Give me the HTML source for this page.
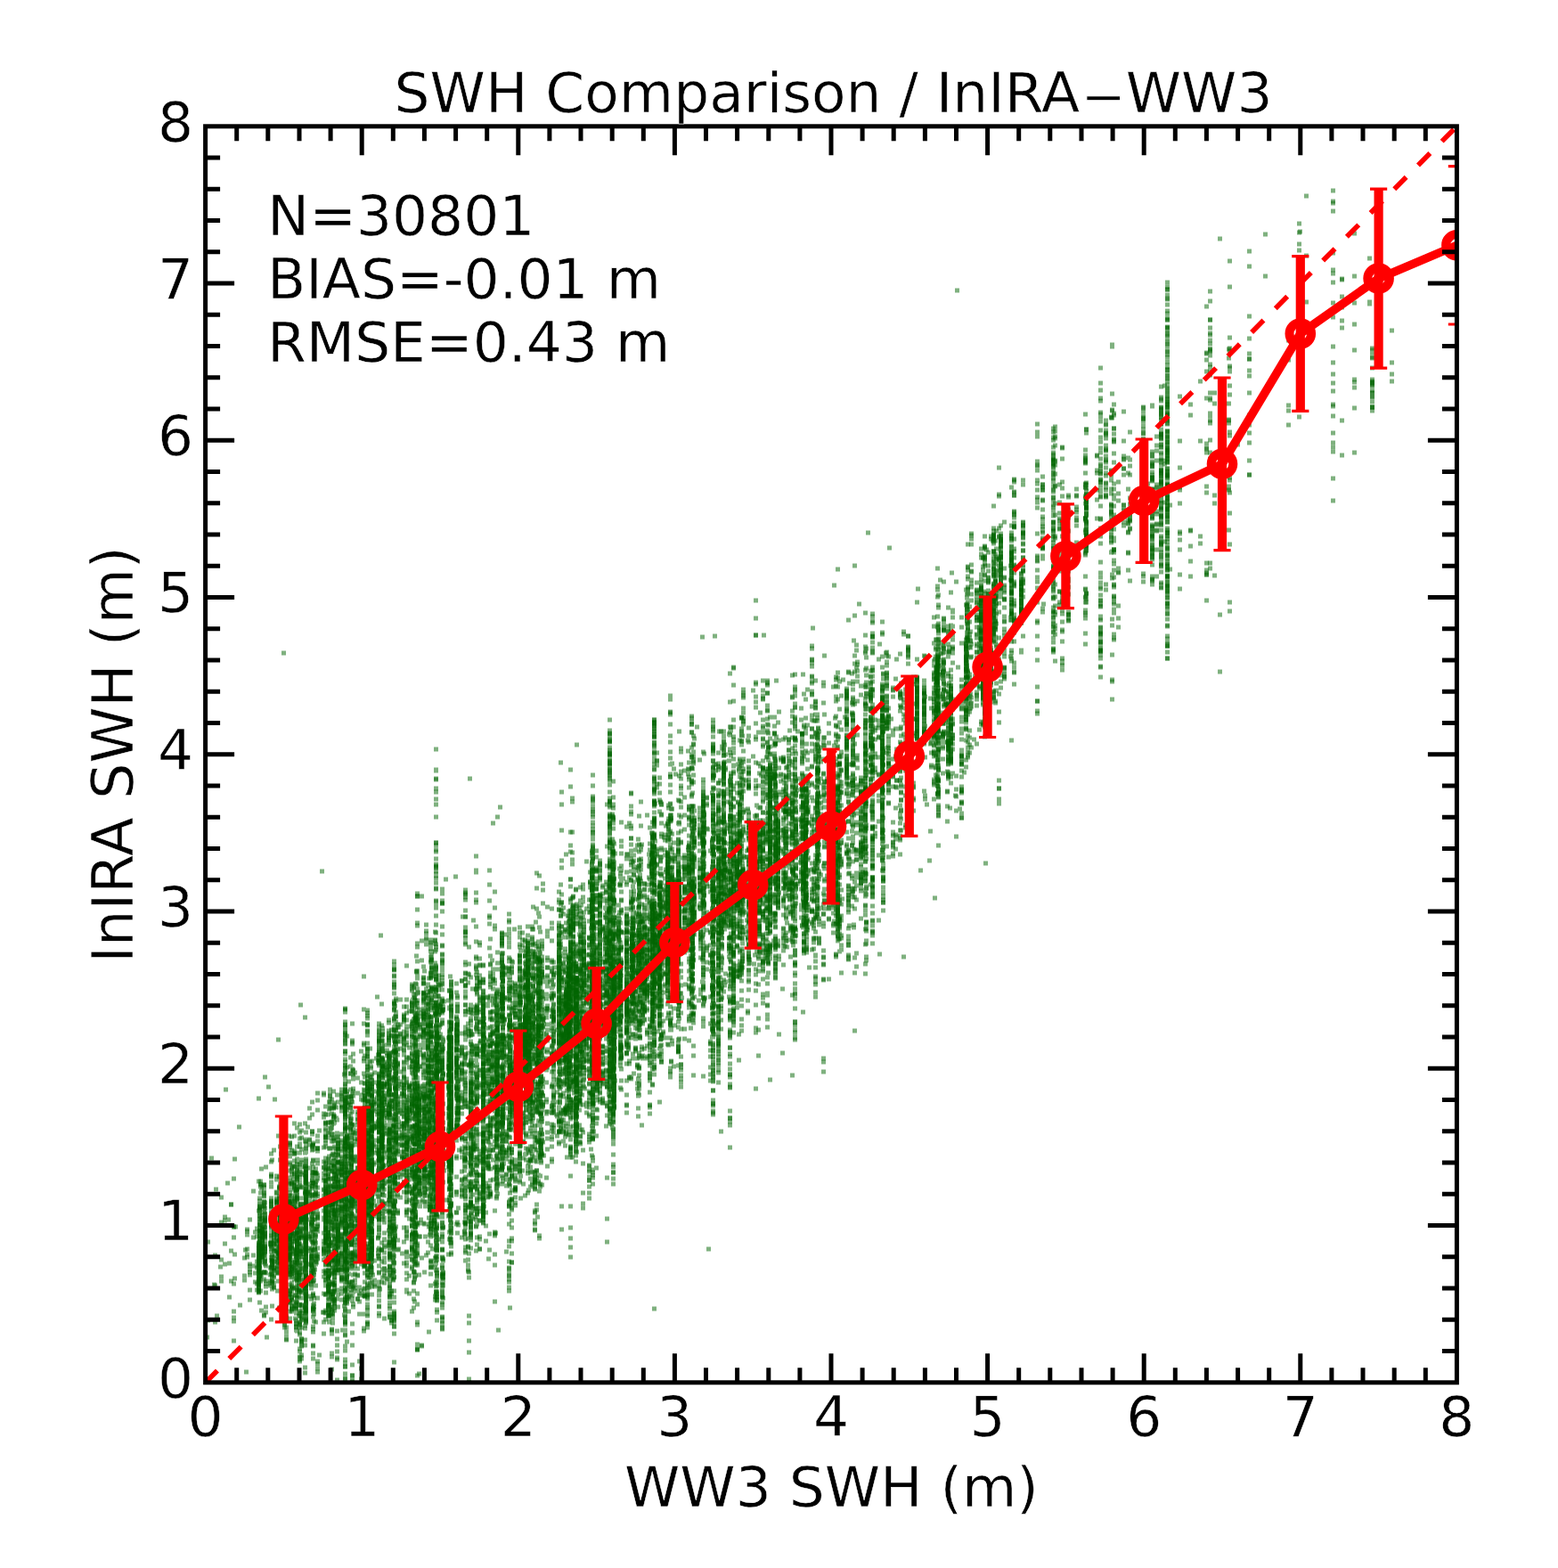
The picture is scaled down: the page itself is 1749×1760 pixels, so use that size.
<!DOCTYPE html><html><head><meta charset="utf-8"><title>SWH Comparison</title><style>html,body{margin:0;padding:0;background:#fff;overflow:hidden}svg{display:block}</style></head><body><svg xmlns="http://www.w3.org/2000/svg" width="1749" height="1760" viewBox="0 0 1749 1760"><defs><clipPath id="ax"><rect x="230.6" y="141.8" width="1404.8" height="1410"/></clipPath></defs><rect width="100%" height="100%" fill="#fff"/><g><g clip-path="url(#ax)"><g stroke="#006400" stroke-width="5" stroke-opacity="0.5" fill="none"><path d="M245 1422h5m5 -4h5m-5 38h5m0 -133h5m-5 54h5m-5 106h5m10 -101h5m-2 -13h5m-5 52h5m3 2h5m-5 18h5m-3 -208h5m-5 168h5m-5 6h5m-5 3h5m-5 12h5m-5 3h5m-5 2h5m-5 3h5m-5 3h5m-5 1h5m-5 5h5m-5 3h5m-5 6h5m-5 1h5m-4 -95h5m-5 1h5m-5 26h5m-5 9h5m-5 1h5m-5 15h5m-5 2h5m-5 7h5m-4 -2h5m-4 -12h5m-5 30h5m-4 -48h5m-5 1h5m-5 11h5m-5 1h5m-5 1h5m-5 8h5m-5 4h5m-3 -55h5m-5 0h5m-4 16h5m-5 17h5m-5 18h5m-5 14h5m1 4h5m-5 20h5m-4 -94h5m-5 13h5m-5 8h5m-5 1h5m-5 5h5m-5 20h5m-5 3h5m-5 6h5m-5 6h5m-5 16h5m-5 0h5m-4 -25h5m-5 41h5m-3 -66h5m-5 9h5m-5 6h5m-5 34h5m-5 1h5m-5 13h5m-4 -206h5m-3 111h5m-5 5h5m-5 12h5m-3 37h5m-5 5h5m-5 10h5m-4 -53h5m-5 14h5m-4 -16h5m-5 7h5m-5 8h5m-5 4h5m-5 5h5m-5 1h5m-5 8h5m-5 17h5m-5 2h5m-5 5h5m-1 -48h5m-5 11h5m-4 -69h5m-5 5h5m-5 2h5m-5 12h5m-5 5h5m-5 2h5m-5 2h5m-5 4h5m-5 8h5m-5 5h5m-5 2h5m-5 3h5m-5 4h5m-5 5h5m-5 2h5m-5 5h5m-5 2h5m-5 3h5m-5 5h5m-5 2h5m-5 16h5m-5 2h5m-5 1h5m-5 3h5m-5 4h5m-5 6h5m-5 2h5m-4 -43h5m-4 -32h5m-5 35h5m-5 3h5m-5 4h5m-5 4h5m-5 33h5m-5 2h5m-5 37h5m-5 4h5m-5 13h5m-2 -134h5m-5 8h5m-5 9h5m-5 22h5m-5 2h5m-5 17h5m-5 5h5m-5 51h5m-4 -177h5m-5 37h5m-5 38h5m-5 6h5m-5 4h5m-5 0h5m-5 2h5m-5 1h5m-5 2h5m-5 9h5m-5 17h5m-5 4h5m-5 47h5m-5 7h5m-3 -87h5m-5 12h5m-5 5h5m-5 5h5m-5 23h5m-5 1h5m-5 3h5m-5 35h5m-5 8h5m-5 3h5m-5 2h5m-3 -40h5m-4 -168h5m-5 34h5m-5 0h5m-5 8h5m-5 7h5m-5 114h5m-4 -22h5m-4 -63h5m-5 96h5m-5 51h5m-5 7h5m-4 -183h5m-5 27h5m-5 2h5m-5 1h5m-5 5h5m-5 1h5m-5 1h5m-5 14h5m-5 2h5m-5 8h5m-5 21h5m-5 8h5m-5 5h5m-5 23h5m-5 22h5m-5 44h5m-3 -105h5m-5 17h5m-5 30h5m-5 13h5m-4 -118h5m-5 1h5m-5 99h5m-5 86h5m-4 -165h5m-5 1h5m-5 4h5m-5 12h5m-5 36h5m-5 2h5m-4 -18h5m-5 62h5m-5 30h5m-5 25h5m-1 -212h5m-5 58h5m-5 4h5m-5 1h5m-5 9h5m-5 8h5m-5 21h5m-5 20h5m-5 0h5m-5 34h5m-5 55h5m-4 -212h5m-5 1h5m-5 8h5m-5 14h5m-5 4h5m-5 6h5m-5 2h5m-5 1h5m-5 10h5m-5 6h5m-5 1h5m-5 30h5m-5 3h5m-5 14h5m-5 4h5m-5 4h5m-5 5h5m-5 2h5m-5 15h5m-5 14h5m-5 1h5m-5 4h5m-5 11h5m-5 6h5m-5 4h5m-5 3h5m-5 4h5m-5 3h5m-5 2h5m-5 5h5m-3 -121h5m-3 -114h5m-3 132h5m-5 50h5m-5 8h5m-5 4h5m-5 20h5m-4 -152h5m-5 36h5m-5 68h5m-4 -125h5m-5 17h5m-5 26h5m-5 26h5m-5 9h5m-5 156h5m-4 -91h5m-5 9h5m-4 -121h5m-5 13h5m-4 51h5m-5 29h5m-5 75h5m-3 -209h5m-5 14h5m-5 13h5m-5 41h5m-5 23h5m-5 42h5m-5 120h5m1 -55h5m-4 -244h5m-5 96h5m-5 17h5m-5 42h5m-5 100h5m-3 -242h5m-5 9h5m-5 79h5m-5 11h5m-5 0h5m-5 1h5m-5 2h5m-5 6h5m-5 6h5m-5 3h5m-5 7h5m-5 2h5m-5 22h5m-5 4h5m-5 0h5m-5 12h5m-5 31h5m-2 -105h5m-5 11h5m-5 6h5m-5 12h5m-5 25h5m-5 9h5m-5 20h5m-5 11h5m-5 18h5m-5 8h5m-5 13h5m-5 5h5m-5 7h5m-4 -232h5m-5 53h5m-5 5h5m-5 0h5m-5 2h5m-5 7h5m-5 60h5m-5 40h5m-5 29h5m-5 17h5m-4 -198h5m-5 29h5m-5 55h5m-5 55h5m-5 13h5m-4 46h5m-4 -224h5m-5 39h5m-5 66h5m-5 26h5m-5 7h5m-5 7h5m-5 51h5m-5 89h5m-4 -216h5m-5 52h5m-5 84h5m-4 -214h5m-5 81h5m-5 34h5m-5 19h5m-4 -72h5m-5 35h5m-5 0h5m-5 10h5m-5 10h5m-5 17h5m-5 29h5m-5 38h5m-5 18h5m-5 3h5m-5 11h5m-4 -107h5m-4 -108h5m-5 82h5m-5 22h5m-5 63h5m-5 10h5m-4 6h5m-4 -139h5m-5 2h5m-5 8h5m-5 8h5m-5 0h5m-5 7h5m-5 12h5m-5 8h5m-5 2h5m-5 5h5m-5 1h5m-5 15h5m-5 20h5m-5 4h5m-5 10h5m-5 3h5m-5 0h5m-5 2h5m-5 0h5m-5 5h5m-5 14h5m-5 5h5m-1 -145h5m-5 31h5m-5 5h5m-5 2h5m-5 26h5m-5 3h5m-5 8h5m-5 10h5m-5 3h5m-5 2h5m-5 5h5m-5 17h5m-5 6h5m-5 16h5m-5 13h5m-5 16h5m-2 -230h5m-5 97h5m-4 -123h5m-5 36h5m-5 12h5m-5 15h5m-5 4h5m-5 7h5m-5 24h5m-5 21h5m-5 1h5m-5 1h5m-5 55h5m-5 3h5m-5 2h5m-5 3h5m-5 6h5m-5 9h5m-5 25h5m-5 31h5m-5 13h5m-5 2h5m-5 8h5m-5 26h5m-5 50h5m-5 18h5m-4 -213h5m-5 7h5m-5 19h5m-5 40h5m-5 25h5m-4 -267h5m-5 65h5m-5 38h5m-5 0h5m-5 50h5m-5 13h5m-5 0h5m-5 25h5m-5 8h5m-5 42h5m-5 1h5m-5 12h5m-5 15h5m-5 1h5m-4 -144h5m-5 34h5m-5 69h5m-5 66h5m-4 -173h5m-5 43h5m-5 5h5m-5 31h5m-5 43h5m-3 -210h5m-5 34h5m-5 27h5m-5 8h5m-5 29h5m-5 8h5m-5 65h5m-5 29h5m-4 -134h5m-5 30h5m-5 0h5m-5 15h5m-5 14h5m-5 40h5m-5 20h5m-5 29h5m-5 40h5m-4 -279h5m-5 28h5m-5 37h5m-5 49h5m-5 51h5m-5 9h5m-5 48h5m-5 60h5m-5 97h5m-4 -329h5m-5 224h5m-5 4h5m-5 17h5m-3 -152h5m-5 12h5m-5 13h5m-5 2h5m-5 35h5m-5 20h5m-5 12h5m-5 21h5m-2 -179h5m-5 60h5m-5 113h5m-3 -138h5m-5 48h5m-5 4h5m-5 0h5m-5 21h5m-5 1h5m-5 13h5m-3 -158h5m-5 85h5m-5 30h5m-5 119h5m-3 -104h5m-5 10h5m-5 1h5m-5 0h5m-5 11h5m-5 3h5m-5 1h5m-4 -86h5m-4 -61h5m-5 6h5m-5 4h5m-5 7h5m-5 38h5m-5 9h5m-5 6h5m-5 41h5m-5 37h5m-5 7h5m-5 29h5m-2 -268h5m-5 11h5m-5 27h5m-5 8h5m-5 8h5m-5 30h5m-5 29h5m-5 46h5m-5 8h5m-5 0h5m-5 7h5m-5 8h5m-5 10h5m-5 2h5m-5 4h5m-5 105h5m-5 10h5m-5 31h5m-4 -258h5m-5 18h5m-5 8h5m-5 17h5m-5 10h5m-5 10h5m-5 4h5m-5 2h5m-5 28h5m-5 3h5m-5 13h5m-5 9h5m-5 8h5m-5 33h5m-4 -147h5m-5 158h5m-4 -171h5m-5 167h5m-5 2h5m-5 23h5m-4 -145h5m-5 7h5m-5 7h5m-5 21h5m-5 0h5m-5 8h5m-5 14h5m-5 12h5m-5 10h5m-5 15h5m-5 9h5m-5 11h5m-5 18h5m-5 15h5m-4 -211h5m-5 1h5m-5 4h5m-5 24h5m-5 12h5m-5 5h5m-5 7h5m-5 2h5m-5 8h5m-5 4h5m-5 4h5m-5 10h5m-5 9h5m-5 2h5m-5 0h5m-5 1h5m-5 8h5m-5 5h5m-5 3h5m-5 3h5m-5 6h5m-5 4h5m-5 2h5m-5 0h5m-5 24h5m-5 6h5m-5 2h5m-5 18h5m-5 13h5m-5 5h5m-5 4h5m-5 20h5m-5 11h5m-5 5h5m-5 9h5m-3 -173h5m-4 -76h5m-5 158h5m-2 -111h5m-4 -61h5m-5 29h5m-5 76h5m-5 41h5m-5 7h5m-4 -185h5m-5 25h5m-5 13h5m-5 10h5m-5 9h5m-5 14h5m-5 28h5m-5 4h5m-5 4h5m-5 32h5m-5 7h5m-5 18h5m-5 27h5m-5 14h5m-5 12h5m-5 26h5m-5 12h5m-3 -363h5m-4 101h5m-5 12h5m-5 24h5m-5 16h5m-5 46h5m-5 3h5m-5 4h5m-5 1h5m-5 4h5m-5 2h5m-5 0h5m-5 6h5m-5 9h5m-5 6h5m-5 1h5m-5 15h5m-5 28h5m-5 4h5m-4 -153h5m-5 1h5m-5 19h5m-5 11h5m-5 23h5m-5 41h5m-5 50h5m-5 2h5m-5 5h5m-5 22h5m-5 16h5m-4 -60h5m-4 20h5m-5 151h5m-2 -279h5m-5 3h5m-5 2h5m-5 11h5m-5 3h5m-5 34h5m-5 181h5m-3 -238h5m-5 7h5m-5 14h5m-5 29h5m-5 4h5m-5 66h5m-5 43h5m-5 21h5m-4 -186h5m-5 63h5m-5 9h5m-5 5h5m-5 1h5m-5 10h5m-5 8h5m-5 26h5m-5 2h5m-5 18h5m-5 7h5m-5 4h5m-5 24h5m-5 3h5m-5 23h5m-5 10h5m-5 21h5m-5 5h5m-5 4h5m-5 8h5m-5 10h5m-5 19h5m-3 -313h5m-5 67h5m-5 13h5m-5 141h5m-5 52h5m-3 -172h5m-5 25h5m-5 15h5m-5 25h5m-5 66h5m-5 1h5m-5 20h5m-4 -326h5m-5 13h5m-5 25h5m-5 31h5m-5 1h5m-5 4h5m-5 99h5m-5 34h5m-5 58h5m-5 19h5m-5 3h5m-5 2h5m-5 17h5m-5 23h5m-5 56h5m-5 4h5m-4 -299h5m-5 13h5m-5 14h5m-5 3h5m-5 13h5m-5 13h5m-5 66h5m-5 5h5m-5 43h5m-5 38h5m-4 -266h5m-5 43h5m-5 5h5m-5 13h5m-5 8h5m-5 13h5m-5 8h5m-5 2h5m-5 16h5m-5 18h5m-5 32h5m-5 4h5m-3 -114h5m-5 15h5m-5 49h5m-5 6h5m-5 9h5m-5 44h5m-5 14h5m-5 37h5m-5 19h5m-2 -201h5m-5 16h5m-5 70h5m-5 97h5m-3 -117h5m-5 23h5m-5 25h5m-5 23h5m-3 -80h5m-5 33h5m-5 2h5m-5 17h5m-5 0h5m-2 -133h5m-5 78h5m-5 16h5m-5 13h5m-5 14h5m-5 32h5m-5 59h5m-4 -79h5m-5 10h5m-5 50h5m-3 -45h5m-5 52h5m-2 -232h5m-5 30h5m-5 26h5m-5 55h5m-5 23h5m-5 8h5m-5 20h5m-5 30h5m-5 16h5m-5 48h5m-5 53h5m-5 8h5m-4 -273h5m-5 42h5m-5 7h5m-5 67h5m-5 17h5m-5 38h5m-5 25h5m-4 -132h5m-5 214h5m-5 31h5m-5 10h5m-4 -331h5m-5 50h5m-5 0h5m-5 3h5m-5 42h5m-5 47h5m-5 5h5m-5 7h5m-5 11h5m-5 12h5m-5 7h5m-5 10h5m-5 4h5m-5 7h5m-5 15h5m-5 40h5m-5 39h5m-4 -306h5m-5 12h5m-5 3h5m-5 3h5m-5 11h5m-5 9h5m-5 14h5m-5 1h5m-5 41h5m-5 2h5m-5 78h5m-5 25h5m-5 3h5m-5 14h5m-5 8h5m-5 30h5m-4 -311h5m-5 64h5m-5 7h5m-5 51h5m-5 14h5m-5 60h5m-4 -248h5m-5 18h5m-5 20h5m-5 67h5m-5 84h5m-5 33h5m-5 20h5m-5 8h5m-5 27h5m-5 41h5m-5 0h5m-5 34h5m-5 23h5m-3 -160h5m-5 2h5m-5 11h5m-5 6h5m-5 4h5m-5 1h5m-5 1h5m-5 3h5m-5 26h5m-5 23h5m-5 1h5m-5 11h5m-5 6h5m-5 6h5m-4 -200h5m-5 16h5m-5 117h5m-5 4h5m-5 31h5m-5 49h5m-1 -250h5m-5 11h5m-5 26h5m-5 2h5m-5 67h5m-5 17h5m-5 63h5m-5 35h5m-5 5h5m-4 -98h5m-5 13h5m-5 6h5m-5 16h5m-5 7h5m-5 34h5m-5 8h5m-5 4h5m-5 5h5m-5 7h5m-3 -294h5m-5 22h5m-5 96h5m-3 -17h5m-5 0h5m-5 5h5m-5 5h5m-5 3h5m-5 4h5m-5 3h5m-5 1h5m-5 16h5m-5 42h5m-5 31h5m-5 68h5m-4 -190h5m-5 14h5m-5 90h5m-4 -17h5m-5 10h5m-5 41h5m-5 1h5m-5 6h5m-5 3h5m-5 15h5m-5 52h5m-5 9h5m-4 -291h5m-5 5h5m-5 9h5m-5 4h5m-5 19h5m-5 31h5m-5 1h5m-5 41h5m-5 28h5m-5 77h5m-5 26h5m-5 21h5m-5 33h5m-5 18h5m-5 3h5m-5 11h5m-5 1h5m-4 -302h5m-5 34h5m-5 40h5m-5 2h5m-5 10h5m-5 7h5m-5 4h5m-5 29h5m-5 23h5m-5 3h5m-5 36h5m-5 148h5m-4 -210h5m-5 134h5m-5 56h5m-4 -213h5m-4 16h5m-5 19h5m-5 54h5m-5 7h5m-5 23h5m-5 10h5m-5 4h5m-5 13h5m-4 -244h5m-5 28h5m-5 61h5m-5 53h5m-5 56h5m-5 17h5m-5 39h5m-4 -381h5m-5 8h5m-5 19h5m-5 75h5m-5 45h5m-5 27h5m-5 39h5m-5 14h5m-5 4h5m-5 14h5m-5 12h5m-5 15h5m-5 6h5m-5 27h5m-5 15h5m-5 25h5m-5 4h5m-5 16h5m-5 14h5m-5 42h5m-4 -251h5m-5 11h5m-5 18h5m-5 9h5m-5 30h5m-5 3h5m-5 24h5m-5 29h5m-5 16h5m-5 31h5m-5 3h5m-5 16h5m-5 1h5m-5 49h5m-5 4h5m-5 21h5m-5 30h5m-5 5h5m-5 22h5m-4 -338h5m-5 11h5m-5 2h5m-5 54h5m-5 68h5m-5 10h5m-5 9h5m-5 1h5m-5 27h5m-5 8h5m-5 15h5m-5 24h5m-4 -242h5m-5 60h5m-5 60h5m-4 39h5m-5 41h5m-4 -124h5m-5 15h5m-5 143h5m-3 -328h5m-5 2h5m-5 91h5m-5 20h5m-5 6h5m-5 51h5m-5 17h5m-5 1h5m-5 30h5m-5 17h5m-5 5h5m-5 5h5m-5 5h5m-5 3h5m-5 29h5m-5 1h5m-5 6h5m-5 103h5m-5 8h5m-5 1h5m-5 1h5m-5 19h5m-5 24h5m-5 29h5m-4 -355h5m-5 159h5m-5 144h5m-5 9h5m-5 1h5m1 -236h5m-5 8h5m-5 3h5m-5 84h5m-4 -190h5m-5 54h5m-5 1h5m-5 11h5m-5 5h5m-5 3h5m-5 11h5m-5 4h5m-5 4h5m-5 0h5m-5 15h5m-5 3h5m-5 15h5m-5 1h5m-5 1h5m-5 16h5m-5 26h5m-5 14h5m-5 6h5m-5 6h5m-5 4h5m-5 1h5m-5 20h5m-5 31h5m-5 27h5m-4 -295h5m-5 60h5m-5 23h5m-5 15h5m-5 73h5m-5 35h5m-5 22h5m-5 30h5m-5 9h5m-4 -236h5m-5 7h5m-5 14h5m-5 7h5m-5 17h5m-5 3h5m-5 21h5m-5 3h5m-5 7h5m-5 3h5m-5 19h5m-5 8h5m-5 5h5m-5 5h5m-5 5h5m-5 8h5m-5 4h5m-5 20h5m-5 10h5m-5 29h5m-5 13h5m-5 16h5m-5 2h5m-5 53h5m1 -262h5m-5 12h5m-5 4h5m-5 28h5m-5 7h5m-5 24h5m-5 30h5m-5 16h5m-4 -147h5m-5 13h5m-5 4h5m-5 10h5m-5 3h5m-5 4h5m-5 4h5m-5 66h5m-5 27h5m-4 -64h5m-5 16h5m-5 19h5m-5 12h5m-5 124h5m-1 -161h5m-5 98h5m-5 38h5m-5 1h5m-5 4h5m-2 -67h5m-5 54h5m-5 10h5m-5 49h5m-5 4h5m-4 -382h5m-5 6h5m-5 96h5m-5 109h5m-5 127h5m-5 17h5m-5 6h5m-5 8h5m-2 -240h5m-5 156h5m-5 138h5m-4 -270h5m-5 114h5m-5 4h5m-5 277h5m-3 -401h5m-5 11h5m-5 53h5m-5 10h5m-5 10h5m-5 0h5m-5 2h5m-5 8h5m-5 1h5m-5 5h5m-5 5h5m-5 15h5m-5 37h5m-5 2h5m-5 19h5m-5 17h5m-5 5h5m-5 3h5m-4 -174h5m-5 40h5m-5 1h5m-5 24h5m-5 49h5m-4 -70h5m-5 29h5m-5 17h5m-5 1h5m-5 43h5m-4 -58h5m-5 28h5m-5 5h5m-3 -39h5m-5 49h5m-5 33h5m-4 -258h5m-5 69h5m-5 34h5m-5 139h5m-5 88h5m-4 -306h5m-5 42h5m-5 0h5m-5 14h5m-5 29h5m-5 35h5m-5 17h5m-5 26h5m-5 75h5m-5 3h5m-5 17h5m-5 7h5m-2 -305h5m-5 25h5m-5 43h5m-5 18h5m-5 72h5m-5 42h5m-5 40h5m-5 2h5m-5 88h5m-5 14h5m-4 -234h5m-5 53h5m-2 -101h5m-5 13h5m-5 4h5m-5 7h5m-5 2h5m-5 20h5m-5 1h5m-5 7h5m-5 0h5m-5 10h5m-5 6h5m-5 4h5m-5 6h5m-5 2h5m-5 2h5m-5 1h5m-5 6h5m-5 1h5m-5 15h5m-5 8h5m-5 6h5m-5 31h5m-5 1h5m-5 1h5m-5 2h5m-5 2h5m-5 3h5m-5 3h5m-5 22h5m-5 6h5m-5 19h5m-5 4h5m-5 1h5m-5 6h5m-5 5h5m-5 6h5m-5 7h5m-5 5h5m-4 -201h5m-5 14h5m-5 37h5m-5 0h5m-5 133h5m-1 -228h5m-5 65h5m-5 16h5m-5 63h5m-5 0h5m-5 13h5m-5 21h5m-4 -109h5m-5 93h5m-5 16h5m-4 -261h5m-4 36h5m-5 23h5m-5 69h5m-5 9h5m-5 87h5m-5 51h5m-5 29h5m-5 2h5m-3 -157h5m-5 24h5m-5 8h5m-5 8h5m-4 -128h5m-5 0h5m-5 162h5m-3 -241h5m-5 243h5m-5 49h5m-3 -166h5m-5 12h5m-5 26h5m-5 2h5m-5 53h5m-5 21h5m-5 46h5m-5 4h5m-5 0h5m-5 13h5m-5 0h5m-5 1h5m-4 -242h5m-5 73h5m-5 0h5m-5 3h5m-5 5h5m-5 0h5m-5 2h5m-5 8h5m-5 12h5m-5 3h5m-5 22h5m-5 3h5m-5 2h5m-5 4h5m-5 12h5m-5 12h5m-5 4h5m-5 2h5m-5 2h5m-5 3h5m-5 2h5m-5 14h5m-5 33h5m-5 22h5m-5 3h5m0 -274h5m-5 27h5m-5 0h5m-5 5h5m-5 10h5m-5 0h5m-5 18h5m-5 4h5m-5 1h5m-5 5h5m-5 6h5m-5 12h5m-5 90h5m-5 28h5m-5 22h5m-5 9h5m-5 6h5m-5 12h5m-4 -219h5m-5 1h5m-5 1h5m-5 10h5m-5 0h5m-5 14h5m-5 5h5m-5 12h5m-5 33h5m-5 32h5m-5 9h5m-5 0h5m-5 22h5m-5 17h5m-5 6h5m-5 6h5m-5 30h5m-4 -89h5m-4 -104h5m-3 81h5m-5 116h5m-5 114h5m-4 -131h5m-3 -239h5m-5 40h5m-5 144h5m-4 -55h5m-5 15h5m-5 20h5m-5 19h5m-5 20h5m-5 13h5m-5 217h5m-4 -303h5m-5 50h5m-4 -78h5m-5 64h5m-5 10h5m-5 1h5m-5 12h5m-5 14h5m-5 56h5m-5 11h5m-5 5h5m-5 9h5m-5 3h5m-5 85h5m-1 -301h5m-5 11h5m-5 4h5m-5 2h5m-5 64h5m-5 75h5m-5 73h5m-5 9h5m0 -297h5m-5 97h5m-5 12h5m-5 8h5m-5 12h5m-5 30h5m-5 29h5m-5 14h5m-5 32h5m-5 14h5m-5 21h5m-4 -191h5m-5 11h5m-5 31h5m-5 19h5m-5 4h5m-5 6h5m-5 27h5m-5 63h5m-5 34h5m-3 -211h5m-4 52h5m-5 50h5m-5 44h5m-5 6h5m-5 21h5m-5 18h5m-3 -227h5m-5 18h5m-5 42h5m-5 6h5m-5 1h5m-5 3h5m-5 4h5m-5 7h5m-5 4h5m-5 4h5m-5 1h5m-5 3h5m-5 4h5m-5 2h5m-5 2h5m-5 10h5m-5 4h5m-5 7h5m-5 3h5m-5 98h5m-4 -228h5m-5 22h5m-5 15h5m-5 36h5m-5 16h5m-5 5h5m-5 4h5m-5 4h5m-5 17h5m-5 48h5m-5 25h5m-5 35h5m-3 -255h5m-5 25h5m-5 23h5m-5 1h5m-5 14h5m-5 4h5m-5 11h5m-5 4h5m-5 13h5m-5 1h5m-5 154h5m-5 49h5m-4 -245h5m-5 0h5m-5 56h5m-5 15h5m-5 7h5m-5 6h5m-5 6h5m-5 4h5m-5 0h5m-5 1h5m-5 36h5m-5 0h5m-5 1h5m-4 -91h5m-5 5h5m-5 105h5m-4 -109h5m-5 40h5m-5 27h5m-5 34h5m-5 13h5m-3 -210h5m-5 58h5m-5 58h5m-5 18h5m-5 31h5m-5 93h5m-4 -238h5m-5 47h5m-5 30h5m-5 21h5m-5 11h5m-5 41h5m-5 28h5m-5 12h5m-4 -163h5m-5 28h5m-4 -41h5m-5 3h5m-5 2h5m-5 123h5m-5 62h5m-5 64h5m-5 7h5m-5 24h5m-5 1h5m-5 21h5m-3 -384h5m-5 23h5m-5 42h5m-5 82h5m-5 80h5m-5 67h5m-5 13h5m-5 48h5m-4 -135h5m-5 8h5m-5 1h5m-5 9h5m-5 12h5m-4 -168h5m-5 18h5m-5 1h5m-5 0h5m-5 9h5m-5 8h5m-5 35h5m-5 5h5m-5 0h5m-5 1h5m-5 2h5m-5 2h5m-5 5h5m-5 1h5m-5 1h5m-5 4h5m-5 13h5m-5 7h5m-5 7h5m-5 25h5m-5 8h5m-5 27h5m-5 68h5m-4 -184h5m-4 -62h5m-5 23h5m-5 17h5m-5 71h5m-5 45h5m-5 15h5m-5 37h5m-5 1h5m-5 9h5m-4 -130h5m-5 2h5m-5 2h5m-5 42h5m-5 54h5m-5 12h5m-5 3h5m-4 -218h5m-5 9h5m-5 19h5m-5 0h5m-5 4h5m-5 54h5m-5 108h5m-5 38h5m-5 33h5m-4 -331h5m-5 212h5m-5 19h5m-1 -95h5m-5 2h5m-4 -119h5m-5 79h5m-5 71h5m-5 80h5m-5 13h5m0 -219h5m-5 58h5m-5 76h5m-5 8h5m-5 78h5m-3 -144h5m-5 18h5m-5 6h5m-5 19h5m-5 27h5m-5 6h5m-5 2h5m-5 36h5m-5 11h5m-5 2h5m-1 -28h5m-3 -176h5m-5 1h5m-5 7h5m-5 11h5m-5 9h5m-5 17h5m-5 15h5m-5 8h5m-5 0h5m-5 1h5m-5 22h5m-5 2h5m-5 15h5m-5 1h5m-5 3h5m-5 7h5m-5 5h5m-5 5h5m-5 1h5m-5 89h5m-5 3h5m-5 19h5m-4 -225h5m-5 125h5m-5 20h5m-5 11h5m-5 9h5m-5 7h5m-5 8h5m-5 33h5m-4 -211h5m-5 1h5m-5 10h5m-5 3h5m-5 47h5m-5 6h5m-5 80h5m-5 54h5m-5 1h5m-5 0h5m-4 -221h5m-5 6h5m-5 90h5m-5 3h5m-5 7h5m-5 3h5m-5 15h5m-5 3h5m-5 9h5m-3 -157h5m-5 27h5m-5 36h5m-5 18h5m-5 30h5m-5 6h5m-5 24h5m-5 4h5m-5 5h5m-5 5h5m-5 9h5m-5 74h5m-3 -165h5m-5 46h5m-5 107h5m-4 -209h5m-5 79h5m-5 2h5m-5 3h5m-5 4h5m-5 4h5m-5 1h5m-5 9h5m-5 12h5m-5 1h5m-5 7h5m-5 1h5m-5 7h5m-5 22h5m-5 55h5m-5 30h5m-4 -162h5m-5 38h5m-5 4h5m-5 12h5m-5 17h5m-5 9h5m-5 5h5m-5 8h5m-5 9h5m-5 3h5m-5 31h5m-4 -152h5m-5 21h5m-5 20h5m-5 27h5m-5 0h5m-5 16h5m-5 82h5m-4 -173h5m-5 2h5m-5 3h5m-5 2h5m-5 11h5m-5 2h5m-5 5h5m-5 1h5m-5 6h5m-5 2h5m-5 4h5m-5 0h5m-5 7h5m-5 1h5m-5 1h5m-5 15h5m-5 3h5m-5 8h5m-5 7h5m-5 2h5m-5 2h5m-5 19h5m-5 0h5m-5 6h5m-5 8h5m-5 15h5m-4 -115h5m-5 46h5m-4 -156h5m-5 16h5m-5 2h5m-5 9h5m-5 18h5m-5 3h5m-5 24h5m-5 6h5m-5 6h5m-5 15h5m-5 4h5m-5 5h5m-5 3h5m-5 7h5m-5 11h5m-5 21h5m-5 14h5m-5 24h5m-5 66h5m-5 25h5m-5 15h5m-3 -332h5m-5 64h5m-5 94h5m-5 40h5m-5 9h5m-5 110h5m-4 -252h5m-5 6h5m-5 5h5m-5 11h5m-5 1h5m-5 37h5m-5 3h5m-5 16h5m-5 8h5m-5 21h5m-5 3h5m-5 52h5m-5 79h5m-4 -184h5m-5 30h5m-5 3h5m-5 42h5m-5 30h5m-5 56h5m-5 3h5m-3 -159h5m-5 1h5m-5 3h5m-5 9h5m-5 6h5m-5 7h5m-5 9h5m-5 3h5m-5 2h5m-5 4h5m-5 5h5m-5 24h5m-5 11h5m-5 6h5m-5 11h5m-5 12h5m-5 5h5m-5 6h5m-5 5h5m-5 19h5m-5 17h5m-5 2h5m-5 18h5m-5 4h5m-5 4h5m-5 3h5m-5 0h5m-4 -176h5m-5 9h5m-5 10h5m-5 18h5m-5 11h5m-5 1h5m-5 8h5m-5 10h5m-5 1h5m-5 15h5m-5 8h5m-5 7h5m-5 14h5m-5 8h5m-4 -56h5m-3 -102h5m-5 33h5m-5 3h5m-5 44h5m-5 43h5m-5 9h5m-5 33h5m-4 -197h5m-5 18h5m-5 4h5m-5 0h5m-5 36h5m-5 13h5m-5 10h5m-5 44h5m-5 4h5m-5 14h5m-5 1h5m-5 22h5m-5 21h5m-5 5h5m-5 13h5m-5 28h5m-3 -176h5m-5 10h5m-5 33h5m-5 13h5m-5 21h5m-5 11h5m-5 5h5m-4 -132h5m-5 303h5m-4 -319h5m-5 3h5m-5 37h5m-5 6h5m-5 10h5m-5 5h5m-5 15h5m-5 53h5m-5 26h5m-5 13h5m-5 7h5m-4 10h5m-3 -150h5m-5 93h5m-5 84h5m-2 -185h5m-5 17h5m-5 10h5m-5 4h5m-5 38h5m-5 12h5m-5 20h5m-5 27h5m-5 11h5m-5 24h5m-4 -237h5m-5 156h5m-3 -175h5m-5 15h5m-5 7h5m-5 20h5m-5 53h5m-5 29h5m-5 13h5m-5 1h5m-5 12h5m-5 2h5m-5 3h5m-5 3h5m-5 16h5m-5 6h5m-5 18h5m-5 5h5m-5 2h5m-5 9h5m-5 11h5m-4 -300h5m-5 9h5m-5 43h5m-5 16h5m-5 3h5m-5 8h5m-5 17h5m-5 38h5m-5 20h5m-5 34h5m-5 2h5m-5 3h5m-5 16h5m-5 4h5m-5 11h5m-5 7h5m-5 3h5m-5 28h5m-5 11h5m-5 2h5m-5 1h5m-5 1h5m-5 53h5m-5 2h5m-5 24h5m-5 3h5m-5 20h5m-5 2h5m-5 1h5m-4 -238h5m-5 39h5m-5 1h5m-5 4h5m-5 16h5m-5 6h5m-5 18h5m-5 98h5m-2 -214h5m-5 28h5m-5 42h5m-5 6h5m-5 53h5m-5 138h5m-4 -183h5m-5 7h5m-5 7h5m-5 9h5m-5 13h5m-5 14h5m-5 3h5m-5 1h5m-5 3h5m-5 3h5m-5 13h5m-5 11h5m-5 2h5m-5 2h5m-5 20h5m-5 2h5m-5 5h5m-5 7h5m-5 2h5m-5 30h5m-2 -269h5m-5 11h5m-5 35h5m-5 21h5m-5 5h5m-5 4h5m-5 2h5m-5 5h5m-5 19h5m-5 1h5m-5 8h5m-5 20h5m-5 0h5m-5 2h5m-5 1h5m-5 9h5m-5 6h5m-5 7h5m-4 -5h5m-5 9h5m-5 6h5m-3 -100h5m-5 45h5m-5 28h5m-5 58h5m-5 11h5m-5 9h5m-5 22h5m-5 17h5m-2 -168h5m-5 0h5m-4 30h5m-4 -86h5m-5 62h5m-5 8h5m-5 26h5m-5 8h5m-5 4h5m-5 9h5m-5 7h5m-5 81h5m-5 154h5m-3 -373h5m-5 59h5m-5 79h5m-5 69h5m-4 -353h5m-5 4h5m-5 63h5m-5 71h5m-5 17h5m-5 5h5m-5 13h5m-5 24h5m-5 1h5m-5 3h5m-5 9h5m-5 17h5m-5 23h5m-5 22h5m-5 4h5m-5 0h5m-5 67h5m-5 2h5m-5 14h5m-4 -212h5m-5 24h5m-5 47h5m-5 15h5m-5 42h5m-5 14h5m-5 10h5m-5 6h5m-5 2h5m-5 16h5m-5 24h5m-5 30h5m-5 11h5m-4 -254h5m-5 113h5m-5 23h5m-5 12h5m-5 14h5m-5 105h5m-4 -336h5m-5 2h5m-5 73h5m-5 18h5m-5 59h5m-5 69h5m-5 61h5m-5 70h5m-4 -371h5m-5 50h5m-5 12h5m-5 1h5m-5 20h5m-5 2h5m-5 15h5m-5 4h5m-5 31h5m-5 9h5m-5 73h5m-5 20h5m-5 4h5m-5 21h5m-5 9h5m-5 34h5m-5 3h5m-5 3h5m-5 30h5m-5 11h5m-5 6h5m-5 14h5m-5 29h5m-4 -285h5m-5 19h5m-5 19h5m-5 20h5m-5 10h5m-5 1h5m-5 15h5m-5 13h5m-5 4h5m-5 7h5m-5 14h5m-5 1h5m-5 9h5m-5 7h5m-5 6h5m-5 12h5m-5 16h5m-5 3h5m-5 0h5m-5 22h5m-5 26h5m-5 8h5m0 -202h5m-5 23h5m-5 34h5m-5 4h5m-5 3h5m-5 4h5m-5 18h5m-4 -83h5m-4 -8h5m-5 64h5m-5 1h5m-5 5h5m-5 0h5m-5 1h5m-5 27h5m-5 28h5m-5 8h5m-5 26h5m-4 -252h5m-5 119h5m-5 32h5m-5 80h5m-5 11h5m1 -150h5m-5 10h5m-5 10h5m-5 10h5m-5 2h5m-5 6h5m-5 8h5m-5 2h5m-5 27h5m-5 2h5m-5 3h5m-5 1h5m-5 2h5m-5 0h5m-5 1h5m-5 13h5m-5 4h5m-5 16h5m-5 5h5m-4 -81h5m-5 48h5m-5 12h5m-5 4h5m-3 69h5m-3 -246h5m-5 48h5m-5 83h5m-5 31h5m-5 9h5m-5 74h5m-4 -153h5m-5 2h5m-5 7h5m-5 1h5m-5 1h5m-5 1h5m-5 4h5m-5 1h5m-5 16h5m-4 -80h5m-5 27h5m-5 14h5m-5 9h5m-5 7h5m-5 4h5m-5 0h5m-5 1h5m-5 3h5m-5 24h5m-5 1h5m-5 37h5m-5 10h5m-4 -43h5m-5 102h5m-3 -92h5m-5 14h5m-5 17h5m-3 -135h5m-5 25h5m-5 108h5m-4 -109h5m-5 39h5m-5 5h5m-5 8h5m-5 6h5m-4 -101h5m-5 1h5m-5 7h5m-5 1h5m-5 7h5m-5 28h5m-5 16h5m-5 2h5m-5 19h5m-5 7h5m-5 8h5m-5 9h5m-5 40h5m-5 7h5m-5 11h5m-5 29h5m-4 -135h5m-5 71h5m-5 27h5m-4 -156h5m-5 45h5m-5 114h5m-4 -52h5m-4 -34h5m-5 4h5m-5 2h5m-5 11h5m-5 16h5m-5 34h5m-5 1h5m-5 9h5m-3 -104h5m-5 5h5m-5 4h5m-5 32h5m-5 18h5m-5 5h5m-5 35h5m-4 -43h5m-5 21h5m-3 -46h5m-5 7h5m-5 41h5m-5 46h5m-5 1h5m-5 13h5m-3 -144h5m-5 45h5m-5 30h5m-4 -176h5m-5 35h5m-5 23h5m-5 24h5m-5 20h5m-5 18h5m-5 8h5m-5 34h5m-5 21h5m-5 84h5m-5 14h5m-5 31h5m-3 -281h5m-5 7h5m-5 3h5m-5 68h5m-5 1h5m-5 109h5m-4 -213h5m-5 0h5m-5 1h5m-5 22h5m-5 2h5m-5 1h5m-5 1h5m-5 1h5m-5 18h5m-5 11h5m-5 23h5m-5 6h5m-5 3h5m-5 8h5m-5 2h5m-5 9h5m-5 15h5m-5 8h5m-5 6h5m-5 20h5m-5 3h5m-5 9h5m-5 32h5m-5 8h5m-5 8h5m-5 24h5m-3 -342h5m-5 10h5m-5 30h5m-5 15h5m-5 11h5m-5 24h5m-5 1h5m-5 2h5m-5 36h5m-5 5h5m-5 3h5m-5 3h5m-5 44h5m-5 3h5m-5 2h5m-5 27h5m-5 24h5m-5 9h5m-5 5h5m-5 21h5m-5 13h5m-5 16h5m-5 23h5m-5 12h5m-5 33h5m-4 -304h5m-5 149h5m-5 4h5m-5 2h5m-5 7h5m-5 19h5m-5 10h5m-5 6h5m-5 17h5m-5 1h5m-3 -156h5m-5 19h5m-5 146h5m-2 -132h5m-5 18h5m-5 2h5m-5 18h5m-5 2h5m-5 13h5m-5 19h5m-5 6h5m-5 1h5m-5 2h5m-5 8h5m-5 11h5m-5 1h5m-5 1h5m-5 3h5m-5 3h5m-5 6h5m-5 1h5m-5 0h5m-5 7h5m-5 4h5m-5 2h5m-5 14h5m-5 4h5m-5 9h5m-4 -135h5m-4 -111h5m-5 115h5m-5 11h5m-5 13h5m-5 14h5m-5 71h5m-5 39h5m-5 26h5m-2 -152h5m-5 6h5m-4 -28h5m-4 9h5m-5 4h5m-5 11h5m-3 -117h5m-5 32h5m-5 7h5m-5 6h5m-5 3h5m-5 11h5m-5 11h5m-5 16h5m-5 1h5m-5 0h5m-5 9h5m-5 21h5m-5 13h5m-5 1h5m-5 1h5m-5 0h5m-5 10h5m-5 13h5m-5 3h5m-5 44h5m-4 -220h5m-5 24h5m-5 4h5m-5 5h5m-5 51h5m-5 129h5m-3 -321h5m-5 27h5m-5 63h5m-5 27h5m-5 19h5m-5 19h5m-5 50h5m-5 15h5m-5 17h5m-5 30h5m-5 9h5m-5 14h5m-5 41h5m-5 69h5m-4 -281h5m-5 67h5m-5 11h5m-5 10h5m-5 2h5m-5 6h5m-5 15h5m-5 28h5m-5 9h5m-5 2h5m-5 5h5m-4 -165h5m-5 49h5m-5 8h5m-5 19h5m-5 9h5m-5 50h5m-5 12h5m-3 -30h5m-5 38h5m-5 7h5m-5 5h5m-5 0h5m-3 -206h5m-2 29h5m-5 58h5m-5 56h5m-5 42h5m-5 22h5m-5 6h5m-5 28h5m-5 9h5m-5 14h5m-5 7h5m-5 40h5m-4 -202h5m-5 25h5m-5 2h5m-5 3h5m-5 11h5m-5 3h5m-5 0h5m-5 1h5m-5 1h5m-5 2h5m-5 5h5m-5 2h5m-5 4h5m-5 2h5m-5 0h5m-5 2h5m-5 0h5m-5 0h5m-5 1h5m-5 1h5m-5 0h5m-5 19h5m-5 1h5m-5 1h5m-5 1h5m-5 1h5m-5 59h5m-3 -281h5m-5 199h5m-5 20h5m-5 148h5m-3 -248h5m-5 103h5m-3 -201h5m-5 30h5m-5 68h5m-5 5h5m-5 4h5m-5 4h5m-5 6h5m-5 1h5m-5 15h5m-5 5h5m-5 19h5m-5 11h5m-5 10h5m-5 3h5m-5 2h5m-5 13h5m-5 4h5m-5 2h5m-5 2h5m-4 -16h5m-2 -102h5m-5 88h5m-4 -183h5m-5 93h5m-5 0h5m-5 15h5m-5 9h5m-5 1h5m-5 3h5m-5 3h5m-5 26h5m-5 2h5m-5 9h5m-5 2h5m-5 6h5m-5 1h5m-5 1h5m-5 1h5m-5 20h5m-5 58h5m-3 -60h5m-4 -236h5m-5 82h5m-5 22h5m-5 9h5m-5 3h5m-5 21h5m-5 11h5m-5 78h5m-5 55h5m-5 36h5m-4 -264h5m-5 42h5m-5 10h5m-5 18h5m-5 35h5m-5 5h5m-5 4h5m-5 1h5m-5 28h5m-5 15h5m-5 13h5m-5 6h5m-5 12h5m-5 1h5m-5 6h5m-5 13h5m-5 21h5m-5 6h5m-5 40h5m-4 -290h5m-5 8h5m-5 21h5m-5 49h5m-5 72h5m-5 26h5m-5 23h5m-5 23h5m-5 72h5m-4 -203h5m-5 5h5m-5 18h5m-5 32h5m-5 34h5m-5 102h5m1 -191h5m-5 25h5m-4 84h5m-5 12h5m-5 55h5m-3 -149h5m-5 22h5m-5 1h5m-5 59h5m-5 2h5m-4 -146h5m-5 6h5m-5 3h5m-5 16h5m-5 4h5m-5 8h5m-5 2h5m-5 1h5m-5 0h5m-5 3h5m-5 11h5m-5 23h5m-5 3h5m-5 13h5m-5 5h5m-5 7h5m-5 36h5m-5 29h5m-5 133h5m-4 -293h5m-5 84h5m2 2h5m-5 46h5m-5 14h5m-5 11h5m-5 97h5m-3 -219h5m-5 30h5m-5 11h5m-5 59h5m-5 2h5m-5 18h5m-5 2h5m-5 37h5m-5 23h5m-5 6h5m-4 -238h5m-5 3h5m-5 31h5m-5 7h5m-5 26h5m-5 7h5m-5 15h5m-5 17h5m-5 13h5m-5 1h5m-5 2h5m-5 3h5m-5 27h5m-5 11h5m-5 0h5m-5 8h5m-5 9h5m-5 15h5m-5 5h5m-5 15h5m-5 11h5m-5 28h5m-5 19h5m-5 3h5m-5 7h5m-5 12h5m-5 44h5m-5 8h5m-4 -247h5m-5 12h5m-5 20h5m-5 129h5m-3 -236h5m-2 -64h5m-5 18h5m-5 31h5m-5 22h5m-5 6h5m-5 14h5m-5 20h5m-5 11h5m-5 2h5m-5 2h5m-5 6h5m-5 2h5m-5 8h5m-5 2h5m-5 5h5m-5 2h5m-5 46h5m-5 3h5m-5 2h5m-5 7h5m-5 43h5m-5 2h5m-5 8h5m-5 0h5m-5 6h5m-5 27h5m-5 15h5m-5 7h5m-5 8h5m-5 2h5m-5 16h5m-4 -227h5m-5 26h5m-3 -41h5m-5 21h5m-5 52h5m-5 10h5m-5 33h5m-4 -130h5m-5 99h5m-5 0h5m-5 0h5m-5 14h5m-5 16h5m-5 4h5m-3 -240h5m-5 4h5m-5 16h5m-5 7h5m-5 4h5m-5 17h5m-5 3h5m-5 13h5m-5 5h5m-5 2h5m-5 11h5m-5 1h5m-5 31h5m-5 6h5m-5 7h5m-5 2h5m-5 19h5m-5 43h5m-5 3h5m-4 -102h5m-5 13h5m-5 28h5m-5 30h5m-5 12h5m-4 -152h5m-5 159h5m-5 6h5m-5 7h5m-3 -110h5m-3 102h5m-5 34h5m-5 12h5m-4 -154h5m-5 13h5m-5 20h5m-5 14h5m-5 155h5m-5 37h5m-5 24h5m-5 11h5m-5 65h5m-4 -379h5m-5 1h5m-5 1h5m-5 0h5m-5 7h5m-5 8h5m-5 23h5m-5 20h5m-5 5h5m-5 30h5m-5 96h5m-5 3h5m-5 19h5m-2 -277h5m-5 18h5m-5 103h5m-5 18h5m-5 17h5m-5 4h5m-5 1h5m-5 4h5m-5 4h5m-5 0h5m-5 10h5m-5 3h5m-5 0h5m-5 3h5m-5 30h5m-5 6h5m-5 4h5m-5 3h5m-5 3h5m-5 8h5m-5 1h5m-5 13h5m-5 38h5m-5 18h5m-5 15h5m-4 -117h5m-2 -133h5m-5 54h5m-5 6h5m-5 19h5m-5 1h5m-5 6h5m-5 0h5m-5 3h5m-5 4h5m-5 33h5m-5 21h5m-5 24h5m-5 35h5m-4 -126h5m-5 44h5m-5 2h5m-4 -32h5m-4 -153h5m-5 21h5m-5 30h5m-5 23h5m-5 49h5m-5 25h5m-5 3h5m-5 5h5m-5 17h5m-5 18h5m-3 -130h5m-5 46h5m-5 60h5m-5 17h5m-5 38h5m-5 33h5m-5 0h5m-5 2h5m-4 -78h5m-5 17h5m-5 52h5m-4 -270h5m-5 43h5m-5 36h5m-5 24h5m-1 82h5m-4 -86h5m-4 -47h5m-5 6h5m-5 17h5m-5 48h5m-5 9h5m-5 13h5m-5 14h5m-5 2h5m-5 42h5m-5 2h5m-5 5h5m-5 7h5m-5 51h5m-5 12h5m-5 0h5m2 -106h5m-4 -309h5m-5 120h5m-5 62h5m-5 140h5m-4 -53h5m-5 26h5m-5 1h5m-3 173h5m-5 13h5m-4 -220h5m-5 8h5m-5 45h5m-5 5h5m-5 8h5m-5 9h5m-5 11h5m-5 3h5m-5 8h5m-5 15h5m-4 -248h5m-5 133h5m-5 10h5m-5 7h5m-5 12h5m-5 26h5m-5 9h5m-5 3h5m-5 10h5m-4 -140h5m-4 97h5m-4 -152h5m-5 7h5m-5 42h5m-5 4h5m-5 3h5m-5 19h5m-5 22h5m-5 17h5m-5 5h5m-5 12h5m-5 5h5m-5 1h5m-5 1h5m-5 1h5m-5 15h5m-5 10h5m-5 4h5m-5 20h5m-5 1h5m-5 21h5m-5 2h5m-5 54h5m-2 -139h5m-4 -11h5m-4 -165h5m-5 31h5m-5 16h5m-5 9h5m-5 45h5m-5 7h5m-5 33h5m-5 82h5m-5 18h5m-5 68h5m-5 53h5m-4 -259h5m-5 179h5m-3 -201h5m-5 19h5m-5 2h5m-5 1h5m-5 7h5m-5 1h5m-5 1h5m-5 3h5m-5 3h5m-5 5h5m-5 1h5m-5 4h5m-5 0h5m-5 10h5m-5 11h5m-5 3h5m-5 1h5m-5 14h5m-5 21h5m-5 2h5m-5 0h5m-5 1h5m-5 1h5m-5 8h5m-5 4h5m-5 16h5m-5 5h5m-5 13h5m-5 16h5m-5 5h5m-5 1h5m-5 37h5m-5 5h5m0 -245h5m-5 26h5m-5 14h5m-5 6h5m-5 5h5m-5 49h5m-5 3h5m-5 7h5m-5 7h5m-4 -105h5m-5 64h5m-5 25h5m-5 6h5m-5 29h5m-5 55h5m-5 13h5m-5 46h5m-4 -246h5m-5 68h5m-5 15h5m-5 8h5m-5 36h5m-5 19h5m-5 4h5m-3 -62h5m-5 10h5m-5 9h5m-5 13h5m-5 4h5m-5 15h5m-5 2h5m-5 2h5m-5 3h5m-5 7h5m-5 3h5m-5 14h5m-5 4h5m-5 3h5m-5 3h5m-5 4h5m-5 8h5m-2 -127h5m-2 -6h5m-5 32h5m-5 14h5m-5 1h5m-5 54h5m-5 3h5m-5 27h5m-3 -114h5m-5 11h5m-5 66h5m-5 7h5m-5 19h5m-5 44h5m-4 -178h5m-5 31h5m-5 0h5m-5 8h5m-5 41h5m-5 16h5m-5 63h5m-2 -201h5m-5 22h5m-5 20h5m-5 59h5m-5 68h5m-3 -30h5m-5 105h5m-3 -215h5m-5 10h5m-5 22h5m-5 2h5m-5 1h5m-5 1h5m-5 0h5m-5 10h5m-5 5h5m-5 8h5m-5 1h5m-5 17h5m-5 25h5m-5 1h5m-5 5h5m-5 9h5m-5 16h5m-5 8h5m-5 9h5m-5 0h5m-4 -117h5m-3 -116h5m-5 42h5m-5 11h5m-5 14h5m-5 31h5m-5 24h5m-5 43h5m-5 21h5m-5 81h5m-5 29h5m-5 11h5m-5 21h5m-4 -222h5m-5 9h5m-5 2h5m-5 38h5m-5 26h5m-5 4h5m-5 9h5m-5 4h5m-5 70h5m-3 -52h5m-2 -43h5m-4 -70h5m-5 30h5m-5 26h5m-5 95h5m-4 -175h5m-5 13h5m-5 171h5m-4 -164h5m-5 4h5m-5 8h5m-5 34h5m-5 29h5m-5 31h5m-5 12h5m-5 10h5m-5 31h5m-4 -48h5m-5 32h5m-5 1h5m-5 12h5m-3 -143h5m-5 18h5m-5 14h5m-5 17h5m-5 4h5m-5 17h5m-5 5h5m-5 4h5m-5 14h5m-5 2h5m-5 25h5m-5 5h5m-4 -122h5m-5 18h5m-5 5h5m-5 6h5m-5 43h5m-5 13h5m-5 84h5m-4 -286h5m-5 40h5m-5 95h5m-5 34h5m-5 34h5m-4 -14h5m-5 18h5m-1 -253h5m-5 48h5m-5 51h5m-5 54h5m-5 44h5m-5 13h5m-5 85h5m-5 12h5m-3 -115h5m-5 4h5m-5 62h5m-5 12h5m-5 41h5m-3 -275h5m-5 31h5m-5 27h5m-5 2h5m-5 136h5m-5 27h5m-5 59h5m-5 52h5m-5 4h5m-3 -274h5m-5 36h5m-5 6h5m-5 6h5m-5 6h5m-5 13h5m-5 6h5m-5 6h5m-5 5h5m-5 48h5m-5 4h5m-5 0h5m-5 8h5m-5 2h5m-5 23h5m-5 23h5m-4 -169h5m-5 14h5m-5 46h5m-5 45h5m-4 -77h5m-5 46h5m-5 23h5m-5 35h5m-3 -1h5m-2 -216h5m-5 67h5m-5 234h5m-5 8h5m-5 117h5m-4 -315h5m-5 54h5m-5 74h5m-5 6h5m-5 9h5m-2 -90h5m-5 12h5m-3 -2h5m-5 71h5m-5 8h5m1 -168h5m-5 112h5m-5 45h5m-3 -245h5m-5 7h5m-5 56h5m-5 7h5m-5 19h5m-5 37h5m-5 16h5m-5 35h5m-5 1h5m-5 4h5m-5 13h5m-5 6h5m-5 15h5m-5 95h5m-3 -190h5m-5 1h5m-5 1h5m-5 25h5m-5 7h5m-5 4h5m-5 9h5m-5 32h5m-5 42h5m-5 10h5m-5 2h5m-5 18h5m-4 -208h5m-4 -31h5m-5 62h5m-5 37h5m-5 27h5m-5 27h5m-5 2h5m-5 8h5m-5 55h5m-5 40h5m-3 -189h5m-5 55h5m-5 1h5m-5 49h5m-5 80h5m-5 11h5m1 -285h5m-5 8h5m-5 14h5m-5 10h5m-5 3h5m-5 18h5m-5 7h5m-5 26h5m-5 18h5m-5 11h5m-3 22h5m-5 57h5m-5 24h5m-5 7h5m-5 56h5m-4 -290h5m-2 156h5m-5 2h5m-4 -160h5m-5 18h5m-5 5h5m-5 15h5m-5 16h5m-5 60h5m-5 3h5m-5 7h5m-5 57h5m-5 51h5m-5 3h5m-3 -309h5m-5 316h5m-3 -156h5m-5 56h5m-5 6h5m-5 172h5m-4 -332h5m-3 -75h5m-3 195h5m-5 7h5m-5 16h5m-5 2h5m-5 2h5m-5 53h5m-5 3h5m0 -187h5m-5 56h5m-5 2h5m-5 4h5m-5 4h5m-5 1h5m-5 4h5m-5 1h5m-5 3h5m-5 11h5m-5 2h5m-5 24h5m-5 4h5m-5 9h5m-5 22h5m-5 14h5m-5 14h5m-5 8h5m-5 15h5m-5 60h5m-4 -248h5m-5 91h5m-5 32h5m-5 154h5m-5 3h5m-5 19h5m0 -318h5m-5 6h5m-5 16h5m-5 4h5m-5 96h5m-5 2h5m-3 -170h5m-5 77h5m-5 31h5m-5 36h5m-5 7h5m-5 9h5m-5 31h5m-5 7h5m-5 4h5m-5 4h5m-5 8h5m-5 61h5m-2 -143h5m-5 16h5m-5 2h5m-1 -50h5m-1 -38h5m-5 9h5m-5 9h5m-5 9h5m-5 4h5m-5 2h5m-5 7h5m-5 6h5m-5 15h5m-5 2h5m-5 1h5m-5 6h5m-5 7h5m-5 2h5m-5 1h5m-5 7h5m-5 5h5m-5 2h5m-5 5h5m-5 3h5m-5 3h5m-5 22h5m-5 4h5m-5 15h5m-5 3h5m-5 3h5m-5 1h5m-5 25h5m-5 12h5m-4 -115h5m-5 171h5m-1 -253h5m-5 22h5m-5 2h5m-5 5h5m-3 5h5m-5 37h5m-5 41h5m-5 6h5m-2 -80h5m-3 -33h5m-5 87h5m-5 90h5m-2 -102h5m-5 0h5m-5 34h5m-4 -143h5m-1 38h5m-5 74h5m-5 13h5m-5 11h5m-4 22h5m-5 11h5m-5 1h5m0 -45h5m-5 64h5m-2 -215h5m-5 16h5m-5 108h5m-5 12h5m-5 11h5m-5 61h5m1 -162h5m-5 30h5m-5 33h5m-5 73h5m-1 -133h5m-5 6h5m-5 1h5m-5 7h5m-5 13h5m-5 1h5m-5 17h5m-5 6h5m-5 7h5m-5 0h5m-5 8h5m-5 7h5m3 -56h5m-5 4h5m-5 3h5m-5 26h5m-5 3h5m-5 6h5m-5 1h5m-5 2h5m-5 5h5m-5 5h5m-4 -98h5m0 229h5m0 -273h5m-5 79h5m-5 26h5m-5 4h5m-5 1h5m-5 0h5m-5 12h5m-5 13h5m-5 21h5m-5 32h5m-3 -132h5m-5 3h5m-5 29h5m-5 20h5m-5 3h5m-4 -20h5m-5 9h5m-4 -135h5m-5 0h5m-5 71h5m-5 2h5m-5 5h5m-5 3h5m-5 5h5m-5 3h5m-5 18h5m-5 4h5m-5 7h5m-5 7h5m-5 13h5m-5 53h5m-5 4h5m-5 23h5m-5 6h5m-5 9h5m-4 -184h5m-5 23h5m-5 5h5m-5 13h5m-5 42h5m-5 1h5m-5 3h5m-5 9h5m-5 11h5m-5 7h5m-5 23h5m-5 20h5m-5 10h5m-5 2h5m-5 11h5m-5 4h5m0 -158h5m-5 22h5m-5 57h5m-5 12h5m-4 -126h5m-5 1h5m-5 2h5m-5 27h5m-5 12h5m-5 13h5m-5 21h5m-5 19h5m-4 0h5m-4 -3h5m-3 16h5m-5 27h5m-4 -120h5m-5 120h5m-5 6h5m-5 2h5m-5 9h5m-5 8h5m-5 9h5m-4 -97h5m-5 9h5m-5 58h5m-3 -74h5m-5 14h5m-5 3h5m-5 12h5m-5 10h5m-5 4h5m-5 8h5m-5 6h5m-5 3h5m-5 21h5m-5 13h5m-3 -131h5m1 23h5m-1 14h5m-5 22h5m-5 1h5m-5 19h5m-5 25h5m0 -108h5m-5 3h5m-5 16h5m-5 5h5m-5 23h5m-5 5h5m-5 3h5m-5 8h5m-5 3h5m-5 3h5m-5 17h5m-5 9h5m-4 -132h5m-5 12h5m-5 19h5m-5 16h5m-5 3h5m-5 19h5m-5 26h5m-4 -96h5m-5 11h5m-5 3h5m-5 9h5m-5 4h5m-5 45h5m-5 3h5m-5 15h5m-5 70h5m-3 -87h5m-5 42h5m-3 -140h5m1 6h5m-5 5h5m-5 6h5m-5 56h5m-5 32h5m-5 13h5m-5 0h5m-5 15h5m-2 -19h5m-3 -119h5m-5 4h5m-5 11h5m-5 1h5m-5 3h5m-5 1h5m-5 6h5m-5 10h5m-5 5h5m-5 0h5m-5 1h5m-5 14h5m-5 1h5m-5 14h5m-5 8h5m-5 2h5m-3 -5h5m-5 3h5m-5 4h5m-5 1h5m-5 9h5m-5 7h5m-5 4h5m-5 4h5m-5 5h5m-5 0h5m-5 7h5m-5 1h5m-5 2h5m-5 6h5m-3 -159h5m-5 4h5m-5 24h5m-5 37h5m-5 3h5m-5 11h5m-5 29h5m-5 7h5m-5 6h5m-5 19h5m-5 6h5m-5 31h5m-5 15h5m-1 -175h5m-5 44h5m-2 0h5m-5 3h5m-5 28h5m-5 11h5m-5 3h5m-5 26h5m-2 -150h5m-5 1h5m-5 30h5m-5 10h5m-5 15h5m-5 0h5m-5 11h5m-5 6h5m-5 4h5m-5 56h5m-5 40h5m-3 -146h5m-5 32h5m-5 5h5m-5 10h5m-5 17h5m-5 78h5m-4 -148h5m-5 37h5m-5 4h5m-5 3h5m-5 104h5m-2 -218h5m-5 36h5m-5 68h5m-5 224h5m-3 -276h5m-5 12h5m-5 16h5m-5 26h5m-5 5h5m-5 2h5m-1 -7h5m-5 61h5m3 -123h5m-5 6h5m-5 15h5m-5 5h5m-5 33h5m-5 5h5m-5 25h5m-5 2h5m-2 -154h5m-5 14h5m-5 105h5m-5 43h5m-5 10h5m3 -48h5m-5 5h5m-5 7h5m-5 3h5m-5 15h5m-3 -105h5m-5 0h5m-5 3h5m-5 43h5m-5 1h5m-5 7h5m-5 13h5m11 -104h5m-5 20h5m-5 56h5m-5 4h5m-5 99h5m1 -167h5m-5 18h5m-5 11h5m-5 13h5m-5 11h5m-5 68h5m7 -173h5m-5 5h5m-5 18h5m-5 6h5m-5 2h5m-5 37h5m-5 1h5m-5 7h5m-5 49h5m-5 97h5m-3 -248h5m-5 38h5m-5 23h5m-5 135h5m-5 7h5m-5 55h5m0 -178h5m-5 20h5m-5 35h5m-2 -117h5m-5 164h5m-5 19h5m-5 24h5m-5 11h5m2 -162h5m-5 38h5m4 24h5m-5 4h5m5 -93h5m-5 88h5m-5 28h5m-5 43h5m-4 -204h5m-5 62h5m-5 22h5m-5 7h5m-5 14h5m-5 10h5m-5 13h5m7 -83h5m-1 19h5m-5 2h5m-5 41h5m-5 66h5m-5 45h5m-5 11h5m1 -209h5m1 25h5m-5 8h5m-5 36h5m-2 -111h5m-5 17h5m-5 136h5m-5 42h5m-5 11h5m-5 6h5m6 -150h5m0 72h5m-5 23h5m-3 -28h5m10 -61h5m-5 5h5m-5 8h5m-5 99h5m5 -189h5m-5 1h5m-5 62h5m-5 5h5m-5 33h5m-5 0h5m-5 5h5m-5 32h5m-5 9h5m-5 3h5m0 -42h5m0 -106h5m-5 6h5m-5 5h5m-5 20h5m-5 11h5m-5 3h5m-5 0h5m-5 29h5m-5 11h5m-5 10h5m-5 4h5m-5 15h5m-5 8h5m-5 1h5m-5 31h5m-1 -90h5m-2 -186h5m-5 14h5m-5 10h5m-5 19h5m-5 2h5m-5 35h5m-5 7h5m-5 24h5m-5 2h5m-5 4h5m-5 2h5m-5 3h5m-5 10h5m-5 3h5m-5 36h5m-5 9h5m-5 14h5m-5 7h5m-5 0h5m-5 9h5m-5 5h5m-5 15h5m-5 10h5m-5 20h5m-5 10h5m-5 35h5m-5 8h5m-5 10h5m-5 5h5m-5 15h5m-5 17h5m-5 28h5m-5 2h5m9 -128h5m-5 20h5m-5 44h5m7 -195h5m-5 164h5m6 -202h5m2 212h5m-1 -302h5m-5 71h5m17 127h5m4 -37h5m8 -144h5m-5 131h5m-5 11h5m39 -36h5m7 -171h5m-5 48h5m-5 95h5m-4 -173h5m32 -32h5m-5 202h5m5 -70h5m-5 151h5m26 -204h5m-5 32h5m-5 2h5m-2 50h5m-5 35h5"/><path d="M230 1501h5m-4 -107h5m-5 88h5m5 -5h5m0 -133h5m-5 28h5m-5 61h5m-1 -37h5m2 42h5m12 102h5m3 -203h5m1 22h5m-5 42h5m-5 7h5m-5 1h5m-5 4h5m-5 11h5m-5 0h5m-5 1h5m-5 8h5m-5 0h5m-5 3h5m-5 9h5m-4 -86h5m-5 61h5m-5 1h5m-4 -92h5m-5 51h5m-5 0h5m-5 14h5m-5 2h5m-5 33h5m-5 20h5m-3 -71h5m-5 5h5m-5 3h5m-5 5h5m-5 8h5m-5 1h5m-3 -70h5m-5 44h5m-5 7h5m-4 -10h5m-5 13h5m-5 4h5m-5 9h5m-5 4h5m-4 43h5m-5 29h5m0 -35h5m-4 -106h5m-5 55h5m-5 28h5m-5 7h5m-5 8h5m-4 -10h5m-5 1h5m-3 2h5m-5 1h5m-5 21h5m-2 -96h5m-5 25h5m-3 -207h5m-5 108h5m-5 132h5m-5 6h5m-5 4h5m-4 -96h5m-5 71h5m-5 8h5m-4 -37h5m-5 7h5m-5 4h5m-5 4h5m-5 6h5m-5 5h5m-5 9h5m-4 -103h5m-2 75h5m-5 94h5m-4 -144h5m-5 14h5m-5 10h5m-5 29h5m-5 5h5m-5 7h5m-5 2h5m-5 2h5m-5 5h5m-5 14h5m-5 4h5m-5 2h5m-5 8h5m-5 6h5m-5 62h5m-4 -47h5m-4 -74h5m-5 12h5m-5 18h5m-5 24h5m-5 39h5m-5 42h5m-2 -176h5m-5 45h5m-5 41h5m-5 11h5m-5 29h5m-4 -160h5m-5 61h5m-5 3h5m-5 33h5m-5 21h5m-5 15h5m-5 45h5m-3 -161h5m-5 44h5m-5 46h5m-5 7h5m-5 6h5m-5 5h5m-5 50h5m-3 -139h5m-5 55h5m-5 9h5m-4 -61h5m-5 12h5m-5 9h5m-5 21h5m-5 28h5m-4 17h5m-5 60h5m-4 -144h5m-5 22h5m-5 26h5m-5 61h5m-5 17h5m-5 4h5m-4 -145h5m-5 0h5m-5 38h5m-5 40h5m-5 18h5m-5 11h5m-5 1h5m-5 4h5m-5 5h5m-3 -49h5m-5 61h5m-5 27h5m-4 -73h5m-5 46h5m-5 36h5m-5 38h5m-5 2h5m-4 -150h5m-5 1h5m-5 21h5m-4 -88h5m-5 53h5m-5 3h5m-5 13h5m-5 49h5m-5 9h5m-5 28h5m-5 40h5m-5 6h5m-5 10h5m-1 -379h5m-5 185h5m-5 10h5m-5 1h5m-5 30h5m-5 22h5m-5 10h5m-5 45h5m-5 23h5m-5 23h5m-4 -220h5m-5 41h5m-5 8h5m-5 3h5m-5 2h5m-5 24h5m-5 2h5m-5 1h5m-5 1h5m-5 5h5m-5 1h5m-5 6h5m-5 0h5m-5 2h5m-5 22h5m-5 4h5m-5 10h5m-5 6h5m-5 5h5m-5 1h5m-5 18h5m-5 33h5m-5 2h5m-5 4h5m-5 7h5m-5 1h5m-5 5h5m-5 0h5m-3 -125h5m-3 -105h5m-5 78h5m-5 24h5m-3 3h5m-5 14h5m-5 11h5m-5 3h5m-5 19h5m-5 10h5m-5 16h5m-4 -196h5m-5 36h5m-5 93h5m-5 5h5m-5 16h5m-5 28h5m-4 -130h5m-5 5h5m-5 30h5m-5 132h5m-5 37h5m-5 21h5m-4 -47h5m-4 -122h5m-5 9h5m-5 29h5m-5 17h5m-4 -79h5m-4 42h5m-5 51h5m-4 -183h5m-5 65h5m-5 14h5m-5 27h5m-5 29h5m-5 5h5m-5 10h5m-5 159h5m2 -226h5m-5 7h5m-5 18h5m-5 62h5m-5 3h5m-5 3h5m-5 0h5m-5 24h5m-3 -166h5m-5 1h5m-5 7h5m-5 7h5m-5 37h5m-5 13h5m-5 8h5m-5 4h5m-5 11h5m-5 6h5m-5 2h5m-5 2h5m-5 2h5m-5 12h5m-5 7h5m-5 0h5m-5 8h5m-5 2h5m-5 12h5m-5 28h5m-2 -179h5m-5 50h5m-5 9h5m-5 8h5m-5 15h5m-5 17h5m-5 12h5m-5 21h5m-5 21h5m-5 29h5m-5 15h5m-5 12h5m-5 14h5m-4 -185h5m-5 16h5m-5 33h5m-5 8h5m-5 13h5m-5 8h5m-5 23h5m-5 21h5m-5 53h5m-4 -127h5m-4 120h5m-4 -213h5m-5 223h5m-4 -125h5m-5 10h5m-5 35h5m-5 54h5m-5 8h5m-5 5h5m-5 2h5m-4 -200h5m-5 47h5m-5 34h5m-5 0h5m-4 -84h5m-5 24h5m-5 50h5m-5 32h5m-5 56h5m-5 56h5m-3 -111h5m-5 4h5m-5 61h5m-4 -149h5m-5 120h5m-4 -159h5m-5 45h5m-5 8h5m-5 14h5m-5 45h5m-5 2h5m-5 8h5m-5 2h5m-5 21h5m-5 5h5m-5 13h5m-5 9h5m-5 0h5m-5 6h5m-5 5h5m-5 3h5m-1 -196h5m-5 9h5m-5 50h5m-5 12h5m-5 11h5m-5 6h5m-5 5h5m-5 6h5m-5 12h5m-5 16h5m-5 33h5m-5 5h5m-5 3h5m-5 15h5m-5 13h5m-5 11h5m-5 16h5m-5 2h5m-2 -57h5m-4 -263h5m-5 21h5m-5 51h5m-5 3h5m-5 25h5m-5 1h5m-5 6h5m-5 4h5m-5 1h5m-5 2h5m-5 16h5m-5 4h5m-5 4h5m-5 13h5m-5 10h5m-5 9h5m-5 14h5m-5 6h5m-5 48h5m-5 15h5m-5 13h5m-5 2h5m-5 5h5m-5 8h5m-5 4h5m-5 2h5m-5 8h5m-5 21h5m-5 8h5m-5 13h5m-5 14h5m-5 15h5m-5 32h5m-4 -175h5m-5 0h5m-5 24h5m-5 38h5m-4 -152h5m-5 10h5m-5 5h5m-5 23h5m-5 14h5m-5 2h5m-5 1h5m-5 27h5m-5 9h5m-5 1h5m-5 69h5m-5 0h5m-5 0h5m-5 6h5m-5 4h5m-4 -142h5m-5 7h5m-4 19h5m-5 28h5m-5 36h5m-3 -95h5m-5 10h5m-5 24h5m-5 33h5m-5 83h5m-4 -136h5m-5 0h5m-5 16h5m-5 65h5m-4 -216h5m-5 94h5m-4 9h5m-5 69h5m-5 46h5m-5 20h5m-5 12h5m-5 6h5m-3 -125h5m-5 102h5m-5 5h5m-5 10h5m-5 5h5m-5 16h5m-2 -113h5m-5 35h5m-5 52h5m-5 3h5m-5 44h5m-3 -151h5m-5 5h5m-5 5h5m-5 2h5m-5 47h5m-3 -132h5m-5 147h5m-3 -52h5m-5 2h5m-5 7h5m-5 6h5m-5 12h5m-5 2h5m-5 10h5m-4 107h5m-4 -245h5m-5 1h5m-5 86h5m-5 86h5m-5 17h5m-2 -249h5m-5 14h5m-5 22h5m-5 7h5m-5 4h5m-5 3h5m-5 7h5m-5 18h5m-5 5h5m-5 56h5m-5 17h5m-5 0h5m-5 19h5m-5 2h5m-5 19h5m-5 0h5m-5 39h5m-5 9h5m-5 3h5m-5 11h5m-5 8h5m-5 36h5m-5 1h5m-5 4h5m-5 11h5m-4 -240h5m-5 4h5m-5 4h5m-5 0h5m-5 5h5m-5 3h5m-5 3h5m-5 18h5m-5 2h5m-5 0h5m-5 2h5m-5 7h5m-5 0h5m-5 18h5m-5 17h5m-5 7h5m-5 4h5m-5 2h5m-5 10h5m-5 1h5m-5 3h5m-4 -66h5m-5 6h5m-4 -99h5m-5 85h5m-5 32h5m-5 62h5m-5 20h5m-4 -199h5m-5 11h5m-5 1h5m-5 58h5m-5 5h5m-5 3h5m-5 4h5m-5 9h5m-5 15h5m-5 15h5m-5 7h5m-5 12h5m-5 0h5m-5 4h5m-5 23h5m-5 1h5m-5 15h5m-5 38h5m-5 4h5m-5 6h5m-4 -198h5m-5 0h5m-5 4h5m-5 14h5m-5 7h5m-5 11h5m-5 4h5m-5 9h5m-5 3h5m-5 3h5m-5 22h5m-5 2h5m-5 8h5m-5 3h5m-5 3h5m-5 11h5m-5 9h5m-5 8h5m-5 7h5m-5 3h5m-5 20h5m-5 1h5m-5 15h5m-5 2h5m-4 32h5m-4 -184h5m-5 101h5m-4 -82h5m-5 149h5m-4 -151h5m-2 -80h5m-5 96h5m-5 45h5m-5 78h5m-4 -230h5m-5 17h5m-5 24h5m-5 4h5m-5 1h5m-5 4h5m-5 4h5m-5 9h5m-5 6h5m-5 3h5m-5 5h5m-5 6h5m-5 3h5m-5 12h5m-5 10h5m-5 0h5m-5 12h5m-5 0h5m-5 6h5m-5 1h5m-5 9h5m-5 0h5m-5 3h5m-5 1h5m-5 4h5m-5 13h5m-5 33h5m-5 5h5m-5 19h5m-5 42h5m-5 38h5m-2 -298h5m-5 25h5m-5 30h5m-5 16h5m-5 26h5m-5 8h5m-5 6h5m-5 2h5m-5 2h5m-5 9h5m-5 1h5m-5 2h5m-5 2h5m-5 14h5m-5 6h5m-5 6h5m-5 7h5m-5 17h5m-5 47h5m-4 -234h5m-5 29h5m-5 2h5m-5 11h5m-5 13h5m-5 28h5m-5 4h5m-5 42h5m-5 27h5m-5 16h5m-5 5h5m-3 -72h5m-5 85h5m-5 78h5m-2 -247h5m-5 58h5m-5 6h5m-3 -98h5m-5 23h5m-5 19h5m-5 35h5m-5 17h5m-5 21h5m-5 10h5m-5 8h5m-5 21h5m-5 11h5m-5 13h5m-5 24h5m-5 2h5m-5 7h5m-4 -146h5m-5 3h5m-5 11h5m-5 2h5m-5 17h5m-5 2h5m-5 0h5m-5 6h5m-5 10h5m-5 2h5m-5 45h5m-5 7h5m-5 4h5m-5 12h5m-5 0h5m-5 5h5m-5 3h5m-5 8h5m-5 2h5m-5 7h5m-5 8h5m-5 3h5m-5 7h5m-5 3h5m-5 2h5m-5 32h5m-5 35h5m-5 29h5m-3 -266h5m-5 60h5m-5 34h5m-5 35h5m-5 91h5m-3 -168h5m-5 36h5m-5 15h5m-5 15h5m-5 14h5m-5 10h5m-5 21h5m-5 10h5m-5 7h5m-5 17h5m-5 2h5m-5 5h5m-5 5h5m-5 1h5m-4 -295h5m-5 4h5m-5 15h5m-5 22h5m-5 7h5m-5 1h5m-5 1h5m-5 33h5m-5 1h5m-5 0h5m-5 18h5m-5 70h5m-5 29h5m-5 51h5m-5 14h5m-5 4h5m-5 13h5m-5 24h5m-5 38h5m-5 4h5m-5 7h5m-4 -314h5m-5 30h5m-5 112h5m-5 2h5m-5 69h5m-5 1h5m-5 5h5m-4 -241h5m-5 10h5m-5 24h5m-5 17h5m-5 0h5m-5 23h5m-5 4h5m-5 5h5m-3 -67h5m-5 32h5m-5 81h5m-5 8h5m-5 38h5m0 -94h5m-5 22h5m-5 11h5m-3 -116h5m-5 22h5m-5 5h5m-5 7h5m-5 13h5m-5 23h5m-5 7h5m-5 55h5m-5 25h5m-5 36h5m-2 -168h5m-5 51h5m-5 26h5m-5 5h5m-5 3h5m-5 2h5m-5 6h5m-5 22h5m-5 1h5m-5 10h5m-5 23h5m-5 6h5m-5 36h5m-5 22h5m-5 2h5m-5 2h5m-5 42h5m-4 -177h5m-5 70h5m-3 -134h5m-5 36h5m-5 31h5m-5 34h5m-5 1h5m-5 2h5m-5 13h5m-5 10h5m-5 1h5m-5 42h5m-2 -246h5m-5 16h5m-5 1h5m-5 23h5m-5 30h5m-5 12h5m-5 52h5m-5 10h5m-5 35h5m-5 6h5m-5 1h5m-5 4h5m-5 84h5m-5 5h5m-5 10h5m-5 4h5m-5 2h5m-5 17h5m-4 -247h5m-5 88h5m-5 10h5m-5 21h5m-5 6h5m-5 33h5m-5 24h5m-5 10h5m-4 -140h5m-5 106h5m-5 18h5m-5 61h5m-5 2h5m-5 33h5m-4 -228h5m-5 20h5m-5 115h5m-5 75h5m-4 -308h5m-5 19h5m-5 23h5m-5 0h5m-5 6h5m-5 9h5m-5 39h5m-5 1h5m-5 30h5m-5 40h5m-5 28h5m-5 23h5m-5 20h5m-5 6h5m-5 10h5m-5 6h5m-5 49h5m-4 -342h5m-5 95h5m-5 118h5m-5 83h5m-4 -255h5m-5 15h5m-5 21h5m-5 14h5m-5 6h5m-5 29h5m-5 3h5m-5 12h5m-5 2h5m-5 11h5m-5 6h5m-5 2h5m-5 10h5m-5 9h5m-5 40h5m-5 176h5m-5 28h5m-3 -282h5m-5 34h5m-5 5h5m-5 10h5m-5 18h5m-5 0h5m-5 6h5m-5 22h5m-5 45h5m-4 -212h5m-5 36h5m-5 138h5m-5 14h5m-3 -69h5m-5 231h5m-3 -387h5m-5 10h5m-5 10h5m-5 6h5m-5 8h5m-5 5h5m-5 1h5m-5 0h5m-5 21h5m-5 34h5m-5 11h5m-5 37h5m-5 21h5m-5 34h5m-5 18h5m-4 -104h5m-5 9h5m-5 1h5m-5 9h5m-5 19h5m-5 3h5m-5 4h5m-5 2h5m-5 14h5m-5 9h5m-5 7h5m-5 10h5m-5 15h5m-5 4h5m-4 -52h5m-5 98h5m-4 -340h5m-5 135h5m-5 100h5m-3 -150h5m-5 35h5m-5 3h5m-5 0h5m-5 27h5m-5 4h5m-5 9h5m-5 27h5m-5 3h5m-5 6h5m-5 14h5m-5 30h5m-5 2h5m-4 -83h5m-5 27h5m-5 1h5m-5 31h5m-5 14h5m-5 38h5m-5 56h5m-4 -131h5m-5 16h5m-5 67h5m-5 26h5m-4 -287h5m-5 84h5m-5 9h5m-5 40h5m-5 16h5m-5 44h5m-5 22h5m-5 24h5m-5 110h5m-4 -349h5m-5 15h5m-5 2h5m-5 62h5m-5 12h5m-5 4h5m-5 17h5m-5 7h5m-5 43h5m-5 78h5m-5 14h5m-5 7h5m-5 17h5m-5 13h5m-5 17h5m-5 0h5m-4 -125h5m-5 7h5m-5 7h5m-5 1h5m-3 -153h5m-5 133h5m-5 44h5m-5 33h5m-5 2h5m-5 12h5m-5 14h5m-5 6h5m-5 0h5m-5 13h5m-5 17h5m-4 -332h5m-5 26h5m-5 79h5m-5 55h5m-5 8h5m-5 45h5m-5 19h5m-5 136h5m-5 18h5m-4 -455h5m-5 12h5m-5 13h5m-5 52h5m-5 25h5m-5 8h5m-5 4h5m-5 12h5m-5 20h5m-5 5h5m-5 20h5m-5 5h5m-5 0h5m-5 10h5m-5 18h5m-5 54h5m-5 25h5m-5 2h5m-5 15h5m-5 6h5m-5 14h5m-5 27h5m-5 13h5m-5 17h5m-5 34h5m-5 29h5m-4 -280h5m-5 1h5m-5 34h5m-5 3h5m-5 6h5m-5 0h5m-5 17h5m-5 73h5m-5 14h5m-5 35h5m-5 25h5m-5 35h5m-5 25h5m-5 41h5m-5 5h5m-4 -281h5m-5 23h5m-5 11h5m-5 14h5m-5 8h5m-5 29h5m-5 13h5m-5 7h5m-5 19h5m-5 15h5m-5 9h5m-5 2h5m-5 6h5m-4 -163h5m-5 3h5m-5 51h5m-5 165h5m-4 -130h5m-4 -111h5m-5 50h5m-5 48h5m-3 -234h5m-5 26h5m-5 57h5m-5 38h5m-5 42h5m-5 13h5m-5 5h5m-5 13h5m-5 5h5m-5 11h5m-5 2h5m-5 18h5m-5 11h5m-5 3h5m-5 10h5m-5 1h5m-5 2h5m-5 39h5m-5 2h5m-5 33h5m-5 16h5m-5 18h5m-5 0h5m-5 53h5m-5 1h5m-5 17h5m-5 4h5m-4 -321h5m-5 74h5m-5 78h5m-5 21h5m-5 4h5m1 -128h5m-4 -24h5m-5 6h5m-5 16h5m-5 3h5m-5 7h5m-5 8h5m-5 1h5m-5 14h5m-5 7h5m-5 0h5m-5 6h5m-5 10h5m-5 0h5m-5 3h5m-5 7h5m-5 8h5m-5 19h5m-5 6h5m-5 4h5m-5 23h5m-4 -137h5m-5 19h5m-5 51h5m-5 23h5m-5 48h5m-5 38h5m-5 10h5m-5 7h5m-5 16h5m-4 -263h5m-5 12h5m-5 11h5m-5 7h5m-5 7h5m-5 9h5m-5 5h5m-5 30h5m-5 9h5m-5 37h5m-5 36h5m-5 2h5m-5 1h5m-5 0h5m-5 2h5m-5 5h5m-5 3h5m-5 1h5m-5 4h5m-5 8h5m-5 1h5m-5 6h5m-5 2h5m-5 24h5m-5 2h5m-5 32h5m-5 1h5m-5 33h5m-3 -140h5m-1 -164h5m-5 47h5m-5 27h5m-5 50h5m-5 29h5m-5 43h5m-4 -173h5m-5 8h5m-5 29h5m-5 3h5m-5 31h5m-5 37h5m-4 -29h5m-5 8h5m-5 17h5m-5 13h5m-5 13h5m-3 -45h5m-3 -37h5m-5 30h5m-5 120h5m-5 64h5m-2 -195h5m-5 23h5m-5 20h5m-5 77h5m-4 -273h5m-5 9h5m-5 42h5m-5 14h5m-5 33h5m-5 14h5m-5 5h5m-5 18h5m-5 10h5m-5 24h5m-5 6h5m-5 4h5m-5 8h5m-5 44h5m-5 22h5m-5 16h5m-5 46h5m-5 19h5m-5 3h5m-5 26h5m-5 11h5m-2 -173h5m-5 158h5m-5 14h5m-5 11h5m-4 -94h5m-5 1h5m-5 153h5m-3 -352h5m-5 60h5m-5 35h5m-5 2h5m-5 6h5m-5 22h5m-5 5h5m-5 2h5m-5 9h5m-5 5h5m-5 13h5m-5 8h5m-5 18h5m-5 32h5m-5 6h5m-5 15h5m-5 7h5m-4 -198h5m-5 21h5m-5 55h5m-4 -146h5m-5 101h5m-5 143h5m-5 14h5m-2 -82h5m-5 45h5m-4 -274h5m-5 37h5m-5 89h5m-5 22h5m-5 4h5m-5 13h5m-5 86h5m-5 7h5m-5 10h5m-4 -197h5m-5 7h5m-5 2h5m-5 12h5m-5 96h5m-5 26h5m-5 46h5m-5 28h5m-2 -238h5m-5 48h5m-5 205h5m-1 -261h5m-5 18h5m-5 4h5m-5 1h5m-5 1h5m-5 24h5m-5 7h5m-5 2h5m-5 6h5m-5 2h5m-5 11h5m-5 19h5m-5 6h5m-5 3h5m-5 6h5m-5 29h5m-5 14h5m-5 4h5m-5 16h5m-5 10h5m-5 2h5m-5 3h5m-5 5h5m-5 10h5m-5 19h5m-5 2h5m-5 1h5m-5 33h5m-5 4h5m-5 3h5m-5 1h5m-4 -206h5m-5 6h5m-5 37h5m-5 23h5m-5 11h5m-3 -21h5m-5 84h5m-3 -107h5m-5 2h5m-5 17h5m-5 70h5m-4 -88h5m-5 24h5m-5 73h5m-4 113h5m-4 -229h5m-5 37h5m-5 13h5m-5 49h5m-5 12h5m-3 -207h5m-5 80h5m-5 33h5m-5 6h5m-5 8h5m-5 10h5m-4 -122h5m-5 66h5m-5 1h5m-5 11h5m-5 21h5m-5 41h5m-5 31h5m-5 60h5m-3 -224h5m-5 102h5m-5 218h5m-5 41h5m-3 -345h5m-5 1h5m-5 1h5m-5 3h5m-5 1h5m-5 28h5m-5 48h5m-5 16h5m-5 11h5m-5 53h5m-5 40h5m-5 25h5m-4 -232h5m-5 12h5m-5 20h5m-5 1h5m-5 1h5m-5 3h5m-5 2h5m-5 1h5m-5 0h5m-5 4h5m-5 1h5m-5 18h5m-5 12h5m-5 1h5m-5 2h5m-5 2h5m-5 5h5m-5 18h5m-5 7h5m-5 5h5m-5 1h5m-5 6h5m-5 5h5m-5 1h5m-5 4h5m-5 1h5m-5 6h5m-5 1h5m-5 59h5m-2 -128h5m-5 43h5m-5 49h5m-3 -221h5m-5 17h5m-5 55h5m-5 5h5m-5 8h5m-5 11h5m-5 14h5m-5 9h5m-5 11h5m-5 4h5m-5 12h5m-5 16h5m-5 8h5m-5 9h5m-5 10h5m-5 30h5m-5 12h5m-5 1h5m-5 21h5m-5 3h5m-5 4h5m-4 -219h5m-5 24h5m-5 14h5m-5 7h5m-5 6h5m-5 2h5m-5 3h5m-5 12h5m-5 24h5m-5 25h5m-5 30h5m-5 13h5m-5 9h5m-5 63h5m-4 -182h5m-5 41h5m-5 39h5m-2 52h5m-5 5h5m-2 -248h5m-5 54h5m-5 25h5m-5 9h5m-5 29h5m-5 88h5m-5 91h5m-5 94h5m-4 -277h5m-5 0h5m-5 7h5m-5 3h5m-5 12h5m-5 27h5m-5 1h5m-5 12h5m-5 5h5m-5 16h5m-5 25h5m-5 23h5m-5 27h5m-3 -196h5m-5 91h5m-5 19h5m-5 2h5m-5 3h5m-5 7h5m-5 2h5m-5 1h5m-5 28h5m-5 87h5m-4 -117h5m-4 -20h5m-3 -107h5m-5 8h5m-5 26h5m-5 1h5m-5 17h5m-5 6h5m-5 76h5m-5 6h5m-5 18h5m-5 40h5m-5 5h5m-5 26h5m0 -281h5m-5 26h5m-5 4h5m-5 1h5m-5 24h5m-5 25h5m-5 8h5m-5 1h5m-5 3h5m-5 2h5m-5 5h5m-5 2h5m-5 1h5m-5 12h5m-5 25h5m-5 2h5m-5 21h5m-5 23h5m-5 8h5m-5 1h5m-5 5h5m-5 14h5m-5 2h5m-5 6h5m-5 22h5m-5 11h5m-5 19h5m-4 -163h5m-5 12h5m-3 -74h5m-5 157h5m-4 -116h5m-5 26h5m-5 28h5m-5 6h5m-5 9h5m-5 40h5m-3 -157h5m-5 15h5m-5 23h5m-5 15h5m-5 4h5m-5 2h5m-5 3h5m-5 1h5m-5 4h5m-5 0h5m-5 0h5m-5 3h5m-5 1h5m-5 5h5m-5 4h5m-5 1h5m-5 5h5m-5 6h5m-5 3h5m-5 8h5m-5 4h5m-5 0h5m-4 -62h5m-5 31h5m-5 14h5m-5 12h5m-5 16h5m-5 4h5m-5 2h5m-5 18h5m-5 8h5m-5 3h5m-5 8h5m-5 22h5m-3 -204h5m-5 7h5m-5 1h5m-5 7h5m-5 14h5m-5 2h5m-5 4h5m-5 1h5m-4 -13h5m-5 43h5m-5 6h5m-5 4h5m-5 35h5m-5 3h5m-5 7h5m-5 7h5m-5 4h5m-5 3h5m-5 8h5m-5 4h5m-4 -76h5m-5 0h5m-5 54h5m-5 44h5m-4 -124h5m-5 45h5m-5 7h5m-5 90h5m-5 11h5m-3 -216h5m-5 68h5m-5 12h5m-5 29h5m-5 4h5m-5 22h5m-5 17h5m-5 81h5m-4 -157h5m-5 11h5m-5 13h5m-5 76h5m-5 6h5m-3 -47h5m-5 28h5m-5 0h5m-5 4h5m-5 48h5m-5 47h5m-5 5h5m-5 6h5m-3 -175h5m-5 25h5m-5 15h5m-5 28h5m-5 102h5m-4 -167h5m-5 65h5m-5 43h5m-4 -188h5m-5 28h5m-5 12h5m-5 13h5m-5 4h5m-5 24h5m-5 15h5m-5 5h5m-5 12h5m-5 9h5m-4 -214h5m-5 404h5m-4 -308h5m-5 11h5m-5 9h5m-5 27h5m-5 62h5m-5 33h5m-5 39h5m-5 3h5m-5 19h5m-5 47h5m-4 -146h5m-5 4h5m-5 64h5m-5 8h5m-5 27h5m-5 5h5m-5 4h5m-5 10h5m-5 0h5m-4 -172h5m-5 7h5m-5 30h5m-5 46h5m-5 39h5m-5 26h5m-4 -179h5m-5 43h5m-5 8h5m-5 37h5m-4 -47h5m-1 -57h5m-5 46h5m-5 46h5m-5 1h5m0 -38h5m-5 13h5m-5 20h5m-5 45h5m-5 26h5m-5 4h5m-5 55h5m-4 -168h5m-4 -42h5m-5 50h5m-5 24h5m-5 15h5m-5 6h5m-5 3h5m-5 0h5m-5 6h5m-5 2h5m-5 26h5m-5 3h5m-2 22h5m-4 -159h5m-3 -79h5m-5 69h5m-5 2h5m-5 17h5m-5 5h5m-5 5h5m-5 16h5m-5 1h5m-5 3h5m-5 10h5m-5 21h5m-5 1h5m-5 15h5m-5 65h5m-5 2h5m-5 14h5m-4 -177h5m-5 108h5m-4 -168h5m-4 -9h5m-5 74h5m-5 22h5m-5 14h5m-5 13h5m-5 13h5m-5 13h5m-5 2h5m-5 6h5m-5 210h5m-3 -219h5m-5 3h5m-5 5h5m-5 1h5m-5 8h5m-5 12h5m-5 10h5m-5 66h5m-3 -201h5m-5 21h5m-5 39h5m-5 20h5m-5 42h5m-5 17h5m-5 72h5m-4 -160h5m-5 3h5m-5 2h5m-5 1h5m-5 9h5m-5 15h5m-5 10h5m-5 12h5m-5 9h5m-5 2h5m-5 1h5m-5 2h5m-5 63h5m-5 23h5m-4 -163h5m-5 22h5m-5 19h5m-5 1h5m-5 21h5m-5 9h5m-5 32h5m-4 -116h5m-5 1h5m-5 10h5m-5 0h5m-5 30h5m-5 1h5m-5 3h5m-4 -110h5m-5 53h5m-5 3h5m-5 12h5m-5 18h5m-5 4h5m-5 23h5m-5 4h5m-5 5h5m-5 10h5m-5 13h5m-5 28h5m-5 22h5m-5 8h5m-4 -197h5m-5 49h5m-5 38h5m-5 24h5m-5 3h5m-5 10h5m-5 8h5m-5 25h5m-5 13h5m-5 9h5m-5 31h5m-4 -210h5m-5 4h5m-5 9h5m-5 1h5m-5 15h5m-5 1h5m-5 3h5m-5 9h5m-5 54h5m-5 25h5m-5 11h5m-5 7h5m-5 23h5m-5 158h5m-3 -113h5m-4 -204h5m-5 0h5m-5 5h5m-5 9h5m-5 17h5m-5 16h5m-5 3h5m-5 7h5m-5 4h5m-5 14h5m-5 27h5m-5 39h5m-5 17h5m-5 8h5m-5 11h5m-4 -123h5m-5 8h5m-5 35h5m-5 52h5m-5 52h5m-3 -240h5m-5 87h5m-5 6h5m-5 21h5m-5 13h5m-5 0h5m-5 6h5m-5 5h5m-5 13h5m-5 1h5m-5 4h5m-5 4h5m-5 15h5m-5 60h5m-5 21h5m-5 0h5m-5 24h5m-4 -180h5m-5 19h5m-5 3h5m-5 3h5m-5 0h5m-5 13h5m-5 1h5m-5 9h5m-5 5h5m-5 9h5m-5 1h5m-5 6h5m-5 5h5m-5 13h5m-5 5h5m-5 9h5m-5 15h5m-5 2h5m-5 3h5m-5 2h5m-5 18h5m-5 2h5m-5 24h5m-5 2h5m-5 6h5m-5 2h5m-5 18h5m-4 -191h5m-3 45h5m-5 5h5m-5 83h5m-4 -170h5m-5 6h5m-5 19h5m-5 25h5m-5 22h5m-5 11h5m-5 14h5m-5 13h5m-5 5h5m-4 -123h5m-4 86h5m-5 24h5m-4 -160h5m-5 191h5m-5 73h5m-4 -225h5m-5 31h5m-5 4h5m-5 6h5m-5 4h5m-5 6h5m-5 5h5m-5 27h5m-5 2h5m-5 3h5m-5 16h5m-5 14h5m-4 -31h5m-3 -47h5m-5 20h5m-5 19h5m-5 19h5m-5 26h5m-5 3h5m-5 18h5m-5 10h5m-5 37h5m-5 4h5m-2 -189h5m-5 18h5m-5 47h5m-5 24h5m-5 3h5m-5 17h5m-5 29h5m-5 8h5m-5 9h5m-5 8h5m-5 9h5m-5 57h5m-5 57h5m-4 -360h5m-5 75h5m-4 -44h5m-5 11h5m-5 269h5m-4 -305h5m-5 11h5m-5 2h5m-5 18h5m-5 9h5m-5 2h5m-5 6h5m-5 15h5m-5 6h5m-5 6h5m-5 18h5m-5 10h5m-5 1h5m-5 2h5m-5 3h5m-5 1h5m-5 4h5m-5 10h5m-5 2h5m-5 6h5m-5 0h5m-5 6h5m-5 23h5m-5 7h5m-5 0h5m-5 2h5m-5 2h5m-5 5h5m-5 16h5m-5 14h5m-5 1h5m-5 2h5m-5 6h5m-5 69h5m-4 -356h5m-5 43h5m-5 21h5m-5 28h5m-5 10h5m-5 16h5m-5 6h5m-5 25h5m-5 42h5m-5 5h5m-5 5h5m-5 22h5m-5 23h5m-5 15h5m-5 12h5m-5 3h5m-5 0h5m-5 22h5m-5 2h5m-5 2h5m-5 4h5m-5 9h5m-5 3h5m-5 2h5m-5 2h5m-5 2h5m-5 1h5m-5 77h5m-5 6h5m-5 7h5m-4 -320h5m-5 45h5m-5 11h5m-5 16h5m-5 4h5m-5 3h5m-5 0h5m-5 3h5m-5 8h5m-5 14h5m-2 -151h5m-5 66h5m-5 26h5m-5 9h5m-5 7h5m-5 29h5m-5 17h5m-5 8h5m-4 -119h5m-5 74h5m-5 1h5m-5 19h5m-5 9h5m-5 1h5m-5 2h5m-5 20h5m-5 2h5m-5 12h5m-5 12h5m-5 4h5m-5 10h5m-5 0h5m-5 12h5m-5 1h5m-5 1h5m-5 4h5m-5 26h5m-5 2h5m-5 6h5m-2 -257h5m-5 47h5m-5 20h5m-5 0h5m-5 21h5m-5 58h5m-5 10h5m-5 0h5m-5 2h5m-5 9h5m-5 80h5m-2 -219h5m-5 187h5m-5 24h5m-5 1h5m-5 3h5m-2 -190h5m-5 8h5m-5 0h5m-5 32h5m-5 15h5m-4 -54h5m-5 95h5m-5 18h5m-4 -183h5m-5 22h5m-5 39h5m-5 11h5m-5 5h5m-5 5h5m-5 20h5m-5 17h5m-5 26h5m-5 22h5m-5 44h5m-5 32h5m-5 13h5m-3 -118h5m-5 141h5m-4 -383h5m-5 0h5m-5 11h5m-5 8h5m-5 35h5m-5 16h5m-5 12h5m-5 18h5m-5 26h5m-5 18h5m-5 2h5m-5 17h5m-5 21h5m-5 67h5m-5 34h5m-5 12h5m-5 10h5m-5 52h5m-5 36h5m-5 20h5m-4 -276h5m-5 48h5m-5 27h5m-5 10h5m-5 4h5m-5 30h5m-5 15h5m-5 71h5m-5 14h5m-4 -85h5m-5 7h5m-5 14h5m-5 9h5m-5 42h5m-5 7h5m-4 -242h5m-5 121h5m-5 0h5m-5 3h5m-4 -173h5m-5 75h5m-5 5h5m-5 17h5m-5 28h5m-5 22h5m-5 30h5m-5 18h5m-5 1h5m-5 38h5m-5 56h5m-5 16h5m-5 9h5m-5 12h5m-5 2h5m-5 5h5m-5 18h5m-5 57h5m-4 -330h5m-5 24h5m-5 5h5m-5 15h5m-5 7h5m-5 1h5m-5 26h5m-5 16h5m-5 10h5m-5 5h5m-5 1h5m-5 0h5m-5 5h5m-5 9h5m-5 7h5m-5 6h5m-5 6h5m-5 3h5m-5 4h5m-5 0h5m-5 1h5m-5 4h5m-5 4h5m-5 4h5m-5 0h5m-5 7h5m-5 2h5m-5 4h5m-5 20h5m-5 3h5m-5 4h5m-5 1h5m-5 18h5m-5 5h5m-5 3h5m-5 13h5m-5 13h5m-4 -284h5m-5 193h5m-5 13h5m-1 -113h5m-5 26h5m-5 4h5m-5 25h5m-5 1h5m-5 4h5m-5 5h5m-5 10h5m-5 0h5m-5 17h5m-5 7h5m-4 -126h5m-4 43h5m-5 9h5m-5 6h5m-5 14h5m-5 4h5m-5 0h5m-5 7h5m-5 6h5m-5 13h5m-5 21h5m-5 32h5m-5 8h5m-5 1h5m-4 -230h5m-5 53h5m-5 35h5m-5 17h5m-5 15h5m-5 9h5m-5 52h5m-5 24h5m-5 10h5m-5 40h5m1 -249h5m-5 26h5m-5 53h5m-5 3h5m-5 9h5m-5 17h5m-5 49h5m-5 3h5m-5 5h5m-5 27h5m-5 17h5m-5 67h5m-4 -158h5m-5 33h5m-4 20h5m-5 43h5m-4 16h5m-3 -264h5m-5 38h5m-5 20h5m-5 18h5m-5 3h5m-5 4h5m-5 6h5m-5 43h5m-5 23h5m-5 15h5m-5 39h5m-5 4h5m-4 -176h5m-5 43h5m-5 47h5m-5 7h5m-5 6h5m-5 3h5m-5 3h5m-5 20h5m-5 6h5m-5 2h5m-5 0h5m-5 4h5m-5 2h5m-5 6h5m-5 1h5m-5 18h5m-5 10h5m-4 -150h5m-5 47h5m-5 18h5m-5 0h5m-5 0h5m-5 2h5m-5 43h5m-5 10h5m-5 68h5m-4 -201h5m-5 18h5m-5 33h5m-5 17h5m-5 28h5m-5 33h5m-5 10h5m-5 17h5m-3 -66h5m-5 23h5m-5 2h5m-5 1h5m-5 34h5m-5 31h5m-4 -138h5m-4 163h5m-4 -159h5m-5 19h5m-5 42h5m-4 -174h5m-5 62h5m-5 15h5m-5 25h5m-5 29h5m-5 34h5m-5 11h5m-5 7h5m-5 9h5m-5 40h5m-5 59h5m-4 -225h5m-5 3h5m-5 135h5m-5 4h5m-4 -170h5m-5 101h5m-4 16h5m-5 19h5m-4 -55h5m-5 37h5m-5 5h5m-5 7h5m-5 13h5m-5 6h5m-5 26h5m-5 2h5m-5 54h5m-3 -193h5m-5 29h5m-5 20h5m-5 8h5m-5 53h5m-5 10h5m-5 0h5m-5 19h5m-5 1h5m-4 -17h5m-3 -49h5m-5 5h5m-5 11h5m-5 30h5m-5 9h5m-5 2h5m-5 11h5m-5 22h5m-3 -197h5m-5 132h5m-5 17h5m-4 -109h5m-5 46h5m-5 20h5m-5 89h5m-5 5h5m-5 12h5m-5 14h5m-5 58h5m-3 -286h5m-5 1h5m-5 2h5m-5 12h5m-5 3h5m-5 5h5m-5 11h5m-5 73h5m-5 16h5m-4 -132h5m-5 2h5m-5 13h5m-5 6h5m-5 8h5m-5 41h5m-5 2h5m-5 12h5m-5 0h5m-5 7h5m-5 5h5m-5 0h5m-5 9h5m-5 7h5m-5 2h5m-5 30h5m-5 1h5m-5 3h5m-5 24h5m-5 3h5m-5 0h5m-5 3h5m-5 13h5m-5 4h5m-5 75h5m-3 -407h5m-5 1h5m-5 15h5m-5 6h5m-5 2h5m-5 16h5m-5 3h5m-5 20h5m-5 25h5m-5 37h5m-5 14h5m-5 22h5m-5 13h5m-5 33h5m-5 64h5m-5 0h5m-5 37h5m-5 42h5m-5 3h5m-5 4h5m-5 4h5m-5 2h5m-4 -174h5m-5 15h5m-5 1h5m-5 9h5m-5 4h5m-5 12h5m-5 12h5m-5 7h5m-5 5h5m-5 22h5m-5 15h5m-3 -222h5m-5 90h5m-5 116h5m-5 29h5m-2 -242h5m-5 131h5m-5 12h5m-5 11h5m-5 14h5m-5 0h5m-5 8h5m-5 8h5m-5 4h5m-5 9h5m-5 3h5m-5 3h5m-5 11h5m-5 3h5m-5 16h5m-5 3h5m-5 4h5m-5 7h5m-5 12h5m-5 7h5m-5 4h5m-5 11h5m-5 29h5m-4 -188h5m-5 16h5m-5 26h5m-5 1h5m-5 24h5m-5 24h5m-5 80h5m-5 8h5m-4 -167h5m-5 3h5m-5 9h5m-5 57h5m-5 8h5m-5 3h5m-5 7h5m-5 5h5m-5 24h5m-5 7h5m-5 19h5m-5 2h5m-5 0h5m-5 11h5m-3 -69h5m-3 -9h5m-4 -90h5m-5 19h5m-5 9h5m-5 49h5m-3 -112h5m-5 8h5m-5 7h5m-5 1h5m-5 15h5m-5 3h5m-5 5h5m-5 1h5m-5 13h5m-5 6h5m-5 15h5m-5 6h5m-5 1h5m-5 12h5m-5 0h5m-5 6h5m-5 10h5m-5 2h5m-5 6h5m-5 3h5m-5 3h5m-5 17h5m-5 4h5m-5 9h5m-5 31h5m-4 -239h5m-5 76h5m-5 14h5m-5 11h5m-5 72h5m-5 46h5m-4 -72h5m-4 -207h5m-5 25h5m-5 33h5m-5 61h5m-5 11h5m-5 28h5m-5 14h5m-5 33h5m-5 42h5m-5 57h5m-4 -233h5m-5 4h5m-5 88h5m-5 4h5m-5 11h5m-5 7h5m-5 15h5m-5 8h5m-5 3h5m-5 7h5m-5 1h5m-5 2h5m-5 4h5m-5 6h5m-5 3h5m-5 17h5m-5 48h5m-4 -207h5m-5 38h5m-5 5h5m-5 10h5m-5 21h5m-5 2h5m-5 11h5m-5 34h5m-5 3h5m-5 0h5m-3 -67h5m-5 15h5m-5 21h5m-5 8h5m-5 8h5m-5 42h5m-5 16h5m-5 94h5m-4 -234h5m-5 4h5m-5 55h5m-5 31h5m-1 -111h5m-5 5h5m-5 22h5m-5 2h5m-5 0h5m-5 22h5m-5 2h5m-5 16h5m-5 23h5m-5 38h5m-5 18h5m-5 25h5m-5 60h5m-5 1h5m-5 4h5m-4 -191h5m-5 5h5m-5 1h5m-5 7h5m-5 0h5m-5 2h5m-5 3h5m-5 1h5m-5 3h5m-5 1h5m-5 0h5m-5 0h5m-5 2h5m-5 2h5m-5 0h5m-5 7h5m-5 0h5m-5 5h5m-5 1h5m-5 2h5m-5 2h5m-5 1h5m-5 1h5m-5 1h5m-5 1h5m-5 0h5m-5 0h5m-5 2h5m-5 2h5m-5 4h5m-5 4h5m-5 2h5m-5 1h5m-5 4h5m-5 1h5m-5 7h5m-5 61h5m-3 -251h5m-5 232h5m-5 89h5m-5 3h5m-1 -238h5m-5 35h5m-5 6h5m-5 24h5m-5 6h5m-5 2h5m-5 2h5m-5 16h5m-4 -31h5m-1 -136h5m-5 21h5m-5 3h5m-5 38h5m-5 3h5m-5 8h5m-5 1h5m-5 9h5m-5 2h5m-5 5h5m-5 4h5m-5 1h5m-5 0h5m-5 2h5m-5 21h5m-5 2h5m-5 1h5m-5 28h5m-5 3h5m-5 31h5m-5 79h5m-3 -6h5m-4 -336h5m-5 18h5m-5 84h5m-5 48h5m-5 9h5m-5 113h5m-5 6h5m-5 3h5m-5 22h5m-5 9h5m-4 -164h5m-5 23h5m-5 14h5m-5 7h5m-5 3h5m-5 19h5m-5 1h5m-5 4h5m-5 2h5m-5 0h5m-5 7h5m-5 13h5m-5 1h5m-5 2h5m-5 3h5m-5 8h5m-5 41h5m-5 20h5m-4 -267h5m-5 17h5m-5 131h5m-5 147h5m-4 -227h5m-5 1h5m-5 44h5m-5 27h5m-5 2h5m-5 30h5m1 -90h5m-5 12h5m-5 38h5m-5 17h5m-5 14h5m-4 -2h5m-3 -75h5m-5 24h5m-4 -64h5m-5 4h5m-5 26h5m-5 22h5m-5 7h5m-5 7h5m-5 0h5m-5 18h5m-5 54h5m-5 110h5m-4 -235h5m-5 23h5m-5 9h5m-5 14h5m-5 15h5m-5 21h5m-2 -92h5m-5 80h5m-5 10h5m-5 75h5m-1 -40h5m-5 171h5m-5 8h5m-3 -248h5m-5 23h5m-5 3h5m-5 15h5m-5 68h5m-4 -206h5m-5 12h5m-5 11h5m-5 9h5m-5 8h5m-5 1h5m-5 16h5m-5 36h5m-5 13h5m-5 13h5m-5 1h5m-5 5h5m-5 1h5m-5 11h5m-5 37h5m-5 15h5m-5 1h5m-5 30h5m-5 24h5m-5 11h5m-5 42h5m-5 21h5m-5 7h5m-5 7h5m-5 5h5m-5 10h5m-5 1h5m-4 -338h5m-5 65h5m-5 50h5m-5 11h5m-5 6h5m-5 18h5m-5 5h5m-3 76h5m-2 -257h5m-5 15h5m-5 34h5m-5 0h5m-5 16h5m-5 6h5m-5 27h5m-5 6h5m-5 26h5m-5 10h5m-5 22h5m-5 3h5m-5 19h5m-5 21h5m-5 3h5m-5 13h5m-5 10h5m-5 11h5m-5 4h5m-5 13h5m-5 2h5m-5 9h5m-5 15h5m-5 1h5m-5 37h5m-5 22h5m-5 25h5m-4 -248h5m-5 27h5m-5 11h5m-5 25h5m-5 9h5m-3 -218h5m-5 157h5m-5 11h5m-5 1h5m-5 6h5m-5 1h5m-5 7h5m-5 0h5m-5 5h5m-5 5h5m-5 6h5m-5 3h5m-5 10h5m-5 16h5m-5 40h5m-5 14h5m-5 7h5m-5 8h5m-4 -209h5m-5 13h5m-5 20h5m-5 10h5m-5 78h5m-5 23h5m-3 -220h5m-5 24h5m-5 9h5m-5 1h5m-5 35h5m-5 11h5m-5 2h5m-5 4h5m-5 3h5m-5 11h5m-5 14h5m-5 63h5m-5 12h5m-4 -88h5m-5 25h5m-5 2h5m-5 21h5m-5 23h5m-5 29h5m-5 9h5m-4 -58h5m-5 10h5m-5 25h5m-3 -90h5m-5 37h5m-3 -143h5m-5 182h5m-5 12h5m-5 41h5m-4 -234h5m-5 20h5m-5 56h5m-5 18h5m-5 59h5m-5 129h5m-5 51h5m-5 5h5m-5 13h5m-5 71h5m-5 8h5m-4 -362h5m-5 10h5m-5 24h5m-5 27h5m-5 16h5m-5 16h5m-5 4h5m-5 9h5m-5 0h5m-5 3h5m-5 50h5m-2 -106h5m-5 7h5m-5 14h5m-5 26h5m-5 1h5m-5 18h5m-5 57h5m-5 2h5m-5 20h5m-5 2h5m-5 13h5m-5 14h5m-5 15h5m-1 -208h5m-5 23h5m-5 17h5m-5 9h5m-5 3h5m-5 2h5m-5 21h5m-5 3h5m-5 0h5m-5 7h5m-5 31h5m-5 41h5m-5 6h5m-4 -232h5m-5 81h5m-5 63h5m-3 -130h5m-5 7h5m-5 33h5m-5 24h5m-5 1h5m-5 5h5m-5 9h5m-5 7h5m-5 4h5m-5 1h5m-5 77h5m-5 13h5m-5 36h5m-5 4h5m-5 4h5m-3 -292h5m-5 21h5m-5 43h5m-5 25h5m-5 2h5m-5 5h5m-5 51h5m-5 0h5m-5 31h5m-5 57h5m-5 25h5m-4 -239h5m-5 163h5m-5 18h5m-5 52h5m-5 14h5m-5 13h5m-4 -308h5m-5 183h5m-5 16h5m-5 3h5m-5 43h5m-5 26h5m-1 -45h5m-5 20h5m-5 9h5m-4 -46h5m-4 -112h5m-5 6h5m-5 4h5m-5 80h5m-5 17h5m-5 19h5m-5 59h5m-3 -106h5m-2 -179h5m-4 209h5m-5 98h5m-4 -153h5m-5 1h5m-5 5h5m-5 41h5m-5 30h5m-5 42h5m-4 -335h5m-5 55h5m-5 123h5m-5 74h5m-5 139h5m-5 24h5m-4 -195h5m-5 20h5m-3 64h5m-5 59h5m-5 14h5m-4 -153h5m-5 7h5m-5 3h5m-5 92h5m-5 2h5m-5 18h5m-5 10h5m-5 1h5m-4 -106h5m-5 33h5m-5 70h5m-2 -238h5m-5 9h5m-5 40h5m-5 22h5m-5 46h5m-5 6h5m-5 15h5m-5 9h5m-5 11h5m-5 2h5m-5 8h5m-5 7h5m-5 19h5m-5 26h5m-5 19h5m-5 2h5m-5 9h5m-5 11h5m-2 -154h5m-5 93h5m-4 -133h5m-5 123h5m-5 11h5m-5 32h5m-4 -270h5m-5 94h5m-5 104h5m-5 24h5m-5 52h5m-5 31h5m-5 7h5m-5 25h5m-5 10h5m-4 -286h5m-5 49h5m-5 63h5m-5 46h5m-3 -173h5m-5 35h5m-5 7h5m-5 9h5m-5 7h5m-5 1h5m-5 1h5m-5 5h5m-5 1h5m-5 3h5m-5 9h5m-5 2h5m-5 5h5m-5 1h5m-5 1h5m-5 2h5m-5 6h5m-5 0h5m-5 0h5m-5 12h5m-5 6h5m-5 5h5m-5 13h5m-5 1h5m-5 1h5m-5 0h5m-5 6h5m-5 5h5m-5 10h5m-5 7h5m-5 5h5m-5 15h5m-5 2h5m-5 2h5m-5 22h5m-1 -32h5m-4 -181h5m-5 1h5m-5 35h5m-5 6h5m-5 13h5m-5 6h5m-5 14h5m-5 79h5m-5 1h5m-5 21h5m-5 53h5m-4 -198h5m-5 87h5m-5 90h5m-5 47h5m-5 10h5m-4 -204h5m-5 35h5m-5 24h5m-5 26h5m-5 8h5m-5 12h5m-3 -76h5m-5 2h5m-5 12h5m-5 25h5m-5 2h5m-5 51h5m-4 -215h5m-3 78h5m-2 -47h5m-5 40h5m-5 29h5m-5 57h5m-5 0h5m-5 10h5m-5 6h5m-5 39h5m-4 -132h5m-4 55h5m-5 7h5m-5 11h5m-5 15h5m-5 15h5m-5 10h5m-5 6h5m-5 5h5m-4 -92h5m-5 52h5m-5 36h5m-5 48h5m-2 -217h5m-5 27h5m-5 10h5m-5 8h5m-4 113h5m-4 -2h5m-5 3h5m-5 52h5m-3 -259h5m-5 22h5m-5 97h5m-5 11h5m-5 22h5m-5 4h5m-5 28h5m-5 22h5m-5 0h5m-5 3h5m-5 9h5m-5 5h5m-5 45h5m-4 -159h5m-5 95h5m-5 31h5m-5 10h5m-3 -233h5m-5 15h5m-5 28h5m-5 15h5m-5 25h5m-5 56h5m-5 69h5m-5 21h5m-5 3h5m-5 41h5m-5 5h5m-5 38h5m-5 11h5m-5 11h5m-5 24h5m-4 -310h5m-5 81h5m-5 5h5m-5 11h5m-5 42h5m-5 65h5m-4 -163h5m-3 -13h5m-2 49h5m-5 2h5m-5 16h5m-5 24h5m-5 33h5m-4 -143h5m-5 2h5m-5 13h5m-5 58h5m-4 -50h5m-5 23h5m-5 6h5m-5 32h5m-5 27h5m-5 1h5m-5 13h5m-5 9h5m-5 6h5m-5 2h5m-5 14h5m-4 -19h5m-5 14h5m-5 19h5m-5 2h5m-5 11h5m-3 -132h5m-5 6h5m-5 8h5m-5 15h5m-5 9h5m-5 7h5m-5 2h5m-5 10h5m-5 1h5m-5 4h5m-5 5h5m-5 15h5m-5 18h5m-5 5h5m-5 25h5m-4 -201h5m-5 44h5m-5 19h5m-5 2h5m-5 3h5m-5 4h5m-5 6h5m-5 102h5m-5 13h5m-5 15h5m-5 26h5m-4 -216h5m-5 24h5m-5 16h5m-5 139h5m-4 -108h5m-1 -199h5m-5 54h5m-5 24h5m-5 15h5m-5 43h5m-5 144h5m-3 -72h5m-5 11h5m-5 114h5m-3 -267h5m-5 0h5m-5 55h5m-5 7h5m-5 54h5m-5 124h5m-3 -196h5m-5 9h5m-5 20h5m-5 37h5m-5 8h5m-5 19h5m-5 13h5m-5 3h5m-5 5h5m-5 8h5m-5 0h5m-5 3h5m-5 3h5m-5 26h5m-5 0h5m-5 13h5m-4 -184h5m-5 22h5m-5 50h5m-5 3h5m-5 39h5m-5 4h5m-5 12h5m-5 4h5m-5 15h5m-4 71h5m-3 -164h5m-2 -22h5m-5 29h5m-5 4h5m-5 2h5m-5 7h5m-5 78h5m-5 111h5m-5 105h5m-4 -289h5m0 -31h5m-5 79h5m-5 84h5m0 -57h5m-5 32h5m-5 8h5m-5 5h5m-5 18h5m-5 10h5m-4 -192h5m-5 0h5m-5 78h5m-5 31h5m-3 -150h5m-5 106h5m-5 18h5m-5 2h5m-5 24h5m-5 8h5m-5 11h5m-5 9h5m-5 29h5m-4 0h5m-4 -382h5m-5 146h5m-5 99h5m-5 17h5m-5 31h5m-5 0h5m-5 25h5m-5 2h5m-5 1h5m-5 2h5m-5 13h5m-5 2h5m-5 8h5m-5 21h5m-5 19h5m-4 29h5m-4 -243h5m-5 60h5m-5 22h5m-5 18h5m-5 0h5m-5 3h5m-5 0h5m-5 7h5m-5 2h5m-5 9h5m-5 22h5m-5 28h5m-5 50h5m-5 5h5m-5 5h5m-3 -223h5m1 -17h5m-5 29h5m-5 8h5m-5 16h5m-5 1h5m-5 5h5m-3 -165h5m-5 58h5m-5 119h5m-5 7h5m-5 3h5m-5 58h5m-5 13h5m-5 8h5m-5 50h5m-5 4h5m-5 44h5m-5 1h5m-5 11h5m-1 -158h5m-4 -105h5m-5 20h5m-5 4h5m-5 9h5m-5 16h5m-5 68h5m-4 -101h5m-4 -190h5m-3 345h5m-5 5h5m-5 85h5m0 -191h5m-5 3h5m-5 8h5m-5 8h5m-5 14h5m-5 2h5m-5 5h5m-5 11h5m-5 32h5m-5 29h5m-5 40h5m-3 -154h5m-5 29h5m-5 45h5m-2 -149h5m-5 10h5m-5 25h5m-5 11h5m-5 38h5m-5 15h5m-5 27h5m-5 1h5m-5 1h5m-5 2h5m-5 27h5m-5 1h5m-5 21h5m-4 -126h5m-5 71h5m-5 69h5m-5 2h5m-5 38h5m-5 39h5m0 -307h5m-5 28h5m-5 3h5m-5 7h5m-5 1h5m-5 2h5m-5 10h5m-5 7h5m-5 5h5m-5 1h5m-5 6h5m-5 14h5m-5 2h5m-5 13h5m-4 -69h5m-5 15h5m-4 -115h5m-5 18h5m-5 81h5m-5 8h5m-5 26h5m-5 11h5m-5 23h5m-5 36h5m-5 18h5m-5 20h5m-5 4h5m-5 13h5m-5 30h5m-5 62h5m-5 12h5m2 -319h5m-5 88h5m-5 132h5m-1 -186h5m-5 7h5m-5 6h5m-5 4h5m-5 5h5m-5 1h5m-5 7h5m-5 1h5m-5 0h5m-5 4h5m-5 9h5m-5 7h5m-5 11h5m-5 1h5m-5 7h5m-5 3h5m-5 6h5m-5 2h5m-5 3h5m-5 21h5m-5 2h5m-5 9h5m-5 11h5m-5 32h5m-5 0h5m-5 5h5m-5 2h5m-5 25h5m-4 -194h5m-5 69h5m-5 138h5m-5 6h5m-5 3h5m-1 -229h5m-5 12h5m-5 16h5m-5 26h5m-5 33h5m-3 5h5m-5 19h5m-5 7h5m-5 14h5m0 -118h5m-5 3h5m-5 159h5m-5 2h5m-2 6h5m-4 -3h5m-1 -147h5m-5 26h5m-5 15h5m-5 13h5m-4 -79h5m-5 152h5m-2 -210h5m-3 70h5m-2 17h5m-5 1h5m-5 10h5m-5 107h5m-5 18h5m1 -164h5m-5 39h5m-1 -31h5m-5 2h5m-5 1h5m-5 1h5m-5 1h5m-5 5h5m-5 5h5m-5 15h5m-5 3h5m-5 4h5m-5 11h5m-5 3h5m-5 2h5m-1 148h5m-1 -208h5m-5 10h5m-5 8h5m-5 1h5m-5 21h5m-5 1h5m3 35h5m-2 -123h5m-5 37h5m-5 29h5m-4 -48h5m-4 16h5m-5 16h5m-5 25h5m-4 -47h5m-5 2h5m-5 3h5m-5 2h5m-5 10h5m-5 9h5m-5 13h5m-5 8h5m-5 11h5m-5 3h5m-5 8h5m-4 -82h5m-5 2h5m-5 1h5m-5 8h5m-5 5h5m-5 13h5m-5 0h5m-5 12h5m-5 17h5m-5 3h5m-5 26h5m-4 -67h5m-5 4h5m-5 30h5m-5 19h5m-5 2h5m-5 16h5m-5 0h5m-5 21h5m-5 4h5m-5 37h5m-5 14h5m-2 -170h5m-3 28h5m-4 -68h5m-5 13h5m-5 114h5m-1 2h5m-5 10h5m-4 -101h5m-5 59h5m-5 1h5m-5 26h5m-5 3h5m-5 11h5m-5 0h5m-5 5h5m-5 3h5m-5 13h5m-5 4h5m-5 13h5m-5 4h5m-2 -172h5m-5 4h5m-5 64h5m-5 29h5m-5 1h5m-5 9h5m-5 12h5m-5 0h5m-5 10h5m-5 2h5m-5 13h5m-5 9h5m-5 0h5m-3 -170h5m-5 2h5m-5 16h5m5 67h5m-5 6h5m-5 47h5m-5 26h5m-5 9h5m-5 0h5m-5 42h5m0 -171h5m-5 3h5m-5 1h5m-5 7h5m-5 2h5m-5 1h5m-5 17h5m-5 0h5m-5 0h5m-5 17h5m-5 7h5m-5 3h5m-5 0h5m-5 10h5m-5 4h5m-5 3h5m-5 7h5m-4 -133h5m-5 85h5m-5 16h5m-4 -139h5m-5 10h5m-5 50h5m-5 18h5m-5 62h5m-5 10h5m-5 36h5m-5 13h5m-5 11h5m-3 -65h5m-4 -6h5m-4 -174h5m-5 46h5m-5 16h5m1 -1h5m-5 30h5m-5 29h5m-2 -3h5m-3 -46h5m-5 1h5m-5 6h5m-5 3h5m-5 3h5m-5 2h5m-5 2h5m-5 2h5m-5 1h5m-5 13h5m-5 1h5m-5 1h5m-5 2h5m-5 4h5m-5 20h5m-3 -8h5m-5 5h5m-5 0h5m-5 9h5m-5 2h5m-5 2h5m-5 1h5m-5 2h5m-5 4h5m-5 1h5m-5 6h5m-5 0h5m-5 1h5m-5 4h5m-5 2h5m-5 2h5m-5 2h5m-5 0h5m-5 4h5m-5 1h5m-5 34h5m-3 -166h5m-5 27h5m-5 14h5m-5 43h5m-5 3h5m-5 23h5m-5 5h5m-5 45h5m-5 1h5m-3 -189h5m-3 32h5m-5 23h5m-5 5h5m-5 18h5m-5 1h5m-2 -94h5m-5 100h5m-5 8h5m-5 40h5m-5 15h5m-2 -164h5m-5 31h5m-5 7h5m-5 4h5m-5 1h5m-5 2h5m-5 17h5m-5 4h5m-5 2h5m-5 3h5m-5 3h5m-5 11h5m-5 14h5m-5 4h5m-5 8h5m-5 7h5m-5 14h5m-5 21h5m-5 23h5m-3 -124h5m-5 15h5m-5 36h5m-5 36h5m-4 -115h5m-2 -22h5m-5 32h5m-5 81h5m-5 169h5m-3 -295h5m-5 9h5m-5 8h5m-5 7h5m-5 6h5m-5 2h5m-5 2h5m-5 0h5m-5 3h5m-5 8h5m-5 25h5m-1 13h5m-5 33h5m-5 43h5m2 -114h5m-5 76h5m-4 -90h5m-5 7h5m-5 1h5m-5 6h5m-5 2h5m-5 15h5m-5 2h5m-5 3h5m-5 32h5m-2 -112h5m-5 49h5m-5 17h5m-5 12h5m-5 41h5m-5 10h5m-5 38h5m-5 10h5m3 -110h5m-5 2h5m-5 13h5m-5 3h5m-5 5h5m-5 4h5m-5 6h5m-5 3h5m-5 9h5m-3 -78h5m11 -93h5m-5 25h5m-5 15h5m-5 41h5m-5 77h5m1 -129h5m-5 25h5m-5 36h5m-5 7h5m7 -124h5m-5 25h5m-5 4h5m-5 49h5m-5 17h5m-5 10h5m-5 33h5m-5 18h5m-5 25h5m-5 14h5m-5 7h5m-5 23h5m-3 -216h5m-5 18h5m-5 47h5m-5 13h5m-5 26h5m-5 66h5m0 -126h5m-5 44h5m-2 -40h5m-5 123h5m-5 36h5m-5 32h5m2 -158h5m-5 106h5m4 -130h5m-5 52h5m5 -27h5m-5 28h5m-5 3h5m-5 8h5m-5 49h5m-5 15h5m-4 -130h5m-5 5h5m-5 7h5m-5 3h5m7 -42h5m-5 33h5m-1 -96h5m-5 3h5m-5 28h5m-5 12h5m-5 60h5m-5 31h5m-5 3h5m-5 29h5m-5 90h5m-5 9h5m-5 5h5m1 -252h5m-5 17h5m-5 12h5m1 56h5m-5 22h5m-5 11h5m-5 1h5m-5 7h5m-5 11h5m-4 -159h5m-5 158h5m-3 -138h5m-5 13h5m-5 1h5m-5 134h5m-5 11h5m-5 76h5m0 -175h5m-5 102h5m1 -57h5m0 -55h5m-5 53h5m-5 4h5m12 -101h5m-5 21h5m-5 36h5m5 -14h5m-5 6h5m-5 15h5m-5 3h5m-5 1h5m-5 9h5m-5 27h5m-5 11h5m-5 21h5m-5 24h5m-5 5h5m0 -35h5m-5 30h5m0 -178h5m-5 18h5m-5 0h5m-5 1h5m-5 20h5m-5 24h5m-5 5h5m-5 6h5m-5 9h5m-5 10h5m-5 8h5m-5 9h5m-5 16h5m-5 18h5m-5 4h5m-5 6h5m-5 5h5m-5 6h5m-5 2h5m-1 -85h5m-2 -229h5m-5 73h5m-5 24h5m-5 26h5m-5 12h5m-5 27h5m-5 1h5m-5 5h5m-5 4h5m-5 5h5m-5 1h5m-5 4h5m-5 7h5m-5 8h5m-5 12h5m-5 2h5m-5 11h5m-5 5h5m-5 0h5m-5 8h5m-5 2h5m-5 1h5m-5 0h5m-5 26h5m-5 12h5m-5 3h5m-5 34h5m-5 5h5m-5 13h5m-5 5h5m-5 9h5m-5 47h5m-5 25h5m-2 -192h5m6 -22h5m25 -108h5m-1 -41h5m0 65h5m11 -39h5m-5 51h5m-5 93h5m-5 2h5m-4 -157h5m-5 148h5m-5 147h5m17 -153h5m51 -282h5m-5 10h5m-5 13h5m-5 41h5m-3 122h5m-5 13h5m1 -111h5m25 -125h5m-5 126h5m-5 167h5m19 -49h5m15 -57h5m-5 0h5m-5 27h5m-5 5h5m-5 8h5m-5 5h5m-5 11h5m17 -86h5m-5 57h5"/><path d="M235 1300h5m-2 142h5m14 -90h5m-1 -51h5m0 -36h5m1 167h5m11 -24h5m-5 1h5m-5 1h5m-5 5h5m-5 8h5m-5 1h5m-5 1h5m-5 12h5m-5 4h5m-5 9h5m-4 -105h5m-5 9h5m-5 1h5m-5 21h5m-5 6h5m-5 5h5m-5 11h5m-5 14h5m-5 6h5m-5 14h5m-4 -102h5m-4 39h5m-4 -15h5m-5 10h5m-5 20h5m-5 1h5m-5 14h5m-5 1h5m-5 2h5m-5 0h5m-5 0h5m-5 1h5m-5 4h5m-3 -58h5m-5 23h5m-5 5h5m-5 59h5m-5 40h5m-4 -113h5m-5 4h5m-5 7h5m-5 1h5m-5 2h5m-5 8h5m-5 8h5m-5 10h5m-5 0h5m-5 13h5m-5 12h5m1 -33h5m-5 2h5m-4 -70h5m-5 54h5m-5 3h5m-4 37h5m-5 4h5m-5 9h5m-5 1h5m-5 3h5m-3 -64h5m-5 42h5m-5 18h5m-2 -110h5m-5 23h5m-5 58h5m-3 -12h5m-5 36h5m-4 -70h5m-5 14h5m-4 -9h5m-5 21h5m-5 5h5m-5 19h5m-1 -41h5m-5 6h5m-5 1h5m-5 92h5m-4 -140h5m-5 5h5m-5 1h5m-5 19h5m-5 18h5m-5 15h5m-5 1h5m-5 1h5m-5 12h5m-5 7h5m-5 5h5m-5 1h5m-5 1h5m-5 6h5m-5 8h5m-5 23h5m-5 19h5m-5 16h5m-4 -160h5m-5 146h5m-4 -46h5m-5 35h5m-5 19h5m-5 16h5m-2 -145h5m-5 2h5m-5 43h5m-5 10h5m-5 1h5m-5 6h5m-5 2h5m-5 5h5m-5 0h5m-4 -84h5m-5 8h5m-5 8h5m-5 8h5m-5 5h5m-5 11h5m-5 0h5m-5 2h5m-5 9h5m-5 1h5m-5 15h5m-5 29h5m-3 -103h5m-5 7h5m-5 20h5m-5 41h5m-5 26h5m-5 6h5m-5 31h5m-5 11h5m-3 -40h5m-5 16h5m-4 -77h5m-5 67h5m-4 -10h5m-5 5h5m-5 23h5m-5 14h5m-4 -94h5m-5 2h5m-5 31h5m-5 26h5m-5 3h5m-5 28h5m-4 -198h5m-5 48h5m-5 2h5m-5 29h5m-5 14h5m-5 1h5m-5 6h5m-5 5h5m-5 2h5m-5 20h5m-5 19h5m-5 19h5m-3 1h5m-5 16h5m-4 -154h5m-5 24h5m-5 78h5m-5 24h5m-5 57h5m-5 21h5m-4 -143h5m-5 10h5m-5 6h5m-5 8h5m-5 3h5m-5 1h5m-4 -67h5m-5 72h5m-5 16h5m-5 20h5m-5 50h5m-5 16h5m-1 -168h5m-5 0h5m-5 18h5m-5 24h5m-5 9h5m-5 17h5m-5 36h5m-5 20h5m-5 42h5m-4 -167h5m-5 22h5m-5 9h5m-5 0h5m-5 4h5m-5 4h5m-5 6h5m-5 1h5m-5 9h5m-5 4h5m-5 2h5m-5 2h5m-5 10h5m-5 2h5m-5 5h5m-5 4h5m-5 2h5m-5 13h5m-5 9h5m-5 4h5m-5 6h5m-5 10h5m-5 1h5m-5 0h5m-5 7h5m-5 7h5m-5 3h5m-5 1h5m-5 3h5m-5 0h5m-5 12h5m-3 -129h5m-5 31h5m-5 34h5m-5 22h5m-3 -161h5m-5 68h5m-3 32h5m-5 31h5m-5 4h5m-5 17h5m-5 14h5m-4 -118h5m-5 13h5m-5 1h5m-5 52h5m-5 28h5m-4 -119h5m-5 12h5m-5 28h5m-5 6h5m-5 20h5m-5 28h5m-5 98h5m-4 -77h5m-5 49h5m-5 16h5m-4 -167h5m-5 84h5m-4 -88h5m-5 74h5m-5 25h5m-5 4h5m-5 4h5m-4 -39h5m-4 -91h5m-5 30h5m-5 21h5m-5 12h5m-5 2h5m-5 28h5m-5 149h5m-3 -10h5m0 -294h5m-5 27h5m-5 34h5m-5 34h5m-5 37h5m-5 55h5m-3 -154h5m-5 14h5m-5 6h5m-5 31h5m-5 9h5m-5 25h5m-5 6h5m-5 2h5m-5 10h5m-5 3h5m-5 1h5m-5 4h5m-5 1h5m-5 6h5m-5 6h5m-5 8h5m-5 1h5m-5 0h5m-5 22h5m-5 13h5m-2 -117h5m-5 1h5m-5 11h5m-5 22h5m-5 36h5m-5 37h5m-5 31h5m-4 -111h5m-5 3h5m-5 5h5m-5 45h5m-5 3h5m-5 11h5m-5 13h5m-5 8h5m-5 4h5m-4 -202h5m-5 95h5m-5 30h5m-3 -103h5m-5 9h5m-5 102h5m-4 -66h5m-5 37h5m-5 26h5m-5 2h5m-5 99h5m-5 18h5m-5 3h5m-4 -169h5m-5 37h5m-5 102h5m-4 -208h5m-5 67h5m-5 9h5m-5 2h5m-5 10h5m-5 15h5m-5 28h5m-5 18h5m-5 0h5m-5 35h5m-5 17h5m-3 -188h5m-5 68h5m-5 9h5m-5 15h5m-5 18h5m-5 3h5m-5 1h5m-4 -140h5m-5 28h5m-5 47h5m-5 58h5m-5 132h5m-4 -214h5m-5 67h5m-5 8h5m-5 4h5m-5 1h5m-5 4h5m-5 16h5m-5 2h5m-5 7h5m-5 4h5m-5 21h5m-5 15h5m-1 -147h5m-5 18h5m-5 15h5m-5 3h5m-5 14h5m-5 2h5m-5 4h5m-5 19h5m-5 8h5m-5 5h5m-5 1h5m-5 3h5m-5 33h5m-5 18h5m-4 68h5m-3 -184h5m-4 -176h5m-5 28h5m-5 19h5m-5 12h5m-5 44h5m-5 6h5m-5 7h5m-5 1h5m-5 33h5m-5 6h5m-5 14h5m-5 9h5m-5 2h5m-5 20h5m-5 7h5m-5 11h5m-5 25h5m-5 1h5m-5 6h5m-5 0h5m-5 16h5m-5 3h5m-5 6h5m-5 1h5m-5 3h5m-5 0h5m-5 2h5m-5 78h5m-5 33h5m-5 8h5m-4 -195h5m-5 35h5m-5 8h5m-5 18h5m-4 -175h5m-5 51h5m-5 89h5m-5 12h5m-5 9h5m-5 43h5m-5 0h5m-5 10h5m-5 20h5m-5 2h5m-4 -183h5m-5 115h5m-4 -155h5m-5 84h5m-5 18h5m-5 1h5m-5 89h5m-3 -243h5m-5 68h5m-5 6h5m-5 7h5m-5 49h5m-5 2h5m-5 29h5m-4 -115h5m-5 50h5m-5 16h5m-5 9h5m-5 12h5m-5 11h5m-5 9h5m-5 4h5m-5 4h5m-5 2h5m-5 3h5m-5 21h5m-5 2h5m-5 8h5m-5 8h5m-5 14h5m-5 38h5m-4 -95h5m-5 14h5m-5 23h5m-5 4h5m-5 30h5m-5 19h5m-5 105h5m-4 -353h5m-5 34h5m-5 126h5m-5 32h5m-5 28h5m-3 -133h5m-5 48h5m-5 10h5m-5 18h5m-5 29h5m0 -81h5m-5 30h5m-5 4h5m-5 28h5m-5 10h5m-5 5h5m-5 17h5m-5 79h5m-3 -295h5m-5 138h5m-3 21h5m-5 12h5m-5 10h5m-5 17h5m-5 6h5m-4 -211h5m-5 18h5m-5 14h5m-5 40h5m-5 146h5m-5 100h5m-4 -256h5m-5 27h5m-5 14h5m-5 55h5m-5 4h5m-5 9h5m-5 24h5m-5 1h5m-5 14h5m-5 13h5m-5 17h5m-5 4h5m-5 38h5m-2 -297h5m-5 49h5m-5 7h5m-5 6h5m-5 2h5m-5 9h5m-5 0h5m-5 3h5m-5 48h5m-5 1h5m-5 6h5m-5 15h5m-5 10h5m-5 0h5m-5 18h5m-5 14h5m-5 7h5m-5 9h5m-5 20h5m-5 4h5m-5 38h5m-4 -196h5m-5 8h5m-5 8h5m-5 3h5m-5 15h5m-5 9h5m-5 1h5m-5 7h5m-5 4h5m-5 8h5m-5 12h5m-5 4h5m-5 19h5m-5 6h5m-5 6h5m-5 4h5m-5 8h5m-5 2h5m-5 6h5m-5 21h5m-5 38h5m-4 17h5m-4 -242h5m-5 248h5m-4 -175h5m-5 1h5m-5 10h5m-5 11h5m-5 0h5m-5 23h5m-5 1h5m-5 2h5m-5 34h5m-5 24h5m-5 19h5m-5 5h5m-5 18h5m-5 9h5m-5 0h5m-4 -199h5m-5 17h5m-5 1h5m-5 7h5m-5 2h5m-5 2h5m-5 2h5m-5 4h5m-5 2h5m-5 1h5m-5 6h5m-5 18h5m-5 1h5m-5 4h5m-5 14h5m-5 4h5m-5 10h5m-5 1h5m-5 9h5m-5 3h5m-5 8h5m-5 13h5m-5 4h5m-5 3h5m-5 23h5m-5 7h5m-5 12h5m-3 -167h5m-5 2h5m-5 1h5m-5 70h5m-5 53h5m-4 -38h5m-5 18h5m-4 -46h5m-2 24h5m-5 48h5m-5 41h5m-4 -222h5m-5 23h5m-5 7h5m-5 7h5m-5 3h5m-5 1h5m-5 2h5m-5 10h5m-5 2h5m-5 1h5m-5 6h5m-5 0h5m-5 9h5m-5 3h5m-5 11h5m-5 11h5m-5 0h5m-5 0h5m-5 10h5m-5 10h5m-5 1h5m-5 7h5m-5 2h5m-5 4h5m-5 1h5m-5 4h5m-5 5h5m-5 10h5m-5 25h5m-5 10h5m-5 35h5m-5 23h5m-5 11h5m-5 4h5m-5 23h5m-4 -149h5m-3 -118h5m-5 3h5m-5 14h5m-5 12h5m-5 5h5m-5 7h5m-5 0h5m-5 14h5m-5 10h5m-5 0h5m-5 2h5m-5 9h5m-5 6h5m-5 8h5m-5 10h5m-5 14h5m-4 -155h5m-5 38h5m-5 26h5m-5 1h5m-5 10h5m-5 8h5m-5 24h5m-5 12h5m-5 3h5m-5 20h5m-5 49h5m-3 -151h5m-5 5h5m-5 15h5m-5 16h5m-5 38h5m-5 15h5m-5 21h5m-5 16h5m-2 -130h5m-5 61h5m-3 -110h5m-5 43h5m-5 9h5m-5 10h5m-5 34h5m-5 5h5m-5 4h5m-5 5h5m-5 33h5m-5 3h5m-5 8h5m-5 28h5m-5 72h5m-4 -179h5m-5 2h5m-5 17h5m-5 4h5m-5 2h5m-5 23h5m-5 19h5m-5 8h5m-5 24h5m-5 1h5m-5 12h5m-5 12h5m-5 21h5m-5 30h5m-5 2h5m-5 0h5m-5 3h5m-5 25h5m-5 27h5m-3 30h5m-3 -205h5m-5 19h5m-5 18h5m-5 38h5m-5 1h5m-5 9h5m-5 30h5m-5 0h5m-5 36h5m-4 -345h5m-5 5h5m-5 18h5m-5 3h5m-5 17h5m-5 37h5m-5 48h5m-5 41h5m-5 5h5m-5 13h5m-5 7h5m-5 25h5m-5 9h5m-5 6h5m-5 7h5m-5 44h5m-5 30h5m-5 4h5m-5 95h5m-4 -305h5m-5 30h5m-5 73h5m-5 33h5m-5 5h5m-5 25h5m-4 -182h5m-5 4h5m-5 71h5m-5 14h5m-5 6h5m-5 9h5m-3 -127h5m-5 69h5m-5 16h5m-5 5h5m-5 72h5m-5 46h5m-4 -83h5m-3 -156h5m-3 120h5m-5 38h5m-5 36h5m-5 2h5m-3 -160h5m-5 12h5m-5 30h5m-5 29h5m-5 17h5m-5 15h5m-5 2h5m-5 3h5m-5 50h5m-5 11h5m-5 2h5m-2 -207h5m-5 8h5m-5 34h5m-5 9h5m-5 16h5m-5 22h5m-5 41h5m-5 9h5m-5 21h5m-5 26h5m-5 14h5m-5 2h5m-5 1h5m-5 3h5m-5 30h5m-5 48h5m-5 5h5m-4 -164h5m-5 50h5m-5 8h5m-3 -170h5m-5 52h5m-5 11h5m-5 45h5m-5 4h5m-5 2h5m-5 1h5m-5 29h5m-5 53h5m-5 78h5m-5 22h5m-2 -308h5m-5 49h5m-5 12h5m-5 19h5m-5 26h5m-5 50h5m-5 18h5m-5 40h5m-5 1h5m-5 9h5m-5 23h5m-5 5h5m-5 10h5m-5 17h5m-5 69h5m-4 -350h5m-5 229h5m-5 10h5m-5 13h5m-4 -267h5m-5 1h5m-5 8h5m-5 5h5m-5 4h5m-5 29h5m-5 10h5m-5 27h5m-5 48h5m-5 36h5m-5 33h5m-5 7h5m-5 6h5m-5 51h5m-5 33h5m-5 34h5m-4 -296h5m-5 48h5m-5 31h5m-5 62h5m-5 0h5m-5 68h5m-5 32h5m-5 35h5m-4 -278h5m-5 1h5m-5 13h5m-5 12h5m-5 6h5m-5 2h5m-5 10h5m-5 14h5m-5 38h5m-5 14h5m-5 13h5m-5 30h5m-5 5h5m-5 7h5m-5 1h5m-5 27h5m-5 30h5m-5 13h5m-5 11h5m-5 5h5m-5 1h5m-4 -303h5m-5 14h5m-5 35h5m-5 8h5m-5 119h5m-5 17h5m-5 41h5m-5 4h5m-4 -323h5m-5 183h5m-5 3h5m-5 1h5m-5 8h5m-5 14h5m-5 4h5m-5 13h5m-5 9h5m-5 3h5m-5 19h5m-5 20h5m-5 37h5m-5 89h5m-5 11h5m-5 95h5m-5 29h5m-4 -267h5m-5 16h5m-4 -60h5m-5 3h5m-5 3h5m-5 1h5m-5 6h5m-5 13h5m-5 22h5m-5 12h5m-5 2h5m-5 6h5m-5 24h5m-5 12h5m-5 94h5m-4 -253h5m-5 49h5m-5 83h5m-5 30h5m-4 -56h5m-2 -187h5m-5 41h5m-5 49h5m-5 17h5m-5 43h5m-5 17h5m-5 3h5m-5 20h5m-5 24h5m-5 62h5m-4 -148h5m-5 8h5m-5 16h5m-5 20h5m-5 2h5m-5 14h5m-5 8h5m-5 2h5m-5 3h5m-5 2h5m-5 9h5m-5 12h5m-5 13h5m-3 -279h5m-3 65h5m-5 6h5m-5 6h5m-5 10h5m-5 10h5m-5 13h5m-5 1h5m-5 4h5m-5 4h5m-5 4h5m-5 12h5m-5 15h5m-5 43h5m-5 11h5m-5 16h5m-5 14h5m-5 20h5m-5 11h5m-4 -198h5m-5 111h5m-5 12h5m-4 -132h5m-5 175h5m-5 16h5m-5 12h5m-5 9h5m-5 19h5m-5 2h5m-5 12h5m-4 -278h5m-5 13h5m-5 58h5m-5 19h5m-5 24h5m-5 36h5m-5 44h5m-5 45h5m-5 111h5m-4 -334h5m-5 13h5m-5 33h5m-5 22h5m-5 12h5m-5 17h5m-5 1h5m-5 19h5m-5 11h5m-5 15h5m-5 54h5m-5 4h5m-5 15h5m-5 14h5m-5 1h5m-5 6h5m-5 19h5m-5 8h5m-5 10h5m-5 46h5m-4 -125h5m-5 10h5m-5 7h5m-5 33h5m-5 14h5m-3 -224h5m-5 79h5m-5 22h5m-5 25h5m-5 44h5m-5 3h5m-5 21h5m-5 52h5m-4 -318h5m-5 79h5m-5 42h5m-5 4h5m-5 47h5m-5 22h5m-5 0h5m-5 62h5m-5 44h5m-5 60h5m-4 -381h5m-5 9h5m-5 37h5m-5 42h5m-5 5h5m-5 45h5m-5 24h5m-5 6h5m-5 32h5m-5 6h5m-5 6h5m-5 11h5m-5 11h5m-5 1h5m-5 1h5m-5 11h5m-5 45h5m-5 0h5m-5 9h5m-5 6h5m-5 48h5m-5 10h5m-5 7h5m-5 8h5m-5 32h5m-4 -323h5m-5 21h5m-5 17h5m-5 6h5m-5 15h5m-5 22h5m-5 64h5m-5 28h5m-5 35h5m-5 10h5m-5 18h5m-5 28h5m-5 7h5m-5 5h5m-5 29h5m-5 11h5m-5 27h5m-4 -304h5m-5 5h5m-5 2h5m-5 30h5m-5 8h5m-5 28h5m-5 27h5m-5 2h5m-5 13h5m-5 14h5m-5 39h5m-5 0h5m-5 17h5m-4 -245h5m-5 20h5m-5 10h5m-5 15h5m-4 -29h5m-5 8h5m-5 83h5m-5 69h5m-4 -147h5m-5 53h5m-5 59h5m-5 46h5m-5 14h5m-5 1h5m-5 8h5m-5 26h5m-4 -207h5m-4 -24h5m-5 12h5m-5 25h5m-5 30h5m-5 1h5m-5 8h5m-5 14h5m-5 12h5m-5 2h5m-5 5h5m-5 21h5m-5 1h5m-5 12h5m-5 2h5m-5 1h5m-5 7h5m-5 15h5m-5 2h5m-5 27h5m-5 0h5m-5 46h5m-5 40h5m-5 62h5m-5 8h5m-5 14h5m-5 12h5m-5 2h5m-4 -63h5m-4 -115h5m0 -94h5m-5 30h5m-5 26h5m-4 -128h5m-5 3h5m-5 22h5m-5 8h5m-5 15h5m-5 3h5m-5 1h5m-5 3h5m-5 4h5m-5 18h5m-5 9h5m-5 10h5m-5 17h5m-5 11h5m-5 2h5m-5 2h5m-5 0h5m-5 10h5m-5 4h5m-5 2h5m-5 3h5m-5 0h5m-5 6h5m-5 23h5m-5 1h5m-5 22h5m-5 36h5m-4 -224h5m-5 3h5m-5 80h5m-5 3h5m-5 34h5m-5 90h5m-4 -267h5m-5 12h5m-5 3h5m-5 0h5m-5 22h5m-5 13h5m-5 13h5m-5 4h5m-5 8h5m-5 5h5m-5 5h5m-5 23h5m-5 0h5m-5 4h5m-5 6h5m-5 6h5m-5 2h5m-5 3h5m-5 6h5m-5 6h5m-5 5h5m-5 7h5m-5 0h5m-5 6h5m-5 4h5m-5 10h5m-5 0h5m-5 8h5m-5 9h5m-5 13h5m-5 2h5m-5 7h5m-5 17h5m-5 1h5m-5 19h5m-5 0h5m0 -367h5m-4 172h5m-5 12h5m-5 14h5m-5 11h5m-5 12h5m-5 5h5m-5 9h5m-5 1h5m-5 1h5m-5 23h5m-5 26h5m-5 10h5m-5 58h5m-5 3h5m-4 -191h5m-5 29h5m-5 35h5m-5 11h5m-5 23h5m-5 5h5m-5 3h5m-5 8h5m-5 1h5m-5 6h5m-5 113h5m-4 -173h5m-5 2h5m-5 17h5m-5 18h5m-5 7h5m-5 120h5m-1 -199h5m-5 24h5m-5 4h5m-5 32h5m-5 7h5m-5 36h5m-5 57h5m-2 -146h5m-5 22h5m-5 30h5m-5 57h5m-5 2h5m-5 8h5m-4 -307h5m-5 44h5m-5 72h5m-5 49h5m-5 17h5m-5 41h5m-5 39h5m-5 25h5m-5 32h5m-5 25h5m-5 12h5m-5 16h5m-2 -219h5m-5 198h5m-4 -115h5m-5 169h5m-3 -216h5m-5 3h5m-5 26h5m-5 1h5m-5 5h5m-5 7h5m-5 22h5m-5 6h5m-5 12h5m-5 4h5m-5 19h5m-5 1h5m-5 9h5m-5 21h5m-5 8h5m-5 8h5m-5 7h5m-5 25h5m-5 1h5m-5 25h5m-4 -211h5m-5 59h5m-5 15h5m-5 14h5m-4 -140h5m-5 164h5m-4 -269h5m-5 208h5m-5 9h5m-5 38h5m-3 2h5m-5 67h5m-4 -355h5m-5 151h5m-5 50h5m-5 12h5m-5 154h5m-4 -266h5m-5 7h5m-5 64h5m-5 9h5m-5 21h5m-5 5h5m-5 14h5m-5 10h5m-5 3h5m-5 1h5m-5 23h5m-5 59h5m-5 13h5m-5 2h5m-5 16h5m-5 7h5m-5 32h5m-2 -328h5m-5 62h5m-5 24h5m-5 24h5m-5 102h5m-5 59h5m-5 14h5m-5 10h5m-1 -273h5m-5 20h5m-5 10h5m-5 7h5m-5 9h5m-5 3h5m-5 5h5m-5 11h5m-5 13h5m-5 13h5m-5 5h5m-5 3h5m-5 5h5m-5 6h5m-5 8h5m-5 7h5m-5 2h5m-5 3h5m-5 8h5m-5 9h5m-5 2h5m-5 3h5m-5 2h5m-5 8h5m-5 8h5m-5 15h5m-5 5h5m-5 1h5m-5 4h5m-5 12h5m-5 5h5m-5 2h5m-5 2h5m-5 14h5m-5 0h5m-5 6h5m-5 2h5m-5 6h5m-5 2h5m-5 7h5m-5 19h5m-5 2h5m-5 5h5m-5 1h5m-5 3h5m-5 6h5m-4 -125h5m-1 -120h5m-5 2h5m-5 56h5m-5 3h5m-5 6h5m-5 22h5m-5 6h5m-5 83h5m-5 6h5m-5 23h5m-5 2h5m-4 -167h5m-5 15h5m-5 16h5m-5 47h5m-5 16h5m-5 35h5m-5 115h5m-4 -402h5m-5 19h5m-5 93h5m-5 262h5m-4 -303h5m-5 26h5m-5 29h5m-5 1h5m-5 4h5m-5 11h5m-5 31h5m-5 33h5m-5 22h5m-5 1h5m-5 29h5m-4 -100h5m-4 27h5m-5 22h5m-4 -117h5m-5 59h5m-5 51h5m-5 91h5m-3 -15h5m-5 121h5m-3 -292h5m-5 0h5m-5 57h5m-5 17h5m-5 0h5m-5 11h5m-5 23h5m-5 7h5m-5 44h5m-5 13h5m-5 10h5m-5 18h5m-5 4h5m-5 3h5m-5 3h5m-5 0h5m-5 3h5m-4 -412h5m-5 196h5m-5 6h5m-5 12h5m-5 4h5m-5 2h5m-5 17h5m-5 1h5m-5 25h5m-5 0h5m-5 10h5m-5 3h5m-5 7h5m-5 0h5m-5 9h5m-5 4h5m-5 5h5m-5 3h5m-5 8h5m-5 5h5m-5 2h5m-5 4h5m-5 3h5m-5 3h5m-5 4h5m-5 7h5m-5 28h5m-5 29h5m-5 4h5m-5 22h5m-2 -47h5m-3 -235h5m-5 47h5m-5 16h5m-5 5h5m-5 6h5m-5 9h5m-5 28h5m-5 28h5m-5 10h5m-5 0h5m-5 14h5m-5 4h5m-5 9h5m-5 26h5m-5 15h5m-5 2h5m-5 10h5m-5 24h5m-4 -218h5m-5 63h5m-5 26h5m-5 19h5m-5 6h5m-5 39h5m-5 5h5m-5 1h5m-5 7h5m-5 35h5m-5 6h5m-4 -119h5m-5 9h5m-5 4h5m-5 56h5m-5 44h5m-2 -245h5m-5 135h5m-5 6h5m-5 6h5m-5 17h5m-5 41h5m-5 1h5m-2 -229h5m-5 22h5m-5 10h5m-5 93h5m-5 11h5m-5 55h5m-5 20h5m-5 26h5m-5 3h5m-5 25h5m-5 63h5m-5 39h5m-4 -273h5m-5 25h5m-5 29h5m-5 1h5m-5 0h5m-5 16h5m-5 2h5m-5 1h5m-5 6h5m-5 48h5m-5 76h5m-4 -144h5m-4 -47h5m-5 2h5m-5 63h5m-5 1h5m-5 1h5m-5 4h5m-5 0h5m-5 5h5m-5 2h5m-5 1h5m-5 0h5m-5 1h5m-5 12h5m-5 2h5m-5 5h5m-5 34h5m-5 48h5m-5 22h5m-5 22h5m-5 59h5m-4 -291h5m-4 9h5m-5 16h5m-5 31h5m-3 -56h5m-5 2h5m-5 14h5m-5 12h5m-5 28h5m-5 9h5m-5 25h5m-5 5h5m-5 2h5m-5 19h5m-5 4h5m-5 18h5m-5 5h5m-5 50h5m-5 14h5m0 -270h5m-5 16h5m-5 9h5m-5 5h5m-5 3h5m-5 3h5m-5 17h5m-5 4h5m-5 4h5m-5 3h5m-5 8h5m-5 10h5m-5 18h5m-5 9h5m-5 6h5m-5 16h5m-5 38h5m-5 6h5m-5 12h5m-5 5h5m-5 5h5m-5 5h5m-5 0h5m-5 18h5m-5 10h5m-5 1h5m-5 12h5m-5 5h5m-4 -160h5m-5 69h5m-5 22h5m-3 -69h5m-4 -18h5m-5 8h5m-5 1h5m-5 32h5m-5 20h5m-5 37h5m-5 28h5m-5 1h5m-3 -218h5m-5 3h5m-5 76h5m-5 6h5m-5 4h5m-5 14h5m-5 2h5m-5 13h5m-5 17h5m-4 -114h5m-5 5h5m-5 16h5m-5 38h5m-5 8h5m-5 27h5m-5 6h5m-5 3h5m-5 4h5m-5 0h5m-5 5h5m-5 26h5m-5 13h5m-5 17h5m-5 3h5m-5 46h5m-3 -243h5m-5 8h5m-5 19h5m-5 1h5m-5 5h5m-5 9h5m-5 2h5m-5 1h5m-5 4h5m-5 6h5m-5 1h5m-5 21h5m-5 7h5m-5 22h5m-5 8h5m-5 141h5m-4 -210h5m-5 4h5m-5 14h5m-5 4h5m-5 5h5m-5 15h5m-5 2h5m-5 1h5m-5 7h5m-5 26h5m-5 6h5m-5 7h5m-5 7h5m-5 2h5m-4 -44h5m-5 18h5m-5 42h5m-5 10h5m-5 1h5m-4 -164h5m-5 54h5m-5 30h5m-5 29h5m-5 26h5m-5 8h5m-5 19h5m-5 1h5m-5 68h5m-5 0h5m-3 -245h5m-5 1h5m-5 92h5m-5 24h5m-5 18h5m-5 9h5m-5 3h5m-4 -134h5m-5 64h5m-5 34h5m-5 77h5m-3 -171h5m-5 25h5m-5 65h5m-5 30h5m-5 20h5m-5 62h5m-5 6h5m-5 5h5m-5 37h5m-5 46h5m-5 2h5m-5 8h5m-3 -292h5m-5 119h5m-5 36h5m-5 29h5m-5 42h5m-4 -132h5m-5 3h5m-5 11h5m-5 2h5m-5 168h5m-4 -291h5m-5 8h5m-5 3h5m-5 6h5m-5 4h5m-5 1h5m-5 1h5m-5 3h5m-5 5h5m-5 4h5m-5 1h5m-5 6h5m-5 3h5m-5 1h5m-5 3h5m-5 2h5m-5 2h5m-5 0h5m-5 10h5m-5 7h5m-5 8h5m-5 16h5m-5 0h5m-5 17h5m-5 1h5m-5 8h5m-5 33h5m-5 20h5m-5 51h5m-3 -219h5m-5 4h5m-5 15h5m-5 5h5m-5 5h5m-5 1h5m-5 22h5m-5 82h5m-5 17h5m-5 43h5m-5 2h5m-5 56h5m-4 -176h5m-5 53h5m-5 17h5m-5 11h5m-5 1h5m-4 -150h5m-5 6h5m-5 40h5m-5 21h5m-5 1h5m-5 20h5m-5 70h5m-5 33h5m-5 16h5m-4 -131h5m-5 118h5m-4 -122h5m-2 2h5m1 -106h5m-5 22h5m-5 42h5m-5 37h5m-5 7h5m-5 39h5m-4 14h5m-4 -120h5m-5 8h5m-5 12h5m-5 11h5m-5 10h5m-5 6h5m-5 14h5m-5 105h5m-5 8h5m-1 -59h5m-5 63h5m-3 -254h5m-5 54h5m-5 0h5m-5 12h5m-5 5h5m-5 2h5m-5 26h5m-5 3h5m-5 13h5m-5 3h5m-5 7h5m-5 2h5m-5 5h5m-5 0h5m-5 10h5m-5 2h5m-5 5h5m-5 13h5m-5 7h5m-5 2h5m-5 22h5m-5 56h5m-4 -223h5m-5 13h5m-5 4h5m-5 0h5m-5 12h5m-5 78h5m-5 11h5m-5 12h5m-4 -149h5m-5 192h5m-5 38h5m-4 -254h5m-5 98h5m-5 56h5m-5 9h5m-5 90h5m-5 97h5m-3 -202h5m-5 4h5m-5 5h5m-5 1h5m-5 9h5m-5 4h5m-5 9h5m-5 0h5m-5 30h5m-5 33h5m-5 4h5m-3 -182h5m-5 8h5m-5 50h5m-5 15h5m-5 48h5m-4 -91h5m-5 1h5m-5 14h5m-5 16h5m-5 4h5m-5 2h5m-5 2h5m-5 19h5m-5 0h5m-5 6h5m-5 3h5m-5 5h5m-5 2h5m-5 4h5m-5 15h5m-5 53h5m-4 -143h5m-5 15h5m-5 30h5m-5 6h5m-5 1h5m-5 8h5m-5 8h5m-5 3h5m-5 0h5m-5 27h5m-5 33h5m-5 5h5m-5 4h5m-4 -214h5m-5 114h5m-5 7h5m-5 22h5m-4 -99h5m-5 2h5m-5 1h5m-5 14h5m-5 4h5m-5 4h5m-5 10h5m-5 9h5m-5 9h5m-5 3h5m-5 13h5m-5 8h5m-5 3h5m-5 5h5m-5 1h5m-5 14h5m-5 5h5m-5 13h5m-5 12h5m-5 26h5m-5 46h5m-4 -182h5m-5 27h5m-5 1h5m-5 31h5m-5 7h5m-5 53h5m-5 7h5m-4 -284h5m-5 75h5m-5 29h5m-5 2h5m-5 17h5m-5 14h5m-5 1h5m-5 16h5m-5 12h5m-5 13h5m-5 17h5m-5 1h5m-5 17h5m-5 27h5m-5 10h5m-5 14h5m-5 6h5m-5 6h5m-5 12h5m-5 11h5m-5 9h5m-5 47h5m-5 4h5m-3 -82h5m-5 87h5m-4 -271h5m-5 3h5m-5 1h5m-5 3h5m-5 6h5m-5 33h5m-5 16h5m-5 0h5m-5 8h5m-5 4h5m-5 12h5m-5 5h5m-5 4h5m-5 8h5m-5 3h5m-5 0h5m-5 14h5m-5 72h5m-5 34h5m-4 -125h5m-5 75h5m-5 13h5m-5 10h5m-5 8h5m-3 -162h5m-5 9h5m-5 30h5m-5 14h5m-5 4h5m-5 1h5m-5 0h5m-5 0h5m-5 2h5m-5 10h5m-5 10h5m-5 10h5m-5 6h5m-5 19h5m-5 2h5m-5 3h5m-5 1h5m-5 17h5m-5 0h5m-5 4h5m-5 2h5m-5 19h5m-5 11h5m-5 1h5m-5 2h5m-5 9h5m-5 9h5m-5 24h5m-4 -277h5m-5 83h5m-5 13h5m-5 8h5m-5 16h5m-5 3h5m-5 11h5m-5 5h5m-5 6h5m-5 2h5m-5 1h5m-5 1h5m-5 12h5m-5 4h5m-5 4h5m-5 31h5m-5 12h5m-5 1h5m-5 1h5m-5 8h5m-5 3h5m-5 1h5m-5 5h5m-5 1h5m-5 14h5m-5 3h5m-5 2h5m-5 8h5m-4 -241h5m-5 113h5m-3 -25h5m-5 45h5m-5 23h5m-5 16h5m-5 41h5m-4 -215h5m-5 20h5m-5 36h5m-5 13h5m-5 40h5m-5 3h5m-5 8h5m-5 4h5m-5 4h5m-5 15h5m-5 41h5m-5 69h5m-3 -201h5m-5 26h5m-5 42h5m-5 22h5m-5 0h5m-5 8h5m-4 -123h5m-5 160h5m-4 -194h5m-5 25h5m-5 5h5m-5 5h5m-5 8h5m-5 8h5m-5 31h5m-5 0h5m-5 11h5m-5 20h5m-5 11h5m-5 2h5m-5 3h5m-5 12h5m-5 4h5m-5 2h5m-5 15h5m-5 12h5m-2 -15h5m-2 -149h5m-5 26h5m-5 35h5m-5 5h5m-5 1h5m-5 40h5m-5 0h5m-5 94h5m-5 2h5m-5 6h5m-5 65h5m-4 -316h5m-5 4h5m-5 231h5m-4 -120h5m-5 22h5m-4 -152h5m-5 15h5m-5 1h5m-5 6h5m-5 6h5m-5 12h5m-5 1h5m-5 19h5m-5 7h5m-5 31h5m-5 6h5m-5 8h5m-5 8h5m-5 7h5m-5 11h5m-5 10h5m-5 36h5m-5 13h5m-4 -240h5m-5 30h5m-5 28h5m-5 17h5m-5 1h5m-5 2h5m-5 6h5m-5 5h5m-5 3h5m-5 22h5m-5 34h5m-5 10h5m-5 16h5m-5 6h5m-5 18h5m-5 7h5m-5 10h5m-5 9h5m-5 10h5m-5 2h5m-5 26h5m-5 10h5m-5 8h5m-5 1h5m-5 21h5m-5 5h5m-5 16h5m-5 9h5m-5 47h5m-5 6h5m-4 -266h5m-5 8h5m-5 10h5m-5 4h5m-5 14h5m-5 30h5m-5 11h5m-5 12h5m-5 128h5m-2 -292h5m-5 19h5m-5 85h5m-5 10h5m-5 24h5m-5 43h5m-5 12h5m-5 6h5m-5 78h5m-5 56h5m-4 -306h5m-5 127h5m-5 14h5m-5 6h5m-5 2h5m-5 6h5m-5 8h5m-5 2h5m-5 7h5m-5 0h5m-5 7h5m-5 0h5m-5 3h5m-5 2h5m-5 22h5m-5 14h5m-2 -221h5m-5 1h5m-5 0h5m-5 20h5m-5 3h5m-5 6h5m-5 3h5m-5 13h5m-5 27h5m-5 14h5m-5 8h5m-5 2h5m-5 18h5m-5 36h5m-5 50h5m-5 29h5m-4 -158h5m-3 -31h5m-5 62h5m-5 42h5m-5 32h5m-5 23h5m-5 8h5m-5 26h5m-3 -128h5m-4 -30h5m-4 -35h5m-5 10h5m-5 81h5m-5 5h5m-5 97h5m-4 -213h5m-5 12h5m-5 16h5m-5 24h5m-5 3h5m-5 8h5m-5 24h5m-5 102h5m-5 6h5m-3 -154h5m-5 25h5m-5 5h5m-5 5h5m-5 69h5m-4 -347h5m-5 10h5m-5 34h5m-5 7h5m-5 44h5m-5 6h5m-5 2h5m-5 1h5m-5 3h5m-5 13h5m-5 3h5m-5 11h5m-5 14h5m-5 2h5m-5 12h5m-5 12h5m-5 7h5m-5 11h5m-5 3h5m-5 10h5m-5 17h5m-5 4h5m-5 7h5m-5 25h5m-5 27h5m-5 14h5m-5 34h5m-5 0h5m-5 7h5m-5 28h5m-5 2h5m-5 9h5m-5 9h5m-5 26h5m-5 8h5m-5 14h5m-4 -230h5m-5 33h5m-5 40h5m-5 53h5m-5 1h5m-5 23h5m-5 5h5m-4 -98h5m-5 9h5m-5 74h5m-4 -210h5m-5 2h5m-5 12h5m-5 86h5m-5 44h5m-4 -144h5m-5 11h5m-5 20h5m-5 19h5m-5 0h5m-5 2h5m-5 2h5m-5 1h5m-5 7h5m-5 4h5m-5 11h5m-5 17h5m-5 36h5m-5 9h5m-5 30h5m-5 5h5m-5 12h5m-5 13h5m-5 43h5m-5 1h5m-5 17h5m-5 19h5m-5 13h5m-5 9h5m-5 63h5m-4 -312h5m-5 19h5m-5 15h5m-5 32h5m-5 10h5m-5 9h5m-5 12h5m-5 2h5m-5 2h5m-5 5h5m-5 0h5m-5 4h5m-5 18h5m-5 6h5m-5 2h5m-5 8h5m-5 10h5m-5 1h5m-5 3h5m-5 2h5m-5 15h5m-5 1h5m-5 4h5m-5 2h5m-5 16h5m-5 7h5m-5 5h5m-4 -110h5m-1 -75h5m-5 7h5m-5 5h5m-5 4h5m-5 43h5m-5 2h5m-5 12h5m-5 9h5m-4 -35h5m-4 -89h5m-5 64h5m-5 6h5m-5 14h5m-5 4h5m-5 16h5m-5 6h5m-5 8h5m-5 11h5m-5 2h5m-5 51h5m-5 45h5m-4 -175h5m-5 35h5m-5 96h5m1 -249h5m-5 51h5m-5 41h5m-5 9h5m-5 5h5m-5 3h5m-5 30h5m-5 19h5m-5 11h5m-5 13h5m-5 4h5m-5 3h5m-5 16h5m-5 3h5m-5 18h5m-5 16h5m-5 79h5m-2 -264h5m-5 161h5m-3 -235h5m-5 110h5m-5 26h5m-5 39h5m-5 11h5m-5 47h5m-5 21h5m-4 -114h5m-5 6h5m-5 22h5m-5 29h5m-5 10h5m-5 6h5m-5 10h5m-4 -75h5m-5 27h5m-5 0h5m-5 34h5m-5 13h5m-4 -160h5m-5 17h5m-5 47h5m-5 4h5m-5 48h5m-5 49h5m-5 7h5m-3 -8h5m-5 2h5m-5 7h5m-5 20h5m-5 12h5m-3 -204h5m-5 87h5m-5 67h5m-5 68h5m-4 -144h5m-5 11h5m-5 18h5m-5 2h5m-5 10h5m-5 134h5m-4 -262h5m-5 53h5m-5 23h5m-5 38h5m-5 1h5m-5 45h5m-5 10h5m-5 52h5m-5 12h5m-4 -213h5m-5 52h5m-5 31h5m-5 30h5m-4 -35h5m-4 -35h5m-5 22h5m-5 36h5m-5 24h5m-4 -64h5m-5 2h5m-5 3h5m-5 15h5m-5 65h5m-5 8h5m-5 48h5m-3 -183h5m-5 14h5m-5 7h5m-5 24h5m-5 4h5m-5 4h5m-5 8h5m-5 26h5m-5 6h5m-5 4h5m-5 8h5m-5 2h5m-4 -71h5m-5 41h5m-5 17h5m-3 -184h5m-5 105h5m-5 24h5m-5 1h5m-5 33h5m-5 10h5m-5 29h5m-3 -102h5m-4 6h5m-5 5h5m-5 40h5m-5 87h5m-5 32h5m-5 8h5m-5 12h5m-3 -235h5m-5 23h5m-5 20h5m-5 0h5m-5 7h5m-5 13h5m-5 44h5m-4 -137h5m-5 9h5m-5 5h5m-5 0h5m-5 12h5m-5 3h5m-5 11h5m-5 13h5m-5 19h5m-5 8h5m-5 8h5m-5 8h5m-5 2h5m-5 1h5m-5 2h5m-5 6h5m-5 13h5m-5 2h5m-5 10h5m-5 6h5m-5 1h5m-5 2h5m-5 2h5m-5 5h5m-5 1h5m-5 27h5m-5 6h5m-5 1h5m-5 4h5m-5 6h5m-5 9h5m-5 4h5m-5 13h5m-3 -348h5m-5 2h5m-5 14h5m-5 50h5m-5 9h5m-5 19h5m-5 14h5m-5 1h5m-5 5h5m-5 13h5m-5 12h5m-5 4h5m-5 11h5m-5 11h5m-5 18h5m-5 20h5m-5 0h5m-5 84h5m-5 4h5m-5 6h5m-5 33h5m-5 17h5m-4 -136h5m-5 14h5m-5 13h5m-5 7h5m-5 4h5m-5 1h5m-5 9h5m-5 4h5m-5 7h5m-5 7h5m-5 5h5m-5 36h5m-3 -170h5m-5 74h5m-5 52h5m-4 100h5m-3 -195h5m-5 7h5m-5 10h5m-5 18h5m-5 14h5m-5 27h5m-5 2h5m-5 4h5m-5 2h5m-5 0h5m-5 1h5m-5 1h5m-5 2h5m-5 0h5m-5 7h5m-5 11h5m-5 1h5m-5 0h5m-5 5h5m-5 1h5m-5 3h5m-5 24h5m-5 2h5m-5 45h5m-4 -181h5m-5 3h5m-5 35h5m-5 17h5m-5 20h5m-4 -119h5m-5 31h5m-5 22h5m-5 157h5m-5 11h5m-5 6h5m-5 1h5m-5 9h5m-3 -29h5m-3 -217h5m-5 11h5m-5 52h5m-5 22h5m-5 77h5m-4 -94h5m-5 8h5m-5 72h5m-3 -120h5m-5 6h5m-5 3h5m-5 7h5m-5 1h5m-5 5h5m-5 1h5m-5 7h5m-5 2h5m-5 12h5m-5 1h5m-5 5h5m-5 10h5m-5 5h5m-5 11h5m-5 0h5m-5 4h5m-5 13h5m-5 1h5m-5 20h5m-5 1h5m-5 7h5m-5 6h5m-5 3h5m-5 7h5m-5 10h5m-4 -200h5m-5 12h5m-5 6h5m-5 25h5m-5 6h5m-5 108h5m-5 43h5m-5 20h5m-3 -258h5m-5 22h5m-5 39h5m-5 45h5m-5 9h5m-5 12h5m-5 31h5m-5 1h5m-5 26h5m-5 6h5m-5 3h5m-4 -154h5m-5 65h5m-5 9h5m-5 38h5m-5 2h5m-5 3h5m-5 1h5m-5 0h5m-5 6h5m-5 1h5m-5 6h5m-5 7h5m-5 1h5m-5 5h5m-5 17h5m-5 4h5m-5 106h5m-4 -176h5m-5 6h5m-5 11h5m-3 -28h5m-5 48h5m-5 18h5m-5 2h5m-5 9h5m-5 18h5m-4 -140h5m-5 28h5m-5 28h5m-5 32h5m-5 7h5m-5 24h5m-1 -131h5m-5 7h5m-5 2h5m-5 18h5m-5 2h5m-5 2h5m-5 3h5m-5 18h5m-5 22h5m-5 13h5m-5 6h5m-5 2h5m-5 9h5m-5 54h5m-5 3h5m-5 23h5m-5 39h5m-5 9h5m-4 -193h5m-5 3h5m-5 4h5m-5 0h5m-5 1h5m-5 4h5m-5 0h5m-5 3h5m-5 0h5m-5 1h5m-5 0h5m-5 3h5m-5 1h5m-5 1h5m-5 0h5m-5 2h5m-5 1h5m-5 0h5m-5 3h5m-5 4h5m-5 1h5m-5 0h5m-5 1h5m-5 1h5m-5 1h5m-5 3h5m-5 1h5m-5 0h5m-5 2h5m-5 0h5m-5 1h5m-5 2h5m-5 0h5m-5 1h5m-5 2h5m-5 3h5m-5 0h5m-5 5h5m-5 2h5m-5 0h5m-5 3h5m-5 4h5m-5 2h5m-5 3h5m-5 7h5m-5 7h5m-5 57h5m-5 3h5m-3 -245h5m-5 301h5m-1 -255h5m-5 42h5m-5 37h5m-5 4h5m-5 22h5m-5 9h5m-5 5h5m-5 13h5m-5 103h5m-1 -323h5m-4 66h5m-5 8h5m-5 34h5m-5 23h5m-5 3h5m-5 2h5m-5 0h5m-5 29h5m-5 0h5m-5 5h5m-5 63h5m-5 49h5m-5 16h5m-5 27h5m-3 -105h5m-5 47h5m-5 44h5m-4 -341h5m-5 37h5m-5 12h5m-5 15h5m-5 63h5m-5 1h5m-5 69h5m-5 3h5m-5 53h5m-5 49h5m-4 -194h5m-5 31h5m-5 15h5m-5 1h5m-5 26h5m-5 2h5m-5 1h5m-5 22h5m-5 2h5m-5 4h5m-5 1h5m-5 0h5m-5 13h5m-5 1h5m-5 16h5m-5 1h5m-5 1h5m-5 0h5m-5 6h5m-5 1h5m-5 12h5m-5 6h5m-5 2h5m-5 46h5m-4 -135h5m-5 141h5m-4 -216h5m-5 8h5m-5 17h5m-5 15h5m-5 44h5m-5 5h5m-5 14h5m-5 1h5m-5 11h5m-5 13h5m-5 70h5m0 4h5m-4 -270h5m-5 54h5m-5 10h5m-5 69h5m-5 13h5m-4 56h5m-5 20h5m-3 -129h5m-5 107h5m-4 -169h5m-5 4h5m-5 5h5m-5 7h5m-5 4h5m-5 3h5m-5 3h5m-5 17h5m-5 1h5m-5 7h5m-5 35h5m-5 5h5m-5 9h5m-5 2h5m-5 2h5m-5 32h5m-5 45h5m-5 2h5m-5 19h5m-5 25h5m-5 9h5m-5 32h5m-4 -235h5m-5 6h5m-5 11h5m-5 3h5m-5 68h5m-5 117h5m-2 -192h5m-5 94h5m-5 64h5m-1 -133h5m-5 91h5m-5 73h5m-5 67h5m-4 -96h5m-4 -117h5m-5 33h5m-5 4h5m-5 34h5m-5 9h5m-5 24h5m-5 18h5m-5 11h5m-5 58h5m-4 -345h5m-5 22h5m-5 21h5m-5 9h5m-5 22h5m-5 3h5m-5 2h5m-5 9h5m-5 13h5m-5 79h5m-5 6h5m-5 37h5m-5 7h5m-5 7h5m-5 41h5m-5 26h5m-5 16h5m-5 4h5m-5 14h5m-5 7h5m-5 37h5m-4 -242h5m-5 39h5m-5 11h5m-5 1h5m-5 24h5m-5 36h5m-5 59h5m-5 20h5m-3 -235h5m-5 130h5m-4 -20h5m-3 -83h5m-5 0h5m-5 13h5m-5 16h5m-5 8h5m-5 8h5m-5 11h5m-5 11h5m-5 6h5m-5 7h5m-5 13h5m-5 19h5m-5 1h5m-5 22h5m-5 44h5m-5 2h5m-5 14h5m-5 0h5m-5 30h5m-5 8h5m-5 22h5m-4 -206h5m-5 49h5m-3 -64h5m-5 7h5m-5 14h5m-5 8h5m-5 4h5m-5 19h5m-5 22h5m-5 31h5m-5 32h5m-5 158h5m-4 -246h5m-5 12h5m-5 3h5m-5 21h5m-5 60h5m-3 -294h5m-5 1h5m-5 21h5m-5 10h5m-5 16h5m-5 7h5m-5 13h5m-5 21h5m-5 0h5m-5 4h5m-5 0h5m-5 0h5m-5 4h5m-5 23h5m-5 8h5m-5 1h5m-5 1h5m-5 8h5m-5 1h5m-5 38h5m-4 -167h5m-5 87h5m-5 13h5m-5 19h5m-5 30h5m-5 28h5m-5 5h5m-4 -41h5m-5 23h5m-5 26h5m-5 6h5m-3 -141h5m-5 69h5m-5 43h5m-3 -16h5m-5 7h5m-5 1h5m-5 4h5m-5 22h5m-5 4h5m-5 28h5m-5 8h5m-5 7h5m-5 27h5m-4 -307h5m-5 53h5m-5 89h5m-5 4h5m-5 44h5m-5 38h5m-5 17h5m-5 30h5m-5 7h5m-5 130h5m-5 17h5m-5 38h5m-5 8h5m-4 -392h5m-5 10h5m-5 28h5m-5 8h5m-5 24h5m-5 10h5m-5 32h5m-5 4h5m-5 14h5m-5 6h5m-5 11h5m-5 4h5m-5 0h5m-5 5h5m-5 35h5m-5 6h5m-5 19h5m-5 7h5m-2 -254h5m-5 12h5m-5 45h5m-5 20h5m-5 29h5m-5 13h5m-5 4h5m-5 21h5m-5 17h5m-5 9h5m-5 3h5m-5 6h5m-5 15h5m-5 0h5m-5 3h5m-5 4h5m-5 4h5m-5 27h5m-5 0h5m-5 9h5m-5 8h5m-5 8h5m-5 28h5m-5 21h5m-5 5h5m-1 -207h5m-5 22h5m-5 7h5m-5 21h5m-5 15h5m-4 -95h5m-5 13h5m-5 18h5m-5 34h5m-5 39h5m-3 -115h5m-5 6h5m-5 11h5m-5 29h5m-5 5h5m-5 2h5m-5 2h5m-5 7h5m-5 14h5m-5 3h5m-5 6h5m-5 22h5m-5 15h5m-5 44h5m-5 18h5m-5 2h5m-3 -200h5m-5 26h5m-5 3h5m-5 32h5m-5 54h5m-5 9h5m-4 -50h5m-5 19h5m-5 13h5m-5 25h5m-5 3h5m-5 31h5m-5 18h5m-4 -266h5m-5 60h5m-5 45h5m-5 52h5m-5 44h5m-5 4h5m-5 10h5m-1 -59h5m-4 78h5m-5 13h5m-4 -227h5m-5 56h5m-5 44h5m-5 10h5m-5 1h5m-5 1h5m-5 32h5m-5 24h5m-5 21h5m-5 14h5m-5 5h5m-5 10h5m-5 45h5m-3 -108h5m-5 13h5m-5 38h5m-1 -13h5m-4 -53h5m-5 0h5m-5 41h5m-4 -195h5m-5 194h5m-5 2h5m-5 80h5m-4 -163h5m-3 49h5m-5 100h5m-5 31h5m-5 80h5m-4 -317h5m-5 60h5m-5 7h5m-5 4h5m-5 9h5m-5 19h5m-5 17h5m-5 0h5m-5 53h5m-5 5h5m-5 18h5m-5 1h5m-4 -126h5m-5 37h5m-5 18h5m-5 2h5m-2 -228h5m-5 20h5m-5 78h5m-5 81h5m-5 3h5m-5 17h5m-5 1h5m-5 12h5m-5 14h5m-5 18h5m-5 2h5m-5 23h5m-5 19h5m-4 -339h5m-1 94h5m-5 136h5m-5 41h5m-5 25h5m-5 64h5m-5 3h5m-5 0h5m-5 3h5m-5 74h5m-4 -241h5m-5 64h5m-5 93h5m-3 -210h5m-5 3h5m-5 11h5m-5 6h5m-5 0h5m-5 10h5m-5 0h5m-5 2h5m-5 10h5m-5 16h5m-5 9h5m-5 4h5m-5 0h5m-5 0h5m-5 9h5m-5 5h5m-5 2h5m-5 4h5m-5 2h5m-5 1h5m-5 4h5m-5 0h5m-5 6h5m-5 4h5m-5 3h5m-5 3h5m-5 4h5m-5 0h5m-5 1h5m-5 2h5m-5 0h5m-5 2h5m-5 9h5m-5 15h5m-5 2h5m-5 29h5m-5 29h5m0 -200h5m-5 7h5m-5 15h5m-5 5h5m-5 40h5m-5 37h5m-5 55h5m-5 10h5m-4 -175h5m-5 9h5m-5 12h5m-5 3h5m-5 11h5m-5 20h5m-5 10h5m-5 10h5m-5 18h5m-5 18h5m-5 88h5m-5 28h5m-5 2h5m-5 4h5m-5 5h5m-4 -206h5m-5 12h5m-5 40h5m-5 6h5m-5 4h5m-5 39h5m-5 4h5m-3 -67h5m-5 2h5m-5 10h5m-5 11h5m-5 20h5m-5 16h5m-5 2h5m-5 7h5m-5 13h5m-5 2h5m-5 6h5m-4 -157h5m-5 211h5m0 -219h5m-5 55h5m-5 22h5m-5 36h5m-5 45h5m-5 31h5m-5 10h5m-5 30h5m-3 -255h5m-5 83h5m-5 23h5m-5 4h5m-5 4h5m-5 50h5m-4 -119h5m-5 6h5m-5 15h5m-5 25h5m-5 15h5m-5 29h5m-5 21h5m-5 69h5m-4 -17h5m-5 27h5m-3 -229h5m-5 14h5m-5 108h5m-4 -102h5m-5 156h5m-4 -23h5m-5 6h5m-5 33h5m-3 -268h5m-5 126h5m-5 30h5m-5 19h5m-5 5h5m-5 26h5m-5 13h5m-5 1h5m-5 14h5m-5 2h5m-5 2h5m-5 8h5m-5 19h5m-5 19h5m-5 15h5m-5 60h5m-5 90h5m-4 -231h5m-5 5h5m-5 65h5m-3 -231h5m-5 14h5m-5 178h5m-5 35h5m-5 38h5m-5 67h5m-5 1h5m-4 -257h5m-5 1h5m-5 20h5m-5 80h5m-5 14h5m1 -198h5m-5 86h5m-5 82h5m-4 -152h5m-5 14h5m-5 12h5m-5 33h5m-5 4h5m-5 47h5m-4 -177h5m-5 147h5m-5 22h5m-5 1h5m-5 34h5m-5 14h5m-5 9h5m-5 16h5m-4 -27h5m-5 6h5m-5 34h5m-5 17h5m-5 2h5m-5 3h5m-5 16h5m-5 6h5m-3 -272h5m-5 100h5m-5 2h5m-5 37h5m-5 2h5m-5 6h5m-5 9h5m-5 6h5m-5 5h5m-5 12h5m-5 4h5m-5 2h5m-5 14h5m-5 18h5m-5 5h5m-5 4h5m-5 8h5m-4 -102h5m-5 30h5m-5 45h5m-5 16h5m-5 0h5m-5 28h5m-5 4h5m1 -292h5m-5 32h5m-5 47h5m-5 93h5m-5 26h5m-5 52h5m-5 25h5m-5 14h5m-3 -228h5m-5 130h5m-5 114h5m-3 -226h5m-5 9h5m-5 13h5m-5 34h5m-5 88h5m-5 125h5m-5 9h5m-5 14h5m-3 -313h5m-5 17h5m-5 39h5m-5 22h5m-5 15h5m-5 6h5m-5 37h5m-5 4h5m-5 18h5m-5 22h5m-5 28h5m-5 3h5m-5 1h5m-4 -188h5m-5 34h5m-4 -14h5m-5 44h5m-3 -39h5m-5 63h5m-2 118h5m-4 -109h5m-5 7h5m-5 35h5m-2 -91h5m-3 137h5m0 -41h5m-5 8h5m-5 17h5m-5 17h5m-4 -62h5m-3 -194h5m-5 99h5m-5 47h5m-5 1h5m-5 39h5m-5 19h5m-5 9h5m-5 15h5m-5 3h5m-5 13h5m-5 23h5m-5 9h5m-5 35h5m-3 -180h5m-5 9h5m-5 4h5m-5 1h5m-5 4h5m-5 0h5m-5 12h5m-5 9h5m-5 3h5m-5 18h5m-5 14h5m-5 14h5m-5 6h5m-5 23h5m-5 9h5m-5 5h5m-5 6h5m-5 7h5m-5 7h5m-3 -194h5m-5 39h5m-5 1h5m-5 1h5m-5 35h5m-5 85h5m-5 21h5m-3 -167h5m-5 19h5m-5 34h5m-5 16h5m-5 13h5m-5 69h5m-5 77h5m-3 -329h5m-1 16h5m-5 15h5m-5 2h5m-5 0h5m-5 18h5m-5 5h5m-5 7h5m-5 7h5m-5 19h5m-5 14h5m-5 3h5m-5 1h5m-5 3h5m-5 5h5m-5 56h5m-5 24h5m-3 -36h5m-5 42h5m-5 17h5m-5 61h5m-4 -78h5m-2 -175h5m-5 69h5m-5 34h5m-5 41h5m-5 53h5m-5 17h5m-4 -173h5m-5 13h5m-5 13h5m-5 20h5m-5 9h5m-4 22h5m-4 -72h5m-5 163h5m-5 22h5m-5 55h5m-3 -140h5m-5 19h5m-5 56h5m-4 -264h5m-1 148h5m-5 24h5m-5 1h5m-5 29h5m-5 25h5m-5 9h5m-5 4h5m-5 9h5m-5 2h5m-3 -43h5m-5 8h5m-5 20h5m-2 -251h5m-5 61h5m-5 4h5m-5 42h5m-5 28h5m-5 8h5m-5 11h5m-5 3h5m-5 11h5m-5 7h5m-5 9h5m-5 4h5m-5 2h5m-5 6h5m-5 1h5m-5 13h5m-5 10h5m-5 16h5m-5 13h5m-5 37h5m-5 65h5m-4 -332h5m-5 8h5m-5 13h5m-5 11h5m-5 84h5m-5 26h5m-5 13h5m-5 137h5m0 -263h5m-5 5h5m-5 0h5m-5 12h5m-5 13h5m-5 25h5m-5 2h5m-5 38h5m-5 10h5m-3 -185h5m-5 12h5m-5 41h5m-5 13h5m-5 9h5m-5 7h5m-5 56h5m-5 6h5m-5 7h5m-5 11h5m-5 4h5m-5 6h5m-5 15h5m-5 6h5m-5 38h5m-5 9h5m-5 3h5m-5 3h5m-5 21h5m-5 3h5m-5 17h5m-5 11h5m-5 37h5m2 -225h5m-5 18h5m-5 72h5m-1 -127h5m-5 11h5m-5 1h5m-5 2h5m-5 19h5m-5 1h5m-5 0h5m-5 0h5m-5 16h5m-5 10h5m-5 2h5m-5 6h5m-5 17h5m-5 1h5m-5 4h5m-5 5h5m-5 5h5m-5 6h5m-5 11h5m-5 3h5m-5 2h5m-5 20h5m-5 21h5m-4 -178h5m-5 55h5m-5 75h5m-5 8h5m-5 49h5m-5 69h5m-1 -277h5m-5 19h5m-5 7h5m-5 53h5m-3 -11h5m-5 7h5m-5 19h5m-5 2h5m-5 14h5m-5 11h5m-5 17h5m0 -92h5m-5 38h5m-5 5h5m-2 -63h5m-5 175h5m-4 -61h5m-1 -25h5m-5 53h5m-4 -88h5m-5 1h5m-5 19h5m-2 -51h5m-3 10h5m-5 38h5m-2 -119h5m-5 15h5m-5 41h5m-5 27h5m-3 -33h5m-1 119h5m-5 27h5m-1 -170h5m-5 22h5m-5 26h5m-5 8h5m-5 5h5m-5 7h5m-5 7h5m-5 2h5m-5 4h5m-5 6h5m-5 8h5m-5 1h5m-5 4h5m3 -62h5m-5 13h5m-5 5h5m-5 5h5m-5 2h5m-5 5h5m-5 1h5m-5 9h5m-5 5h5m-4 -41h5m-5 111h5m-3 10h5m0 -108h5m-5 35h5m-2 -127h5m-5 74h5m-5 0h5m-5 31h5m-5 15h5m-5 3h5m-5 11h5m-3 -100h5m-5 61h5m-5 72h5m-4 -121h5m-5 13h5m-5 42h5m-4 -166h5m-5 64h5m-5 35h5m-5 7h5m-5 15h5m-5 6h5m-5 16h5m-5 14h5m-4 -127h5m-5 43h5m-5 26h5m-5 20h5m-5 15h5m-5 29h5m-5 40h5m-5 65h5m-5 9h5m-5 1h5m0 -194h5m-5 5h5m-5 100h5m-4 -132h5m-5 10h5m-5 39h5m-5 68h5m-1 -17h5m-4 -72h5m-5 36h5m-5 17h5m-5 18h5m-5 2h5m-5 7h5m-5 10h5m-5 1h5m-5 14h5m-5 10h5m-5 2h5m-5 9h5m-5 22h5m-3 -24h5m-4 -65h5m-5 32h5m-5 4h5m-5 11h5m-5 23h5m-5 0h5m-4 -209h5m-4 50h5m-5 51h5m-5 91h5m0 -509h5m0 454h5m-5 15h5m-5 15h5m-5 73h5m-5 7h5m-5 12h5m-5 16h5m0 -189h5m-5 8h5m-5 0h5m-5 8h5m-5 22h5m-5 0h5m-5 2h5m-5 12h5m-5 2h5m-5 14h5m-5 8h5m-5 13h5m-5 35h5m-4 -173h5m-5 8h5m-5 31h5m-5 52h5m-5 6h5m-4 -141h5m-5 30h5m-5 21h5m-5 29h5m-5 1h5m-5 2h5m-5 59h5m-5 55h5m-3 -145h5m-5 28h5m-4 4h5m-5 7h5m-4 -116h5m-5 44h5m-5 113h5m-5 15h5m-2 47h5m-2 -156h5m-5 3h5m-5 7h5m-5 13h5m-5 41h5m-5 8h5m-5 22h5m-5 1h5m-2 -87h5m-5 13h5m-4 22h5m-4 -57h5m-5 0h5m-5 2h5m-5 12h5m-5 5h5m-5 4h5m-5 4h5m-5 3h5m-5 4h5m-5 3h5m-3 -61h5m-5 101h5m-5 3h5m-5 4h5m-5 2h5m-5 3h5m-5 1h5m-5 7h5m-5 2h5m-5 1h5m-5 16h5m-5 2h5m-3 -163h5m-5 10h5m-5 3h5m-5 51h5m-5 26h5m-5 13h5m-5 1h5m-5 58h5m-5 8h5m-5 12h5m-5 4h5m-5 10h5m-4 158h5m-2 -321h5m-5 5h5m-5 14h5m-5 6h5m-5 31h5m-5 11h5m-2 -110h5m-5 81h5m-5 3h5m-5 61h5m-5 0h5m-5 8h5m-2 -153h5m-5 14h5m-5 11h5m-5 15h5m-5 13h5m-5 8h5m-5 12h5m-5 27h5m-5 78h5m-3 -124h5m-5 3h5m-5 10h5m-5 5h5m-5 6h5m-5 11h5m-5 13h5m-4 -111h5m-2 -71h5m-5 77h5m-5 56h5m-5 141h5m-3 -194h5m-5 0h5m-5 0h5m-5 7h5m-5 13h5m-5 1h5m-5 7h5m-5 6h5m-5 9h5m-5 2h5m-5 0h5m-5 3h5m-1 -67h5m-5 87h5m-5 41h5m-5 36h5m-5 3h5m-5 6h5m3 -155h5m-5 0h5m-5 14h5m-5 8h5m-5 4h5m-5 5h5m-5 0h5m-5 6h5m-5 11h5m-5 0h5m-5 13h5m-5 8h5m-5 12h5m-5 3h5m-5 42h5m-5 12h5m-2 -150h5m-5 86h5m-5 77h5m-5 13h5m3 -110h5m-5 1h5m-5 3h5m-5 6h5m-5 17h5m-5 4h5m-5 0h5m-5 10h5m-3 -101h5m-5 5h5m-5 23h5m-5 11h5m-5 3h5m11 -112h5m-5 33h5m-5 3h5m-5 65h5m-5 68h5m-5 90h5m-5 14h5m1 -114h5m7 -193h5m-5 34h5m-5 9h5m-5 25h5m-5 40h5m-5 34h5m-5 4h5m-5 12h5m-5 35h5m-5 43h5m-3 -251h5m-5 227h5m0 -74h5m-2 -129h5m-5 90h5m2 97h5m4 -109h5m-5 3h5m5 -40h5m-5 38h5m-5 2h5m-5 30h5m-5 57h5m-4 -108h5m-5 7h5m-5 17h5m-5 4h5m-5 0h5m-5 21h5m-5 6h5m-5 58h5m11 -263h5m-5 113h5m-5 15h5m-5 155h5m-5 32h5m-5 21h5m1 -277h5m-5 4h5m-5 11h5m-5 38h5m-5 17h5m1 42h5m-5 13h5m-5 6h5m-4 -134h5m-5 226h5m-5 7h5m-3 -18h5m-5 4h5m-5 24h5m0 -18h5m1 -182h5m-5 61h5m-5 5h5m0 -64h5m-5 83h5m-3 -81h5m10 -49h5m-5 1h5m-5 10h5m-5 15h5m-5 15h5m-5 33h5m-5 37h5m5 -42h5m-5 2h5m-5 1h5m-5 28h5m-5 6h5m-5 36h5m-5 4h5m-5 5h5m-5 3h5m-5 7h5m-5 22h5m0 -150h5m-5 47h5m-5 27h5m-5 22h5m0 -162h5m-5 26h5m-5 5h5m-5 11h5m-5 15h5m-5 8h5m-5 16h5m-5 7h5m-5 0h5m-5 6h5m-5 13h5m-5 3h5m-5 8h5m-5 24h5m-5 9h5m-5 4h5m-5 44h5m-5 27h5m2 -335h5m-5 11h5m-5 23h5m-5 8h5m-5 9h5m-5 13h5m-5 17h5m-5 57h5m-5 12h5m-5 1h5m-5 8h5m-5 24h5m-5 22h5m-5 3h5m-5 14h5m-5 6h5m-5 3h5m-5 15h5m-5 1h5m-5 21h5m-5 5h5m-5 26h5m-5 9h5m-5 14h5m-5 16h5m-5 2h5m-5 12h5m-5 48h5m9 -178h5m7 48h5m13 -198h5m-5 106h5m-5 129h5m-5 13h5m-1 -277h5m-5 24h5m-5 5h5m-5 2h5m-5 95h5m-5 21h5m-5 1h5m0 49h5m11 -94h5m-5 124h5m-4 -201h5m-5 49h5m17 -144h5m-5 117h5m39 -34h5m-5 73h5m7 -24h5m-5 20h5m-4 -160h5m-5 61h5m-4 11h5m31 -126h5m-5 80h5m-5 90h5m-5 95h5m-5 60h5m5 -248h5m9 115h5m15 1h5m-5 31h5"/><path d="M250 1366h5m2 -14h5m-2 120h5m7 -60h5m-2 -32h5m-5 22h5m-2 57h5m0 -38h5m-2 27h5m-3 -44h5m-5 6h5m-5 5h5m-5 4h5m-5 9h5m-5 8h5m-5 6h5m-5 8h5m-5 1h5m-4 -86h5m-5 10h5m-5 7h5m-5 9h5m-5 4h5m-5 67h5m-4 -123h5m-4 132h5m-4 -91h5m-5 0h5m-5 2h5m-5 17h5m-5 2h5m-5 1h5m-5 9h5m-3 -69h5m-5 29h5m-5 38h5m-5 8h5m-4 -48h5m-5 30h5m-5 6h5m-4 36h5m0 -45h5m-4 -78h5m-5 34h5m-5 2h5m-5 21h5m-4 -73h5m-5 112h5m-5 18h5m-5 3h5m-3 -31h5m-5 22h5m-4 -16h5m-3 -72h5m-5 1h5m-5 10h5m-5 1h5m-5 5h5m-4 51h5m-4 -24h5m-5 4h5m-5 22h5m-5 20h5m-4 -44h5m-5 10h5m-5 18h5m-5 56h5m-4 -181h5m-5 47h5m-5 25h5m-5 28h5m-5 9h5m-5 4h5m-5 69h5m-1 -107h5m-5 33h5m-5 46h5m-5 17h5m-5 2h5m-5 5h5m-4 -147h5m-5 6h5m-5 6h5m-5 4h5m-5 13h5m-5 34h5m-5 5h5m-5 2h5m-5 12h5m-5 1h5m-5 4h5m-5 9h5m-5 1h5m-4 -90h5m-4 76h5m-2 -59h5m-5 7h5m-5 2h5m-5 8h5m-5 10h5m-5 16h5m-5 15h5m-4 -112h5m-5 17h5m-5 21h5m-5 22h5m-5 4h5m-5 5h5m-5 6h5m-5 14h5m-5 1h5m-5 2h5m-5 6h5m-5 2h5m-5 20h5m-5 4h5m-5 2h5m-5 9h5m-5 26h5m-5 7h5m-3 -143h5m-5 54h5m-5 10h5m-5 48h5m-5 21h5m-5 11h5m-3 -106h5m-5 18h5m-4 -60h5m-5 9h5m-5 13h5m-5 17h5m-5 1h5m-4 -55h5m-5 49h5m-5 47h5m-4 -33h5m-5 53h5m-5 80h5m-4 -123h5m-5 5h5m-5 11h5m-5 0h5m-5 4h5m-5 0h5m-5 6h5m-5 3h5m-5 0h5m-5 1h5m-5 4h5m-5 10h5m-5 4h5m-5 2h5m-5 1h5m-5 19h5m-5 19h5m-3 -76h5m-5 2h5m-5 14h5m-4 -89h5m-5 54h5m-5 11h5m-5 0h5m-5 142h5m-4 -109h5m-4 -128h5m-5 87h5m-5 3h5m-5 5h5m-5 8h5m-5 5h5m-5 2h5m-5 18h5m-5 12h5m-5 1h5m-5 24h5m-5 68h5m-1 -201h5m-5 53h5m-5 1h5m-5 57h5m-5 46h5m-4 -182h5m-5 0h5m-5 3h5m-5 16h5m-5 13h5m-5 1h5m-5 6h5m-5 4h5m-5 11h5m-5 1h5m-5 1h5m-5 7h5m-5 3h5m-5 0h5m-5 2h5m-5 3h5m-5 5h5m-5 0h5m-5 4h5m-5 0h5m-5 8h5m-5 11h5m-5 11h5m-5 8h5m-5 0h5m-5 19h5m-5 3h5m-5 0h5m-5 1h5m-5 7h5m-5 5h5m-5 1h5m-5 0h5m-5 0h5m-5 5h5m-5 3h5m-5 9h5m-5 7h5m-5 12h5m-5 0h5m-3 -209h5m-5 75h5m-5 21h5m-5 43h5m-5 51h5m-3 -65h5m-3 13h5m-5 12h5m-5 22h5m-5 5h5m-5 13h5m-5 0h5m-4 -135h5m-5 11h5m-5 37h5m-5 13h5m-5 32h5m-4 -37h5m-5 37h5m-5 1h5m-5 13h5m-5 3h5m-5 3h5m-5 21h5m-5 11h5m-5 5h5m-5 1h5m-4 4h5m-4 -127h5m-5 45h5m-4 -66h5m-3 -46h5m-5 70h5m-3 -82h5m0 67h5m-5 14h5m-5 147h5m-3 -197h5m-5 2h5m-5 23h5m-5 9h5m-5 8h5m-5 2h5m-5 18h5m-5 3h5m-5 13h5m-5 11h5m-5 1h5m-5 8h5m-5 20h5m-5 2h5m-5 6h5m-5 27h5m-5 21h5m-2 -202h5m-5 65h5m-5 5h5m-5 29h5m-5 41h5m-5 23h5m-5 32h5m-5 9h5m-5 1h5m-4 -153h5m-5 3h5m-5 9h5m-5 17h5m-5 56h5m-5 11h5m-5 7h5m-5 22h5m-5 16h5m-4 -225h5m-5 91h5m-5 40h5m-5 46h5m-4 -157h5m-5 7h5m-4 -5h5m-5 113h5m-5 20h5m-5 55h5m-5 20h5m-5 23h5m-4 -170h5m-5 94h5m-5 11h5m-5 25h5m-4 -213h5m-5 3h5m-5 35h5m-5 11h5m-5 86h5m-5 76h5m-4 -119h5m-5 22h5m-5 9h5m-5 35h5m-5 6h5m-5 11h5m-5 6h5m-5 7h5m-5 14h5m-5 24h5m-5 2h5m-3 -150h5m-5 33h5m-5 17h5m-5 38h5m-4 -92h5m-5 134h5m-4 -143h5m-5 8h5m-5 0h5m-5 4h5m-5 10h5m-5 2h5m-5 5h5m-5 9h5m-5 41h5m-5 9h5m-5 16h5m-5 16h5m-1 -196h5m-5 5h5m-5 9h5m-5 4h5m-5 43h5m-5 16h5m-5 7h5m-5 3h5m-5 9h5m-5 9h5m-5 3h5m-5 11h5m-5 7h5m-5 2h5m-5 0h5m-5 2h5m-5 9h5m-5 2h5m-5 25h5m-5 2h5m-5 17h5m-5 1h5m-5 31h5m-1 -299h5m-5 10h5m-5 8h5m-5 31h5m-5 15h5m-5 12h5m-5 1h5m-5 2h5m-5 13h5m-5 3h5m-5 5h5m-5 2h5m-5 19h5m-5 2h5m-5 10h5m-5 2h5m-5 4h5m-5 3h5m-5 2h5m-5 23h5m-5 2h5m-5 7h5m-5 4h5m-5 31h5m-5 8h5m-5 9h5m-5 16h5m-5 20h5m-5 3h5m-5 4h5m-5 3h5m-5 3h5m-5 87h5m-5 37h5m-4 -235h5m-5 58h5m-5 6h5m-5 5h5m-5 17h5m-5 11h5m-4 -132h5m-5 3h5m-5 6h5m-5 11h5m-5 66h5m-5 12h5m-5 3h5m-5 29h5m-5 26h5m-5 12h5m-5 0h5m-5 8h5m-5 52h5m-4 -172h5m-4 -28h5m-5 63h5m-5 55h5m-3 -219h5m-5 57h5m-5 10h5m-5 44h5m-5 139h5m-4 -224h5m-5 32h5m-5 24h5m-5 4h5m-5 3h5m-5 3h5m-5 2h5m-5 0h5m-5 31h5m-5 12h5m-5 6h5m-5 1h5m-5 5h5m-5 19h5m-5 2h5m-5 1h5m-5 4h5m-5 17h5m-5 51h5m-4 -109h5m-5 34h5m-5 85h5m-5 2h5m-5 72h5m-5 17h5m-4 -342h5m-5 4h5m-5 57h5m-5 34h5m-5 16h5m-5 13h5m-5 14h5m-5 62h5m-5 37h5m-3 -127h5m-5 13h5m-5 21h5m-5 0h5m-5 30h5m-5 10h5m-2 -143h5m-5 122h5m-3 -81h5m-5 22h5m-5 17h5m-5 11h5m-5 4h5m-5 45h5m-5 3h5m-5 63h5m-5 74h5m-3 -254h5m-5 139h5m-5 135h5m-3 -219h5m-5 9h5m-5 4h5m-5 17h5m-5 5h5m-3 -155h5m-5 24h5m-5 100h5m-5 39h5m-5 37h5m-5 3h5m-5 34h5m-2 -296h5m-5 33h5m-5 34h5m-5 5h5m-5 0h5m-5 33h5m-5 14h5m-5 7h5m-5 2h5m-5 9h5m-5 5h5m-5 19h5m-5 3h5m-5 12h5m-5 12h5m-5 23h5m-5 14h5m-5 11h5m-5 28h5m-5 18h5m-5 22h5m-5 4h5m-5 6h5m-4 -236h5m-5 30h5m-5 11h5m-5 5h5m-5 1h5m-5 6h5m-5 12h5m-5 3h5m-5 21h5m-5 23h5m-5 35h5m-5 13h5m-5 25h5m-3 -144h5m-5 119h5m-5 21h5m-4 -169h5m-5 0h5m-5 10h5m-5 19h5m-5 20h5m-5 6h5m-5 25h5m-5 33h5m-5 54h5m-4 -194h5m-5 17h5m-5 13h5m-5 3h5m-5 9h5m-5 29h5m-5 8h5m-5 2h5m-5 1h5m-5 14h5m-5 8h5m-5 20h5m-5 4h5m-5 27h5m-5 2h5m-5 13h5m-5 10h5m-5 3h5m-5 27h5m-2 -186h5m-5 8h5m-5 108h5m-5 91h5m-1 -130h5m-5 7h5m-4 -159h5m-5 9h5m-5 13h5m-5 8h5m-5 17h5m-5 10h5m-5 6h5m-5 1h5m-5 6h5m-5 2h5m-5 7h5m-5 24h5m-5 6h5m-5 12h5m-5 12h5m-5 7h5m-5 9h5m-5 28h5m-5 5h5m-5 15h5m-5 10h5m-5 105h5m-4 -133h5m-3 -164h5m-5 40h5m-5 1h5m-5 9h5m-5 4h5m-5 6h5m-5 5h5m-5 6h5m-5 27h5m-5 10h5m-5 1h5m-5 0h5m-5 1h5m-5 14h5m-5 3h5m-5 99h5m-5 13h5m-4 -236h5m-5 17h5m-5 33h5m-5 9h5m-5 6h5m-5 25h5m-5 18h5m-5 20h5m-5 5h5m-5 7h5m-3 -83h5m-5 3h5m-5 6h5m-5 6h5m-5 21h5m-5 21h5m-5 5h5m-5 57h5m-5 1h5m-5 43h5m-5 6h5m-5 26h5m-5 8h5m-2 -224h5m-5 220h5m-3 -276h5m-5 5h5m-5 21h5m-5 37h5m-5 5h5m-5 21h5m-5 40h5m-5 17h5m-5 3h5m-5 8h5m-4 -121h5m-5 4h5m-5 10h5m-5 14h5m-5 13h5m-5 13h5m-5 21h5m-5 8h5m-5 4h5m-5 25h5m-5 39h5m-5 2h5m-5 29h5m-5 6h5m-5 0h5m-5 1h5m-5 25h5m-5 12h5m-5 32h5m-5 15h5m-3 -287h5m-5 3h5m-5 84h5m-5 75h5m-5 27h5m-5 7h5m-3 -99h5m-5 0h5m-5 14h5m-5 0h5m-5 78h5m-5 5h5m-5 14h5m-5 21h5m-5 15h5m-4 -270h5m-5 81h5m-5 28h5m-5 116h5m-5 14h5m-5 54h5m-5 40h5m-4 -360h5m-5 42h5m-5 11h5m-5 21h5m-5 37h5m-5 5h5m-5 37h5m-5 6h5m-5 34h5m-5 5h5m-5 1h5m-5 51h5m-4 -256h5m-5 13h5m-5 27h5m-5 9h5m-5 14h5m-5 10h5m-5 7h5m-5 54h5m-5 15h5m-5 6h5m-5 0h5m-5 10h5m-5 3h5m-3 -97h5m-5 43h5m-5 0h5m-5 26h5m-5 2h5m-5 94h5m-4 -142h5m-3 14h5m-3 54h5m-3 -146h5m-5 79h5m-5 11h5m-5 1h5m-5 32h5m-5 31h5m-5 6h5m-5 10h5m-5 85h5m-2 -157h5m-5 4h5m-5 2h5m-5 47h5m-5 22h5m-5 0h5m-5 18h5m-5 8h5m-5 22h5m-5 88h5m-5 2h5m-4 -208h5m-5 16h5m-5 3h5m-5 5h5m-5 16h5m-5 29h5m-3 -91h5m-5 9h5m-5 17h5m-5 2h5m-5 18h5m-2 -159h5m-5 19h5m-5 4h5m-5 134h5m-5 14h5m-5 13h5m-5 5h5m-5 23h5m-5 49h5m-5 19h5m-5 12h5m-4 -165h5m-5 10h5m-5 138h5m-5 1h5m-4 -166h5m-5 18h5m-5 153h5m-5 1h5m-4 -269h5m-5 122h5m-5 2h5m-5 40h5m-5 96h5m-4 -264h5m-5 29h5m-5 20h5m-5 8h5m-5 23h5m-5 1h5m-5 6h5m-5 3h5m-5 36h5m-5 4h5m-5 71h5m-5 23h5m-5 5h5m-5 29h5m-5 39h5m-5 3h5m-5 2h5m-4 -292h5m-5 130h5m-5 93h5m-4 -211h5m-5 51h5m-5 6h5m-5 24h5m-5 8h5m-5 6h5m-5 3h5m-5 13h5m-5 7h5m-5 16h5m-5 0h5m-5 10h5m-5 28h5m-5 2h5m-5 172h5m-4 -370h5m-5 50h5m-4 57h5m-5 2h5m-5 20h5m-5 41h5m-5 2h5m-5 1h5m-5 9h5m-5 0h5m-5 11h5m-5 15h5m-5 4h5m-5 14h5m-5 0h5m-5 2h5m-4 -192h5m-5 14h5m-5 33h5m-5 61h5m-4 18h5m-4 -270h5m-5 406h5m-4 -65h5m-4 -233h5m-5 6h5m-5 4h5m-5 2h5m-5 23h5m-5 7h5m-5 39h5m-5 37h5m-5 26h5m-5 37h5m-5 7h5m-5 18h5m-4 -98h5m-5 34h5m-5 14h5m-5 2h5m-5 24h5m-5 1h5m-5 4h5m-5 10h5m-5 22h5m-4 -131h5m-5 95h5m-5 45h5m-5 7h5m-4 -212h5m-5 10h5m-5 63h5m-5 199h5m-3 -292h5m-5 34h5m-5 17h5m-5 20h5m-5 1h5m-5 8h5m-5 31h5m-5 30h5m-5 9h5m-5 11h5m-5 116h5m-4 -207h5m-5 17h5m-5 11h5m-5 25h5m-5 20h5m-5 7h5m-5 36h5m-4 -76h5m-5 6h5m-5 5h5m-5 9h5m-5 24h5m-4 -146h5m-5 0h5m-5 17h5m-5 21h5m-5 6h5m-5 48h5m-5 123h5m-5 14h5m-5 25h5m-5 44h5m-4 -328h5m-5 15h5m-5 72h5m-5 8h5m-5 18h5m-5 18h5m-5 1h5m-5 11h5m-5 5h5m-5 47h5m-5 24h5m-5 24h5m-5 35h5m-4 -120h5m-5 19h5m-5 39h5m-5 49h5m-3 -140h5m-5 46h5m-5 4h5m-5 45h5m-5 20h5m-5 35h5m-5 2h5m-4 -316h5m-5 61h5m-5 12h5m-5 56h5m-5 36h5m-5 22h5m-5 23h5m-5 56h5m-4 -437h5m-5 64h5m-5 7h5m-5 14h5m-5 116h5m-5 10h5m-5 22h5m-5 48h5m-5 2h5m-5 22h5m-5 29h5m-5 1h5m-5 19h5m-5 3h5m-5 1h5m-5 15h5m-5 8h5m-5 5h5m-5 1h5m-5 7h5m-5 28h5m-5 14h5m-5 3h5m-5 68h5m-5 58h5m-4 -315h5m-5 24h5m-5 7h5m-5 7h5m-5 15h5m-5 8h5m-5 13h5m-5 29h5m-5 57h5m-5 81h5m-5 28h5m-4 -302h5m-5 86h5m-5 2h5m-5 11h5m-5 1h5m-5 15h5m-5 5h5m-5 4h5m-5 55h5m-5 36h5m-4 -217h5m-5 11h5m-5 73h5m-5 4h5m-5 0h5m-5 6h5m-4 -30h5m-5 121h5m-4 -179h5m-5 96h5m-5 91h5m-3 -270h5m-5 39h5m-5 32h5m-5 27h5m-5 24h5m-5 20h5m-5 26h5m-5 14h5m-5 6h5m-5 16h5m-5 20h5m-5 5h5m-5 8h5m-5 8h5m-5 17h5m-5 23h5m-5 12h5m-5 3h5m-5 62h5m-5 17h5m-5 28h5m-5 5h5m-5 16h5m-5 30h5m-5 2h5m-4 -349h5m-5 35h5m-5 91h5m-5 47h5m-5 108h5m-1 -68h5m-3 -160h5m-5 3h5m-5 5h5m-5 0h5m-5 12h5m-5 4h5m-5 56h5m-5 9h5m-5 9h5m-5 123h5m-4 -252h5m-5 2h5m-5 4h5m-5 5h5m-5 6h5m-5 15h5m-5 14h5m-5 13h5m-5 8h5m-5 0h5m-5 2h5m-5 4h5m-5 6h5m-5 3h5m-5 4h5m-5 21h5m-5 0h5m-5 0h5m-5 4h5m-5 11h5m-5 11h5m-5 0h5m-5 5h5m-5 1h5m-5 8h5m-5 2h5m-5 4h5m-5 26h5m-4 -174h5m-5 102h5m-5 8h5m-5 16h5m-5 6h5m-5 33h5m-5 15h5m-5 13h5m-5 35h5m-5 6h5m-4 -293h5m-5 2h5m-5 12h5m-5 21h5m-5 28h5m-5 0h5m-5 8h5m-5 0h5m-5 1h5m-5 2h5m-5 1h5m-5 8h5m-5 13h5m-5 0h5m-5 6h5m-5 1h5m-5 2h5m-5 7h5m-5 6h5m-5 5h5m-5 9h5m-5 1h5m-5 5h5m-5 11h5m-5 9h5m-5 2h5m-5 4h5m-5 31h5m-5 8h5m-5 67h5m-5 7h5m-5 5h5m1 -241h5m-5 0h5m-5 17h5m-5 3h5m-5 16h5m-5 12h5m-5 1h5m-5 2h5m-5 2h5m-5 7h5m-5 20h5m-5 7h5m-5 33h5m-5 58h5m-5 17h5m-5 23h5m-4 -241h5m-5 27h5m-5 10h5m-5 22h5m-5 19h5m-5 30h5m-5 13h5m-5 31h5m-4 -53h5m-5 4h5m-5 10h5m-5 16h5m-1 -148h5m-5 79h5m-5 5h5m-5 8h5m-5 39h5m-5 45h5m-5 64h5m-2 -37h5m-4 -297h5m-5 51h5m-5 22h5m-5 40h5m-5 15h5m-5 24h5m-5 1h5m-5 121h5m-5 80h5m-5 8h5m-5 2h5m-5 29h5m-1 -337h5m-5 19h5m-5 161h5m-5 112h5m-3 -197h5m-5 29h5m-5 3h5m-5 8h5m-5 4h5m-5 8h5m-5 19h5m-5 18h5m-5 13h5m-5 41h5m-5 34h5m-5 1h5m-5 14h5m-5 2h5m-5 32h5m-4 -223h5m-5 12h5m-5 10h5m-5 10h5m-5 3h5m-5 20h5m-5 81h5m-4 -30h5m-5 52h5m-4 -185h5m-5 93h5m-5 11h5m-5 28h5m-5 10h5m-2 -165h5m-5 32h5m-5 130h5m-5 83h5m-4 -240h5m-5 62h5m-5 20h5m-5 22h5m-5 10h5m-5 6h5m-5 22h5m-5 41h5m-5 3h5m-5 45h5m-5 14h5m-2 -261h5m-5 33h5m-5 25h5m-5 161h5m-1 -216h5m-5 17h5m-5 9h5m-5 4h5m-5 4h5m-5 2h5m-5 1h5m-5 6h5m-5 15h5m-5 26h5m-5 8h5m-5 19h5m-5 3h5m-5 8h5m-5 4h5m-5 8h5m-5 44h5m-5 9h5m-5 2h5m-5 9h5m-5 2h5m-5 0h5m-5 21h5m-5 6h5m-5 2h5m-5 0h5m-5 12h5m-5 8h5m-5 2h5m-5 0h5m-5 5h5m-5 2h5m-4 -188h5m-5 56h5m-1 -43h5m-5 2h5m-5 57h5m-5 1h5m-5 22h5m-4 -49h5m-5 21h5m-5 69h5m-5 3h5m-4 -18h5m-4 -176h5m-5 18h5m-5 37h5m-5 55h5m-5 38h5m-5 10h5m-5 62h5m-5 3h5m-4 -143h5m-4 -53h5m-5 16h5m-5 10h5m-4 -14h5m-5 25h5m-5 4h5m-5 51h5m-5 38h5m-3 -274h5m-5 103h5m-5 22h5m-5 89h5m-5 6h5m-5 33h5m-5 27h5m-5 78h5m-5 26h5m-3 -270h5m-5 16h5m-5 3h5m-5 4h5m-5 55h5m-5 3h5m-5 10h5m-5 15h5m-5 1h5m-5 0h5m-5 19h5m-5 11h5m-5 11h5m-5 5h5m-5 19h5m-5 29h5m-4 -189h5m-5 6h5m-5 7h5m-5 8h5m-5 1h5m-5 1h5m-5 7h5m-5 6h5m-5 12h5m-5 0h5m-5 2h5m-5 3h5m-5 1h5m-5 15h5m-5 0h5m-5 11h5m-5 8h5m-5 13h5m-5 2h5m-5 14h5m-5 20h5m-5 12h5m-5 3h5m-5 8h5m-5 14h5m-2 -159h5m-5 152h5m-3 -246h5m-5 5h5m-5 6h5m-5 2h5m-5 13h5m-5 1h5m-5 1h5m-5 0h5m-5 11h5m-5 6h5m-5 23h5m-5 1h5m-5 7h5m-5 9h5m-5 13h5m-5 0h5m-5 16h5m-5 4h5m-5 4h5m-5 9h5m-5 5h5m-5 3h5m-5 41h5m-5 17h5m-5 8h5m-5 8h5m-5 46h5m-5 3h5m-5 4h5m-4 -230h5m-5 12h5m-5 5h5m-5 20h5m-5 1h5m-5 2h5m-5 7h5m-5 12h5m-5 1h5m-5 9h5m-5 54h5m-5 8h5m-5 2h5m-5 37h5m-5 7h5m-5 9h5m-4 -104h5m-5 57h5m-4 -49h5m-5 2h5m-5 33h5m-3 -4h5m-5 8h5m-5 84h5m-5 34h5m-2 -201h5m-5 9h5m-5 61h5m-5 68h5m-5 8h5m-5 35h5m-5 18h5m-5 34h5m-5 61h5m-5 12h5m-4 -336h5m-5 15h5m-5 16h5m-5 17h5m-5 3h5m-5 2h5m-5 55h5m-5 10h5m-5 0h5m-5 10h5m-5 14h5m-5 6h5m-4 12h5m-4 -151h5m-5 78h5m-5 4h5m-5 5h5m-5 8h5m-5 3h5m-5 12h5m-5 15h5m-5 12h5m-5 44h5m-5 14h5m-5 42h5m-5 10h5m-4 -276h5m-4 37h5m-4 -74h5m-4 64h5m-5 10h5m-5 45h5m-5 5h5m-5 36h5m-5 81h5m-5 69h5m-5 0h5m-1 -156h5m-4 -124h5m-5 14h5m-5 30h5m-5 11h5m-5 36h5m-5 7h5m-5 22h5m-5 15h5m-5 12h5m-5 2h5m-5 17h5m-5 4h5m-5 44h5m-5 14h5m-5 14h5m-4 -201h5m-5 37h5m-5 12h5m-5 41h5m-5 1h5m-5 9h5m-5 10h5m-5 43h5m-3 -212h5m-5 119h5m-4 -56h5m-5 32h5m-5 4h5m-5 21h5m-5 38h5m-5 116h5m-3 -248h5m-5 24h5m-5 7h5m-5 22h5m-5 8h5m-5 10h5m-5 4h5m-5 1h5m-5 0h5m-5 1h5m-5 8h5m-5 0h5m-5 1h5m-5 2h5m-5 2h5m-5 7h5m-5 13h5m-5 15h5m-5 4h5m-5 1h5m-4 -117h5m-5 34h5m-5 11h5m-5 1h5m-5 2h5m-5 11h5m-5 0h5m-5 3h5m-5 1h5m-5 24h5m-5 37h5m-3 -159h5m-5 4h5m-5 0h5m-5 16h5m-5 7h5m-5 14h5m-5 2h5m-5 2h5m-5 5h5m-5 9h5m-5 1h5m-4 -51h5m-5 6h5m-5 2h5m-5 36h5m-5 8h5m-5 3h5m-5 3h5m-5 5h5m-5 4h5m-5 8h5m-5 1h5m-5 1h5m-5 0h5m-5 2h5m-5 7h5m-5 12h5m-5 5h5m-5 2h5m-5 3h5m-5 5h5m-5 0h5m-5 9h5m-5 4h5m-5 111h5m-4 -200h5m-5 24h5m-5 6h5m-5 19h5m-5 44h5m-5 28h5m-5 2h5m-5 0h5m-5 12h5m-4 -97h5m-5 20h5m-5 3h5m-5 100h5m-5 10h5m-5 47h5m-3 -242h5m-5 45h5m-5 112h5m-5 57h5m-5 32h5m-4 -309h5m-5 25h5m-5 29h5m-5 24h5m-5 23h5m-5 27h5m-5 17h5m-5 66h5m-5 26h5m-4 44h5m-4 -169h5m-5 13h5m-5 9h5m-5 32h5m-5 3h5m-5 52h5m-5 4h5m-4 -208h5m-4 44h5m-5 73h5m-5 41h5m-5 87h5m-4 -149h5m-5 29h5m-5 24h5m-5 12h5m-4 -116h5m-5 3h5m-5 2h5m-5 19h5m-5 17h5m-5 9h5m-5 7h5m-5 14h5m-5 3h5m-5 3h5m-5 8h5m-5 3h5m-5 11h5m-5 12h5m-5 1h5m-5 4h5m-5 3h5m-5 18h5m-5 111h5m-4 -48h5m-5 110h5m-4 -289h5m-5 56h5m-5 20h5m-5 5h5m-5 10h5m-5 58h5m-5 34h5m-5 12h5m-4 -133h5m-5 8h5m-5 26h5m-5 11h5m-5 19h5m-5 67h5m-4 -232h5m-5 16h5m-5 13h5m-5 22h5m-5 17h5m-5 8h5m-5 10h5m-5 78h5m-5 14h5m-4 -248h5m-5 150h5m-5 1h5m-5 3h5m-5 95h5m-1 -120h5m-4 8h5m-5 21h5m-5 31h5m-5 17h5m-5 111h5m-1 -191h5m-4 -31h5m-5 4h5m-5 18h5m-5 192h5m-4 -194h5m-4 35h5m-5 5h5m-5 19h5m-5 23h5m-5 0h5m-5 3h5m-5 29h5m-5 28h5m-1 -23h5m-3 -225h5m-5 50h5m-5 5h5m-5 3h5m-5 0h5m-5 16h5m-5 4h5m-5 17h5m-5 4h5m-5 0h5m-5 11h5m-5 0h5m-5 2h5m-5 6h5m-5 0h5m-5 6h5m-5 13h5m-5 14h5m-5 1h5m-5 39h5m-5 18h5m-5 48h5m-5 1h5m-5 12h5m-4 -177h5m-5 1h5m-5 55h5m-5 6h5m-5 1h5m-5 3h5m-5 46h5m-5 0h5m-5 47h5m-4 -397h5m-5 197h5m-5 11h5m-5 52h5m-5 20h5m-5 2h5m-5 21h5m-5 23h5m-5 48h5m-5 20h5m-5 17h5m-4 -227h5m-5 57h5m-5 26h5m-5 11h5m-5 15h5m-5 2h5m-3 -7h5m-5 5h5m-5 12h5m-5 1h5m-5 2h5m-5 19h5m-5 22h5m-5 11h5m-5 65h5m-3 -238h5m-5 73h5m-5 14h5m-5 60h5m-5 11h5m-5 48h5m-4 -130h5m-5 6h5m-5 7h5m-5 0h5m-5 7h5m-5 18h5m-5 4h5m-5 1h5m-5 13h5m-5 12h5m-4 -36h5m-5 30h5m-5 7h5m-5 26h5m-4 -129h5m-5 30h5m-5 22h5m-4 -98h5m-5 5h5m-5 3h5m-5 35h5m-5 11h5m-5 6h5m-5 17h5m-5 12h5m-5 2h5m-5 12h5m-5 5h5m-5 5h5m-5 3h5m-5 8h5m-5 4h5m-5 2h5m-5 11h5m-5 6h5m-5 2h5m-5 7h5m-5 3h5m-5 7h5m-4 -129h5m-5 17h5m-5 6h5m-5 8h5m-5 4h5m-5 5h5m-5 14h5m-5 21h5m-5 9h5m-5 18h5m-5 15h5m-4 -329h5m-5 92h5m-5 102h5m-5 11h5m-5 19h5m-5 2h5m-5 1h5m-5 5h5m-5 22h5m-5 3h5m-5 13h5m-5 30h5m-5 2h5m-5 14h5m-5 8h5m-5 7h5m-5 3h5m-5 21h5m-5 25h5m-5 1h5m-5 10h5m-5 1h5m-5 9h5m-5 14h5m-5 9h5m-5 102h5m-3 -490h5m-5 108h5m-5 101h5m-4 -93h5m-5 9h5m-5 12h5m-5 56h5m-5 12h5m-5 2h5m-5 9h5m-5 17h5m-5 12h5m-5 3h5m-5 1h5m-5 71h5m-4 -141h5m-5 135h5m-5 9h5m-3 -135h5m-5 16h5m-5 14h5m-5 0h5m-5 20h5m-5 26h5m-5 22h5m-5 23h5m-5 3h5m-5 2h5m-5 5h5m-5 36h5m-5 8h5m-5 2h5m-5 3h5m-5 3h5m-5 16h5m-5 5h5m-4 -269h5m-5 77h5m-5 3h5m-5 2h5m-5 6h5m-5 2h5m-5 3h5m-5 12h5m-5 5h5m-5 7h5m-5 4h5m-5 1h5m-5 23h5m-5 15h5m-5 15h5m-5 26h5m-5 1h5m-5 7h5m-5 8h5m-5 1h5m-5 1h5m-5 1h5m-5 8h5m-5 11h5m-5 2h5m-2 -245h5m-5 186h5m-5 26h5m-5 0h5m-5 5h5m-4 -240h5m-5 15h5m-5 43h5m-5 16h5m-5 18h5m-5 19h5m-5 57h5m-5 10h5m-5 22h5m-5 12h5m-5 11h5m-3 -113h5m-5 41h5m-5 0h5m-5 49h5m-4 -184h5m-5 189h5m-5 12h5m-4 -152h5m-5 7h5m-5 5h5m-5 30h5m-5 17h5m-5 81h5m-5 6h5m-5 3h5m-2 -243h5m-5 115h5m-5 5h5m-5 8h5m-5 27h5m-5 4h5m-5 19h5m-5 6h5m-5 2h5m-5 16h5m-2 -116h5m-5 29h5m-5 26h5m-5 17h5m-5 14h5m-5 26h5m-5 35h5m-5 79h5m-5 30h5m-5 16h5m-4 -235h5m-4 -48h5m-5 122h5m-5 63h5m-4 -270h5m-5 0h5m-5 23h5m-5 30h5m-5 6h5m-5 7h5m-5 16h5m-5 6h5m-5 0h5m-5 11h5m-5 29h5m-5 0h5m-5 1h5m-5 2h5m-5 22h5m-5 27h5m-5 21h5m-5 3h5m-5 5h5m-5 98h5m-4 -366h5m-5 29h5m-5 23h5m-5 27h5m-5 2h5m-5 5h5m-5 1h5m-5 9h5m-5 11h5m-5 7h5m-5 17h5m-5 6h5m-5 28h5m-5 19h5m-5 1h5m-5 4h5m-5 17h5m-5 0h5m-5 1h5m-5 5h5m-5 34h5m-5 4h5m-5 3h5m-5 14h5m-5 9h5m-5 17h5m-5 4h5m-5 7h5m-5 18h5m-5 6h5m-5 4h5m-5 2h5m-5 6h5m-5 0h5m-5 11h5m-5 15h5m-5 6h5m-5 7h5m-4 -238h5m-5 10h5m-5 35h5m-5 9h5m-5 41h5m-5 7h5m-5 6h5m-2 -192h5m-5 31h5m-5 23h5m-5 3h5m-5 24h5m-5 28h5m-5 17h5m-5 9h5m-5 21h5m-5 3h5m-5 16h5m-5 2h5m-5 1h5m-5 18h5m-5 9h5m-5 31h5m-5 21h5m-4 -235h5m-5 137h5m-5 24h5m-5 6h5m-5 4h5m-5 26h5m-5 8h5m-5 10h5m-5 4h5m-5 5h5m-5 16h5m-5 5h5m-5 2h5m-5 31h5m-2 -281h5m-5 4h5m-5 8h5m-5 19h5m-5 9h5m-5 4h5m-5 22h5m-5 5h5m-5 1h5m-5 2h5m-5 1h5m-5 11h5m-5 5h5m-5 4h5m-5 1h5m-5 94h5m-5 48h5m-5 25h5m-4 -226h5m-5 178h5m-4 -42h5m-4 -138h5m-5 2h5m-5 80h5m-5 10h5m-5 8h5m-5 18h5m-5 48h5m-5 6h5m-5 11h5m-5 1h5m-5 17h5m-5 28h5m-3 -84h5m-4 -70h5m-5 21h5m-5 12h5m-4 -127h5m-5 98h5m-5 7h5m-5 2h5m-5 28h5m-5 41h5m-4 -88h5m-5 38h5m-5 16h5m-5 87h5m-5 33h5m-5 142h5m-3 -372h5m-5 35h5m-5 5h5m-5 3h5m-4 -245h5m-5 2h5m-5 2h5m-5 22h5m-5 9h5m-5 2h5m-5 13h5m-5 29h5m-5 0h5m-5 29h5m-5 4h5m-5 4h5m-5 10h5m-5 87h5m-5 15h5m-5 14h5m-5 10h5m-5 45h5m-5 8h5m-5 6h5m-5 5h5m-5 9h5m-5 13h5m-5 1h5m-5 7h5m-5 9h5m-5 6h5m-5 4h5m-5 12h5m-5 2h5m-5 0h5m-5 21h5m-5 16h5m-5 20h5m-4 -309h5m-5 43h5m-5 27h5m-5 81h5m-5 10h5m-5 2h5m-5 12h5m-5 64h5m-5 18h5m-5 5h5m-5 21h5m-4 -125h5m-5 16h5m-5 23h5m-5 24h5m-5 5h5m-5 12h5m-5 2h5m-5 75h5m-4 -309h5m-5 21h5m-5 13h5m-5 3h5m-5 18h5m-5 55h5m-5 11h5m-5 11h5m-5 86h5m-5 2h5m-5 2h5m-5 6h5m-4 -263h5m-5 50h5m-5 8h5m-5 10h5m-5 22h5m-5 58h5m-5 9h5m-5 9h5m-5 20h5m-5 1h5m-5 13h5m-5 2h5m-5 36h5m-5 4h5m-5 5h5m-5 31h5m-5 1h5m-5 11h5m-5 0h5m-5 24h5m-5 3h5m-5 11h5m-5 2h5m-5 59h5m-4 -339h5m-5 1h5m-5 5h5m-5 80h5m-5 19h5m-5 6h5m-5 0h5m-5 1h5m-5 10h5m-5 8h5m-5 2h5m-5 4h5m-5 7h5m-5 1h5m-5 9h5m-5 1h5m-5 4h5m-5 1h5m-5 0h5m-5 13h5m-5 2h5m-5 12h5m-5 3h5m-5 1h5m-5 3h5m-5 6h5m-5 2h5m-5 2h5m-5 9h5m-5 4h5m-5 0h5m-5 8h5m-5 9h5m-5 0h5m-5 7h5m-5 17h5m-5 16h5m-4 -193h5m-1 -10h5m-5 8h5m-5 25h5m-5 19h5m-5 3h5m-5 31h5m-5 9h5m-5 11h5m-5 14h5m-3 -178h5m-5 103h5m-5 18h5m-5 6h5m-5 2h5m-5 18h5m-5 1h5m-5 6h5m-5 6h5m-5 3h5m-5 15h5m-5 3h5m-5 17h5m-5 11h5m-5 3h5m-4 -191h5m-5 9h5m-5 56h5m-5 15h5m-5 53h5m-5 7h5m-5 41h5m1 -223h5m-5 1h5m-5 66h5m-5 7h5m-5 10h5m-5 0h5m-5 18h5m-5 2h5m-5 1h5m-5 4h5m-5 1h5m-5 7h5m-5 12h5m-5 2h5m-5 3h5m-5 12h5m-5 0h5m-5 14h5m-5 4h5m-5 9h5m-5 4h5m-5 3h5m-5 6h5m-5 37h5m-5 31h5m-5 16h5m-4 -196h5m-5 13h5m-5 19h5m-4 81h5m-4 -36h5m-3 -183h5m-5 28h5m-5 23h5m-5 23h5m-5 13h5m-5 17h5m-5 14h5m-5 26h5m-4 -32h5m-5 13h5m-5 9h5m-5 3h5m-5 2h5m-5 1h5m-5 1h5m-4 -59h5m-5 22h5m-5 5h5m-5 3h5m-5 6h5m-5 8h5m-5 17h5m-5 7h5m-5 8h5m-5 7h5m-5 5h5m-5 1h5m-5 0h5m-5 7h5m-5 83h5m-4 -222h5m-5 10h5m-5 96h5m-5 18h5m-5 36h5m-5 1h5m-3 -150h5m-5 127h5m-5 16h5m-5 23h5m-5 11h5m-5 23h5m-2 -190h5m-5 57h5m-5 28h5m-5 28h5m-5 2h5m-5 109h5m-4 -207h5m-5 0h5m-5 1h5m-5 2h5m-5 19h5m-5 23h5m-5 5h5m-5 5h5m-5 3h5m-5 15h5m-5 75h5m-5 47h5m-5 14h5m-4 -95h5m-5 5h5m-5 33h5m-5 9h5m-4 -238h5m-5 44h5m-5 35h5m-5 75h5m-5 27h5m-5 32h5m-4 -89h5m-5 1h5m-5 20h5m-5 1h5m-4 1h5m-5 7h5m-5 7h5m-5 15h5m-5 7h5m-5 16h5m-5 13h5m-5 7h5m-3 -148h5m-5 42h5m-5 33h5m-5 25h5m-5 3h5m-5 5h5m-5 4h5m-5 5h5m-5 29h5m-5 33h5m-4 -96h5m-3 -88h5m-5 17h5m-5 17h5m-5 63h5m-5 4h5m-5 2h5m-5 11h5m-3 -122h5m-5 8h5m-5 61h5m-5 13h5m-4 -120h5m-5 22h5m-5 44h5m-5 16h5m-5 6h5m-5 56h5m-5 88h5m-5 47h5m-3 -267h5m-5 19h5m-5 37h5m-5 4h5m-5 17h5m-4 -71h5m-5 13h5m-5 6h5m-5 24h5m-5 6h5m-5 3h5m-5 7h5m-5 10h5m-5 8h5m-5 13h5m-5 12h5m-5 3h5m-5 6h5m-5 4h5m-5 0h5m-5 19h5m-5 0h5m-5 1h5m-5 4h5m-5 5h5m-5 6h5m-5 1h5m-5 10h5m-5 91h5m-3 -405h5m-5 0h5m-5 1h5m-5 5h5m-5 5h5m-5 4h5m-5 74h5m-5 17h5m-5 5h5m-5 17h5m-5 11h5m-5 13h5m-5 3h5m-5 15h5m-5 6h5m-5 12h5m-5 4h5m-5 10h5m-5 21h5m-5 15h5m-5 19h5m-5 20h5m-5 58h5m-5 7h5m-5 32h5m-5 14h5m-5 269h5m-4 -441h5m-5 1h5m-5 11h5m-5 11h5m-5 10h5m-5 8h5m-5 4h5m-5 18h5m-5 0h5m-5 13h5m-5 16h5m-3 -124h5m-5 42h5m-5 23h5m-4 10h5m-5 20h5m-5 39h5m-3 -127h5m-5 0h5m-5 13h5m-5 10h5m-5 15h5m-5 6h5m-5 1h5m-5 3h5m-5 11h5m-5 0h5m-5 1h5m-5 10h5m-5 8h5m-5 5h5m-5 2h5m-5 20h5m-5 5h5m-5 1h5m-5 2h5m-5 0h5m-5 1h5m-5 9h5m-5 14h5m-4 -239h5m-5 65h5m-5 55h5m-4 -119h5m-5 1h5m-5 11h5m-5 22h5m-5 74h5m-5 63h5m-5 45h5m-5 4h5m-5 17h5m-3 7h5m-4 -129h5m-5 63h5m-4 -79h5m-5 73h5m-4 -57h5m-5 40h5m-5 3h5m-5 2h5m-5 10h5m-5 3h5m-5 32h5m-3 -163h5m-5 17h5m-5 6h5m-5 8h5m-5 10h5m-5 7h5m-5 6h5m-5 1h5m-5 0h5m-5 2h5m-5 3h5m-5 0h5m-5 8h5m-5 0h5m-5 0h5m-5 1h5m-5 5h5m-5 1h5m-5 3h5m-5 3h5m-5 6h5m-5 2h5m-5 21h5m-5 9h5m-5 0h5m-5 2h5m-5 23h5m-5 3h5m-5 4h5m-5 0h5m-5 4h5m-5 1h5m-5 6h5m-5 1h5m-4 -163h5m-5 61h5m-5 10h5m-5 53h5m-5 29h5m-3 -297h5m-5 51h5m-5 21h5m-5 48h5m-5 28h5m-5 26h5m-5 8h5m-5 16h5m-5 15h5m-5 3h5m-5 15h5m-5 44h5m-5 15h5m-5 30h5m-5 83h5m-4 -204h5m-5 3h5m-5 21h5m-5 1h5m-5 7h5m-5 5h5m-5 4h5m-5 9h5m-5 1h5m-5 1h5m-5 7h5m-5 3h5m-5 2h5m-5 1h5m-5 15h5m-5 10h5m-4 -107h5m-5 30h5m-5 51h5m-5 105h5m-3 -170h5m-5 88h5m-4 -96h5m-5 40h5m-1 -76h5m-5 5h5m-5 8h5m-5 12h5m-5 1h5m-5 2h5m-5 14h5m-5 11h5m-5 5h5m-5 0h5m-5 26h5m-5 31h5m-5 5h5m-5 5h5m-5 29h5m-5 45h5m-5 23h5m-4 -194h5m-5 7h5m-5 6h5m-5 2h5m-5 1h5m-5 4h5m-5 3h5m-5 5h5m-5 1h5m-5 0h5m-5 0h5m-5 1h5m-5 4h5m-5 4h5m-5 3h5m-5 2h5m-5 1h5m-5 6h5m-5 4h5m-5 4h5m-5 11h5m-5 2h5m-5 2h5m-5 1h5m-5 0h5m-5 9h5m-4 -58h5m-4 -116h5m-5 15h5m-5 40h5m-5 209h5m-5 60h5m-4 -157h5m-4 -71h5m-3 9h5m-5 13h5m-5 34h5m-5 8h5m-5 10h5m0 -189h5m-5 46h5m-5 8h5m-5 29h5m-5 10h5m-5 3h5m-5 3h5m-5 19h5m-5 3h5m-5 16h5m-5 13h5m-5 25h5m-5 7h5m-5 54h5m-5 23h5m-3 -144h5m-5 38h5m-5 53h5m-5 4h5m-5 44h5m-4 -304h5m-5 28h5m-5 30h5m-5 14h5m-5 208h5m-4 -172h5m-5 32h5m-5 15h5m-5 2h5m-5 3h5m-5 1h5m-5 11h5m-5 2h5m-5 13h5m-5 3h5m-5 8h5m-5 7h5m-5 8h5m-5 18h5m-5 6h5m-5 24h5m-5 2h5m-5 8h5m-5 18h5m-5 34h5m-4 -309h5m-5 94h5m-5 148h5m-4 -160h5m-5 27h5m-5 6h5m-5 40h5m-5 3h5m-5 5h5m-5 3h5m-5 13h5m-5 2h5m-5 4h5m1 -109h5m-5 26h5m-5 17h5m-5 14h5m-5 5h5m-5 1h5m-5 43h5m-4 -17h5m-5 19h5m-5 31h5m-5 2h5m-5 4h5m-3 -136h5m-4 -21h5m-5 18h5m-5 17h5m-5 8h5m-5 8h5m-5 5h5m-5 4h5m-5 14h5m-5 7h5m-5 5h5m-5 31h5m-5 72h5m-5 8h5m-5 11h5m-5 1h5m-5 11h5m-5 23h5m-4 -297h5m-5 75h5m-5 25h5m-5 67h5m-5 12h5m-2 39h5m-5 16h5m-3 322h5m-4 -365h5m-2 -94h5m-5 52h5m-5 28h5m-5 17h5m-5 47h5m-5 22h5m-5 22h5m-5 14h5m-5 10h5m-4 -328h5m-5 16h5m-5 25h5m-5 45h5m-5 8h5m-5 3h5m-5 0h5m-5 8h5m-5 20h5m-5 4h5m-5 0h5m-5 2h5m-5 12h5m-5 8h5m-5 21h5m-5 12h5m-5 38h5m-5 1h5m-5 21h5m-5 10h5m-5 9h5m-5 18h5m-5 6h5m-5 3h5m-5 85h5m-5 1h5m-5 6h5m-5 15h5m-5 15h5m-5 12h5m-4 -309h5m-5 9h5m-5 79h5m-5 13h5m-3 -104h5m-2 -75h5m-5 28h5m-5 31h5m-5 0h5m-5 22h5m-5 20h5m-5 16h5m-5 3h5m-5 22h5m-5 9h5m-5 3h5m-5 1h5m-5 8h5m-5 11h5m-5 2h5m-5 5h5m-5 19h5m-5 19h5m-5 14h5m-5 8h5m-5 42h5m-5 14h5m-4 -131h5m-5 13h5m-4 -167h5m-4 93h5m-5 41h5m-5 30h5m-5 92h5m-4 -214h5m-5 2h5m-5 36h5m-5 24h5m-5 73h5m-5 12h5m-5 43h5m-4 -140h5m-4 -147h5m-5 16h5m-5 11h5m-5 22h5m-5 4h5m-5 18h5m-5 25h5m-5 5h5m-5 20h5m-5 10h5m-5 1h5m-5 71h5m-4 -89h5m-5 1h5m-5 10h5m-5 31h5m-5 11h5m-4 -126h5m-5 134h5m-5 9h5m-3 -119h5m-3 100h5m-5 1h5m-5 53h5m-4 -224h5m-5 60h5m-5 40h5m-5 7h5m-5 38h5m-5 40h5m-5 3h5m-5 37h5m-5 12h5m-5 48h5m-5 9h5m-5 30h5m-5 66h5m-5 15h5m-4 -318h5m-5 18h5m-5 3h5m-5 2h5m-5 72h5m-5 16h5m-5 19h5m-5 5h5m-5 10h5m-5 0h5m-5 7h5m-5 10h5m-5 14h5m-5 16h5m-4 -54h5m-3 -272h5m-5 18h5m-5 72h5m-5 1h5m-5 8h5m-5 18h5m-5 72h5m-5 5h5m-5 2h5m-5 8h5m-5 20h5m-5 33h5m-5 2h5m-5 42h5m-5 1h5m-5 2h5m-5 15h5m-5 4h5m-5 7h5m-5 33h5m-5 27h5m-1 -280h5m-5 53h5m-5 14h5m-5 18h5m-5 29h5m-5 1h5m-5 0h5m-5 6h5m-5 2h5m-5 4h5m-5 56h5m-5 27h5m-4 -155h5m-5 16h5m-5 32h5m-5 3h5m-5 28h5m-5 2h5m-3 -125h5m-5 13h5m-5 14h5m-5 15h5m-5 4h5m-5 3h5m-5 2h5m-5 2h5m-5 0h5m-5 12h5m-5 12h5m-5 4h5m-5 24h5m-5 1h5m-5 18h5m-5 2h5m-5 24h5m-3 -234h5m-5 52h5m-5 1h5m-5 14h5m-5 62h5m-5 21h5m-5 27h5m-5 11h5m-5 24h5m-5 23h5m-5 40h5m-5 6h5m-4 -111h5m-5 9h5m-5 61h5m-4 -236h5m-5 45h5m-5 73h5m-5 7h5m-5 8h5m-5 47h5m-2 -114h5m-3 -45h5m-5 292h5m-5 14h5m-4 -283h5m-5 60h5m-5 0h5m-5 5h5m-5 33h5m-5 27h5m-5 36h5m-5 33h5m-5 0h5m-5 29h5m-5 17h5m-3 -171h5m-5 22h5m-5 74h5m0 -103h5m-5 109h5m-5 15h5m-4 -274h5m-5 110h5m-5 9h5m-5 209h5m-5 128h5m-4 -284h5m-5 14h5m-5 32h5m-5 15h5m-3 -177h5m-5 131h5m-4 -2h5m-5 16h5m-5 19h5m-5 17h5m-5 3h5m-5 7h5m-5 3h5m-5 29h5m-5 6h5m-4 -191h5m-5 64h5m-5 34h5m-5 9h5m-5 102h5m-2 -252h5m-5 47h5m-5 8h5m-5 11h5m-5 0h5m-5 14h5m-5 1h5m-5 34h5m-5 6h5m-5 46h5m-5 1h5m-5 8h5m-5 0h5m-5 8h5m-5 22h5m-5 27h5m-5 4h5m-5 26h5m-5 40h5m-2 -114h5m-5 50h5m-5 2h5m-4 -134h5m-5 124h5m-5 18h5m-4 -288h5m-5 20h5m-5 51h5m-5 116h5m-5 16h5m-5 77h5m-5 6h5m-4 -250h5m-5 25h5m-5 57h5m-5 22h5m-5 15h5m-5 97h5m-5 29h5m-5 4h5m-5 29h5m-3 -246h5m-5 16h5m-5 7h5m-5 1h5m-5 5h5m-5 2h5m-5 5h5m-5 1h5m-5 1h5m-5 4h5m-5 3h5m-5 3h5m-5 4h5m-5 4h5m-5 3h5m-5 0h5m-5 5h5m-5 4h5m-5 0h5m-5 9h5m-5 2h5m-5 3h5m-5 16h5m-5 24h5m-5 7h5m-5 0h5m-5 28h5m-5 4h5m-5 6h5m-5 2h5m-5 14h5m-5 6h5m-5 3h5m-5 22h5m-1 -56h5m-5 23h5m-4 -190h5m-5 32h5m-5 37h5m-5 61h5m-5 59h5m-4 -170h5m-5 3h5m-5 20h5m-5 4h5m-5 67h5m-5 5h5m-5 23h5m-5 10h5m-5 4h5m-5 49h5m-5 13h5m-5 28h5m-4 -180h5m-5 20h5m-5 15h5m-5 17h5m-5 9h5m-5 3h5m-5 19h5m-5 8h5m-3 -68h5m-5 4h5m-5 6h5m-5 6h5m-5 5h5m-5 1h5m-5 5h5m-5 4h5m-5 10h5m-5 1h5m-5 10h5m-5 17h5m-5 13h5m-5 0h5m-5 55h5m-4 -173h5m-5 15h5m-1 278h5m-4 -329h5m-5 49h5m-5 67h5m-3 -71h5m-5 2h5m-5 6h5m-5 5h5m-5 19h5m-5 17h5m-5 11h5m-5 2h5m-5 12h5m-5 14h5m-5 3h5m-5 7h5m-4 -134h5m-5 26h5m-5 74h5m-5 17h5m-5 12h5m-2 -121h5m-5 38h5m-5 5h5m-5 11h5m-5 17h5m-4 21h5m-5 30h5m-5 2h5m-5 1h5m-4 48h5m-5 0h5m-3 -232h5m-5 17h5m-5 48h5m-5 43h5m-5 1h5m-5 2h5m-5 38h5m-5 1h5m-5 16h5m-5 15h5m-5 52h5m-4 -25h5m-5 5h5m-5 5h5m-5 16h5m-3 -271h5m-5 31h5m-5 82h5m-5 6h5m-5 54h5m-5 24h5m-5 22h5m-5 25h5m-5 66h5m-5 32h5m-5 31h5m-5 12h5m-5 8h5m-4 -290h5m-5 7h5m-5 39h5m-5 4h5m-5 7h5m-5 29h5m-5 8h5m-5 4h5m-5 8h5m-5 31h5m-4 -69h5m0 -150h5m-5 110h5m-5 64h5m-4 -146h5m-5 21h5m-5 1h5m-5 40h5m-5 7h5m-5 26h5m-4 -17h5m-5 16h5m-5 16h5m-5 45h5m-5 17h5m-4 -179h5m-5 163h5m-5 5h5m-5 3h5m-5 2h5m-5 9h5m-5 19h5m-5 39h5m-5 4h5m-5 2h5m-3 -256h5m-5 66h5m-5 14h5m-5 21h5m-5 20h5m-5 12h5m-5 2h5m-5 1h5m-5 11h5m-5 3h5m-5 13h5m-5 10h5m-5 2h5m-5 15h5m-5 7h5m-5 7h5m-5 36h5m-4 -146h5m-5 8h5m-5 26h5m-5 19h5m-5 5h5m-5 24h5m-5 20h5m-5 6h5m-5 1h5m-5 13h5m-4 -151h5m-5 94h5m-5 76h5m-4 -159h5m-5 7h5m-5 88h5m-4 109h5m-2 -346h5m-5 27h5m-5 51h5m-5 17h5m-5 92h5m-3 50h5m-5 24h5m-5 31h5m-5 1h5m-5 2h5m-3 -247h5m-5 53h5m-5 125h5m-5 27h5m-5 79h5m-5 1h5m-3 -204h5m-5 23h5m-5 5h5m-5 3h5m-5 13h5m-5 18h5m-5 23h5m-5 57h5m-5 18h5m-4 -155h5m-5 15h5m-5 4h5m-5 30h5m-5 19h5m-5 9h5m-5 45h5m-4 -153h5m-5 6h5m-5 46h5m-5 7h5m-5 0h5m-5 85h5m-5 33h5m-3 -106h5m-5 105h5m-2 -127h5m-5 134h5m-5 74h5m-4 -194h5m-5 15h5m-5 4h5m-5 26h5m-5 24h5m0 -141h5m-5 10h5m-5 105h5m-5 70h5m-5 1h5m0 -48h5m-5 24h5m-4 -2h5m-5 40h5m-3 -65h5m-5 37h5m-5 65h5m-3 -241h5m-5 28h5m-5 24h5m-5 3h5m-5 36h5m-5 11h5m-5 2h5m-5 9h5m-5 2h5m-5 7h5m-5 30h5m-5 28h5m-5 9h5m-5 8h5m-5 4h5m-5 9h5m-5 5h5m-5 5h5m-3 -201h5m-5 8h5m-5 97h5m-5 7h5m-5 12h5m-5 33h5m-5 4h5m-5 23h5m-5 35h5m-3 -178h5m-5 176h5m-4 -57h5m0 -229h5m-5 3h5m-5 30h5m-5 27h5m-5 26h5m-5 0h5m-5 92h5m-3 -100h5m-5 150h5m-5 2h5m-1 -132h5m-5 71h5m-4 -148h5m-5 7h5m-5 19h5m-5 20h5m-5 10h5m-5 11h5m-5 10h5m-5 123h5m-5 6h5m-4 34h5m-4 -140h5m-3 -20h5m-5 19h5m-5 26h5m-5 33h5m-5 6h5m-4 -200h5m-5 0h5m-1 111h5m-5 13h5m-5 12h5m-5 16h5m-5 8h5m-5 1h5m-5 6h5m-5 14h5m-5 5h5m-5 27h5m-5 9h5m-5 4h5m0 -220h5m-5 18h5m-5 73h5m-5 9h5m-5 13h5m-5 4h5m-5 6h5m-5 20h5m-5 6h5m-5 13h5m-5 23h5m-5 30h5m-5 13h5m-5 94h5m-4 -251h5m-5 57h5m-5 59h5m-5 23h5m-5 16h5m-5 48h5m0 -258h5m-5 27h5m-5 23h5m-5 13h5m-5 8h5m-5 9h5m-5 11h5m-5 115h5m-4 -83h5m-4 -218h5m-5 82h5m-5 21h5m-5 14h5m-5 27h5m-5 13h5m-5 4h5m-5 88h5m-5 33h5m-5 14h5m-5 7h5m-5 7h5m-5 31h5m-5 12h5m-2 -215h5m-1 203h5m-1 -263h5m-5 2h5m-5 11h5m-5 21h5m-5 11h5m-5 2h5m-5 3h5m-5 4h5m-5 18h5m-5 0h5m-5 4h5m-5 2h5m-5 2h5m-5 2h5m-5 15h5m-5 11h5m-5 2h5m-5 1h5m-5 1h5m-5 5h5m-5 11h5m-5 0h5m-5 5h5m-5 3h5m-5 10h5m-5 9h5m-5 1h5m-5 3h5m-5 28h5m-4 -201h5m-5 65h5m-5 24h5m-5 124h5m-5 20h5m-1 -242h5m-5 35h5m-5 15h5m-5 8h5m-5 0h5m-5 5h5m-5 1h5m-5 7h5m-3 -3h5m-5 2h5m-5 20h5m-5 26h5m-5 15h5m-5 24h5m-4 -287h5m-1 237h5m-5 19h5m-5 67h5m-5 8h5m3 -166h5m-5 81h5m-4 -26h5m-5 11h5m-5 44h5m-5 8h5m-2 -109h5m-5 13h5m-5 6h5m-5 16h5m-3 -16h5m-5 85h5m-2 -166h5m-5 7h5m-5 49h5m-5 12h5m-5 17h5m1 14h5m-5 14h5m-5 15h5m-5 43h5m-1 -134h5m-5 13h5m-5 11h5m-5 3h5m-5 1h5m-5 3h5m-5 2h5m0 51h5m-2 -74h5m-5 3h5m-5 17h5m-5 8h5m-5 20h5m-4 75h5m2 -63h5m-2 -52h5m-5 2h5m-5 39h5m-5 2h5m-5 11h5m-5 39h5m-5 4h5m-3 -150h5m-5 53h5m-5 25h5m-5 55h5m-4 -144h5m-5 35h5m-5 7h5m-5 27h5m-5 26h5m-5 66h5m-4 -133h5m-5 8h5m-5 4h5m-5 1h5m-5 5h5m-5 2h5m-5 10h5m-5 5h5m-5 4h5m-5 12h5m-5 56h5m-5 6h5m-5 32h5m-4 -212h5m-5 42h5m-5 5h5m-5 54h5m-5 1h5m-5 3h5m-5 4h5m-5 8h5m-5 12h5m-5 3h5m-5 10h5m-5 0h5m-5 13h5m-5 52h5m-5 23h5m0 -168h5m-5 41h5m-5 30h5m-5 26h5m-5 30h5m-4 -161h5m-5 78h5m-5 24h5m-3 -33h5m-3 113h5m-4 -207h5m-5 26h5m-5 84h5m-5 4h5m-5 3h5m-5 2h5m-5 33h5m-5 3h5m-5 2h5m-5 15h5m-5 15h5m-4 -142h5m-5 5h5m-5 35h5m-5 41h5m-5 35h5m-4 64h5m-4 -148h5m-5 20h5m-5 12h5m-5 20h5m-5 5h5m-5 12h5m-5 7h5m-5 7h5m-5 3h5m-5 5h5m-5 2h5m-5 2h5m-3 -136h5m-5 94h5m-1 -159h5m1 69h5m-5 96h5m-5 30h5m0 -186h5m-5 61h5m-5 2h5m-5 28h5m-5 8h5m-4 -70h5m-5 19h5m-5 2h5m-5 3h5m-5 36h5m-4 -89h5m-5 43h5m-5 72h5m-5 0h5m-5 71h5m-3 -28h5m-4 -47h5m-5 17h5m-4 -149h5m-5 198h5m1 -146h5m-5 88h5m-2 -85h5m-5 42h5m-5 7h5m-5 26h5m-3 -121h5m-5 10h5m-5 0h5m-5 2h5m-5 6h5m-5 3h5m-5 2h5m-5 17h5m-5 3h5m-5 2h5m-5 0h5m-5 13h5m-5 10h5m-5 10h5m-3 -102h5m-5 109h5m-5 4h5m-5 9h5m-5 3h5m-5 1h5m-5 2h5m-5 0h5m-5 3h5m-5 4h5m-5 1h5m-5 4h5m-5 0h5m-5 5h5m-5 2h5m-5 7h5m-5 3h5m-5 0h5m-5 2h5m-3 -172h5m-5 33h5m-5 18h5m-5 33h5m-5 11h5m-5 20h5m-1 -108h5m-5 15h5m-5 17h5m-5 11h5m-2 18h5m-5 5h5m-5 49h5m-5 5h5m-5 6h5m-5 9h5m-5 11h5m-2 -198h5m-5 32h5m-5 28h5m-5 37h5m-5 6h5m-5 0h5m-5 14h5m-5 3h5m-5 2h5m-5 2h5m-5 62h5m-5 28h5m-5 0h5m-3 -130h5m-5 19h5m-5 1h5m-5 26h5m-5 22h5m-5 67h5m-4 -159h5m-5 13h5m-5 2h5m-5 3h5m-5 101h5m-2 -106h5m-5 36h5m-3 -68h5m-5 4h5m-5 12h5m-5 15h5m-5 16h5m-5 1h5m-5 3h5m-1 12h5m-5 0h5m-5 26h5m2 17h5m-4 -168h5m-5 55h5m-5 19h5m-5 8h5m-5 6h5m-5 11h5m-5 6h5m-5 14h5m-5 73h5m-2 -165h5m-5 4h5m-5 13h5m-5 46h5m-5 16h5m-5 21h5m-5 23h5m-5 23h5m3 -69h5m-5 3h5m-5 0h5m-5 2h5m-5 1h5m-5 4h5m-5 19h5m-5 5h5m-3 -95h5m-5 9h5m-5 53h5m-5 3h5m11 -15h5m-5 20h5m-5 54h5m1 -116h5m7 -96h5m-5 10h5m-5 3h5m-5 1h5m-5 34h5m-5 2h5m-5 7h5m-5 8h5m-5 29h5m-5 4h5m-5 9h5m-5 6h5m-5 0h5m-5 5h5m-5 1h5m-5 18h5m-5 19h5m-5 46h5m2 -111h5m-2 -52h5m-5 16h5m-5 118h5m2 -119h5m-5 53h5m-5 11h5m-5 8h5m-5 3h5m-5 10h5m4 -69h5m-5 44h5m5 -111h5m-5 15h5m-5 27h5m-5 176h5m-4 -179h5m-5 7h5m-5 2h5m-5 15h5m-5 29h5m-5 5h5m-5 2h5m-5 2h5m-5 4h5m-5 8h5m-5 0h5m11 -171h5m-5 74h5m-5 17h5m-5 140h5m-5 27h5m-5 6h5m-5 9h5m1 -228h5m-5 12h5m-5 15h5m-5 31h5m-5 6h5m1 -28h5m-5 38h5m-4 -106h5m-5 185h5m-3 -191h5m-5 12h5m-5 43h5m-5 108h5m-5 31h5m-5 21h5m-5 49h5m6 -256h5m-5 118h5m0 -31h5m-5 91h5m12 -167h5m-5 28h5m-5 29h5m-5 51h5m5 -45h5m-5 2h5m-5 13h5m-5 25h5m-5 15h5m-5 12h5m-5 0h5m-5 1h5m0 -87h5m0 -58h5m-5 28h5m-5 4h5m-5 1h5m-5 18h5m-5 19h5m-5 8h5m-5 4h5m-5 8h5m-5 40h5m-5 20h5m-5 2h5m-5 9h5m-1 -56h5m-2 -233h5m-5 43h5m-5 58h5m-5 1h5m-5 0h5m-5 4h5m-5 3h5m-5 56h5m-5 9h5m-5 10h5m-5 19h5m-5 8h5m-5 4h5m-5 12h5m-5 3h5m-5 11h5m-5 8h5m-5 22h5m-5 10h5m-5 15h5m-5 19h5m-5 17h5m9 -57h5m7 -152h5m6 148h5m2 -94h5m-1 -126h5m-5 35h5m-5 4h5m-5 43h5m-5 3h5m-5 7h5m-5 1h5m6 -207h5m5 282h5m-4 -257h5m-5 29h5m-5 167h5m-5 87h5m-5 35h5m74 -239h5m32 -69h5m19 7h5m-5 30h5m15 101h5m-5 2h5m-5 2h5m-5 6h5"/><path d="M246 1414h5m-1 5h5m5 86h5m2 -40h5m0 -28h5m-2 -29h5m-2 20h5m1 1h5m-1 -34h5m-5 4h5m-5 5h5m-5 15h5m-5 6h5m-5 3h5m-5 11h5m-5 3h5m-5 5h5m-4 -91h5m-5 9h5m-5 3h5m-5 13h5m-5 42h5m-5 3h5m-4 -94h5m-5 65h5m-5 4h5m-4 -67h5m-4 45h5m-5 2h5m-5 0h5m-5 5h5m-5 3h5m-5 4h5m-5 3h5m-5 2h5m-5 0h5m-5 1h5m-5 1h5m-5 1h5m-5 7h5m-5 3h5m-3 -68h5m-5 85h5m-4 -72h5m-5 6h5m-5 4h5m-5 3h5m-5 9h5m-5 3h5m-5 1h5m-5 6h5m2 -93h5m-5 94h5m-5 3h5m-5 31h5m-5 58h5m-4 -70h5m-5 1h5m-5 0h5m-5 1h5m-5 10h5m-5 24h5m-3 -51h5m-5 16h5m-5 5h5m-4 1h5m-3 -33h5m-5 5h5m-4 32h5m-4 -14h5m-4 -74h5m-5 11h5m-5 10h5m-5 50h5m-5 14h5m-4 -60h5m-5 9h5m-5 13h5m-5 18h5m-5 0h5m-5 7h5m-5 0h5m-5 4h5m-5 3h5m-1 -20h5m-5 0h5m-5 14h5m-5 61h5m-4 -148h5m-5 15h5m-5 12h5m-5 3h5m-5 1h5m-5 6h5m-5 11h5m-5 14h5m-5 0h5m-5 1h5m-3 -2h5m-5 16h5m-5 0h5m-5 57h5m-5 10h5m-2 -105h5m-5 6h5m-5 22h5m-5 10h5m-5 28h5m-5 0h5m-5 1h5m-5 27h5m-4 -104h5m-5 8h5m-5 6h5m-5 7h5m-5 3h5m-5 11h5m-5 1h5m-5 2h5m-5 3h5m-5 1h5m-5 7h5m-5 11h5m-5 2h5m-5 0h5m-5 11h5m-3 -64h5m-5 72h5m-5 14h5m-5 22h5m-3 -142h5m-4 -32h5m-5 35h5m-5 6h5m-4 4h5m-5 80h5m-4 -85h5m-5 25h5m-5 52h5m-5 1h5m-5 59h5m-5 5h5m-5 8h5m-5 7h5m-4 -154h5m-5 6h5m-5 39h5m-5 3h5m-5 20h5m-5 28h5m-5 17h5m-5 9h5m-3 -46h5m-5 2h5m-5 12h5m-5 10h5m-5 4h5m-5 0h5m-5 1h5m-5 25h5m-4 -187h5m-5 49h5m-5 35h5m-5 2h5m-5 7h5m-5 11h5m-5 0h5m-5 42h5m-5 40h5m-5 0h5m-5 21h5m-5 11h5m-5 27h5m-4 -395h5m-5 230h5m-5 11h5m-4 -100h5m-5 88h5m-5 12h5m-5 33h5m-5 2h5m-5 3h5m-5 29h5m-5 13h5m-5 8h5m-5 25h5m-1 -172h5m-5 56h5m-5 2h5m-5 46h5m-5 11h5m-5 27h5m-4 -171h5m-5 8h5m-5 19h5m-5 8h5m-5 8h5m-5 4h5m-5 1h5m-5 2h5m-5 17h5m-5 4h5m-5 6h5m-5 7h5m-5 1h5m-5 1h5m-5 3h5m-5 1h5m-5 5h5m-5 0h5m-5 4h5m-5 1h5m-5 5h5m-5 4h5m-5 3h5m-5 4h5m-5 1h5m-5 1h5m-5 5h5m-5 2h5m-5 4h5m-5 4h5m-5 2h5m-5 1h5m-5 9h5m-5 1h5m-5 1h5m-5 1h5m-5 6h5m-5 1h5m-5 0h5m-5 0h5m-5 14h5m-5 4h5m-5 5h5m-5 12h5m-3 -102h5m-1 -8h5m-5 5h5m-5 53h5m-5 3h5m-5 10h5m-4 -162h5m-5 55h5m-5 37h5m-4 -79h5m-5 33h5m-5 25h5m-5 53h5m-5 44h5m-5 32h5m-5 2h5m-5 53h5m-4 -102h5m-5 34h5m-5 13h5m-4 -84h5m-5 0h5m-5 5h5m-5 12h5m-4 -70h5m-5 9h5m-4 -25h5m-5 100h5m-4 -94h5m-5 53h5m2 26h5m-5 31h5m-3 -172h5m-5 16h5m-5 10h5m-5 51h5m-5 1h5m-5 15h5m-5 1h5m-5 1h5m-5 0h5m-5 6h5m-5 0h5m-5 8h5m-5 9h5m-5 8h5m-5 0h5m-5 2h5m-5 2h5m-5 4h5m-2 -48h5m-5 13h5m-5 4h5m-5 19h5m-5 3h5m-5 1h5m-5 1h5m-5 3h5m-5 6h5m-5 3h5m-5 3h5m-5 9h5m-5 14h5m-5 1h5m-5 8h5m-5 7h5m-5 23h5m-5 1h5m-4 -229h5m-5 153h5m-5 30h5m-4 -197h5m-5 108h5m-4 55h5m-5 67h5m-4 -55h5m-5 72h5m-4 -156h5m-5 38h5m-5 53h5m-5 4h5m-5 6h5m-5 46h5m-4 -92h5m-5 6h5m-4 -75h5m-5 10h5m-5 8h5m-5 47h5m-5 13h5m-5 7h5m-5 55h5m-5 26h5m-3 -174h5m-5 1h5m-5 27h5m-5 76h5m-5 7h5m-5 13h5m-4 -25h5m-5 112h5m-4 -176h5m-5 31h5m-5 22h5m-5 7h5m-1 -107h5m-5 12h5m-5 12h5m-5 40h5m-5 12h5m-5 17h5m-5 39h5m-5 14h5m-5 8h5m-2 -147h5m-4 -153h5m-5 2h5m-5 33h5m-5 3h5m-5 27h5m-5 25h5m-5 1h5m-5 10h5m-5 7h5m-5 7h5m-5 5h5m-5 9h5m-5 3h5m-5 12h5m-5 4h5m-5 3h5m-5 3h5m-5 27h5m-5 1h5m-5 9h5m-5 7h5m-5 22h5m-5 3h5m-5 22h5m-5 16h5m-5 7h5m-5 14h5m-5 10h5m-5 8h5m-5 1h5m-5 11h5m-5 13h5m-5 40h5m-5 43h5m-4 -309h5m-5 65h5m-5 42h5m-5 5h5m-5 36h5m-5 14h5m-5 5h5m-5 1h5m-5 37h5m-4 -193h5m-5 1h5m-5 40h5m-5 1h5m-5 53h5m-5 5h5m-5 2h5m-5 10h5m-5 19h5m-5 31h5m-5 2h5m-5 11h5m-5 4h5m-5 0h5m-5 26h5m-5 3h5m-4 -42h5m-4 -89h5m-5 72h5m-5 24h5m-3 -195h5m-5 14h5m-5 50h5m-4 -51h5m-5 41h5m-5 11h5m-5 6h5m-5 15h5m-5 31h5m-5 25h5m-5 21h5m-5 10h5m-5 13h5m-5 3h5m-5 2h5m-4 -244h5m-5 57h5m-5 21h5m-5 191h5m-5 47h5m-4 -101h5m-3 -112h5m-5 0h5m-5 31h5m-5 12h5m-5 4h5m-5 28h5m-5 17h5m-5 77h5m-2 -186h5m-5 13h5m-5 42h5m-3 -7h5m-5 29h5m-5 46h5m-1 -54h5m-5 5h5m-5 3h5m-5 6h5m-5 2h5m-5 10h5m-5 7h5m-5 20h5m-4 -190h5m-5 35h5m-5 3h5m-5 168h5m-5 26h5m-5 27h5m-4 -231h5m-5 27h5m-5 12h5m-5 1h5m-5 66h5m-5 11h5m-5 18h5m-5 19h5m-5 31h5m-5 18h5m-2 -282h5m-5 20h5m-5 54h5m-5 2h5m-5 23h5m-5 23h5m-5 22h5m-5 14h5m-5 10h5m-5 6h5m-5 37h5m-5 2h5m-5 5h5m-5 6h5m-5 38h5m-5 9h5m-5 48h5m-5 21h5m-4 -232h5m-5 6h5m-5 1h5m-5 6h5m-5 2h5m-5 15h5m-5 12h5m-5 11h5m-5 3h5m-5 3h5m-5 0h5m-5 6h5m-5 0h5m-5 3h5m-5 7h5m-5 6h5m-5 5h5m-5 21h5m-5 10h5m-5 19h5m-5 1h5m-5 4h5m-5 16h5m-4 43h5m-4 -222h5m-5 23h5m-5 179h5m-4 -187h5m-5 37h5m-5 4h5m-5 9h5m-5 3h5m-5 7h5m-5 18h5m-5 19h5m-5 19h5m-5 57h5m-5 15h5m-5 2h5m-4 -210h5m-5 1h5m-5 25h5m-5 15h5m-5 9h5m-5 8h5m-5 0h5m-5 4h5m-5 8h5m-5 2h5m-5 9h5m-5 8h5m-5 5h5m-5 6h5m-5 5h5m-5 2h5m-5 2h5m-5 2h5m-5 32h5m-5 32h5m-5 8h5m-5 4h5m-5 1h5m-5 0h5m-5 2h5m-3 -46h5m-2 -174h5m-4 -69h5m-5 113h5m-5 122h5m-4 -161h5m-5 66h5m-4 -90h5m-5 15h5m-5 5h5m-5 21h5m-5 4h5m-5 3h5m-5 0h5m-5 14h5m-5 2h5m-5 18h5m-5 6h5m-5 3h5m-5 17h5m-5 1h5m-5 2h5m-5 1h5m-5 7h5m-5 9h5m-5 22h5m-5 1h5m-5 11h5m-5 1h5m-5 2h5m-5 44h5m-5 5h5m-5 26h5m-5 3h5m-2 -285h5m-5 65h5m-5 28h5m-5 12h5m-5 4h5m-5 1h5m-5 4h5m-5 2h5m-5 3h5m-5 7h5m-5 2h5m-5 3h5m-5 2h5m-5 1h5m-5 3h5m-5 3h5m-5 1h5m-5 4h5m-5 5h5m-5 8h5m-5 3h5m-5 7h5m-5 2h5m-5 3h5m-5 18h5m-5 1h5m-4 -157h5m-5 6h5m-5 9h5m-5 3h5m-5 8h5m-5 18h5m-5 38h5m-5 9h5m-5 26h5m-5 5h5m-5 20h5m-5 3h5m-5 14h5m-5 7h5m-5 5h5m-5 20h5m-5 9h5m-5 63h5m-3 -252h5m-5 23h5m-5 34h5m-5 1h5m-5 3h5m-5 178h5m-5 12h5m-2 -239h5m-5 29h5m-5 3h5m-5 209h5m-3 -269h5m-5 8h5m-5 8h5m-5 29h5m-5 23h5m-5 4h5m-5 22h5m-5 29h5m-5 11h5m-5 3h5m-5 3h5m-5 101h5m-4 -197h5m-5 50h5m-5 29h5m-5 45h5m-5 15h5m-5 1h5m-5 1h5m-5 0h5m-5 12h5m-5 7h5m-5 14h5m-5 2h5m-5 31h5m-5 2h5m-5 32h5m-5 1h5m-3 -158h5m-5 5h5m-5 64h5m-5 72h5m-5 23h5m-3 -166h5m-5 11h5m-5 42h5m-5 55h5m-5 9h5m-5 9h5m-5 20h5m-5 8h5m-4 -349h5m-5 7h5m-5 38h5m-5 23h5m-5 9h5m-5 30h5m-5 33h5m-5 14h5m-5 35h5m-5 77h5m-5 4h5m-5 34h5m-5 64h5m-5 6h5m-5 20h5m-5 6h5m-5 1h5m-4 -320h5m-5 20h5m-5 9h5m-5 42h5m-5 87h5m-4 -170h5m-5 6h5m-5 5h5m-5 32h5m-5 8h5m-5 14h5m-5 6h5m-5 6h5m-5 25h5m-5 12h5m-5 11h5m-3 -104h5m-5 19h5m-5 4h5m-5 9h5m-5 9h5m-5 24h5m-5 49h5m-5 37h5m-5 74h5m-2 -243h5m-5 43h5m-3 14h5m-5 29h5m-5 18h5m-5 7h5m-5 27h5m-3 -90h5m-5 11h5m-5 3h5m-5 3h5m-5 5h5m-5 11h5m-5 2h5m-5 11h5m-5 13h5m-5 7h5m-5 38h5m-5 19h5m-5 87h5m-2 -273h5m-5 7h5m-5 10h5m-5 25h5m-5 62h5m-5 7h5m-5 27h5m-5 7h5m-5 12h5m-5 12h5m-5 6h5m-5 7h5m-5 12h5m-5 5h5m-5 34h5m-5 4h5m-5 54h5m-4 -161h5m-5 12h5m-5 19h5m-3 -154h5m-5 66h5m-5 27h5m-5 0h5m-5 1h5m-5 8h5m-5 11h5m-5 59h5m-2 -167h5m-5 12h5m-5 14h5m-5 17h5m-5 27h5m-5 3h5m-5 6h5m-5 3h5m-5 16h5m-5 18h5m-5 50h5m-5 16h5m-5 27h5m-5 0h5m-5 36h5m-4 -256h5m-5 46h5m-5 32h5m-5 25h5m-5 33h5m-4 -147h5m-5 9h5m-5 28h5m-5 100h5m-5 6h5m-5 1h5m-5 1h5m-5 77h5m-5 15h5m-4 -252h5m-5 103h5m-5 85h5m-5 13h5m-5 3h5m-5 34h5m-4 -254h5m-5 33h5m-5 6h5m-5 37h5m-5 16h5m-5 14h5m-5 29h5m-5 11h5m-5 7h5m-5 19h5m-5 6h5m-5 2h5m-5 14h5m-5 34h5m-5 28h5m-5 6h5m-5 26h5m-5 4h5m-5 9h5m-4 -225h5m-5 14h5m-5 39h5m-5 28h5m-4 -182h5m-5 11h5m-5 5h5m-5 3h5m-5 149h5m-5 3h5m-5 8h5m-5 5h5m-5 15h5m-5 123h5m-5 5h5m-5 46h5m-4 -158h5m-4 -69h5m-5 20h5m-5 16h5m-5 1h5m-5 3h5m-5 21h5m-5 12h5m-5 3h5m-5 0h5m-5 13h5m-5 74h5m-5 154h5m-4 -387h5m-5 68h5m-5 5h5m-5 40h5m-5 5h5m-5 55h5m-1 -243h5m-5 13h5m-5 6h5m-5 11h5m-5 23h5m-5 4h5m-5 16h5m-5 27h5m-5 118h5m-4 -61h5m-5 0h5m-5 7h5m-5 26h5m-5 2h5m-5 23h5m-5 12h5m-5 8h5m-5 108h5m-4 -186h5m-4 -197h5m-5 72h5m-5 11h5m-5 101h5m-5 19h5m-5 31h5m-3 -137h5m-5 11h5m-5 1h5m-5 6h5m-5 30h5m-5 0h5m-5 37h5m-5 5h5m-5 21h5m-5 15h5m-5 8h5m-5 37h5m-5 7h5m-5 14h5m-4 -236h5m-5 43h5m-5 23h5m-5 18h5m-5 23h5m-5 64h5m-5 98h5m-4 -122h5m-5 5h5m-5 38h5m-5 12h5m-5 52h5m-5 34h5m-4 -328h5m-5 55h5m-5 35h5m-5 1h5m-5 12h5m-5 24h5m-5 26h5m-5 42h5m-5 17h5m-5 10h5m-5 103h5m-5 39h5m-5 21h5m-4 -371h5m-5 3h5m-5 35h5m-5 24h5m-5 20h5m-5 3h5m-5 31h5m-5 9h5m-5 7h5m-5 14h5m-5 7h5m-5 35h5m-5 24h5m-5 33h5m-5 13h5m-4 -112h5m-5 32h5m-5 20h5m-5 6h5m-5 22h5m-5 35h5m-5 13h5m-4 -34h5m-4 -72h5m-5 38h5m-5 6h5m-5 17h5m-5 7h5m-5 12h5m-5 23h5m-5 30h5m-5 2h5m-4 -329h5m-5 64h5m-5 30h5m-5 130h5m-5 77h5m-4 -483h5m-5 1h5m-5 32h5m-5 6h5m-5 14h5m-5 29h5m-5 8h5m-5 19h5m-5 5h5m-5 82h5m-5 39h5m-5 26h5m-5 28h5m-5 2h5m-5 1h5m-5 49h5m-5 30h5m-5 25h5m-5 0h5m-5 5h5m-5 0h5m-5 14h5m-5 2h5m-5 0h5m-5 2h5m-5 30h5m-5 35h5m-5 7h5m-5 8h5m-5 15h5m-4 -233h5m-5 15h5m-5 12h5m-5 45h5m-5 12h5m-5 17h5m-5 16h5m-5 4h5m-5 1h5m-5 39h5m-5 7h5m-5 29h5m-5 8h5m-5 36h5m-5 53h5m-5 13h5m-4 -260h5m-5 31h5m-5 22h5m-5 17h5m-5 1h5m-5 44h5m-5 2h5m-5 12h5m-5 25h5m-4 -251h5m-5 23h5m-5 12h5m-4 125h5m-4 -126h5m-5 32h5m-5 153h5m-4 -61h5m-4 -192h5m-5 19h5m-5 5h5m-5 4h5m-5 44h5m-5 40h5m-5 8h5m-5 4h5m-5 1h5m-5 0h5m-5 4h5m-5 9h5m-5 3h5m-5 7h5m-5 8h5m-5 10h5m-5 2h5m-5 5h5m-5 31h5m-5 16h5m-5 5h5m-5 34h5m-5 3h5m-5 5h5m-5 44h5m-5 16h5m-5 42h5m-5 32h5m-4 -256h5m-5 44h5m-5 17h5m-5 111h5m-5 50h5m-4 -304h5m-3 -137h5m-4 295h5m-3 -82h5m-5 22h5m-5 22h5m-5 31h5m-4 -111h5m-5 14h5m-5 5h5m-5 4h5m-5 3h5m-5 7h5m-5 8h5m-5 4h5m-5 3h5m-5 3h5m-5 3h5m-5 15h5m-5 11h5m-5 8h5m-5 22h5m-5 8h5m-5 4h5m-5 2h5m-5 1h5m-5 31h5m-5 7h5m-5 17h5m-4 -158h5m-5 11h5m-5 2h5m-5 0h5m-5 58h5m-5 72h5m-5 41h5m-4 -262h5m-5 11h5m-5 15h5m-5 1h5m-5 16h5m-5 1h5m-5 13h5m-5 12h5m-5 6h5m-5 8h5m-5 1h5m-5 3h5m-5 5h5m-5 6h5m-5 2h5m-5 2h5m-5 3h5m-5 4h5m-5 9h5m-5 4h5m-5 3h5m-5 9h5m-5 5h5m-5 18h5m-5 1h5m-5 16h5m-5 7h5m-5 4h5m-5 5h5m-5 10h5m-5 6h5m-5 38h5m-5 1h5m-5 13h5m-5 18h5m-5 11h5m1 -240h5m-5 13h5m-5 3h5m-5 16h5m-5 16h5m-5 1h5m-5 0h5m-5 157h5m-4 -231h5m-5 33h5m-5 6h5m-5 2h5m-5 43h5m-5 9h5m-5 10h5m-5 17h5m-4 -9h5m-5 30h5m-5 2h5m-1 -94h5m-5 3h5m-5 20h5m-5 41h5m-5 34h5m-5 66h5m-4 -314h5m-2 0h5m-5 17h5m-5 53h5m-5 123h5m-5 11h5m-5 9h5m-5 36h5m-5 22h5m-5 24h5m-5 61h5m-5 6h5m-2 -288h5m-5 46h5m-5 33h5m-4 -46h5m-5 60h5m-5 109h5m-5 172h5m-5 28h5m-3 -372h5m-5 89h5m-5 4h5m-5 5h5m-5 4h5m-5 2h5m-5 30h5m-5 4h5m-5 17h5m-5 20h5m-5 26h5m-5 0h5m-5 30h5m-5 7h5m-3 -197h5m-5 41h5m-5 61h5m-5 34h5m-5 23h5m-5 21h5m-4 -125h5m-5 52h5m-5 3h5m-5 8h5m-3 -162h5m-5 109h5m-4 -278h5m-5 16h5m-5 2h5m-5 34h5m-5 63h5m-5 61h5m-5 0h5m-5 239h5m-4 -285h5m-5 67h5m-5 16h5m-5 32h5m-5 7h5m-5 6h5m-5 1h5m-5 8h5m-5 4h5m-5 1h5m-5 5h5m-5 47h5m-5 2h5m-5 22h5m-5 65h5m-2 -272h5m-5 46h5m-5 54h5m-5 94h5m-5 44h5m-5 30h5m-4 -201h5m-2 -45h5m-5 2h5m-5 1h5m-5 12h5m-5 9h5m-5 5h5m-5 10h5m-5 7h5m-5 5h5m-5 4h5m-5 1h5m-5 0h5m-5 26h5m-5 11h5m-5 2h5m-5 10h5m-5 1h5m-5 2h5m-5 2h5m-5 9h5m-5 15h5m-5 8h5m-5 5h5m-5 11h5m-5 12h5m-5 26h5m-5 13h5m-5 3h5m-5 1h5m-5 7h5m-5 0h5m-5 9h5m-5 1h5m-5 2h5m-5 0h5m-5 11h5m-5 2h5m-4 -159h5m-3 -19h5m-5 137h5m-5 33h5m-3 -188h5m-5 7h5m-5 62h5m-5 1h5m-5 97h5m-5 4h5m-4 -142h5m-5 97h5m-5 11h5m-4 -116h5m-5 78h5m-5 62h5m-4 -237h5m-5 47h5m-5 17h5m-5 63h5m-5 3h5m-5 10h5m-5 27h5m-5 34h5m-5 42h5m-3 -188h5m-5 38h5m-5 19h5m-5 22h5m-4 -79h5m-5 0h5m-5 27h5m-5 8h5m-5 7h5m-5 3h5m-5 59h5m-5 35h5m-3 -170h5m-4 263h5m-4 -256h5m-5 21h5m-5 5h5m-5 20h5m-5 1h5m-5 5h5m-5 7h5m-5 16h5m-5 12h5m-5 14h5m-5 2h5m-5 11h5m-5 1h5m-5 7h5m-5 29h5m-5 7h5m-5 11h5m-5 13h5m-5 3h5m-5 18h5m-5 1h5m-5 4h5m-4 -186h5m-5 7h5m-5 13h5m-5 18h5m-5 7h5m-5 11h5m-5 6h5m-5 8h5m-5 5h5m-5 1h5m-5 16h5m-5 2h5m-5 17h5m-5 52h5m-5 18h5m-4 162h5m-3 -587h5m-5 210h5m-5 115h5m-5 31h5m-5 1h5m-3 -216h5m-5 25h5m-5 2h5m-5 7h5m-5 10h5m-5 6h5m-5 19h5m-5 8h5m-5 38h5m-5 10h5m-5 6h5m-5 42h5m-5 18h5m-5 15h5m-5 12h5m-5 10h5m-5 14h5m-5 12h5m-5 11h5m-4 -202h5m-5 2h5m-5 17h5m-5 13h5m-5 12h5m-5 7h5m-5 49h5m-5 40h5m-5 29h5m-5 2h5m-5 9h5m-4 -65h5m-5 66h5m-4 -146h5m-5 75h5m-3 -134h5m-5 79h5m-5 3h5m-5 156h5m-2 -271h5m-5 34h5m-5 3h5m-5 13h5m-5 7h5m-5 2h5m-5 20h5m-5 41h5m-5 3h5m-5 13h5m-5 69h5m-5 66h5m-4 -213h5m-5 1h5m-5 36h5m-5 16h5m-5 15h5m-5 2h5m-5 6h5m-5 10h5m-5 5h5m-5 8h5m-5 10h5m-5 5h5m-5 21h5m-3 -167h5m-5 8h5m-5 5h5m-5 11h5m-5 29h5m-5 18h5m-5 51h5m-5 0h5m-5 1h5m-5 3h5m-5 3h5m-5 0h5m-5 0h5m-5 4h5m-5 15h5m-5 5h5m-5 2h5m-5 119h5m-5 64h5m-4 -304h5m-5 44h5m-4 45h5m-5 9h5m-3 -101h5m-5 21h5m-5 7h5m-5 2h5m-5 41h5m-5 23h5m-5 48h5m-5 71h5m-5 3h5m-5 24h5m0 -276h5m-5 1h5m-5 12h5m-5 10h5m-5 4h5m-5 34h5m-5 20h5m-5 8h5m-5 10h5m-5 11h5m-5 4h5m-5 37h5m-5 43h5m-5 10h5m-5 49h5m-4 -229h5m-5 24h5m-5 48h5m-5 42h5m-5 7h5m-5 3h5m-5 39h5m-3 -200h5m-5 166h5m-4 -74h5m-5 16h5m-5 4h5m-5 57h5m-5 38h5m-5 3h5m-3 -214h5m-5 86h5m-5 5h5m-5 3h5m-5 4h5m-5 1h5m-5 9h5m-5 1h5m-5 0h5m-5 7h5m-5 0h5m-5 1h5m-5 5h5m-5 5h5m-5 7h5m-5 11h5m-5 0h5m-5 0h5m-4 -108h5m-5 15h5m-5 20h5m-5 24h5m-5 7h5m-5 17h5m-5 1h5m-5 3h5m-5 19h5m-5 10h5m-5 10h5m-5 16h5m-5 5h5m-5 48h5m-3 -239h5m-5 8h5m-5 12h5m-5 8h5m-5 3h5m-5 1h5m-5 11h5m-5 7h5m-5 2h5m-5 8h5m-5 0h5m-5 6h5m-5 4h5m-5 19h5m-5 41h5m-5 129h5m-5 8h5m-4 -246h5m-5 7h5m-5 36h5m-5 4h5m-5 25h5m-5 24h5m-5 3h5m-5 1h5m-5 16h5m-5 0h5m-5 107h5m-4 -131h5m-5 5h5m-5 21h5m-5 2h5m-5 6h5m-5 7h5m-5 10h5m-5 32h5m-5 2h5m-4 -132h5m-5 60h5m-5 43h5m-5 1h5m-5 9h5m-5 6h5m-5 10h5m-3 -163h5m-5 12h5m-5 26h5m-5 0h5m-5 30h5m-5 25h5m-5 19h5m-5 31h5m-5 27h5m-5 78h5m-4 -262h5m-5 28h5m-5 8h5m-5 34h5m-5 32h5m-5 20h5m-3 -131h5m-5 35h5m-5 41h5m-5 32h5m-5 136h5m-5 19h5m-5 39h5m-5 13h5m-3 -394h5m-5 213h5m-5 4h5m-5 9h5m-5 25h5m-5 14h5m-5 3h5m-5 66h5m-5 0h5m-4 -118h5m-5 6h5m-4 -112h5m-5 5h5m-5 19h5m-5 0h5m-5 39h5m-5 4h5m-5 2h5m-5 0h5m-5 6h5m-5 3h5m-5 3h5m-5 5h5m-5 9h5m-5 30h5m-5 34h5m-5 32h5m-4 -212h5m-5 8h5m-5 164h5m-4 -195h5m-5 32h5m-5 26h5m-5 9h5m-5 1h5m-5 53h5m-4 -14h5m-5 21h5m-5 56h5m-5 26h5m-5 12h5m-5 3h5m-5 13h5m-5 19h5m-4 -243h5m-5 59h5m-5 154h5m-4 -121h5m-5 78h5m-5 10h5m-4 -91h5m-2 -17h5m-5 83h5m-5 19h5m-4 -148h5m-5 192h5m0 -188h5m-5 30h5m-5 63h5m-5 37h5m-3 -140h5m-5 66h5m-5 23h5m-5 24h5m-5 19h5m-5 18h5m-5 10h5m-1 13h5m-3 -203h5m-5 16h5m-5 22h5m-5 2h5m-5 2h5m-5 4h5m-5 2h5m-5 5h5m-5 5h5m-5 20h5m-5 0h5m-5 41h5m-5 4h5m-5 4h5m-5 17h5m-5 21h5m-5 35h5m-5 34h5m-4 -199h5m-5 115h5m-5 33h5m-5 5h5m-5 32h5m-4 -186h5m-5 16h5m-5 50h5m-5 67h5m-5 12h5m-5 30h5m-4 -327h5m-5 91h5m-5 79h5m-5 16h5m-5 16h5m-5 17h5m-3 -63h5m-5 32h5m-5 29h5m-5 23h5m-5 9h5m-5 2h5m-5 8h5m-5 2h5m-5 21h5m-5 56h5m-3 -218h5m-5 21h5m-5 126h5m-5 13h5m-5 5h5m-5 1h5m-4 -104h5m-5 3h5m-5 2h5m-5 5h5m-5 2h5m-5 1h5m-5 30h5m-5 11h5m-5 3h5m-5 75h5m-5 18h5m-4 -162h5m-5 7h5m-5 49h5m-5 1h5m-5 3h5m-5 11h5m-5 25h5m-5 53h5m-5 48h5m-4 -202h5m-5 3h5m-5 28h5m-5 1h5m-4 -95h5m-5 43h5m-5 2h5m-5 1h5m-5 8h5m-5 5h5m-5 7h5m-5 11h5m-5 20h5m-5 4h5m-5 0h5m-5 14h5m-5 0h5m-5 4h5m-5 8h5m-5 3h5m-5 9h5m-5 61h5m-5 1h5m-5 14h5m-4 -161h5m-5 10h5m-5 25h5m-5 64h5m-5 83h5m-4 -238h5m-5 1h5m-5 1h5m-5 5h5m-5 2h5m-5 0h5m-5 8h5m-5 13h5m-5 5h5m-5 16h5m-5 49h5m-5 2h5m-5 0h5m-5 16h5m-5 8h5m-5 14h5m-5 43h5m-5 19h5m-5 5h5m-5 60h5m-5 101h5m-5 11h5m-3 -515h5m-4 121h5m-5 6h5m-5 8h5m-5 7h5m-5 2h5m-5 0h5m-5 4h5m-5 16h5m-5 2h5m-5 1h5m-5 8h5m-5 29h5m-5 5h5m-5 3h5m-5 16h5m-5 17h5m-5 15h5m-5 5h5m-5 7h5m-5 14h5m-5 30h5m-4 -149h5m-5 90h5m-3 -62h5m-5 9h5m-5 20h5m-5 12h5m-5 19h5m-5 2h5m-5 10h5m-5 1h5m-5 8h5m-5 16h5m-5 10h5m-5 1h5m-5 2h5m-5 3h5m-5 16h5m-5 2h5m-5 18h5m-5 2h5m-5 0h5m-5 4h5m-5 3h5m-5 48h5m-4 -260h5m-5 90h5m-5 4h5m-5 11h5m-5 5h5m-5 0h5m-5 1h5m-5 2h5m-5 1h5m-5 2h5m-5 12h5m-5 7h5m-5 14h5m-5 2h5m-5 3h5m-5 19h5m-5 0h5m-5 26h5m-5 8h5m-5 28h5m-5 12h5m-2 -165h5m-5 18h5m-5 1h5m-5 53h5m-5 91h5m-4 -259h5m-5 41h5m-5 10h5m-5 3h5m-5 6h5m-5 9h5m-5 37h5m-5 41h5m-5 10h5m-4 -150h5m-5 30h5m-5 33h5m-4 -16h5m-5 33h5m-5 19h5m-5 13h5m-4 -144h5m-5 65h5m-5 24h5m-5 13h5m-5 89h5m-5 3h5m-4 -152h5m-5 1h5m-5 26h5m-5 3h5m-5 12h5m-5 4h5m-5 7h5m-5 8h5m-5 25h5m-5 33h5m-5 1h5m-5 4h5m-5 2h5m-4 -53h5m-3 -13h5m-5 24h5m-2 -28h5m-5 31h5m-5 50h5m-5 10h5m-5 1h5m-5 20h5m-5 9h5m-5 34h5m-4 -261h5m-5 166h5m-4 24h5m-4 -213h5m-5 19h5m-5 10h5m-5 3h5m-5 19h5m-5 5h5m-5 10h5m-5 4h5m-5 4h5m-5 9h5m-5 34h5m-5 1h5m-5 16h5m-5 11h5m-5 4h5m-5 16h5m-5 0h5m-5 10h5m-5 8h5m-5 2h5m-5 7h5m-5 5h5m-5 3h5m-5 9h5m-5 53h5m-5 49h5m-4 -408h5m-5 12h5m-5 35h5m-5 22h5m-5 3h5m-5 11h5m-5 6h5m-5 39h5m-5 12h5m-5 21h5m-5 26h5m-5 13h5m-5 2h5m-5 1h5m-5 20h5m-5 12h5m-5 3h5m-5 7h5m-5 5h5m-5 3h5m-5 8h5m-5 45h5m-5 16h5m-5 6h5m-5 13h5m-5 29h5m-5 15h5m-5 24h5m-4 -259h5m-5 24h5m-5 25h5m-5 21h5m-5 11h5m-5 6h5m-5 4h5m-5 13h5m-5 12h5m-5 3h5m-2 -165h5m-5 47h5m-5 28h5m-5 25h5m-5 28h5m-5 37h5m-5 2h5m-5 27h5m-4 -71h5m-5 1h5m-5 6h5m-5 0h5m-5 6h5m-5 2h5m-5 2h5m-5 5h5m-5 12h5m-5 1h5m-5 1h5m-5 18h5m-5 41h5m-5 28h5m-5 11h5m-2 -260h5m-5 14h5m-5 20h5m-5 21h5m-5 2h5m-5 7h5m-5 23h5m-5 13h5m-5 10h5m-5 20h5m-5 6h5m-5 10h5m-5 2h5m-5 15h5m-5 28h5m-5 57h5m-2 -216h5m-5 37h5m-5 2h5m-5 55h5m-5 20h5m-5 29h5m-5 4h5m-5 56h5m-3 -151h5m-4 -5h5m-5 4h5m-5 26h5m-5 20h5m-4 -101h5m-5 31h5m-5 24h5m-5 57h5m-5 15h5m-5 8h5m-4 -75h5m-5 182h5m-3 -217h5m-5 14h5m-5 4h5m-5 33h5m-5 18h5m-5 59h5m-5 13h5m-4 -335h5m-5 2h5m-5 7h5m-5 15h5m-5 2h5m-5 1h5m-5 0h5m-5 39h5m-5 50h5m-5 6h5m-5 18h5m-5 2h5m-5 14h5m-5 1h5m-5 9h5m-5 1h5m-5 2h5m-5 10h5m-5 26h5m-5 17h5m-5 1h5m-5 3h5m-5 1h5m-5 30h5m-5 0h5m-5 10h5m-5 31h5m-5 38h5m-5 1h5m-5 11h5m-5 6h5m-5 0h5m-5 1h5m-5 21h5m-5 9h5m-5 6h5m-5 27h5m-4 -242h5m-5 0h5m-5 76h5m-5 55h5m-5 22h5m-5 27h5m-5 13h5m-5 17h5m-5 7h5m-4 -140h5m-5 0h5m-5 4h5m-4 -164h5m-5 27h5m-5 9h5m-5 92h5m-5 2h5m-5 56h5m-5 25h5m-5 15h5m-5 1h5m-5 29h5m-5 13h5m-4 -271h5m-5 3h5m-5 43h5m-5 9h5m-5 19h5m-5 1h5m-5 2h5m-5 1h5m-5 74h5m-5 55h5m-5 9h5m-5 30h5m-5 9h5m-5 25h5m-5 3h5m-5 9h5m-5 1h5m-5 4h5m-5 16h5m-5 16h5m-4 -263h5m-5 26h5m-5 33h5m-5 14h5m-5 13h5m-5 14h5m-5 3h5m-5 10h5m-5 3h5m-5 5h5m-5 0h5m-5 0h5m-5 7h5m-5 14h5m-5 0h5m-5 7h5m-5 4h5m-5 6h5m-5 4h5m-5 1h5m-5 5h5m-5 4h5m-5 15h5m-5 0h5m-5 24h5m-5 22h5m-5 0h5m-5 0h5m-5 1h5m-5 4h5m-5 3h5m-5 2h5m-5 6h5m-4 -201h5m-1 -5h5m-5 14h5m-5 4h5m-5 5h5m-5 13h5m-5 3h5m-5 12h5m-5 20h5m-5 12h5m-5 2h5m-5 5h5m-5 8h5m-5 6h5m-5 4h5m-5 0h5m-4 -107h5m-4 60h5m-5 0h5m-5 9h5m-5 25h5m-5 3h5m-5 10h5m-5 7h5m-5 18h5m-5 4h5m-5 2h5m-5 4h5m-4 -153h5m-5 100h5m-5 2h5m-5 6h5m-5 58h5m1 -194h5m-5 65h5m-5 8h5m-5 1h5m-5 21h5m-5 13h5m-5 0h5m-5 13h5m-5 1h5m-5 2h5m-5 4h5m-5 1h5m-5 6h5m-5 0h5m-5 8h5m-5 4h5m-5 5h5m-5 3h5m-5 1h5m-5 1h5m-5 9h5m-5 35h5m-5 47h5m-4 -203h5m-4 55h5m-5 64h5m-5 8h5m-4 -9h5m-3 -251h5m-5 9h5m-5 27h5m-5 208h5m-5 62h5m-4 -198h5m-5 29h5m-5 9h5m-5 4h5m-5 7h5m-5 12h5m-5 0h5m-5 14h5m-5 1h5m-5 5h5m-5 5h5m-5 11h5m-5 5h5m-4 -96h5m-5 6h5m-5 4h5m-5 14h5m-5 14h5m-5 12h5m-5 11h5m-5 5h5m-5 1h5m-5 14h5m-5 10h5m-5 5h5m-5 12h5m-4 -123h5m-5 20h5m-5 26h5m-5 6h5m-5 17h5m-3 8h5m-5 44h5m-5 6h5m-5 3h5m-5 16h5m-3 -100h5m-5 40h5m-4 -102h5m-5 47h5m-5 36h5m-5 4h5m-5 15h5m-4 -134h5m-5 10h5m-5 6h5m-5 68h5m-5 24h5m-5 32h5m-5 10h5m-5 2h5m-5 39h5m-5 3h5m-5 35h5m-5 37h5m-4 -222h5m-5 15h5m-5 59h5m-5 34h5m-5 28h5m-5 29h5m-5 0h5m-4 -198h5m-5 106h5m-5 8h5m-5 44h5m-4 -177h5m-5 67h5m-5 48h5m-4 -29h5m-5 8h5m-5 9h5m-5 17h5m-5 14h5m-5 22h5m-5 26h5m-5 0h5m-3 -138h5m-5 7h5m-5 32h5m-5 21h5m-5 39h5m-5 3h5m-5 19h5m-5 3h5m-5 14h5m-4 -70h5m-5 38h5m-3 -49h5m-5 31h5m-5 31h5m-2 -138h5m-5 70h5m-5 12h5m-5 20h5m-5 34h5m-5 6h5m-5 10h5m-5 19h5m-5 21h5m-5 40h5m-5 35h5m-3 -269h5m-5 10h5m-5 75h5m-4 -133h5m-5 14h5m-5 2h5m-5 2h5m-5 2h5m-5 8h5m-5 6h5m-5 27h5m-5 32h5m-5 5h5m-5 8h5m-5 3h5m-5 8h5m-5 2h5m-5 0h5m-5 0h5m-5 7h5m-5 4h5m-5 4h5m-5 6h5m-5 3h5m-5 12h5m-5 6h5m-5 5h5m-5 7h5m-5 10h5m-5 5h5m-5 1h5m-5 4h5m-5 7h5m-5 1h5m-5 5h5m-5 5h5m-5 1h5m-5 6h5m-5 5h5m-3 -335h5m-5 7h5m-5 21h5m-5 6h5m-5 17h5m-5 1h5m-5 21h5m-5 18h5m-5 1h5m-5 9h5m-5 11h5m-5 70h5m-5 6h5m-5 12h5m-5 32h5m-5 0h5m-5 6h5m-5 2h5m-5 74h5m-5 8h5m-5 8h5m-5 16h5m-5 13h5m-5 10h5m-5 18h5m-4 -173h5m-5 6h5m-5 9h5m-5 2h5m-5 2h5m-5 12h5m-5 17h5m-5 6h5m-5 52h5m-3 -286h5m-5 14h5m-5 201h5m-4 25h5m-5 1h5m-5 72h5m-3 -247h5m-5 96h5m-5 8h5m-5 17h5m-5 21h5m-5 5h5m-5 10h5m-5 0h5m-5 1h5m-5 0h5m-5 1h5m-5 5h5m-5 10h5m-5 1h5m-5 6h5m-5 5h5m-5 8h5m-5 2h5m-5 17h5m-5 20h5m-5 5h5m-5 0h5m-4 -187h5m-5 13h5m-5 6h5m-5 49h5m-5 15h5m-5 19h5m-5 1h5m-4 -150h5m-5 102h5m-5 7h5m-5 58h5m-5 8h5m-5 71h5m-5 23h5m-3 -70h5m-4 -47h5m-4 -26h5m-4 -27h5m-5 28h5m-3 -84h5m-5 4h5m-5 2h5m-5 1h5m-5 4h5m-5 5h5m-5 1h5m-5 6h5m-5 10h5m-5 4h5m-5 6h5m-5 6h5m-5 17h5m-5 3h5m-5 11h5m-5 1h5m-5 1h5m-5 4h5m-5 4h5m-5 2h5m-5 0h5m-5 1h5m-5 5h5m-5 0h5m-5 2h5m-5 1h5m-5 5h5m-5 11h5m-5 0h5m-5 19h5m-5 18h5m-4 -190h5m-5 18h5m-5 2h5m-5 21h5m-5 63h5m-5 111h5m-3 -265h5m-5 91h5m-5 35h5m-5 1h5m-5 22h5m-5 60h5m-5 10h5m-5 26h5m-5 29h5m-5 5h5m-5 54h5m-5 2h5m-5 2h5m-4 -201h5m-5 8h5m-5 4h5m-5 10h5m-5 2h5m-5 11h5m-5 8h5m-5 13h5m-5 1h5m-5 5h5m-5 8h5m-5 113h5m-4 -238h5m-5 31h5m-5 6h5m-5 23h5m-5 1h5m-5 4h5m-5 10h5m-5 1h5m-5 2h5m-5 3h5m-5 0h5m-5 7h5m-3 -95h5m-5 47h5m-5 38h5m-5 8h5m-5 27h5m-5 26h5m0 -168h5m-5 47h5m-5 7h5m-5 8h5m-5 2h5m-5 12h5m-5 20h5m-5 2h5m-5 5h5m-5 3h5m-5 23h5m-5 10h5m-5 7h5m-5 6h5m-5 15h5m-5 13h5m-5 77h5m-4 -282h5m-5 16h5m-5 10h5m-5 61h5m-5 7h5m-5 7h5m-5 2h5m-5 1h5m-5 3h5m-5 0h5m-5 5h5m-5 0h5m-5 1h5m-5 1h5m-5 0h5m-5 1h5m-5 2h5m-5 2h5m-5 2h5m-5 1h5m-5 4h5m-5 1h5m-5 2h5m-5 2h5m-5 0h5m-5 1h5m-5 3h5m-5 1h5m-5 1h5m-5 1h5m-5 0h5m-5 1h5m-5 2h5m-5 5h5m-5 2h5m-5 1h5m-5 1h5m-5 0h5m-5 5h5m-5 0h5m-5 1h5m-5 11h5m-5 63h5m-5 37h5m-3 -233h5m-5 157h5m-1 -175h5m-5 48h5m-5 10h5m-5 0h5m-5 3h5m-5 1h5m-5 1h5m-5 1h5m-5 8h5m-5 12h5m-5 23h5m-5 8h5m-5 9h5m-5 26h5m-1 -202h5m-5 91h5m-5 88h5m-4 -104h5m-5 54h5m-5 7h5m-5 3h5m-5 10h5m-5 33h5m-5 5h5m-5 30h5m-3 -60h5m-5 29h5m-5 2h5m-5 14h5m-5 20h5m-4 -238h5m-5 76h5m-5 42h5m-5 32h5m-5 14h5m-5 10h5m-5 75h5m-5 16h5m-4 -170h5m-5 34h5m-5 10h5m-5 2h5m-5 11h5m-5 1h5m-5 9h5m-5 9h5m-5 2h5m-5 11h5m-5 10h5m-5 4h5m-5 4h5m-5 9h5m-5 5h5m-5 3h5m-5 1h5m-5 1h5m-5 6h5m-5 2h5m-5 6h5m-5 2h5m-5 17h5m-4 -275h5m-5 18h5m-5 11h5m-5 104h5m-5 48h5m-5 70h5m-5 62h5m-5 0h5m-4 -214h5m-5 39h5m-5 1h5m-5 22h5m-5 28h5m-5 13h5m-5 5h5m-5 97h5m1 -194h5m-5 83h5m-4 -44h5m-5 21h5m-5 3h5m-5 21h5m-5 26h5m-5 4h5m-5 3h5m-3 -110h5m-5 68h5m-5 2h5m-5 64h5m-5 25h5m-4 -213h5m-5 16h5m-5 8h5m-5 3h5m-5 4h5m-5 27h5m-5 2h5m-5 21h5m-5 6h5m-5 8h5m-5 41h5m-5 4h5m-5 33h5m-5 4h5m-5 5h5m-5 23h5m-5 9h5m-5 24h5m-4 -213h5m-5 9h5m-5 4h5m-5 78h5m-2 -110h5m-1 177h5m-5 77h5m-5 23h5m-5 7h5m-3 -233h5m-5 5h5m-5 69h5m-5 66h5m-5 4h5m-5 21h5m-5 7h5m-4 -283h5m-5 3h5m-5 2h5m-5 2h5m-5 34h5m-5 20h5m-5 13h5m-5 12h5m-5 31h5m-5 28h5m-5 11h5m-5 5h5m-5 0h5m-5 28h5m-5 2h5m-5 3h5m-5 18h5m-5 2h5m-5 37h5m-5 1h5m-5 7h5m-5 13h5m-5 1h5m-5 7h5m-5 16h5m-5 24h5m-5 50h5m-5 8h5m-5 11h5m-4 -339h5m-5 50h5m-5 16h5m-5 8h5m-5 48h5m-5 6h5m-5 11h5m-5 16h5m-5 6h5m-5 14h5m-3 -51h5m-2 -116h5m-5 11h5m-5 17h5m-5 5h5m-5 1h5m-5 17h5m-5 1h5m-5 19h5m-5 14h5m-5 1h5m-5 38h5m-5 7h5m-5 17h5m-5 14h5m-5 44h5m-5 4h5m-5 5h5m-5 41h5m-5 5h5m-5 16h5m-5 1h5m-5 2h5m-5 20h5m-5 8h5m-5 0h5m-4 -380h5m-5 131h5m-5 11h5m-5 84h5m-4 -20h5m-4 -48h5m-5 1h5m-5 14h5m-5 9h5m-5 8h5m-5 2h5m-5 24h5m-5 2h5m-5 2h5m-5 81h5m-4 -199h5m-5 51h5m-5 46h5m-5 26h5m-3 -182h5m-5 6h5m-5 18h5m-5 6h5m-5 2h5m-5 6h5m-5 2h5m-5 39h5m-5 19h5m-5 73h5m-5 4h5m-5 61h5m-4 -130h5m-5 4h5m-5 3h5m-5 39h5m-5 90h5m-4 -134h5m-5 52h5m-3 -63h5m-5 30h5m-5 18h5m-5 19h5m-5 11h5m-3 -92h5m-5 75h5m-5 5h5m-4 -111h5m-5 46h5m-5 8h5m-5 10h5m-5 97h5m-5 49h5m-5 8h5m-5 7h5m-5 35h5m-5 33h5m-5 79h5m-4 -472h5m-5 90h5m-5 0h5m-5 11h5m-5 50h5m-5 42h5m-5 1h5m-5 3h5m-5 25h5m-5 50h5m-5 3h5m-5 14h5m-2 -355h5m-5 58h5m-5 22h5m-5 15h5m-5 21h5m-5 16h5m-5 45h5m-5 22h5m-5 5h5m-5 5h5m-5 9h5m-5 13h5m-5 8h5m-5 6h5m-5 8h5m-5 1h5m-5 2h5m-5 7h5m-5 9h5m-5 29h5m-5 6h5m-5 9h5m-5 8h5m-5 11h5m-5 7h5m-5 6h5m-5 3h5m-5 16h5m-5 1h5m-5 3h5m-5 14h5m-5 1h5m-5 0h5m-1 -193h5m-5 33h5m-5 1h5m-5 1h5m-5 3h5m-5 4h5m-5 13h5m-5 13h5m-5 1h5m-5 2h5m-5 23h5m-5 2h5m-4 -116h5m-5 58h5m-5 1h5m-5 31h5m-5 3h5m-5 36h5m-4 -189h5m-5 327h5m-4 -284h5m-5 8h5m-5 19h5m-5 4h5m-5 16h5m-5 1h5m-5 56h5m-5 36h5m-5 37h5m-3 -262h5m-5 11h5m-5 65h5m-5 8h5m-5 13h5m-5 60h5m-5 3h5m-5 21h5m-5 23h5m-5 97h5m-4 -78h5m-5 2h5m-4 -272h5m-5 9h5m-5 92h5m-5 58h5m-5 92h5m0 -90h5m-5 120h5m-4 -126h5m-5 82h5m-5 25h5m-5 23h5m-5 8h5m-5 2h5m-5 3h5m-5 28h5m-4 -23h5m-4 -103h5m-1 51h5m-4 -96h5m-5 46h5m-5 12h5m-4 -293h5m-5 19h5m-5 75h5m-5 42h5m-5 324h5m-4 -230h5m-5 33h5m-5 19h5m-5 3h5m-5 12h5m-5 77h5m-2 -123h5m-5 43h5m-5 11h5m-5 20h5m-5 4h5m-5 39h5m-4 -136h5m-5 21h5m-5 8h5m-5 50h5m-2 -49h5m-5 6h5m-5 11h5m-5 8h5m-5 33h5m-5 12h5m-5 50h5m-5 12h5m-5 38h5m-2 -182h5m-5 18h5m-4 23h5m-4 -221h5m-5 3h5m-5 11h5m-5 55h5m-5 11h5m-5 25h5m-5 11h5m-5 60h5m-5 7h5m-5 91h5m-5 4h5m-5 102h5m-4 -281h5m-5 6h5m-5 23h5m-5 31h5m-5 12h5m-5 84h5m-5 47h5m-5 6h5m-3 -213h5m-5 1h5m-5 3h5m-5 10h5m-5 4h5m-5 3h5m-5 3h5m-5 11h5m-5 7h5m-5 10h5m-5 21h5m-5 18h5m-5 0h5m-5 0h5m-5 2h5m-5 0h5m-5 8h5m-5 4h5m-5 3h5m-5 19h5m-5 0h5m-5 10h5m-5 11h5m-5 2h5m-5 5h5m-5 1h5m-5 4h5m-5 2h5m-5 41h5m-5 2h5m-5 12h5m-1 -118h5m-5 73h5m-4 -208h5m-5 57h5m-5 17h5m-5 43h5m-5 8h5m-5 26h5m-4 -139h5m-5 19h5m-5 17h5m-5 45h5m-5 5h5m-5 0h5m-5 42h5m-5 1h5m-5 0h5m-5 61h5m-5 36h5m-5 5h5m-5 9h5m-5 7h5m-4 -186h5m-5 3h5m-5 21h5m-5 12h5m-5 12h5m-5 23h5m-3 -36h5m-5 4h5m-5 11h5m-5 12h5m-5 11h5m-5 6h5m-5 13h5m-5 25h5m-5 4h5m-4 144h5m-3 -308h5m-5 79h5m-5 8h5m-2 -90h5m-5 5h5m-5 34h5m-5 31h5m-5 22h5m-5 1h5m-5 39h5m-5 1h5m-5 5h5m-5 22h5m-5 17h5m-5 26h5m-5 9h5m-2 -178h5m-5 8h5m-5 19h5m-5 25h5m-5 3h5m-5 7h5m-5 2h5m-5 20h5m-5 26h5m-5 62h5m-4 -195h5m-3 35h5m-5 18h5m-5 78h5m-4 -172h5m-5 189h5m-5 9h5m-4 -20h5m-5 26h5m-3 -226h5m-5 48h5m-5 55h5m-5 3h5m-5 7h5m-5 14h5m-5 16h5m-5 7h5m-5 15h5m-5 15h5m-5 29h5m-5 46h5m-4 -22h5m-5 11h5m-5 19h5m-3 -230h5m-5 25h5m-5 1h5m-5 0h5m-5 4h5m-5 66h5m-5 23h5m-5 5h5m-5 76h5m-5 9h5m-5 10h5m-5 7h5m-5 24h5m-5 11h5m-5 59h5m-4 -245h5m-5 13h5m-5 10h5m-5 18h5m-5 6h5m-5 44h5m1 -103h5m-5 68h5m-5 19h5m-5 4h5m-4 -161h5m-5 10h5m-5 53h5m-5 19h5m-5 15h5m-4 -35h5m-5 43h5m-5 8h5m-5 5h5m-5 22h5m-5 4h5m-5 0h5m-5 3h5m-5 14h5m-5 15h5m-5 3h5m-5 1h5m-4 -155h5m-5 120h5m-5 11h5m-5 3h5m-5 7h5m-5 22h5m-5 4h5m-5 17h5m-5 4h5m-5 28h5m-5 5h5m-3 -164h5m-5 4h5m-5 17h5m-5 1h5m-5 0h5m-5 1h5m-5 4h5m-5 11h5m-5 10h5m-5 7h5m-5 13h5m-5 18h5m-5 5h5m-5 11h5m-5 1h5m-5 8h5m-5 1h5m-4 -123h5m-5 26h5m-5 2h5m-5 81h5m-5 15h5m-5 15h5m-5 3h5m-5 14h5m-5 14h5m-4 -50h5m-5 7h5m-5 22h5m0 -303h5m-5 19h5m-5 174h5m-5 132h5m-4 -167h5m-4 98h5m-5 14h5m-3 -224h5m-5 120h5m-5 34h5m-5 38h5m-5 44h5m-5 30h5m-5 33h5m-3 -277h5m-5 27h5m-5 26h5m-5 5h5m-5 40h5m-5 62h5m-5 8h5m-5 50h5m-5 2h5m-4 -212h5m-5 26h5m-5 12h5m-5 10h5m-5 53h5m-5 3h5m-4 57h5m-5 53h5m-5 27h5m-3 -219h5m-2 -69h5m-5 19h5m-5 214h5m-5 12h5m-5 25h5m-5 34h5m-5 129h5m-4 -366h5m-5 47h5m-5 61h5m-5 53h5m-2 -84h5m-3 -102h5m-5 31h5m-5 123h5m-5 6h5m-5 60h5m0 -261h5m-5 232h5m-4 -117h5m-5 16h5m-3 48h5m-5 4h5m-5 15h5m-5 10h5m-3 -208h5m-5 45h5m-5 10h5m-5 47h5m-5 25h5m-5 3h5m-5 12h5m-5 2h5m-5 6h5m-5 28h5m-5 2h5m-5 17h5m-5 28h5m-5 4h5m-5 4h5m-5 1h5m-5 2h5m-5 2h5m-5 4h5m-5 15h5m-5 6h5m-5 2h5m-5 0h5m-5 15h5m-3 -169h5m-5 32h5m-5 47h5m-5 24h5m-5 44h5m-5 11h5m-3 -259h5m-5 141h5m-5 49h5m1 -196h5m-5 21h5m-5 2h5m-5 9h5m-5 22h5m-5 7h5m-5 2h5m-5 4h5m-5 15h5m-5 5h5m-5 7h5m-5 4h5m-3 122h5m-5 10h5m-5 56h5m-4 -81h5m-2 -224h5m-5 149h5m-5 44h5m-4 -130h5m-5 18h5m-5 16h5m-5 23h5m-5 35h5m-5 28h5m-5 2h5m-4 -222h5m-5 196h5m-4 -125h5m-5 200h5m-4 -36h5m-4 -67h5m-5 107h5m0 -117h5m-5 13h5m-5 2h5m-5 8h5m-5 33h5m-5 2h5m-5 2h5m-5 8h5m-5 15h5m-5 10h5m-5 15h5m-5 15h5m-3 -89h5m-5 48h5m-2 -145h5m-5 3h5m-5 17h5m-5 13h5m-5 33h5m-5 48h5m-5 1h5m-5 6h5m-5 5h5m-5 3h5m-5 10h5m-5 4h5m-5 19h5m-5 13h5m-5 14h5m-5 3h5m-4 -121h5m-5 150h5m0 -282h5m-5 21h5m-5 9h5m-5 32h5m-5 11h5m-5 2h5m-5 6h5m-4 0h5m-5 71h5m-4 -184h5m-5 6h5m-5 5h5m-5 89h5m-5 17h5m-5 29h5m-5 44h5m-5 18h5m-5 1h5m-5 11h5m-5 10h5m-5 9h5m-5 25h5m-5 9h5m-5 45h5m-2 -231h5m-5 12h5m-5 119h5m-1 -89h5m-5 19h5m-5 24h5m-4 -170h5m-3 105h5m-4 -116h5m-5 80h5m-5 4h5m-5 8h5m-5 9h5m-5 16h5m-5 3h5m-5 3h5m-5 5h5m-5 10h5m-5 0h5m-5 1h5m-5 1h5m-5 7h5m-5 3h5m-5 12h5m-5 3h5m-5 8h5m-5 6h5m-5 13h5m-5 16h5m-5 14h5m-5 29h5m-5 14h5m-4 -165h5m-5 106h5m-5 68h5m-5 20h5m-5 1h5m-1 -234h5m-5 8h5m-5 26h5m-3 19h5m-5 32h5m-5 43h5m0 -29h5m-5 51h5m-5 38h5m-2 -143h5m-4 23h5m-5 35h5m-1 -93h5m-5 149h5m-5 6h5m-4 -144h5m-5 89h5m0 0h5m-2 -138h5m-5 20h5m-5 97h5m-5 43h5m-5 5h5m1 -145h5m-5 114h5m-1 -119h5m-5 6h5m-5 5h5m-5 4h5m-5 1h5m-5 2h5m-5 1h5m-5 4h5m-5 17h5m-5 7h5m-5 3h5m-5 7h5m-5 3h5m-5 7h5m-5 2h5m3 -57h5m-5 6h5m-5 0h5m-5 8h5m-5 9h5m-5 4h5m-5 1h5m-5 30h5m6 -83h5m-5 31h5m-5 36h5m-5 5h5m-5 24h5m-5 34h5m-3 -150h5m-5 35h5m-5 7h5m-4 -14h5m-5 10h5m-5 25h5m-5 1h5m-5 6h5m-5 77h5m-4 -204h5m-5 56h5m-5 13h5m-5 7h5m-5 8h5m-5 13h5m-5 3h5m-5 2h5m-5 45h5m-5 11h5m-5 41h5m-4 -187h5m-5 18h5m-5 29h5m-5 15h5m-5 38h5m-5 25h5m-5 5h5m-5 2h5m-5 1h5m-5 5h5m-5 7h5m-5 15h5m-5 20h5m-5 2h5m-5 25h5m-5 60h5m0 -170h5m-5 2h5m-5 27h5m-5 20h5m-5 4h5m-5 1h5m-5 7h5m-4 -187h5m-5 90h5m-5 8h5m-5 9h5m-5 7h5m-1 24h5m-5 10h5m-4 -45h5m-5 27h5m-5 14h5m-5 1h5m-5 13h5m-5 6h5m-5 4h5m-5 2h5m-5 2h5m-5 5h5m-5 4h5m-5 2h5m-5 6h5m-5 12h5m-4 -52h5m-3 -29h5m-5 11h5m-5 1h5m-5 2h5m-5 20h5m-5 9h5m-5 2h5m-5 11h5m-5 23h5m-5 1h5m-5 3h5m-5 16h5m-3 -76h5m-5 29h5m-1 85h5m-1 -2h5m-3 -204h5m-5 67h5m-5 19h5m-5 1h5m-5 61h5m-5 6h5m-5 14h5m-5 14h5m-5 2h5m0 -151h5m-5 4h5m-5 10h5m-5 10h5m-5 8h5m-5 1h5m-5 8h5m-5 2h5m-5 3h5m-5 1h5m-5 11h5m-5 0h5m-5 3h5m-5 9h5m-4 -123h5m-5 8h5m-5 1h5m-5 41h5m-5 13h5m-4 -71h5m-5 77h5m-5 8h5m-5 36h5m-3 -16h5m-5 55h5m-5 9h5m-4 -136h5m-5 55h5m-5 31h5m-4 -153h5m-5 32h5m-5 49h5m-5 14h5m1 -75h5m-5 22h5m-5 28h5m-5 30h5m-5 23h5m-5 20h5m-2 -81h5m-5 4h5m-5 19h5m-5 5h5m-5 8h5m-4 30h5m-4 -112h5m-5 3h5m-5 13h5m-5 4h5m-5 9h5m-5 9h5m-5 4h5m-5 16h5m-5 17h5m-3 -93h5m-5 99h5m-5 2h5m-5 0h5m-5 1h5m-5 1h5m-5 0h5m-5 1h5m-5 7h5m-5 1h5m-5 1h5m-5 0h5m-5 2h5m-5 7h5m-5 6h5m-5 4h5m-5 1h5m-5 13h5m-5 3h5m-5 25h5m-3 -212h5m-5 12h5m-5 19h5m-5 33h5m-5 8h5m-5 33h5m-5 18h5m-5 1h5m-5 6h5m-5 20h5m-5 5h5m-5 23h5m-5 1h5m-5 11h5m-5 19h5m-1 -144h5m-5 37h5m-2 -14h5m-5 7h5m-5 17h5m-5 4h5m-5 12h5m-5 5h5m-5 12h5m-5 6h5m-5 2h5m-2 -159h5m-5 2h5m-5 2h5m-5 1h5m-5 38h5m-5 17h5m-5 17h5m-5 2h5m-5 25h5m-5 1h5m-5 5h5m-5 78h5m-3 -69h5m-5 21h5m-4 -47h5m-5 11h5m-2 176h5m-3 -274h5m-5 14h5m-5 3h5m-5 6h5m-5 1h5m-5 6h5m-5 11h5m-5 4h5m-5 13h5m-5 1h5m-1 -2h5m-5 6h5m-5 45h5m-5 50h5m2 -67h5m-5 3h5m-4 -98h5m-5 16h5m-5 3h5m-5 8h5m-5 38h5m-5 2h5m-5 15h5m-5 53h5m-5 98h5m-2 -290h5m-5 34h5m-5 41h5m-5 64h5m3 -36h5m-5 9h5m-5 2h5m-5 20h5m-5 9h5m-5 2h5m-5 2h5m-5 2h5m-3 -104h5m-5 9h5m-5 0h5m-5 4h5m-5 11h5m-5 8h5m-5 8h5m-5 4h5m-5 84h5m11 -238h5m-5 172h5m1 -98h5m-5 38h5m-5 23h5m-5 0h5m-5 13h5m-5 3h5m7 -146h5m-5 50h5m-5 1h5m-5 84h5m-5 27h5m-5 3h5m-5 16h5m-5 9h5m-5 17h5m-5 12h5m-5 28h5m-3 -126h5m-5 88h5m-5 12h5m0 -38h5m5 -31h5m-5 17h5m-5 2h5m4 -96h5m-5 19h5m-5 9h5m5 -68h5m-5 3h5m-5 63h5m-5 41h5m-4 -68h5m-5 1h5m-5 7h5m-5 6h5m-5 7h5m-5 2h5m-5 1h5m-5 17h5m-5 4h5m-5 1h5m-5 5h5m-5 60h5m7 -155h5m-1 -81h5m-5 8h5m-5 45h5m-5 32h5m-5 8h5m-5 9h5m-5 7h5m-5 43h5m-5 28h5m-5 38h5m-5 13h5m-5 48h5m-5 0h5m1 -204h5m-5 11h5m-5 27h5m-5 4h5m-5 9h5m-5 1h5m1 22h5m-5 14h5m-4 -151h5m-5 139h5m-5 68h5m-5 114h5m-5 22h5m-3 -292h5m-5 56h5m-5 29h5m-5 4h5m-5 74h5m0 -94h5m-5 142h5m1 -189h5m0 72h5m-3 -64h5m-5 10h5m-5 40h5m-5 5h5m10 -121h5m-5 25h5m-5 26h5m-5 1h5m-5 30h5m-5 7h5m-5 1h5m-5 7h5m-5 93h5m5 -124h5m-5 26h5m-5 10h5m-5 8h5m-5 15h5m-5 7h5m-5 8h5m-5 2h5m-5 19h5m-5 3h5m-5 0h5m0 -115h5m-5 56h5m-5 27h5m0 -143h5m-5 119h5m-5 7h5m-5 8h5m-5 7h5m-5 17h5m-5 31h5m2 -318h5m-5 8h5m-5 126h5m-5 15h5m-5 1h5m-5 33h5m-5 0h5m-5 19h5m-5 7h5m-5 7h5m-5 34h5m-5 4h5m-5 11h5m-5 40h5m-5 14h5m-5 11h5m-5 30h5m-5 26h5m-5 22h5m-5 7h5m-5 7h5m-2 -100h5m6 -40h5m-5 46h5m7 -32h5m-5 34h5m13 -243h5m-5 94h5m-5 176h5m-1 -300h5m-5 18h5m-5 20h5m-5 37h5m-5 189h5m16 -246h5m-5 136h5m-4 -115h5m-5 4h5m-5 16h5m17 -30h5m39 1h5m7 -60h5m-5 60h5m-3 -52h5m-5 56h5m1 -188h5m25 6h5m-5 81h5m-5 132h5m-5 15h5m5 -121h5m9 93h5m-5 9h5m15 -33h5m-5 11h5m-5 17h5m17 -10h5"/><path d="M239 1443h5m-5 41h5m13 -80h5m13 -18h5m-2 45h5m-1 -42h5m-3 -6h5m-1 18h5m-5 5h5m-5 6h5m-5 3h5m-5 0h5m-5 1h5m-5 3h5m-5 1h5m-5 6h5m-5 7h5m-5 2h5m-5 5h5m-4 -88h5m-5 5h5m-5 4h5m-5 7h5m-5 3h5m-5 16h5m-5 9h5m-5 1h5m-5 19h5m-4 -34h5m-5 47h5m-5 4h5m-5 5h5m-3 -58h5m-5 3h5m-5 2h5m-5 1h5m-5 3h5m-5 10h5m-5 3h5m-5 1h5m-5 3h5m-5 1h5m-5 4h5m-3 -81h5m-5 8h5m-5 15h5m-5 8h5m-5 48h5m-5 0h5m-5 68h5m-4 -268h5m-5 175h5m-5 15h5m-5 9h5m-4 30h5m-2 -218h5m-2 125h5m-5 9h5m-5 5h5m-4 50h5m-5 6h5m-5 4h5m-5 20h5m-5 0h5m-5 0h5m-5 1h5m-3 -149h5m-5 70h5m-5 21h5m-5 14h5m-4 8h5m-3 -84h5m-5 30h5m-5 10h5m-5 9h5m-5 12h5m-4 35h5m-5 8h5m-5 5h5m-5 20h5m-4 -67h5m-5 31h5m-5 6h5m-5 8h5m-4 -94h5m-5 81h5m-4 -56h5m-5 2h5m-5 0h5m-5 1h5m-5 4h5m-5 7h5m-5 12h5m-5 8h5m-1 -2h5m-5 36h5m-4 -106h5m-5 10h5m-5 3h5m-5 9h5m-5 1h5m-5 1h5m-5 1h5m-5 0h5m-5 1h5m-5 2h5m-5 2h5m-5 1h5m-5 7h5m-5 2h5m-5 0h5m-5 5h5m-5 3h5m-5 4h5m-5 2h5m-5 0h5m-5 2h5m-5 2h5m-5 16h5m-5 1h5m-5 1h5m-5 2h5m-5 2h5m-5 0h5m-5 7h5m-5 1h5m-5 3h5m-5 12h5m-4 39h5m-4 -112h5m-5 13h5m-5 31h5m-5 96h5m-5 10h5m-5 3h5m-2 -228h5m-5 79h5m-5 1h5m-5 10h5m-5 2h5m-5 26h5m-5 9h5m-5 7h5m-5 5h5m-5 15h5m-5 1h5m-4 -147h5m-5 76h5m-5 20h5m-5 12h5m-5 2h5m-5 25h5m-5 1h5m-5 43h5m-5 18h5m-3 -162h5m-5 11h5m-5 23h5m-5 17h5m-5 30h5m-5 23h5m-5 2h5m-5 16h5m-5 4h5m-5 28h5m-4 -163h5m-4 81h5m-5 17h5m-4 -112h5m-5 54h5m-5 9h5m-5 13h5m-5 14h5m-4 -36h5m-5 26h5m-4 -39h5m-5 78h5m-5 8h5m-5 83h5m-4 -218h5m-5 25h5m-5 4h5m-5 5h5m-5 3h5m-5 11h5m-5 11h5m-5 36h5m-5 2h5m-5 13h5m-5 6h5m-5 4h5m-5 16h5m-5 39h5m-3 -33h5m-5 14h5m-5 6h5m-5 3h5m-5 3h5m-4 -193h5m-5 60h5m-5 122h5m-5 21h5m-5 19h5m-5 44h5m-4 -177h5m-5 18h5m-5 21h5m-4 -100h5m-5 12h5m-5 31h5m-5 19h5m-5 59h5m-5 20h5m-5 13h5m-5 4h5m-5 23h5m-5 8h5m-5 24h5m-1 -164h5m-5 56h5m-5 48h5m-5 67h5m-4 -199h5m-5 3h5m-5 7h5m-5 1h5m-5 4h5m-5 4h5m-5 2h5m-5 3h5m-5 1h5m-5 4h5m-5 6h5m-5 0h5m-5 3h5m-5 0h5m-5 4h5m-5 3h5m-5 1h5m-5 2h5m-5 1h5m-5 4h5m-5 0h5m-5 2h5m-5 4h5m-5 1h5m-5 4h5m-5 3h5m-5 10h5m-5 2h5m-5 7h5m-5 1h5m-5 5h5m-5 6h5m-5 2h5m-5 7h5m-5 2h5m-5 1h5m-5 16h5m-5 2h5m-5 1h5m-5 1h5m-5 2h5m-5 9h5m-5 2h5m-5 7h5m-5 0h5m-5 9h5m-5 11h5m-4 -128h5m-4 -1h5m-3 -73h5m-5 59h5m-5 50h5m-3 -16h5m-5 30h5m-5 18h5m-5 9h5m-5 1h5m-4 -144h5m-5 5h5m-5 40h5m-5 1h5m-5 23h5m-4 -3h5m-3 17h5m-5 56h5m-4 -108h5m-5 21h5m-3 75h5m-5 44h5m2 -207h5m-5 54h5m-5 104h5m-5 44h5m-3 -185h5m-5 9h5m-5 7h5m-5 30h5m-5 6h5m-5 8h5m-5 0h5m-5 1h5m-5 0h5m-5 1h5m-5 8h5m-5 7h5m-5 1h5m-5 4h5m-5 7h5m-5 6h5m-5 5h5m-5 11h5m-5 1h5m-5 5h5m-5 4h5m-5 6h5m-5 15h5m-5 1h5m-5 9h5m-5 52h5m-2 -211h5m-5 6h5m-5 57h5m-5 35h5m-5 5h5m-5 24h5m-5 4h5m-5 7h5m-5 5h5m-5 3h5m-5 26h5m-5 12h5m-5 21h5m-4 -34h5m-5 8h5m-5 4h5m-5 7h5m-5 27h5m-5 6h5m-5 1h5m-3 -90h5m-4 -128h5m-5 15h5m-5 27h5m-5 7h5m-5 37h5m-5 122h5m-5 18h5m-4 -134h5m-5 56h5m-5 9h5m-5 6h5m-5 26h5m-5 17h5m-4 -219h5m-5 8h5m-5 19h5m-5 62h5m-4 -104h5m-5 22h5m-5 103h5m-5 18h5m-5 9h5m-5 1h5m-5 20h5m-5 9h5m-5 4h5m-5 8h5m-5 1h5m-5 30h5m-3 -125h5m-5 42h5m-5 27h5m-5 4h5m-5 12h5m-5 2h5m-4 -80h5m-5 74h5m-5 39h5m-5 66h5m-4 -237h5m-5 9h5m-5 9h5m-5 3h5m-5 7h5m-5 1h5m-5 8h5m-5 2h5m-5 49h5m-5 13h5m-5 13h5m-5 14h5m-5 38h5m-1 -230h5m-5 8h5m-5 10h5m-5 69h5m-5 2h5m-5 19h5m-5 0h5m-5 1h5m-5 15h5m-5 25h5m-5 28h5m-5 5h5m-1 -246h5m-5 8h5m-5 29h5m-5 3h5m-5 2h5m-5 4h5m-5 15h5m-5 15h5m-5 9h5m-5 1h5m-5 1h5m-5 44h5m-5 17h5m-5 0h5m-5 11h5m-5 2h5m-5 7h5m-5 5h5m-5 8h5m-5 23h5m-5 7h5m-5 10h5m-5 3h5m-5 10h5m-5 10h5m-5 7h5m-5 14h5m-5 0h5m-5 25h5m-5 13h5m-5 9h5m-5 7h5m-5 9h5m-5 60h5m-4 -309h5m-5 72h5m-5 8h5m-5 27h5m-5 7h5m-5 18h5m-5 25h5m-5 21h5m-4 -96h5m-5 3h5m-5 70h5m-5 8h5m-5 2h5m-5 7h5m-5 46h5m-5 7h5m-4 -102h5m-5 11h5m-5 30h5m-4 -188h5m-5 17h5m-5 94h5m-5 52h5m-5 38h5m-5 25h5m-5 2h5m-5 30h5m-3 -232h5m-5 10h5m-5 50h5m-5 23h5m-5 2h5m-5 37h5m-5 13h5m-4 -84h5m-5 10h5m-5 12h5m-5 5h5m-5 9h5m-5 11h5m-5 13h5m-5 16h5m-5 0h5m-5 18h5m-5 2h5m-5 0h5m-5 10h5m-5 10h5m-4 -67h5m-5 39h5m-5 131h5m-4 -308h5m-5 212h5m-5 17h5m-5 33h5m-3 -192h5m-5 9h5m-5 38h5m-5 10h5m-5 38h5m-5 1h5m-5 2h5m-5 6h5m-5 8h5m-5 2h5m-5 25h5m-5 4h5m-2 -98h5m-5 6h5m-5 109h5m-5 17h5m-3 -139h5m-5 2h5m-5 33h5m-5 32h5m-5 68h5m-5 7h5m-5 9h5m-3 -42h5m-3 -79h5m-5 4h5m-5 3h5m-5 8h5m-5 11h5m-5 4h5m-4 -237h5m-5 16h5m-5 95h5m-5 62h5m-5 116h5m-5 32h5m-4 -238h5m-5 14h5m-5 7h5m-5 15h5m-5 17h5m-5 21h5m-5 37h5m-5 0h5m-5 9h5m-5 5h5m-5 5h5m-5 14h5m-5 0h5m-5 17h5m-5 7h5m-5 15h5m-5 12h5m-5 18h5m-5 23h5m-2 -318h5m-5 9h5m-5 34h5m-5 3h5m-5 9h5m-5 12h5m-5 24h5m-5 23h5m-5 7h5m-5 17h5m-5 8h5m-5 4h5m-5 15h5m-5 34h5m-5 16h5m-5 8h5m-5 7h5m-5 11h5m-5 1h5m-5 25h5m-5 8h5m-5 5h5m-5 3h5m-5 11h5m-5 21h5m-5 5h5m-5 36h5m-4 -246h5m-5 30h5m-5 14h5m-5 19h5m-5 29h5m-5 5h5m-5 7h5m-5 18h5m-5 1h5m-5 9h5m-3 -167h5m-5 13h5m-5 35h5m-5 143h5m-4 -144h5m-5 3h5m-5 83h5m-5 4h5m-5 4h5m-5 5h5m-5 23h5m-5 13h5m-5 9h5m-5 6h5m-5 3h5m-5 4h5m-4 -222h5m-5 26h5m-5 14h5m-5 12h5m-5 6h5m-5 1h5m-5 1h5m-5 0h5m-5 10h5m-5 2h5m-5 6h5m-5 16h5m-5 2h5m-5 2h5m-5 19h5m-5 1h5m-5 5h5m-5 6h5m-5 2h5m-5 8h5m-5 0h5m-5 6h5m-5 1h5m-5 4h5m-5 5h5m-5 18h5m-5 3h5m-5 7h5m-5 0h5m-5 9h5m-5 9h5m-5 4h5m-5 2h5m-3 -113h5m-5 36h5m-4 -106h5m-5 10h5m-5 36h5m-5 4h5m-5 40h5m-5 137h5m-4 -107h5m-2 -119h5m-5 87h5m-5 107h5m-4 -257h5m-5 15h5m-5 8h5m-5 2h5m-5 2h5m-5 11h5m-5 2h5m-5 1h5m-5 15h5m-5 1h5m-5 42h5m-5 12h5m-5 14h5m-5 13h5m-5 1h5m-5 6h5m-5 5h5m-5 18h5m-5 100h5m-5 25h5m-5 3h5m-5 0h5m-2 -281h5m-5 20h5m-5 17h5m-5 15h5m-5 11h5m-5 1h5m-5 4h5m-5 12h5m-5 4h5m-5 1h5m-5 0h5m-5 2h5m-5 7h5m-5 0h5m-5 12h5m-5 5h5m-5 3h5m-5 5h5m-5 14h5m-5 11h5m-5 2h5m-5 0h5m-4 -140h5m-5 17h5m-5 6h5m-5 13h5m-5 9h5m-5 0h5m-5 28h5m-5 30h5m-5 10h5m-5 32h5m-5 22h5m-5 24h5m-5 69h5m-3 -197h5m-5 27h5m-5 0h5m-5 28h5m-5 50h5m-5 75h5m-5 7h5m-2 -232h5m-5 6h5m-5 51h5m-3 -87h5m-5 23h5m-5 11h5m-5 11h5m-5 4h5m-5 32h5m-5 7h5m-5 24h5m-5 10h5m-5 22h5m-5 41h5m-5 47h5m-4 -208h5m-5 5h5m-5 32h5m-5 50h5m-5 4h5m-5 13h5m-5 1h5m-5 10h5m-5 6h5m-5 5h5m-5 29h5m-5 18h5m-5 29h5m-5 6h5m-5 10h5m-5 8h5m-5 10h5m-5 0h5m-5 9h5m-5 35h5m-3 -310h5m-5 53h5m-5 26h5m-5 144h5m-5 106h5m-3 -208h5m-5 38h5m-5 9h5m-5 11h5m-5 1h5m-5 28h5m-5 4h5m-5 36h5m-4 -325h5m-5 17h5m-5 12h5m-5 0h5m-5 16h5m-5 56h5m-5 16h5m-5 20h5m-5 47h5m-5 9h5m-5 0h5m-5 2h5m-5 35h5m-5 41h5m-5 125h5m-5 5h5m-4 -282h5m-5 22h5m-5 13h5m-5 6h5m-5 5h5m-5 12h5m-5 47h5m-5 18h5m-5 27h5m-4 -207h5m-5 100h5m-5 10h5m-5 3h5m-5 9h5m-5 4h5m-5 1h5m-5 26h5m-3 -144h5m-5 43h5m-5 54h5m-5 27h5m-5 55h5m-5 6h5m-5 6h5m-4 -189h5m-5 1h5m-5 115h5m-3 -54h5m-5 107h5m-3 -45h5m-5 24h5m-5 19h5m-5 88h5m-3 -266h5m-5 1h5m-5 5h5m-5 19h5m-5 43h5m-5 1h5m-5 51h5m-5 3h5m-5 12h5m-5 9h5m-5 1h5m-5 3h5m-5 4h5m-5 19h5m-5 66h5m-2 -294h5m-5 157h5m-5 42h5m-5 8h5m-5 5h5m-5 36h5m-5 2h5m-5 54h5m-5 2h5m-5 27h5m-4 -162h5m-5 22h5m-5 50h5m-5 11h5m-3 -115h5m-5 55h5m-5 54h5m-2 -185h5m-5 8h5m-5 8h5m-5 56h5m-5 15h5m-5 6h5m-5 100h5m-5 36h5m-4 -99h5m-5 36h5m-5 33h5m-4 -197h5m-5 15h5m-5 45h5m-5 32h5m-5 30h5m-5 63h5m-4 -147h5m-5 14h5m-5 16h5m-5 47h5m-5 56h5m-5 3h5m-5 31h5m-5 20h5m-5 12h5m-5 42h5m-4 -285h5m-5 6h5m-5 36h5m-5 20h5m-5 0h5m-5 31h5m-5 42h5m-5 17h5m-5 2h5m-5 46h5m-5 9h5m-5 13h5m-5 5h5m-5 4h5m-5 3h5m-5 10h5m-5 20h5m-5 2h5m-5 1h5m-4 -218h5m-5 36h5m-5 24h5m-5 23h5m-5 10h5m-4 -279h5m-5 30h5m-5 27h5m-5 47h5m-5 5h5m-5 8h5m-5 28h5m-5 33h5m-5 8h5m-5 38h5m-5 12h5m-5 7h5m-5 10h5m-5 4h5m-5 4h5m-5 1h5m-5 5h5m-5 1h5m-5 0h5m-5 11h5m-5 28h5m-5 8h5m-5 77h5m-5 111h5m-5 5h5m-4 -314h5m-5 121h5m-4 -89h5m-5 11h5m-5 8h5m-5 2h5m-5 5h5m-5 14h5m-5 10h5m-5 9h5m-5 2h5m-5 2h5m-5 4h5m-5 15h5m-5 13h5m-5 10h5m-4 -196h5m-5 22h5m-5 10h5m-5 83h5m-5 9h5m-5 36h5m-5 40h5m-5 47h5m-4 -19h5m-4 -313h5m-3 66h5m-5 19h5m-5 14h5m-5 5h5m-5 10h5m-5 3h5m-5 3h5m-5 7h5m-5 7h5m-5 3h5m-5 7h5m-5 37h5m-5 5h5m-5 11h5m-5 6h5m-5 28h5m-5 0h5m-5 12h5m-4 -160h5m-5 89h5m-5 13h5m-5 15h5m-5 16h5m-5 6h5m-5 0h5m-5 1h5m-5 0h5m-5 6h5m-5 6h5m-5 13h5m-5 10h5m-5 25h5m-4 -109h5m-5 124h5m-4 -112h5m-3 -137h5m-5 1h5m-5 8h5m-5 36h5m-5 10h5m-5 16h5m-5 1h5m-5 11h5m-5 9h5m-5 3h5m-5 2h5m-5 14h5m-5 82h5m-5 3h5m-5 27h5m-4 -142h5m-5 74h5m-5 65h5m-5 170h5m-4 -239h5m-5 36h5m-4 -140h5m-5 51h5m-5 85h5m-5 0h5m-5 83h5m-5 9h5m-5 3h5m-5 15h5m-5 17h5m-4 -338h5m-5 10h5m-5 3h5m-5 1h5m-5 100h5m-5 13h5m-5 0h5m-5 11h5m-5 11h5m-5 64h5m-5 17h5m-5 4h5m-5 4h5m-5 1h5m-5 48h5m-4 -131h5m-5 24h5m-5 52h5m-5 10h5m-3 -187h5m-5 69h5m-5 48h5m-5 16h5m-5 4h5m-5 11h5m-5 5h5m-5 20h5m-5 8h5m-5 35h5m-5 16h5m-4 -238h5m-5 0h5m-5 127h5m-5 28h5m-5 131h5m-5 43h5m-4 -580h5m-5 99h5m-5 7h5m-5 2h5m-5 116h5m-5 12h5m-5 2h5m-5 39h5m-5 14h5m-5 11h5m-5 7h5m-5 18h5m-5 38h5m-5 7h5m-5 6h5m-5 4h5m-5 4h5m-5 16h5m-5 16h5m-5 15h5m-5 1h5m-5 3h5m-5 16h5m-5 12h5m-5 1h5m-5 10h5m-5 30h5m-5 6h5m-5 14h5m-4 -270h5m-5 1h5m-5 3h5m-5 24h5m-5 4h5m-5 3h5m-5 23h5m-5 3h5m-5 1h5m-5 19h5m-5 9h5m-5 84h5m-5 25h5m-5 129h5m-5 14h5m-4 -285h5m-5 11h5m-5 29h5m-5 6h5m-5 2h5m-5 0h5m-5 1h5m-5 0h5m-5 39h5m-5 32h5m-5 25h5m-4 -176h5m-5 66h5m-5 30h5m-4 -116h5m-5 16h5m-5 49h5m-4 -74h5m-5 38h5m-5 15h5m-5 39h5m-5 33h5m-3 -255h5m-5 5h5m-5 69h5m-5 6h5m-5 56h5m-5 41h5m-5 20h5m-5 26h5m-5 19h5m-5 5h5m-5 0h5m-5 11h5m-5 8h5m-5 7h5m-5 5h5m-5 7h5m-5 18h5m-5 52h5m-5 5h5m-5 8h5m-5 23h5m-5 31h5m-5 22h5m-5 26h5m-4 -301h5m-5 10h5m-5 254h5m-5 2h5m-5 1h5m-5 23h5m1 -292h5m-5 32h5m-5 1h5m-5 8h5m-5 23h5m-5 26h5m-5 14h5m-5 6h5m-5 9h5m-5 20h5m-5 61h5m-4 -234h5m-5 1h5m-5 68h5m-5 32h5m-5 12h5m-5 0h5m-5 7h5m-5 3h5m-5 1h5m-5 2h5m-5 1h5m-5 16h5m-5 2h5m-5 1h5m-5 3h5m-5 15h5m-5 7h5m-5 13h5m-5 10h5m-4 -111h5m-5 109h5m-5 30h5m-5 9h5m-5 14h5m-4 -264h5m-5 10h5m-5 21h5m-5 1h5m-5 2h5m-5 1h5m-5 0h5m-5 21h5m-5 2h5m-5 1h5m-5 3h5m-5 19h5m-5 15h5m-5 1h5m-5 16h5m-5 27h5m-5 4h5m-5 6h5m-5 4h5m-5 0h5m-5 6h5m-5 5h5m-5 13h5m-5 11h5m-5 3h5m-5 3h5m-5 5h5m-5 5h5m-5 12h5m-5 0h5m-5 8h5m-5 5h5m-5 0h5m-5 37h5m-5 12h5m1 -235h5m-5 6h5m-5 16h5m-5 10h5m-5 5h5m-5 0h5m-5 3h5m-5 2h5m-5 6h5m-5 17h5m-5 43h5m-5 3h5m-4 -115h5m-5 6h5m-5 1h5m-5 12h5m-5 1h5m-5 90h5m-4 -26h5m-5 7h5m-1 -13h5m-5 59h5m-5 1h5m-5 9h5m-2 -12h5m-5 9h5m-5 1h5m-4 -298h5m-5 3h5m-5 20h5m-5 24h5m-5 7h5m-5 40h5m-5 6h5m-5 8h5m-5 21h5m-5 7h5m-5 27h5m-5 21h5m-5 119h5m-5 35h5m-5 16h5m-2 -58h5m-5 95h5m-5 9h5m-5 21h5m-4 -326h5m-5 225h5m-5 48h5m-5 67h5m-5 84h5m-4 -644h5m-4 272h5m-5 26h5m-5 44h5m-5 20h5m-5 15h5m-5 47h5m-5 17h5m-5 0h5m-5 13h5m-5 10h5m-5 31h5m-5 2h5m-5 2h5m-5 8h5m-5 4h5m-5 2h5m-5 5h5m-4 -156h5m-5 16h5m-5 110h5m-4 -201h5m-5 44h5m-5 85h5m-5 36h5m-4 -78h5m-2 -160h5m-5 102h5m-5 6h5m-4 -98h5m-5 8h5m-5 24h5m-5 4h5m-5 13h5m-5 36h5m-5 1h5m-5 11h5m-5 14h5m-5 58h5m-5 8h5m-5 15h5m-5 33h5m-5 3h5m-5 9h5m-5 25h5m-5 3h5m-2 -260h5m-5 6h5m-5 12h5m-5 40h5m-5 16h5m-5 126h5m-5 88h5m-4 -211h5m-2 -96h5m-5 38h5m-5 18h5m-5 1h5m-5 12h5m-5 22h5m-5 4h5m-5 2h5m-5 2h5m-5 12h5m-5 2h5m-5 11h5m-5 9h5m-5 2h5m-5 3h5m-5 5h5m-5 0h5m-5 1h5m-5 15h5m-5 2h5m-5 1h5m-5 0h5m-5 27h5m-5 8h5m-5 17h5m-5 0h5m-5 6h5m-5 7h5m-5 1h5m-5 6h5m-5 4h5m-5 0h5m-5 3h5m-5 3h5m-5 4h5m-5 7h5m-5 7h5m-5 7h5m-5 1h5m-5 7h5m-4 -190h5m-5 53h5m-3 4h5m-5 64h5m-5 84h5m-5 17h5m-3 -274h5m-5 89h5m-5 6h5m-5 4h5m-5 29h5m-5 31h5m-4 -111h5m-5 14h5m-5 42h5m-5 2h5m-5 11h5m-5 107h5m-4 -315h5m-5 303h5m-4 -248h5m-5 22h5m-5 59h5m-5 10h5m-5 26h5m-5 23h5m-5 34h5m-5 6h5m-5 62h5m-3 -157h5m-5 27h5m-5 19h5m-5 0h5m-4 -126h5m-5 22h5m-5 11h5m-5 3h5m-5 4h5m-5 53h5m-5 57h5m-5 4h5m-3 -199h5m-5 75h5m-5 4h5m-5 2h5m-5 100h5m-5 23h5m-3 -109h5m-5 57h5m-5 1h5m-5 8h5m-5 1h5m-5 1h5m-5 1h5m-5 41h5m-5 29h5m-5 2h5m-5 2h5m-5 42h5m-5 11h5m-5 11h5m-4 -211h5m-5 28h5m-5 1h5m-5 3h5m-5 5h5m-5 3h5m-5 7h5m-5 4h5m-5 15h5m-5 1h5m-5 0h5m-5 2h5m-5 4h5m-5 26h5m-5 0h5m-5 3h5m-5 9h5m-5 5h5m-5 11h5m-5 3h5m-5 6h5m-5 3h5m-5 40h5m-5 16h5m-2 -40h5m-3 -240h5m-5 7h5m-5 22h5m-5 30h5m-5 8h5m-5 23h5m-5 1h5m-5 25h5m-5 3h5m-5 65h5m-5 27h5m-5 13h5m-5 36h5m-5 11h5m-4 -250h5m-5 15h5m-5 16h5m-5 17h5m-5 15h5m-5 31h5m-5 43h5m-5 17h5m-5 5h5m-5 6h5m-5 3h5m-5 17h5m-5 1h5m-5 1h5m-5 2h5m-5 20h5m-5 31h5m-4 -161h5m-5 17h5m-5 37h5m-5 36h5m-2 -119h5m-5 66h5m-5 43h5m-5 44h5m-5 0h5m-5 8h5m-5 12h5m-5 8h5m-5 17h5m-2 -275h5m-5 20h5m-5 25h5m-5 2h5m-5 26h5m-5 6h5m-5 0h5m-5 100h5m-5 3h5m-5 37h5m-5 27h5m-5 22h5m-5 38h5m-5 3h5m-5 22h5m-5 54h5m-5 3h5m-5 8h5m-4 -299h5m-5 4h5m-5 7h5m-5 1h5m-5 31h5m-5 13h5m-5 9h5m-5 29h5m-4 34h5m-4 -103h5m-5 43h5m-5 4h5m-5 9h5m-5 4h5m-5 3h5m-5 3h5m-5 9h5m-5 2h5m-5 1h5m-5 9h5m-5 1h5m-5 41h5m-5 26h5m-3 -189h5m-5 87h5m-3 -80h5m-5 4h5m-5 13h5m-5 15h5m-5 0h5m-5 51h5m-5 7h5m-5 11h5m-5 1h5m-5 69h5m-5 28h5m0 -218h5m-5 7h5m-5 0h5m-5 46h5m-5 13h5m-5 17h5m-5 31h5m-5 14h5m-5 16h5m-5 19h5m-5 2h5m-5 2h5m-5 13h5m-5 1h5m-5 7h5m-5 7h5m-4 -211h5m-5 22h5m-5 52h5m-5 1h5m-5 7h5m-5 4h5m-3 -142h5m-5 48h5m-5 89h5m-4 -34h5m-5 90h5m-3 -151h5m-5 65h5m-5 5h5m-5 0h5m-5 0h5m-5 1h5m-5 2h5m-5 12h5m-5 5h5m-5 1h5m-5 0h5m-5 7h5m-5 2h5m-5 2h5m-5 2h5m-5 4h5m-5 19h5m-5 126h5m-4 -256h5m-5 11h5m-5 11h5m-5 11h5m-5 3h5m-5 1h5m-5 1h5m-5 2h5m-5 1h5m-5 3h5m-5 9h5m-5 9h5m-5 0h5m-5 33h5m-5 17h5m-5 2h5m-5 46h5m-5 14h5m-5 12h5m-3 -187h5m-5 14h5m-5 14h5m-5 13h5m-5 62h5m-4 -97h5m-5 26h5m-5 6h5m-5 3h5m-5 9h5m-5 2h5m-5 9h5m-5 11h5m-5 12h5m-5 11h5m-5 4h5m-5 12h5m-5 19h5m-5 7h5m-5 1h5m-5 10h5m-5 3h5m-4 -102h5m-5 28h5m-5 9h5m-5 2h5m-5 22h5m-5 4h5m-5 10h5m-5 1h5m-5 28h5m-5 1h5m-4 -89h5m-5 10h5m-5 7h5m-5 30h5m-5 38h5m-5 20h5m-5 37h5m-5 11h5m-3 -260h5m-5 9h5m-5 22h5m-5 13h5m-5 47h5m-5 19h5m-5 31h5m-5 1h5m-5 29h5m-5 5h5m-5 15h5m-5 7h5m-5 11h5m-5 11h5m-4 -156h5m-5 23h5m-5 18h5m-5 0h5m-3 -80h5m-5 1h5m-5 43h5m-5 15h5m-5 19h5m-5 35h5m-5 54h5m-5 89h5m-5 10h5m-3 -239h5m-5 71h5m-5 26h5m-5 16h5m-5 69h5m-5 3h5m-5 78h5m-4 -116h5m-4 -177h5m-5 12h5m-5 0h5m-5 54h5m-5 2h5m-5 8h5m-5 5h5m-5 4h5m-5 3h5m-5 1h5m-5 2h5m-5 3h5m-5 4h5m-5 8h5m-5 1h5m-5 0h5m-5 15h5m-5 7h5m-5 0h5m-5 43h5m-5 40h5m-5 5h5m-5 37h5m-4 -278h5m-4 29h5m-5 49h5m-5 2h5m-5 2h5m-5 51h5m-5 38h5m-5 60h5m-5 16h5m-5 9h5m-5 3h5m-5 20h5m-4 -169h5m-5 46h5m-5 17h5m-5 28h5m-5 9h5m-5 2h5m-5 39h5m-5 1h5m-5 2h5m-5 0h5m-4 -211h5m-5 11h5m-5 30h5m-5 53h5m-5 3h5m-5 6h5m-5 10h5m-5 2h5m-4 -185h5m-5 107h5m-5 23h5m-5 45h5m-5 48h5m-4 -57h5m-2 14h5m-5 54h5m-5 2h5m-4 -199h5m-5 27h5m-5 17h5m-5 99h5m-5 77h5m0 -130h5m-5 8h5m-5 127h5m-4 -144h5m-4 -17h5m-5 1h5m-5 11h5m-5 9h5m-5 16h5m-5 10h5m-5 9h5m-5 17h5m-5 41h5m-5 5h5m-5 32h5m-1 -110h5m-5 24h5m-5 57h5m-3 -216h5m-5 21h5m-5 2h5m-5 14h5m-5 5h5m-5 5h5m-5 2h5m-5 5h5m-5 0h5m-5 4h5m-5 3h5m-5 3h5m-5 4h5m-5 1h5m-5 3h5m-5 4h5m-5 6h5m-5 2h5m-5 8h5m-5 7h5m-5 4h5m-5 9h5m-5 17h5m-5 21h5m-5 20h5m-4 -118h5m-5 6h5m-5 29h5m-5 65h5m-5 21h5m-5 3h5m-5 8h5m-5 1h5m-4 -213h5m-4 -19h5m-5 39h5m-5 117h5m-5 2h5m-5 9h5m-5 21h5m-5 8h5m-5 1h5m-5 1h5m-3 -45h5m-5 2h5m-5 9h5m-5 2h5m-5 10h5m-5 12h5m-5 7h5m-5 4h5m-5 7h5m-5 3h5m-5 19h5m-5 44h5m-3 -127h5m-5 32h5m-5 135h5m-4 -176h5m-5 16h5m-5 22h5m-5 1h5m-5 5h5m-5 6h5m-5 11h5m-5 7h5m-5 1h5m-5 8h5m-5 0h5m-4 -141h5m-5 92h5m-5 3h5m-5 1h5m-5 24h5m-5 4h5m-5 39h5m-4 -98h5m-5 35h5m-5 8h5m-4 -108h5m-5 29h5m-5 19h5m-5 1h5m-5 9h5m-5 12h5m-5 2h5m-5 4h5m-5 11h5m-5 0h5m-5 2h5m-5 0h5m-5 3h5m-5 7h5m-5 4h5m-5 0h5m-5 0h5m-5 3h5m-5 3h5m-5 1h5m-5 2h5m-5 0h5m-5 14h5m-5 5h5m-5 22h5m-5 6h5m-5 36h5m-4 -210h5m-5 58h5m-5 19h5m-5 5h5m-5 12h5m-5 12h5m-5 0h5m-5 49h5m-5 6h5m-4 -243h5m-5 38h5m-5 40h5m-5 24h5m-5 9h5m-5 3h5m-5 11h5m-5 11h5m-5 2h5m-5 22h5m-5 9h5m-5 0h5m-5 4h5m-5 3h5m-5 2h5m-5 9h5m-5 24h5m-5 3h5m-5 3h5m-5 11h5m-5 31h5m-5 27h5m-5 8h5m-5 2h5m-5 47h5m-3 -358h5m-5 31h5m-5 53h5m-5 145h5m-5 83h5m-4 -239h5m-5 12h5m-5 1h5m-5 6h5m-5 2h5m-5 23h5m-5 7h5m-5 2h5m-5 10h5m-5 13h5m-5 14h5m-5 8h5m-5 12h5m-5 3h5m-5 1h5m-5 4h5m-5 6h5m-5 6h5m-5 6h5m-5 60h5m-4 -122h5m-5 30h5m-5 99h5m-3 -181h5m-5 8h5m-5 31h5m-5 13h5m-5 3h5m-5 22h5m-5 5h5m-5 15h5m-5 39h5m-5 8h5m-5 6h5m-5 4h5m-5 3h5m-5 1h5m-5 15h5m-5 9h5m-5 15h5m-5 22h5m-5 5h5m-5 9h5m-5 1h5m-5 8h5m-5 3h5m-5 8h5m-4 -265h5m-5 81h5m-5 9h5m-5 3h5m-5 6h5m-5 13h5m-5 9h5m-5 3h5m-5 29h5m-5 31h5m-5 4h5m-5 1h5m-5 6h5m-5 2h5m-5 5h5m-5 6h5m-5 16h5m-5 3h5m-4 -156h5m-5 15h5m-5 9h5m-5 37h5m-5 26h5m-3 88h5m-4 -225h5m-5 2h5m-5 4h5m-5 14h5m-5 11h5m-5 20h5m-5 1h5m-5 31h5m-5 3h5m-5 6h5m-5 5h5m-5 7h5m-5 1h5m-5 13h5m-5 9h5m-5 32h5m-5 16h5m-5 22h5m-4 -162h5m-4 11h5m-5 97h5m-4 -61h5m-5 120h5m-5 51h5m-4 -258h5m-5 1h5m-5 34h5m-5 41h5m-5 2h5m-5 1h5m-5 39h5m-5 8h5m-5 1h5m-5 7h5m-5 8h5m-5 15h5m-5 8h5m-4 -94h5m-5 48h5m-5 33h5m-3 -101h5m-5 1h5m-5 23h5m-5 6h5m-5 2h5m-5 1h5m-5 33h5m-5 4h5m-5 1h5m-5 29h5m-2 -174h5m-5 7h5m-5 7h5m-5 37h5m-5 51h5m-5 53h5m-5 67h5m-5 41h5m-5 40h5m-5 12h5m-5 20h5m-3 -213h5m-4 -177h5m-5 19h5m-5 23h5m-5 35h5m-5 25h5m-5 10h5m-5 5h5m-5 30h5m-5 9h5m-5 5h5m-5 3h5m-5 11h5m-5 7h5m-5 19h5m-5 2h5m-5 6h5m-5 22h5m-5 0h5m-5 1h5m-5 11h5m-5 5h5m-5 24h5m-4 -333h5m-5 6h5m-5 11h5m-5 24h5m-5 50h5m-5 10h5m-5 2h5m-5 3h5m-5 3h5m-5 25h5m-5 13h5m-5 26h5m-5 9h5m-5 5h5m-5 14h5m-5 4h5m-5 6h5m-5 8h5m-5 11h5m-5 14h5m-5 29h5m-5 2h5m-5 8h5m-5 5h5m-5 17h5m-5 7h5m-5 1h5m-5 18h5m-5 4h5m-5 9h5m-5 7h5m-5 10h5m-5 3h5m-5 2h5m-5 39h5m-4 -245h5m-5 3h5m-5 10h5m-5 10h5m-5 1h5m-5 25h5m-5 3h5m-5 14h5m-5 8h5m-5 13h5m-2 -151h5m-5 2h5m-5 6h5m-5 15h5m-5 82h5m-5 18h5m-5 21h5m-5 2h5m-5 0h5m-5 14h5m-5 71h5m-5 24h5m-4 -225h5m-5 71h5m-5 4h5m-5 8h5m-5 2h5m-5 3h5m-5 12h5m-5 39h5m-5 6h5m-5 1h5m-5 4h5m-5 17h5m-5 2h5m-5 6h5m-5 13h5m-5 3h5m-5 3h5m-2 -231h5m-5 23h5m-5 1h5m-5 9h5m-5 20h5m-5 11h5m-5 29h5m-5 16h5m-5 7h5m-5 5h5m-5 2h5m-5 20h5m-5 5h5m-5 5h5m-5 26h5m-5 4h5m-5 37h5m-5 9h5m-4 2h5m-3 -122h5m-5 28h5m-5 39h5m-3 -8h5m-4 -97h5m-5 25h5m-4 -78h5m-5 55h5m-5 31h5m-5 6h5m-5 41h5m-5 53h5m-5 1h5m-5 13h5m-4 -187h5m-5 21h5m-5 23h5m-5 12h5m-5 31h5m-5 13h5m-5 66h5m-3 -116h5m-5 14h5m-5 41h5m-4 -290h5m-5 2h5m-5 11h5m-5 17h5m-5 3h5m-5 19h5m-5 21h5m-5 4h5m-5 14h5m-5 15h5m-5 10h5m-5 21h5m-5 15h5m-5 5h5m-5 12h5m-5 3h5m-5 11h5m-5 11h5m-5 17h5m-5 35h5m-5 4h5m-5 2h5m-5 1h5m-5 0h5m-5 54h5m-5 1h5m-5 3h5m-5 15h5m-5 8h5m-5 22h5m-5 10h5m-5 15h5m-5 5h5m-5 16h5m-5 15h5m-5 7h5m-4 -254h5m-5 20h5m-5 7h5m-5 8h5m-5 13h5m-5 18h5m-5 10h5m-5 115h5m-5 65h5m-4 -156h5m-5 9h5m-5 32h5m-5 31h5m-5 17h5m-4 -246h5m-5 2h5m-5 26h5m-5 85h5m-5 58h5m-5 99h5m-4 -335h5m-5 40h5m-5 39h5m-5 17h5m-5 44h5m-5 52h5m-5 1h5m-5 46h5m-5 4h5m-5 13h5m-5 15h5m-5 20h5m-5 13h5m-5 14h5m-5 4h5m-5 49h5m-5 2h5m-5 23h5m-5 1h5m-5 10h5m-5 45h5m-4 -382h5m-5 45h5m-5 28h5m-5 2h5m-5 58h5m-5 11h5m-5 2h5m-5 0h5m-5 1h5m-5 3h5m-5 4h5m-5 2h5m-5 1h5m-5 10h5m-5 8h5m-5 0h5m-5 8h5m-5 0h5m-5 0h5m-5 6h5m-5 6h5m-5 16h5m-5 3h5m-5 6h5m-5 2h5m-5 3h5m-5 6h5m-5 7h5m-5 27h5m-5 3h5m-5 3h5m-5 8h5m-5 5h5m-5 1h5m-5 2h5m-5 1h5m-5 7h5m-4 -192h5m-5 15h5m-5 13h5m-5 49h5m-5 7h5m-5 7h5m-5 72h5m-1 -197h5m-5 12h5m-5 38h5m-5 12h5m-5 4h5m-5 8h5m-5 7h5m-5 31h5m-5 8h5m-5 3h5m-5 11h5m-3 -166h5m-5 8h5m-5 90h5m-5 0h5m-5 3h5m-5 3h5m-5 5h5m-5 14h5m-5 9h5m-5 16h5m-5 9h5m-5 1h5m-5 6h5m-5 6h5m-5 2h5m-5 21h5m-5 5h5m-4 -259h5m-5 27h5m-5 22h5m-5 17h5m-5 33h5m-3 -36h5m-1 49h5m-5 24h5m-5 8h5m-5 3h5m-5 5h5m-5 1h5m-5 2h5m-5 24h5m-5 6h5m-5 9h5m-5 1h5m-5 6h5m-5 1h5m-5 2h5m-5 8h5m-5 12h5m-5 13h5m-5 8h5m-5 7h5m-4 -72h5m-5 34h5m-4 -4h5m-5 8h5m-5 30h5m-5 3h5m-4 -250h5m-5 207h5m-3 -240h5m-5 57h5m-5 23h5m-5 83h5m-5 68h5m-4 -73h5m-5 30h5m-5 5h5m-5 11h5m-5 2h5m-5 11h5m-5 5h5m-4 -102h5m-5 7h5m-5 0h5m-5 22h5m-5 2h5m-5 0h5m-5 18h5m-5 1h5m-5 31h5m-5 6h5m-5 8h5m-5 19h5m-4 -77h5m-5 65h5m-5 6h5m-5 6h5m-3 -13h5m-5 1h5m-5 9h5m-5 19h5m-5 20h5m-3 -132h5m-5 89h5m-5 3h5m-4 -76h5m-5 48h5m-5 137h5m-4 -282h5m-5 44h5m-5 12h5m-5 19h5m-5 15h5m-5 24h5m-5 3h5m-5 9h5m-5 55h5m-5 4h5m-5 24h5m-5 6h5m-5 34h5m-5 20h5m-5 12h5m-4 -227h5m-5 26h5m-5 1h5m-5 29h5m-5 47h5m-4 -141h5m-5 148h5m-4 -78h5m-5 9h5m-5 14h5m-5 18h5m-5 103h5m-5 85h5m-4 -168h5m-5 9h5m-5 45h5m-3 -142h5m-5 45h5m-5 18h5m-5 23h5m-5 2h5m-5 10h5m-5 3h5m-5 6h5m-5 5h5m-5 2h5m-5 6h5m-5 6h5m-5 2h5m-4 -85h5m-5 50h5m-3 -93h5m-5 71h5m-5 6h5m-5 10h5m-5 25h5m-5 13h5m-3 -38h5m-4 -33h5m-5 90h5m-5 39h5m-3 -255h5m-5 82h5m-5 8h5m-5 18h5m-5 149h5m-4 -255h5m-5 22h5m-5 3h5m-5 3h5m-5 56h5m-5 6h5m-5 7h5m-5 5h5m-5 7h5m-5 3h5m-5 9h5m-5 7h5m-5 3h5m-5 7h5m-5 3h5m-5 1h5m-5 15h5m-5 4h5m-5 5h5m-5 7h5m-5 5h5m-5 10h5m-5 47h5m-5 28h5m-3 -376h5m-5 1h5m-5 66h5m-5 8h5m-5 22h5m-5 7h5m-5 9h5m-5 1h5m-5 3h5m-5 27h5m-5 25h5m-5 9h5m-5 47h5m-5 4h5m-5 18h5m-5 26h5m-5 22h5m-5 33h5m-5 1h5m-5 17h5m-5 1h5m-5 2h5m-5 11h5m-5 14h5m-4 -254h5m-5 15h5m-5 67h5m-5 6h5m-5 20h5m-5 6h5m-5 7h5m-5 1h5m-5 3h5m-5 4h5m-5 5h5m-5 11h5m-5 15h5m-5 8h5m-5 9h5m-3 -267h5m-5 174h5m-5 2h5m-5 26h5m-5 48h5m-5 8h5m-2 -110h5m-5 1h5m-5 5h5m-5 1h5m-5 11h5m-5 8h5m-5 19h5m-5 1h5m-5 4h5m-5 16h5m-5 8h5m-5 1h5m-5 9h5m-5 9h5m-5 2h5m-5 1h5m-5 0h5m-5 5h5m-5 3h5m-5 3h5m-5 0h5m-5 6h5m-5 7h5m-5 0h5m-5 64h5m-5 51h5m-4 -337h5m-5 91h5m-5 68h5m-5 15h5m-5 3h5m-5 90h5m-4 -169h5m-5 56h5m-5 6h5m-5 35h5m-5 70h5m-2 -225h5m-4 46h5m-5 67h5m-4 -77h5m-5 28h5m-5 29h5m-5 10h5m-5 13h5m-5 37h5m-3 -169h5m-5 54h5m-5 0h5m-5 8h5m-5 4h5m-5 12h5m-5 6h5m-5 4h5m-5 22h5m-5 1h5m-5 15h5m-5 2h5m-5 7h5m-5 10h5m-5 1h5m-5 1h5m-5 9h5m-5 0h5m-5 4h5m-5 5h5m-5 1h5m-5 14h5m-5 0h5m-5 11h5m-5 57h5m-4 -247h5m-5 85h5m-5 27h5m-5 14h5m-5 21h5m-3 -291h5m-5 4h5m-5 28h5m-5 106h5m-5 14h5m-5 47h5m-5 22h5m-5 10h5m-5 2h5m-5 20h5m-5 48h5m-5 74h5m-4 -155h5m-5 1h5m-5 11h5m-5 1h5m-5 5h5m-5 9h5m-5 8h5m-5 0h5m-5 1h5m-5 0h5m-5 1h5m-5 3h5m-5 1h5m-5 1h5m-5 1h5m-5 2h5m-5 8h5m-5 9h5m-5 12h5m-5 4h5m-5 4h5m-5 0h5m-5 2h5m-5 15h5m-5 54h5m-5 2h5m-4 -158h5m-5 44h5m-5 22h5m-3 -57h5m-5 6h5m-5 31h5m-5 22h5m-4 -6h5m-5 7h5m-5 7h5m-1 -112h5m-5 21h5m-5 48h5m-5 1h5m-5 63h5m-5 4h5m-5 18h5m-5 3h5m-5 3h5m-5 2h5m-4 -304h5m-5 175h5m-5 1h5m-5 3h5m-5 11h5m-5 0h5m-5 5h5m-5 6h5m-5 2h5m-5 1h5m-5 1h5m-5 5h5m-5 11h5m-5 0h5m-5 0h5m-5 1h5m-5 4h5m-5 5h5m-5 0h5m-5 5h5m-5 3h5m-5 83h5m-3 -303h5m-5 18h5m-5 8h5m-5 2h5m-5 77h5m-5 28h5m-5 50h5m-5 74h5m-5 18h5m-5 22h5m-5 64h5m-5 6h5m-5 13h5m-4 -100h5m-2 -138h5m-5 28h5m-5 20h5m-4 -16h5m-5 91h5m-1 -241h5m-5 56h5m-5 30h5m-5 11h5m-5 10h5m-5 9h5m-5 6h5m-5 8h5m-5 6h5m-5 15h5m-5 22h5m-5 1h5m-5 18h5m-5 54h5m-5 13h5m-5 4h5m-5 17h5m-3 -126h5m-5 20h5m-5 51h5m-4 -276h5m-5 96h5m-5 49h5m-5 2h5m-5 4h5m-5 29h5m-5 29h5m-5 76h5m-5 39h5m-4 -202h5m-5 4h5m-5 7h5m-5 25h5m-5 19h5m-5 1h5m-5 0h5m-5 4h5m-5 6h5m-5 3h5m-5 13h5m-5 13h5m-5 6h5m-5 5h5m-5 14h5m-5 10h5m-5 8h5m-5 1h5m-5 3h5m-5 7h5m-5 9h5m-5 9h5m-5 11h5m-5 16h5m-4 -294h5m-5 70h5m-5 269h5m-4 -233h5m-5 8h5m-5 59h5m1 -82h5m-5 4h5m-5 5h5m-5 50h5m-5 8h5m-5 7h5m-4 -26h5m-3 -50h5m-5 17h5m-4 -97h5m-5 53h5m-5 29h5m-5 24h5m-5 29h5m-5 5h5m-5 16h5m-5 15h5m-5 56h5m-5 1h5m-5 57h5m-4 -195h5m-5 12h5m-5 23h5m-5 46h5m-5 16h5m-5 93h5m-4 -4h5m-3 -139h5m-5 14h5m-5 49h5m-4 -113h5m-2 150h5m-3 -96h5m-5 3h5m-5 86h5m-5 21h5m-5 11h5m-5 50h5m-4 -340h5m-5 24h5m-5 14h5m-5 9h5m-5 10h5m-5 20h5m-5 22h5m-5 4h5m-5 8h5m-5 14h5m-5 42h5m-5 5h5m-5 4h5m-5 3h5m-5 36h5m-5 11h5m-5 16h5m-5 25h5m-5 16h5m-5 3h5m-5 17h5m-5 27h5m-5 14h5m-5 81h5m-4 -309h5m-5 56h5m-5 24h5m-5 76h5m-5 49h5m-5 14h5m-3 -293h5m-5 125h5m-2 -77h5m-5 13h5m-5 0h5m-5 5h5m-5 16h5m-5 2h5m-5 3h5m-5 8h5m-5 1h5m-5 23h5m-5 6h5m-5 2h5m-5 27h5m-5 8h5m-5 16h5m-5 24h5m-5 16h5m-5 7h5m-5 18h5m-5 15h5m-5 24h5m-5 1h5m-5 8h5m-5 3h5m-5 31h5m-4 -227h5m-5 67h5m-5 25h5m-5 59h5m-4 -169h5m-5 64h5m-5 20h5m-5 75h5m-4 -117h5m-5 36h5m-5 17h5m-5 40h5m-5 31h5m-5 25h5m-5 0h5m-5 16h5m-5 10h5m-4 -232h5m-5 55h5m-5 9h5m-5 13h5m-3 -168h5m-5 24h5m-5 7h5m-5 3h5m-5 6h5m-5 7h5m-5 11h5m-5 1h5m-5 1h5m-5 2h5m-5 5h5m-5 59h5m-5 3h5m-5 2h5m-5 20h5m-5 27h5m-5 25h5m-5 78h5m-4 -159h5m-5 1h5m-5 15h5m-5 41h5m-4 -33h5m-5 9h5m-4 -10h5m-4 -77h5m-5 109h5m-3 -27h5m-5 17h5m-5 54h5m-5 11h5m-4 -308h5m-5 66h5m-5 135h5m-5 167h5m-5 19h5m-5 22h5m-4 -345h5m-5 52h5m-5 14h5m-5 37h5m-5 13h5m-5 45h5m-5 4h5m-5 5h5m-5 12h5m-5 1h5m-5 17h5m-5 15h5m-5 4h5m-5 61h5m-2 -351h5m-5 147h5m-5 26h5m-5 3h5m-5 10h5m-5 26h5m-5 8h5m-5 22h5m-5 3h5m-5 10h5m-5 30h5m-5 13h5m-5 16h5m-5 20h5m-5 4h5m-5 6h5m-5 4h5m-5 4h5m-5 37h5m-5 3h5m-5 6h5m-3 -169h5m-3 -42h5m-5 14h5m-5 2h5m-5 3h5m-5 16h5m-5 13h5m-5 2h5m-5 0h5m-5 4h5m-5 24h5m-5 2h5m-5 16h5m-5 8h5m-5 11h5m-4 -151h5m-5 20h5m-5 1h5m-4 240h5m-4 -307h5m-5 30h5m-5 5h5m-5 22h5m-5 1h5m-5 14h5m-5 9h5m-5 3h5m-5 5h5m-5 45h5m-5 4h5m-5 9h5m-5 10h5m-5 17h5m-5 5h5m-5 1h5m-5 2h5m-5 6h5m-5 25h5m-5 23h5m-3 -205h5m-5 3h5m-5 111h5m-5 22h5m-5 13h5m-5 51h5m-5 1h5m-5 3h5m-5 5h5m-5 7h5m-5 28h5m-5 22h5m-4 -182h5m-5 9h5m-5 4h5m-5 95h5m-5 2h5m-5 0h5m-4 -279h5m-5 63h5m-5 46h5m0 226h5m-4 -302h5m-5 35h5m-5 53h5m-5 33h5m-5 19h5m-5 3h5m-5 10h5m-5 0h5m-5 32h5m-5 10h5m-5 7h5m-5 28h5m-5 11h5m-5 0h5m-5 28h5m-5 9h5m-4 -186h5m-4 80h5m-2 -156h5m-3 145h5m-5 7h5m-5 23h5m-4 -242h5m-5 158h5m-5 219h5m-4 -244h5m-5 52h5m-5 22h5m-3 -22h5m-5 38h5m-4 17h5m-5 18h5m-5 3h5m-5 6h5m-5 12h5m-5 7h5m-5 15h5m-4 -132h5m-5 22h5m-5 25h5m-5 12h5m-2 -225h5m-5 23h5m-5 22h5m-5 24h5m-5 8h5m-5 15h5m-5 35h5m-5 9h5m-5 9h5m-5 7h5m-5 17h5m-5 36h5m-5 25h5m-5 40h5m-5 4h5m-5 0h5m-5 7h5m-5 33h5m-5 17h5m-1 -244h5m-5 6h5m-5 61h5m-5 123h5m-4 -293h5m-5 97h5m-5 11h5m-5 58h5m-5 10h5m-5 13h5m-5 39h5m-5 23h5m-5 16h5m-5 2h5m-5 77h5m-5 2h5m-4 -239h5m-5 120h5m-5 82h5m-3 -217h5m-5 4h5m-5 8h5m-5 8h5m-5 3h5m-5 1h5m-5 14h5m-5 16h5m-5 4h5m-5 6h5m-5 5h5m-5 0h5m-5 2h5m-5 0h5m-5 0h5m-5 3h5m-5 5h5m-5 1h5m-5 2h5m-5 7h5m-5 1h5m-5 1h5m-5 3h5m-5 23h5m-5 2h5m-5 5h5m-5 6h5m-5 3h5m-5 15h5m-5 6h5m-5 22h5m-5 6h5m-5 167h5m-1 -281h5m-4 -85h5m-5 25h5m-5 1h5m-5 41h5m-5 26h5m-5 67h5m-4 -171h5m-5 17h5m-5 103h5m-5 2h5m-5 10h5m-5 22h5m-5 2h5m-5 16h5m-5 4h5m-5 43h5m-5 2h5m-5 8h5m-5 15h5m-5 3h5m-4 -318h5m-5 156h5m-5 26h5m-5 15h5m-5 37h5m-5 62h5m-3 -249h5m-5 125h5m-5 2h5m-5 2h5m-5 17h5m-5 29h5m-5 0h5m-5 5h5m-5 5h5m-4 -25h5m-3 -102h5m-5 86h5m-2 -80h5m-5 35h5m-5 14h5m-5 1h5m-5 10h5m-5 0h5m-5 23h5m-5 19h5m-5 20h5m-5 11h5m-5 40h5m-3 -156h5m-5 18h5m-5 50h5m-5 1h5m-5 32h5m-4 -94h5m-5 28h5m-5 6h5m-5 86h5m-2 -109h5m-5 36h5m-4 48h5m-5 3h5m-4 26h5m-5 22h5m-5 10h5m-3 -172h5m-5 16h5m-5 57h5m-5 7h5m-5 2h5m-5 8h5m-5 6h5m-5 10h5m-5 4h5m-5 3h5m-4 -96h5m-5 10h5m-5 31h5m-5 34h5m-5 5h5m-5 39h5m-5 29h5m-3 -277h5m-5 36h5m-5 23h5m-5 22h5m-5 1h5m-5 16h5m-5 51h5m-5 73h5m-5 21h5m-5 29h5m-5 24h5m-5 97h5m-5 1h5m-4 -334h5m-5 100h5m-5 18h5m-5 1h5m0 -30h5m-5 39h5m-5 30h5m-4 -103h5m-5 33h5m-4 -95h5m-5 9h5m-5 48h5m-5 58h5m-4 -68h5m-5 2h5m-5 15h5m-5 4h5m-5 9h5m-5 14h5m-5 3h5m-5 10h5m-5 7h5m-5 6h5m-5 34h5m-5 5h5m-5 156h5m-4 -162h5m-5 17h5m-5 7h5m-5 68h5m-3 -190h5m-5 9h5m-5 42h5m-5 4h5m-5 0h5m-5 4h5m-5 17h5m-5 4h5m-5 15h5m-5 12h5m-5 29h5m-5 19h5m-4 -100h5m-5 26h5m-5 27h5m-5 21h5m-5 28h5m-5 0h5m-5 33h5m-4 -111h5m-4 -44h5m-5 12h5m-1 -179h5m-5 21h5m-5 43h5m-5 168h5m-5 26h5m-5 19h5m-3 -90h5m-5 16h5m-5 44h5m-5 21h5m-5 20h5m-3 -230h5m-5 21h5m-5 28h5m-5 61h5m-5 62h5m-5 105h5m-5 35h5m-3 -312h5m-5 21h5m-5 5h5m-5 69h5m-5 5h5m-5 13h5m-5 17h5m-5 12h5m-5 31h5m-5 20h5m-5 11h5m-5 20h5m-4 -179h5m-5 44h5m-5 22h5m-5 6h5m-5 14h5m-5 11h5m-4 16h5m-5 6h5m-5 15h5m-5 73h5m-5 5h5m0 -190h5m-5 48h5m-5 182h5m-4 -130h5m-5 42h5m-2 -28h5m2 -11h5m-5 20h5m-4 -105h5m-5 44h5m-3 -127h5m-5 68h5m-5 37h5m-5 3h5m-5 9h5m-5 1h5m-5 2h5m-5 4h5m-5 1h5m-5 11h5m-5 5h5m-5 23h5m-5 11h5m-5 1h5m-5 8h5m-5 13h5m-5 1h5m-4 -25h5m-4 -216h5m-5 77h5m-5 33h5m-5 14h5m-5 3h5m-5 0h5m-5 3h5m-5 0h5m-5 25h5m-5 6h5m-5 1h5m-5 1h5m-5 12h5m-5 12h5m-5 12h5m-5 8h5m-5 5h5m-5 5h5m-5 15h5m-5 18h5m-5 3h5m-5 8h5m-5 6h5m-5 23h5m-5 5h5m-3 -206h5m-5 6h5m-5 33h5m-5 76h5m-5 65h5m-5 18h5m-3 -200h5m-5 1h5m-5 29h5m-5 1h5m-5 25h5m-5 63h5m-5 32h5m-5 29h5m1 -255h5m-5 8h5m-5 29h5m-5 15h5m-5 24h5m-5 2h5m-5 7h5m-5 4h5m-5 5h5m-5 20h5m-5 3h5m-5 19h5m-5 4h5m-5 43h5m-3 -201h5m-5 126h5m-5 9h5m-5 32h5m-5 49h5m-5 2h5m-5 25h5m-5 18h5m-5 8h5m-5 27h5m-5 2h5m-5 21h5m-5 3h5m-4 -107h5m-5 69h5m-2 -239h5m-5 79h5m-5 39h5m-4 -150h5m-5 23h5m-5 15h5m-5 42h5m-5 2h5m-5 9h5m-5 22h5m-5 7h5m-5 40h5m-3 -192h5m-5 356h5m-5 65h5m-3 -433h5m-5 172h5m-5 3h5m-5 24h5m-5 32h5m-5 10h5m-4 -222h5m-5 16h5m-5 103h5m-1 26h5m-5 7h5m-5 16h5m-5 11h5m-5 3h5m-5 24h5m-5 4h5m-5 4h5m-5 1h5m-5 23h5m-3 -91h5m-5 50h5m-5 7h5m-2 -259h5m-5 25h5m-5 39h5m-5 56h5m-5 27h5m-5 2h5m-5 9h5m-5 3h5m-5 3h5m-5 25h5m-5 0h5m-5 11h5m-5 14h5m-5 6h5m-5 0h5m-5 7h5m-5 107h5m-5 21h5m-5 17h5m-4 -332h5m-5 10h5m-5 40h5m-5 70h5m-5 16h5m-5 100h5m0 -205h5m-5 21h5m-5 42h5m-5 6h5m-5 9h5m-4 -4h5m-4 -80h5m-5 6h5m-5 60h5m-5 39h5m-5 0h5m-5 25h5m-5 15h5m-5 11h5m-5 5h5m-5 28h5m-5 1h5m-5 29h5m-5 3h5m-5 12h5m-5 30h5m-5 8h5m-5 21h5m-5 4h5m-2 -122h5m-1 -58h5m-5 52h5m-4 149h5m-2 -373h5m-5 39h5m-5 12h5m-5 19h5m-5 8h5m-5 17h5m-5 4h5m-5 6h5m-5 1h5m-5 1h5m-5 0h5m-5 3h5m-5 0h5m-5 8h5m-5 7h5m-5 2h5m-5 6h5m-5 1h5m-5 2h5m-5 7h5m-5 7h5m-5 3h5m-5 5h5m-5 11h5m-5 2h5m-5 17h5m-5 0h5m-5 18h5m-5 1h5m-5 4h5m-5 6h5m-5 6h5m-5 20h5m-4 -179h5m-5 81h5m-5 16h5m-5 100h5m-5 15h5m-2 -241h5m-4 10h5m-5 54h5m-5 21h5m-4 21h5m-4 33h5m-5 2h5m-5 12h5m-5 76h5m0 -79h5m-5 62h5m-2 8h5m0 -77h5m-5 37h5m-5 4h5m-4 -138h5m-5 47h5m-5 47h5m-5 16h5m-5 21h5m0 -106h5m-2 -27h5m-5 49h5m-5 17h5m-5 6h5m-5 13h5m-5 25h5m-5 12h5m-5 8h5m1 -100h5m-1 -131h5m-5 85h5m-5 3h5m-5 1h5m-5 8h5m-5 10h5m-5 10h5m-5 8h5m-5 2h5m-5 1h5m-5 16h5m-5 3h5m3 -47h5m-5 1h5m-5 10h5m-5 0h5m-5 13h5m-5 24h5m-5 3h5m-5 6h5m6 -91h5m-5 15h5m-5 5h5m-5 23h5m-5 6h5m-5 1h5m-5 29h5m-5 4h5m-5 20h5m-4 163h5m-4 -233h5m-5 59h5m-4 -77h5m-5 7h5m-5 30h5m-5 14h5m-4 -146h5m-5 73h5m-5 6h5m-5 4h5m-5 10h5m-5 63h5m-5 12h5m-5 2h5m-5 43h5m-4 -128h5m-5 4h5m-5 47h5m-5 0h5m-5 8h5m-5 22h5m-5 31h5m-5 2h5m-5 16h5m-5 6h5m0 -128h5m-5 0h5m-5 24h5m-5 44h5m-4 -99h5m-5 8h5m-5 43h5m-5 9h5m-5 7h5m-3 -6h5m-3 81h5m-4 -163h5m-5 80h5m-5 6h5m-5 43h5m-5 0h5m-5 2h5m-5 18h5m-2 -100h5m-5 17h5m-5 13h5m-5 2h5m-5 0h5m-5 5h5m-5 11h5m-5 14h5m-5 3h5m-5 16h5m-5 7h5m-5 10h5m-5 4h5m-3 -141h5m-5 16h5m-5 4h5m-5 92h5m-5 4h5m-5 39h5m-1 3h5m-5 15h5m-5 8h5m1 -201h5m-5 149h5m-5 5h5m-5 18h5m-5 22h5m-5 31h5m0 -191h5m-5 5h5m-5 15h5m-5 5h5m-5 3h5m-5 13h5m-5 0h5m-5 5h5m-5 1h5m-5 24h5m-5 0h5m-5 3h5m-5 7h5m-5 23h5m-4 -164h5m-5 23h5m-5 53h5m-4 -96h5m-5 54h5m-5 4h5m-5 50h5m-5 4h5m-5 43h5m-3 -104h5m-5 63h5m-4 -42h5m-4 -120h5m1 124h5m-5 27h5m-5 85h5m-2 -83h5m-5 67h5m-3 -203h5m-5 29h5m-5 18h5m-5 26h5m-5 4h5m-5 3h5m-5 2h5m-5 9h5m-5 3h5m-5 13h5m-5 90h5m-3 -197h5m-5 109h5m-5 12h5m-5 4h5m-5 2h5m-5 1h5m-5 1h5m-5 2h5m-5 0h5m-5 4h5m-5 5h5m-5 5h5m-5 10h5m-5 4h5m-5 4h5m-5 4h5m-5 0h5m-3 -157h5m-5 9h5m-5 0h5m-5 38h5m-5 13h5m-5 10h5m-5 2h5m-5 34h5m-5 5h5m-5 4h5m-5 45h5m-5 10h5m-5 4h5m-5 7h5m-5 6h5m-1 -146h5m-5 10h5m-2 7h5m-5 11h5m-5 6h5m-3 -31h5m-5 5h5m-4 -74h5m-5 3h5m-5 3h5m-5 3h5m-5 9h5m-5 2h5m-5 3h5m-5 63h5m-5 3h5m-5 15h5m-5 2h5m-5 4h5m-5 50h5m-3 -154h5m-5 38h5m-5 28h5m-5 33h5m-5 0h5m-4 -43h5m-5 15h5m-5 48h5m-5 41h5m-2 44h5m-3 -204h5m-5 44h5m-5 2h5m-1 -15h5m-5 11h5m-5 33h5m-5 39h5m-5 16h5m-5 13h5m-5 12h5m2 -111h5m-5 0h5m-4 -38h5m-5 14h5m-5 25h5m-5 5h5m-5 20h5m-5 12h5m-5 31h5m-2 -164h5m-5 35h5m-5 43h5m-5 3h5m-5 53h5m-5 4h5m-5 2h5m-5 13h5m3 -55h5m-5 1h5m-5 13h5m-5 16h5m-5 13h5m-3 -158h5m-5 111h5m-5 13h5m11 -178h5m-5 5h5m-5 163h5m-5 46h5m-5 42h5m-5 30h5m-5 27h5m1 -254h5m-5 39h5m-5 11h5m-5 2h5m-5 10h5m-5 8h5m-4 64h5m6 -193h5m-5 36h5m-5 0h5m-5 70h5m-5 0h5m-5 3h5m-5 19h5m-5 24h5m-5 1h5m-5 7h5m-5 14h5m-5 0h5m-5 5h5m-5 34h5m-5 23h5m-3 -189h5m-5 124h5m0 -62h5m-5 47h5m-5 38h5m-2 68h5m2 -88h5m-5 8h5m-5 23h5m-5 6h5m4 -106h5m-5 37h5m5 -113h5m-5 68h5m-5 15h5m-5 1h5m-5 63h5m-5 27h5m-4 -146h5m-5 21h5m-5 10h5m-5 12h5m-5 10h5m-5 5h5m-5 11h5m-5 2h5m7 -31h5m-1 -132h5m-5 23h5m-5 18h5m-5 12h5m-5 26h5m-5 16h5m-5 13h5m-5 110h5m-5 24h5m-5 2h5m-5 18h5m-5 12h5m-5 7h5m-5 17h5m-5 12h5m1 -272h5m-5 168h5m-5 6h5m1 -193h5m-5 98h5m-5 7h5m-5 15h5m-4 146h5m-5 30h5m-3 -269h5m-5 23h5m-5 37h5m-5 4h5m-5 44h5m-5 3h5m-5 50h5m0 -19h5m-5 4h5m1 -75h5m-5 3h5m-5 20h5m0 30h5m-3 -35h5m-5 67h5m10 -194h5m-5 11h5m-5 1h5m-5 46h5m5 17h5m-5 7h5m-5 10h5m-5 2h5m-5 8h5m-5 52h5m-5 44h5m5 -206h5m-5 22h5m-5 15h5m-5 30h5m-5 10h5m-5 5h5m-5 15h5m-5 11h5m-5 23h5m-5 27h5m-5 17h5m-1 -192h5m-5 175h5m-2 -214h5m-5 4h5m-5 12h5m-5 1h5m-5 1h5m-5 24h5m-5 18h5m-5 11h5m-5 7h5m-5 13h5m-5 0h5m-5 11h5m-5 0h5m-5 9h5m-5 3h5m-5 3h5m-5 2h5m-5 5h5m-5 19h5m-5 9h5m-5 0h5m-5 21h5m-5 48h5m-5 15h5m-5 2h5m-5 6h5m-5 15h5m-5 3h5m-5 1h5m-5 14h5m-5 18h5m-5 28h5m-5 3h5m9 -170h5m-5 15h5m25 -169h5m-5 150h5m-5 7h5m-1 -112h5m-5 67h5m-5 9h5m-5 115h5m0 -76h5m-5 90h5m11 -174h5m18 -190h5m-5 98h5m-5 23h5m-5 19h5m13 -112h5m33 -29h5m-5 187h5m33 -184h5m-5 66h5m-5 6h5m-5 33h5m-5 78h5m-5 19h5m-5 11h5m5 -152h5m9 163h5m12 -218h5m-2 167h5"/><path d="M251 1223h5m4 154h5m-5 12h5m8 14h5m4 6h5m-1 -30h5m-3 -53h5m-5 72h5m-5 12h5m-5 8h5m-5 9h5m-5 23h5m-4 -92h5m-5 2h5m-5 15h5m-5 10h5m-5 18h5m-5 6h5m-5 5h5m-5 1h5m-5 17h5m-5 0h5m-3 -120h5m-5 55h5m-4 19h5m-5 3h5m-5 13h5m-3 -51h5m-5 6h5m-5 20h5m-5 30h5m-5 21h5m-4 -78h5m-5 51h5m-5 14h5m-5 0h5m-4 -105h5m-5 111h5m-5 30h5m-5 16h5m0 -36h5m-5 9h5m-5 1h5m-4 -137h5m-5 16h5m-5 30h5m-5 4h5m-5 11h5m-5 12h5m-5 18h5m-5 4h5m-4 17h5m-5 4h5m-5 20h5m-5 26h5m-3 -34h5m-5 13h5m-4 -48h5m-3 -21h5m-5 7h5m-5 5h5m-5 16h5m-4 -12h5m-4 9h5m-5 6h5m-5 17h5m-4 -92h5m-5 11h5m-5 21h5m-5 20h5m-5 7h5m-4 -20h5m-5 2h5m-5 11h5m-5 9h5m-5 1h5m-5 24h5m-1 -685h5m-5 645h5m-5 62h5m-5 16h5m-5 18h5m-4 -148h5m-5 5h5m-5 5h5m-5 3h5m-5 19h5m-5 9h5m-5 0h5m-5 3h5m-5 4h5m-5 3h5m-5 0h5m-5 1h5m-5 11h5m-5 7h5m-5 13h5m-5 14h5m-5 64h5m-4 -95h5m-5 41h5m-4 -74h5m-5 18h5m-5 4h5m-5 8h5m-5 58h5m-5 30h5m-2 -128h5m-5 8h5m-5 17h5m-5 16h5m-5 12h5m-5 6h5m-5 2h5m-5 1h5m-4 -113h5m-5 9h5m-5 32h5m-5 30h5m-5 9h5m-5 2h5m-5 18h5m-5 30h5m-5 6h5m-5 15h5m-3 -173h5m-5 95h5m-5 9h5m-5 21h5m-5 58h5m-3 -72h5m-5 18h5m-4 -87h5m-5 2h5m-5 67h5m-5 17h5m-4 -56h5m-5 29h5m-5 40h5m-4 -101h5m-5 36h5m-5 32h5m-5 26h5m-5 2h5m-5 49h5m-5 8h5m-4 -168h5m-5 3h5m-5 17h5m-5 2h5m-5 9h5m-5 13h5m-5 7h5m-5 25h5m-5 16h5m-5 2h5m-5 4h5m-5 7h5m-5 1h5m-5 8h5m-3 -25h5m-5 6h5m-4 -35h5m-5 113h5m-5 13h5m-3 -182h5m-5 13h5m-5 0h5m-5 14h5m-5 13h5m-5 158h5m-5 3h5m-1 -150h5m-5 13h5m-5 10h5m-5 60h5m-5 2h5m-5 27h5m-5 0h5m-5 6h5m-5 61h5m-5 6h5m-4 -235h5m-5 3h5m-5 11h5m-5 2h5m-5 1h5m-5 12h5m-5 4h5m-5 4h5m-5 7h5m-5 14h5m-5 4h5m-5 21h5m-5 7h5m-5 5h5m-5 2h5m-5 2h5m-5 6h5m-5 4h5m-5 6h5m-5 12h5m-5 13h5m-5 10h5m-5 4h5m-3 -100h5m-5 78h5m-3 -100h5m-5 5h5m-3 31h5m-5 14h5m-5 4h5m-5 20h5m-5 15h5m-5 7h5m-4 -164h5m-5 17h5m-5 64h5m-5 24h5m-5 33h5m-5 13h5m-4 -111h5m-5 18h5m-5 24h5m-5 0h5m-5 9h5m-5 43h5m-5 64h5m-5 2h5m-5 8h5m-5 33h5m-3 -157h5m-4 52h5m-5 10h5m-4 -36h5m-4 -145h5m-5 11h5m-5 43h5m-5 74h5m-5 5h5m-5 33h5m-5 10h5m-5 1h5m-5 128h5m2 -147h5m-5 9h5m-5 5h5m-3 -101h5m-5 19h5m-5 7h5m-5 2h5m-5 0h5m-5 2h5m-5 1h5m-5 10h5m-5 7h5m-5 2h5m-5 3h5m-5 3h5m-5 5h5m-5 4h5m-5 1h5m-5 2h5m-5 3h5m-5 3h5m-5 49h5m-5 7h5m-5 0h5m-5 17h5m-2 -139h5m-5 3h5m-5 24h5m-5 3h5m-5 1h5m-5 7h5m-5 15h5m-5 1h5m-5 5h5m-5 15h5m-5 47h5m-5 9h5m-5 8h5m-5 4h5m-4 -103h5m-5 18h5m-5 2h5m-5 4h5m-5 21h5m-5 20h5m-5 14h5m-5 0h5m-5 12h5m-5 28h5m-4 -239h5m-5 3h5m-5 8h5m-5 27h5m-4 140h5m-4 -167h5m-5 30h5m-5 0h5m-5 77h5m-5 29h5m-5 35h5m-5 38h5m-5 42h5m-5 2h5m-5 40h5m-4 -189h5m-5 93h5m-5 12h5m-5 22h5m-5 10h5m-4 -241h5m-5 10h5m-5 19h5m-5 8h5m-5 15h5m-5 12h5m-5 26h5m-4 -18h5m-5 10h5m-5 13h5m-5 20h5m-5 8h5m-5 10h5m-5 26h5m-5 1h5m-5 2h5m-5 4h5m-5 18h5m-5 1h5m-5 8h5m-5 23h5m-3 -139h5m-5 78h5m-4 -127h5m-5 238h5m-4 -234h5m-5 8h5m-5 6h5m-5 42h5m-5 33h5m-5 5h5m-5 3h5m-5 4h5m-5 6h5m-5 9h5m-5 15h5m-5 18h5m-5 42h5m-1 -154h5m-5 6h5m-5 12h5m-5 8h5m-5 6h5m-5 2h5m-5 3h5m-5 3h5m-5 7h5m-5 18h5m-5 8h5m-5 2h5m-5 21h5m-5 8h5m-5 1h5m-5 1h5m-5 12h5m-5 5h5m-5 0h5m-2 30h5m-5 10h5m-4 -326h5m-5 12h5m-5 21h5m-5 34h5m-5 6h5m-5 11h5m-5 13h5m-5 6h5m-5 3h5m-5 9h5m-5 15h5m-5 6h5m-5 1h5m-5 9h5m-5 11h5m-5 29h5m-5 1h5m-5 12h5m-5 3h5m-5 2h5m-5 12h5m-5 21h5m-5 15h5m-5 12h5m-5 28h5m-5 20h5m-5 11h5m-5 2h5m-5 41h5m-4 -179h5m-5 13h5m-5 34h5m-5 3h5m-5 9h5m-5 29h5m-4 -227h5m-5 34h5m-5 44h5m-5 7h5m-5 25h5m-5 2h5m-5 74h5m-5 60h5m-4 -204h5m-5 48h5m-5 42h5m-5 60h5m-4 -147h5m-5 10h5m-5 189h5m-3 -237h5m-5 39h5m-5 39h5m-5 30h5m-5 37h5m-5 8h5m-4 -60h5m-5 9h5m-5 31h5m-5 4h5m-5 2h5m-5 2h5m-5 10h5m-5 15h5m-5 21h5m-5 0h5m-5 30h5m-5 22h5m-4 -295h5m-5 173h5m-5 31h5m-5 61h5m-5 7h5m-5 123h5m-4 -338h5m-3 57h5m-5 35h5m-5 1h5m-5 4h5m-5 14h5m-5 5h5m-5 9h5m-5 19h5m-5 26h5m-2 -166h5m-5 17h5m-5 52h5m-5 100h5m-5 31h5m-5 21h5m-5 27h5m-3 -165h5m-5 67h5m-5 9h5m-5 13h5m-3 -153h5m-5 23h5m-5 59h5m-5 38h5m-5 187h5m-3 -301h5m-5 83h5m-5 19h5m-5 10h5m-5 1h5m-5 7h5m-5 3h5m-5 9h5m-5 11h5m-4 -282h5m-5 75h5m-4 14h5m-5 74h5m-5 2h5m-5 27h5m-5 5h5m-5 13h5m-5 4h5m-5 4h5m-5 86h5m-5 21h5m-5 18h5m-5 16h5m-2 -278h5m-5 20h5m-5 5h5m-5 17h5m-5 6h5m-5 17h5m-5 52h5m-5 11h5m-5 20h5m-5 3h5m-5 2h5m-5 19h5m-5 14h5m-5 5h5m-5 1h5m-5 1h5m-5 61h5m-5 37h5m-5 18h5m-4 -249h5m-5 15h5m-5 8h5m-5 6h5m-5 1h5m-5 3h5m-5 1h5m-5 1h5m-5 11h5m-5 2h5m-5 1h5m-5 8h5m-5 11h5m-5 7h5m-5 2h5m-5 2h5m-5 1h5m-5 22h5m-5 23h5m-5 21h5m-4 -162h5m-5 156h5m-4 -200h5m-5 232h5m-5 5h5m-4 -125h5m-5 4h5m-5 3h5m-5 23h5m-5 1h5m-5 17h5m-5 3h5m-5 23h5m-5 8h5m-5 3h5m-5 46h5m-4 -214h5m-5 14h5m-5 8h5m-5 1h5m-5 20h5m-5 0h5m-5 0h5m-5 4h5m-5 3h5m-5 9h5m-5 5h5m-5 12h5m-5 1h5m-5 1h5m-5 3h5m-5 4h5m-5 11h5m-5 1h5m-5 1h5m-5 10h5m-5 2h5m-5 6h5m-5 4h5m-5 5h5m-5 11h5m-5 1h5m-5 2h5m-5 5h5m-5 0h5m-5 11h5m-5 7h5m-5 6h5m-5 8h5m-5 1h5m-5 3h5m-5 8h5m-5 7h5m-5 2h5m-5 6h5m-5 3h5m-3 -172h5m-5 81h5m-5 44h5m-1 -100h5m-5 26h5m-4 -64h5m-5 162h5m-4 -227h5m-5 3h5m-5 3h5m-5 13h5m-5 24h5m-5 10h5m-5 5h5m-5 2h5m-5 2h5m-5 40h5m-5 1h5m-5 0h5m-5 3h5m-5 1h5m-5 1h5m-5 17h5m-5 8h5m-5 6h5m-5 2h5m-5 1h5m-5 1h5m-5 63h5m-5 86h5m-5 23h5m-2 -275h5m-5 5h5m-5 13h5m-5 6h5m-5 12h5m-5 14h5m-5 3h5m-5 7h5m-5 2h5m-5 13h5m-5 3h5m-5 4h5m-5 0h5m-5 1h5m-5 4h5m-5 3h5m-5 10h5m-5 1h5m-5 100h5m-4 -249h5m-5 35h5m-5 10h5m-5 5h5m-5 40h5m-5 3h5m-5 11h5m-5 15h5m-5 58h5m-5 28h5m-3 -142h5m-5 43h5m-5 9h5m-5 91h5m-5 7h5m-5 31h5m-2 -219h5m-5 22h5m-3 -33h5m-5 41h5m-5 41h5m-5 19h5m-5 10h5m-5 5h5m-5 20h5m-4 -122h5m-5 2h5m-5 28h5m-5 6h5m-5 23h5m-5 48h5m-5 7h5m-5 0h5m-5 1h5m-5 4h5m-5 2h5m-5 16h5m-5 7h5m-5 11h5m-5 24h5m-5 25h5m-5 5h5m-5 4h5m-5 12h5m-5 4h5m-5 10h5m-5 41h5m-3 -227h5m-5 66h5m-5 8h5m-5 143h5m-5 30h5m-3 -164h5m-5 8h5m-5 35h5m-5 4h5m-5 14h5m-5 47h5m-4 -311h5m-5 19h5m-5 10h5m-5 37h5m-5 10h5m-5 22h5m-5 44h5m-5 23h5m-5 7h5m-5 15h5m-5 17h5m-5 21h5m-5 8h5m-5 3h5m-5 34h5m-5 14h5m-5 18h5m-5 10h5m-5 6h5m-5 0h5m-5 45h5m-5 51h5m-4 -388h5m-5 29h5m-5 39h5m-5 41h5m-5 56h5m-5 13h5m-5 2h5m-5 27h5m-5 42h5m-4 -219h5m-5 34h5m-5 8h5m-5 1h5m-5 0h5m-5 3h5m-5 10h5m-5 4h5m-5 49h5m-5 9h5m-5 1h5m-5 87h5m-3 -128h5m-5 6h5m-5 30h5m-5 2h5m-5 31h5m-5 74h5m-4 -133h5m-3 -95h5m-3 57h5m-5 53h5m-5 11h5m-3 -141h5m-5 19h5m-5 11h5m-5 5h5m-5 55h5m-5 3h5m-5 64h5m-5 26h5m-2 -167h5m-5 0h5m-5 56h5m-5 19h5m-5 2h5m-5 9h5m-5 11h5m-5 17h5m-5 0h5m-5 13h5m-5 29h5m-5 89h5m-5 16h5m-2 -245h5m-5 44h5m-5 13h5m-5 3h5m-5 1h5m-5 21h5m-5 12h5m-5 77h5m-5 21h5m-2 -258h5m-5 40h5m-5 47h5m-5 38h5m-5 7h5m-5 34h5m-5 28h5m-5 8h5m-5 47h5m-5 17h5m-5 15h5m-5 9h5m-4 -195h5m-5 110h5m-5 22h5m-5 25h5m-5 22h5m-4 -275h5m-5 39h5m-5 86h5m-5 129h5m-5 65h5m-5 12h5m-4 -124h5m-5 8h5m-5 0h5m-5 6h5m-5 2h5m-5 14h5m-5 4h5m-5 84h5m-4 -292h5m-5 11h5m-5 4h5m-5 18h5m-5 18h5m-5 2h5m-5 5h5m-5 16h5m-5 2h5m-5 5h5m-5 5h5m-5 25h5m-5 12h5m-5 1h5m-5 6h5m-5 57h5m-5 20h5m-5 1h5m-5 16h5m-5 35h5m-5 3h5m-5 6h5m-5 6h5m-5 2h5m-5 2h5m-4 -239h5m-4 -178h5m-5 219h5m-5 21h5m-5 5h5m-5 17h5m-5 7h5m-5 2h5m-5 2h5m-5 2h5m-5 34h5m-5 63h5m-4 -230h5m-5 5h5m-4 0h5m-5 84h5m-5 7h5m-5 5h5m-5 3h5m-5 3h5m-5 16h5m-5 0h5m-5 4h5m-5 7h5m-5 14h5m-5 15h5m-5 2h5m-5 3h5m-5 3h5m-5 4h5m-5 2h5m-4 -140h5m-5 2h5m-5 117h5m-3 209h5m-3 -410h5m-5 3h5m-5 14h5m-5 3h5m-5 16h5m-5 2h5m-5 7h5m-5 15h5m-5 2h5m-5 69h5m-5 15h5m-5 33h5m-4 -160h5m-5 116h5m-5 15h5m-5 6h5m-5 1h5m-5 3h5m-5 3h5m-5 15h5m-5 15h5m-5 3h5m-5 9h5m-5 7h5m-5 37h5m-5 25h5m-4 -36h5m-4 -228h5m-5 129h5m-3 -112h5m-5 48h5m-5 18h5m-5 17h5m-5 6h5m-5 3h5m-5 5h5m-5 7h5m-5 26h5m-5 0h5m-5 14h5m-5 135h5m-4 -248h5m-5 39h5m-5 42h5m-5 19h5m-4 -42h5m-5 38h5m-5 0h5m-5 12h5m-5 15h5m-5 18h5m-5 10h5m-5 10h5m-5 29h5m-5 7h5m-5 3h5m-4 -266h5m-5 49h5m-5 10h5m-5 13h5m-5 81h5m-5 45h5m-5 7h5m-5 1h5m-5 18h5m-4 -208h5m-5 15h5m-5 98h5m-5 5h5m-5 18h5m-5 10h5m-5 20h5m-4 -60h5m-5 29h5m-3 55h5m-5 57h5m-5 11h5m-5 7h5m-4 -265h5m-5 29h5m-5 49h5m-5 10h5m-5 41h5m-5 29h5m-5 1h5m-5 113h5m-4 -539h5m-5 33h5m-5 72h5m-5 140h5m-5 4h5m-5 3h5m-5 32h5m-5 3h5m-5 12h5m-5 11h5m-5 50h5m-5 6h5m-5 65h5m-5 27h5m-5 7h5m-5 40h5m-5 66h5m-5 3h5m-5 39h5m-5 2h5m-4 -317h5m-5 22h5m-5 12h5m-5 6h5m-5 3h5m-5 14h5m-5 9h5m-5 139h5m-5 51h5m-5 30h5m-5 25h5m-4 -273h5m-5 14h5m-5 39h5m-5 70h5m-5 14h5m-5 2h5m-5 23h5m-5 2h5m-5 25h5m-4 -227h5m-5 25h5m-5 9h5m-4 142h5m-5 9h5m-4 -132h5m-4 -65h5m-4 -113h5m-5 35h5m-5 28h5m-5 4h5m-5 45h5m-5 11h5m-5 12h5m-5 47h5m-5 2h5m-5 0h5m-5 28h5m-5 3h5m-5 3h5m-5 3h5m-5 14h5m-5 7h5m-5 18h5m-5 0h5m-5 19h5m-5 4h5m-5 15h5m-5 61h5m-5 4h5m-5 26h5m-5 21h5m-5 22h5m-5 33h5m-5 11h5m-5 1h5m-4 -286h5m-5 34h5m-5 28h5m-5 146h5m-1 -134h5m-3 31h5m-4 -163h5m-5 17h5m-5 9h5m-5 2h5m-5 14h5m-5 26h5m-5 1h5m-5 1h5m-5 11h5m-5 15h5m-5 5h5m-5 17h5m-5 8h5m-5 9h5m-5 2h5m-5 6h5m-5 1h5m-5 1h5m-5 6h5m-5 2h5m-5 5h5m-5 2h5m-5 28h5m-5 22h5m-4 -189h5m-5 51h5m-5 1h5m-5 7h5m-5 56h5m-5 79h5m-5 29h5m-4 -277h5m-5 3h5m-5 3h5m-5 9h5m-5 4h5m-5 19h5m-5 3h5m-5 10h5m-5 0h5m-5 17h5m-5 1h5m-5 5h5m-5 2h5m-5 1h5m-5 2h5m-5 4h5m-5 1h5m-5 12h5m-5 5h5m-5 1h5m-5 4h5m-5 3h5m-5 0h5m-5 2h5m-5 1h5m-5 8h5m-5 0h5m-5 6h5m-5 4h5m-5 6h5m-5 3h5m-5 1h5m-5 3h5m-5 6h5m-5 3h5m-5 1h5m-5 12h5m-5 3h5m-5 13h5m-5 8h5m-5 93h5m-5 3h5m1 -258h5m-5 9h5m-5 15h5m-5 5h5m-5 7h5m-5 1h5m-5 9h5m-5 3h5m-5 11h5m-5 7h5m-5 20h5m-5 5h5m-5 28h5m-5 37h5m-5 76h5m-4 -213h5m-5 6h5m-5 21h5m-5 64h5m-5 8h5m-4 -63h5m-5 36h5m-5 2h5m-5 10h5m-5 5h5m-5 1h5m-5 0h5m-5 3h5m-4 37h5m-2 -190h5m-5 59h5m-5 21h5m-5 1h5m-5 0h5m-5 44h5m-5 8h5m-5 81h5m-3 14h5m-4 -134h5m-5 44h5m-5 90h5m-5 8h5m-5 4h5m-5 31h5m-4 -343h5m-5 54h5m-5 45h5m-5 75h5m-5 15h5m-5 20h5m-5 63h5m-5 32h5m-5 3h5m-5 7h5m-5 63h5m-2 -313h5m-5 191h5m-5 48h5m-4 -169h5m-5 32h5m-5 171h5m-5 62h5m-5 120h5m-3 -420h5m-5 29h5m-5 38h5m-5 2h5m-5 8h5m-5 12h5m-5 1h5m-5 1h5m-5 5h5m-5 3h5m-5 23h5m-5 7h5m-5 2h5m-5 25h5m-5 3h5m-5 11h5m-5 3h5m-5 5h5m-5 11h5m-5 19h5m-5 14h5m-5 11h5m-5 16h5m-5 8h5m-5 1h5m-5 3h5m-4 -213h5m-5 77h5m-5 3h5m-4 -81h5m-5 42h5m-5 57h5m-5 85h5m-4 -126h5m-5 26h5m-5 31h5m-3 -59h5m-5 4h5m-5 3h5m-5 12h5m-5 116h5m-4 -356h5m-5 76h5m-5 0h5m-5 93h5m-5 198h5m-4 -270h5m-5 7h5m-5 17h5m-5 4h5m-5 45h5m-5 5h5m-5 64h5m-5 58h5m-5 12h5m-2 -200h5m-5 60h5m-5 22h5m-5 137h5m-5 3h5m-5 3h5m-4 -113h5m-2 -104h5m-5 1h5m-5 3h5m-5 12h5m-5 4h5m-5 5h5m-5 6h5m-5 5h5m-5 6h5m-5 7h5m-5 3h5m-5 22h5m-5 4h5m-5 4h5m-5 1h5m-5 22h5m-5 21h5m-5 3h5m-5 4h5m-5 1h5m-5 3h5m-5 0h5m-5 10h5m-5 10h5m-5 4h5m-5 2h5m-5 1h5m-5 2h5m-5 8h5m-5 5h5m-5 2h5m-5 8h5m-5 1h5m-5 3h5m-5 7h5m-5 2h5m-5 7h5m-5 2h5m-5 26h5m-5 5h5m-4 -219h5m-5 139h5m-1 -84h5m-5 23h5m-5 36h5m-5 4h5m-5 34h5m-5 5h5m-5 25h5m-3 -355h5m-5 16h5m-5 71h5m-4 28h5m-5 10h5m-5 100h5m-5 43h5m-5 10h5m-5 4h5m-5 17h5m-5 15h5m-5 49h5m-3 -196h5m-5 71h5m-5 11h5m-5 2h5m-5 2h5m-4 -306h5m-5 175h5m-5 36h5m-5 8h5m-5 16h5m-5 39h5m-5 3h5m-5 11h5m-3 -173h5m-5 271h5m-5 73h5m-3 -220h5m-5 7h5m-5 8h5m-5 12h5m-5 9h5m-5 3h5m-5 2h5m-5 1h5m-5 7h5m-5 0h5m-5 17h5m-5 0h5m-5 41h5m-5 5h5m-4 -206h5m-5 70h5m-5 3h5m-5 3h5m-5 8h5m-5 10h5m-5 2h5m-5 4h5m-5 2h5m-5 21h5m-5 13h5m-5 18h5m-5 4h5m-5 4h5m-5 16h5m-5 1h5m-5 3h5m-5 8h5m-5 9h5m-5 27h5m-5 5h5m-2 -161h5m-3 -77h5m-5 18h5m-5 11h5m-5 27h5m-5 3h5m-5 20h5m-5 35h5m-5 3h5m-5 8h5m-5 11h5m-5 4h5m-5 2h5m-5 0h5m-5 4h5m-5 40h5m-5 12h5m-5 1h5m-5 4h5m-5 64h5m-4 -238h5m-5 19h5m-5 16h5m-5 11h5m-5 25h5m-5 4h5m-5 29h5m-5 66h5m-5 61h5m-4 -149h5m-5 0h5m-5 133h5m-4 -219h5m-5 33h5m-5 24h5m-5 86h5m-3 -60h5m-5 16h5m-5 6h5m-5 32h5m-5 13h5m-5 7h5m-5 50h5m-5 0h5m-2 -215h5m-5 14h5m-5 4h5m-5 10h5m-5 34h5m-5 12h5m-5 3h5m-5 101h5m-5 9h5m-5 22h5m-5 8h5m-5 17h5m-5 37h5m-5 49h5m-5 33h5m-5 17h5m-4 -372h5m-5 16h5m-5 3h5m-5 11h5m-5 16h5m-5 17h5m-5 2h5m-5 25h5m-5 2h5m-5 18h5m-5 9h5m-5 47h5m-5 42h5m-5 12h5m-5 34h5m-5 8h5m-5 8h5m-3 -262h5m-5 6h5m-5 61h5m-5 5h5m-5 12h5m-5 25h5m-5 21h5m-5 8h5m-5 2h5m-5 7h5m-5 3h5m-5 2h5m-5 1h5m-5 2h5m-5 8h5m-5 8h5m-5 45h5m-5 4h5m-5 1h5m-5 14h5m-5 73h5m-3 -237h5m-5 83h5m-3 -126h5m-5 21h5m-5 15h5m-5 16h5m-5 60h5m-5 84h5m-5 3h5m-5 23h5m0 -294h5m-5 19h5m-5 12h5m-5 18h5m-5 25h5m-5 2h5m-5 3h5m-5 4h5m-5 18h5m-5 24h5m-5 2h5m-5 1h5m-5 6h5m-5 11h5m-5 28h5m-5 7h5m-5 76h5m-4 -190h5m-5 3h5m-5 18h5m-5 22h5m-5 55h5m-5 140h5m-3 -226h5m-5 43h5m-5 36h5m-5 13h5m-4 -103h5m-5 57h5m-5 62h5m-5 9h5m-5 27h5m-3 -208h5m-5 18h5m-5 26h5m-5 0h5m-5 44h5m-5 1h5m-5 11h5m-5 6h5m-5 0h5m-5 1h5m-5 1h5m-5 6h5m-5 3h5m-5 6h5m-5 6h5m-5 10h5m-5 4h5m-5 1h5m-5 2h5m-5 0h5m-5 3h5m-5 4h5m-4 -129h5m-5 13h5m-5 2h5m-5 13h5m-5 13h5m-5 5h5m-5 5h5m-5 46h5m-5 23h5m-5 75h5m-3 -210h5m-5 4h5m-5 1h5m-5 8h5m-5 7h5m-5 9h5m-5 1h5m-5 6h5m-5 6h5m-5 5h5m-5 10h5m-5 2h5m-5 20h5m-5 30h5m-4 -89h5m-5 3h5m-5 8h5m-5 30h5m-5 4h5m-5 1h5m-5 12h5m-5 0h5m-5 2h5m-5 11h5m-5 2h5m-5 1h5m-5 3h5m-5 1h5m-5 0h5m-5 5h5m-5 2h5m-5 3h5m-5 9h5m-5 36h5m-5 9h5m-5 110h5m-4 -188h5m-5 18h5m-5 3h5m-5 24h5m-5 12h5m-5 16h5m-4 -37h5m-5 46h5m-5 0h5m-5 2h5m-5 1h5m-5 23h5m-5 31h5m-5 3h5m-5 11h5m-5 9h5m-5 22h5m-3 -246h5m-5 39h5m-5 26h5m-5 21h5m-5 40h5m-5 25h5m-5 35h5m-5 43h5m-4 -217h5m-5 11h5m-5 3h5m-5 17h5m-5 19h5m-5 2h5m-5 3h5m-5 5h5m-5 4h5m-5 4h5m-5 6h5m-5 5h5m-5 7h5m-4 -21h5m-4 -92h5m-5 40h5m-5 63h5m-5 103h5m-5 49h5m-5 6h5m-3 -105h5m-4 -65h5m-5 32h5m-5 0h5m-5 13h5m-5 13h5m-4 -195h5m-5 49h5m-5 14h5m-5 8h5m-5 16h5m-5 5h5m-5 9h5m-5 6h5m-5 15h5m-5 1h5m-5 1h5m-5 4h5m-5 3h5m-5 19h5m-5 0h5m-5 4h5m-5 0h5m-5 5h5m-5 7h5m-5 26h5m-5 19h5m-5 3h5m-5 4h5m-5 51h5m-4 -265h5m-5 92h5m-5 216h5m-4 -215h5m-5 19h5m-5 30h5m-5 11h5m-5 14h5m-5 21h5m-5 82h5m-4 -139h5m-5 66h5m-4 -147h5m-5 39h5m-5 55h5m-5 1h5m-5 11h5m-4 -88h5m-5 123h5m-5 22h5m-1 -100h5m-5 46h5m-4 -143h5m-5 1h5m-5 56h5m-5 5h5m0 -87h5m-5 16h5m-5 206h5m-5 24h5m-4 -28h5m-4 -146h5m-5 41h5m-5 8h5m-5 4h5m-5 24h5m-5 12h5m-5 13h5m-5 9h5m-5 3h5m-5 2h5m-5 39h5m1 -237h5m-5 26h5m-5 24h5m-5 11h5m-5 7h5m-5 1h5m-5 15h5m-5 38h5m-5 15h5m-5 3h5m-5 8h5m-5 1h5m-5 2h5m-5 27h5m-5 15h5m-5 9h5m-5 8h5m-5 38h5m-4 -168h5m-4 -75h5m-5 83h5m-5 151h5m-5 16h5m-4 -376h5m-5 77h5m-5 82h5m-5 58h5m-5 41h5m-5 15h5m-5 2h5m-3 -138h5m-5 65h5m-5 37h5m-5 51h5m-5 6h5m-5 42h5m-5 19h5m-5 15h5m-5 10h5m-3 -166h5m-5 47h5m-5 54h5m-5 38h5m-4 -128h5m-5 12h5m-5 0h5m-5 18h5m-5 0h5m-5 8h5m-5 27h5m-5 14h5m-5 55h5m-4 -139h5m-5 4h5m-5 18h5m-5 10h5m-5 33h5m-5 2h5m-5 9h5m-5 5h5m-5 25h5m-5 24h5m-5 8h5m-4 -147h5m-5 35h5m-5 10h5m-4 -124h5m-5 19h5m-5 32h5m-5 13h5m-5 9h5m-5 16h5m-5 6h5m-5 3h5m-5 13h5m-5 1h5m-5 15h5m-5 14h5m-5 5h5m-5 4h5m-5 7h5m-5 21h5m-5 8h5m-5 13h5m-5 9h5m-4 -123h5m-5 34h5m-5 8h5m-5 1h5m-5 10h5m-4 -278h5m-5 163h5m-5 17h5m-5 1h5m-5 15h5m-5 20h5m-5 47h5m-5 31h5m-5 37h5m-5 40h5m-5 66h5m-3 -350h5m-5 227h5m-5 40h5m-5 12h5m-4 -243h5m-5 37h5m-5 17h5m-5 10h5m-5 4h5m-5 8h5m-5 2h5m-5 5h5m-5 0h5m-4 0h5m-5 79h5m-3 -106h5m-5 4h5m-5 4h5m-5 15h5m-5 3h5m-5 0h5m-5 11h5m-5 15h5m-5 7h5m-5 8h5m-5 27h5m-5 4h5m-5 2h5m-5 5h5m-5 3h5m-5 0h5m-5 16h5m-5 12h5m-5 2h5m-5 34h5m-5 6h5m-5 1h5m-5 23h5m-5 23h5m-5 17h5m-4 -284h5m-5 7h5m-5 74h5m-5 3h5m-5 62h5m-5 44h5m-5 16h5m-5 6h5m-5 11h5m-5 10h5m-5 11h5m-5 11h5m-4 -177h5m-5 58h5m-3 -5h5m-5 87h5m-4 -198h5m-5 28h5m-5 4h5m-5 3h5m-5 1h5m-5 19h5m-5 3h5m-5 22h5m-5 44h5m-5 10h5m-5 6h5m-5 2h5m-5 1h5m-5 10h5m-5 2h5m-5 3h5m-5 8h5m-5 16h5m-5 6h5m-5 47h5m-4 -259h5m-5 33h5m-5 2h5m-5 55h5m-4 5h5m-5 57h5m-5 5h5m-5 2h5m-4 -182h5m-5 133h5m-4 -69h5m-5 8h5m-5 18h5m-5 67h5m-5 70h5m-2 -131h5m-5 11h5m-5 55h5m-5 19h5m-5 3h5m-2 -125h5m-5 20h5m-5 11h5m-5 15h5m-5 16h5m-5 69h5m-5 70h5m-5 23h5m-5 39h5m-5 17h5m-4 -128h5m-4 -59h5m-4 -164h5m-5 4h5m-5 8h5m-5 7h5m-5 12h5m-5 1h5m-5 16h5m-5 9h5m-5 3h5m-5 1h5m-5 16h5m-5 14h5m-5 27h5m-5 2h5m-5 3h5m-5 12h5m-5 3h5m-5 3h5m-5 13h5m-5 5h5m-5 5h5m-5 1h5m-5 24h5m-5 5h5m-5 4h5m-5 14h5m-4 -284h5m-5 14h5m-5 0h5m-5 8h5m-5 59h5m-5 3h5m-5 16h5m-5 11h5m-5 11h5m-5 11h5m-5 16h5m-5 1h5m-5 38h5m-5 12h5m-5 12h5m-5 14h5m-5 5h5m-5 0h5m-5 0h5m-5 5h5m-5 10h5m-5 5h5m-5 16h5m-5 2h5m-5 1h5m-5 3h5m-5 8h5m-5 5h5m-5 7h5m-5 21h5m-5 8h5m-5 29h5m-5 43h5m-4 -233h5m-5 11h5m-5 4h5m-5 11h5m-5 12h5m-5 1h5m-5 5h5m-5 3h5m-5 13h5m-5 3h5m-5 0h5m-5 0h5m-5 7h5m-2 -164h5m-5 59h5m-5 7h5m-5 52h5m-5 3h5m-5 164h5m-4 -200h5m-5 4h5m-5 10h5m-5 15h5m-5 33h5m-5 14h5m-5 14h5m-5 11h5m-5 4h5m-5 0h5m-5 2h5m-5 3h5m-5 7h5m-5 18h5m-5 10h5m-5 29h5m-2 -265h5m-5 44h5m-5 2h5m-5 0h5m-5 10h5m-5 1h5m-5 8h5m-5 2h5m-5 5h5m-5 4h5m-5 20h5m-5 1h5m-5 6h5m-5 11h5m-5 34h5m-5 2h5m-5 9h5m-5 2h5m-5 61h5m-5 35h5m-4 -184h5m-5 108h5m-3 -155h5m-5 94h5m-5 30h5m-5 26h5m-5 43h5m-5 6h5m-5 40h5m-5 1h5m-2 -206h5m-5 11h5m-5 6h5m-5 14h5m-5 48h5m-4 -107h5m-5 200h5m-5 8h5m-5 54h5m-4 -271h5m-5 57h5m-5 16h5m-5 6h5m-5 17h5m-5 13h5m-5 10h5m-5 5h5m-5 4h5m-5 28h5m-5 7h5m-5 2h5m-5 59h5m-5 3h5m-3 -173h5m-5 178h5m-4 -417h5m-5 16h5m-5 8h5m-5 0h5m-5 12h5m-5 1h5m-5 2h5m-5 24h5m-5 18h5m-5 11h5m-5 14h5m-5 2h5m-5 9h5m-5 27h5m-5 12h5m-5 1h5m-5 8h5m-5 2h5m-5 15h5m-5 18h5m-5 12h5m-5 4h5m-5 31h5m-5 1h5m-5 16h5m-5 21h5m-5 9h5m-5 7h5m-5 30h5m-5 12h5m-5 10h5m-5 3h5m-5 45h5m-5 35h5m-4 -250h5m-5 50h5m-5 34h5m-5 34h5m-5 2h5m-5 10h5m-5 6h5m-5 7h5m-5 26h5m-5 0h5m-5 2h5m-5 18h5m-5 36h5m-4 -126h5m-5 33h5m-5 53h5m-4 -275h5m-5 45h5m-5 22h5m-5 14h5m-5 14h5m-5 3h5m-5 66h5m-5 17h5m-5 4h5m-4 -186h5m-5 27h5m-5 25h5m-5 8h5m-5 12h5m-5 9h5m-5 3h5m-5 6h5m-5 1h5m-5 16h5m-5 26h5m-5 5h5m-5 8h5m-5 20h5m-5 38h5m-5 22h5m-5 8h5m-5 17h5m-5 30h5m-5 25h5m-5 8h5m-5 40h5m-5 11h5m-5 11h5m-5 31h5m-4 -277h5m-5 30h5m-5 2h5m-5 32h5m-5 0h5m-5 1h5m-5 11h5m-5 3h5m-5 18h5m-5 0h5m-5 13h5m-5 6h5m-5 4h5m-5 4h5m-5 11h5m-5 4h5m-5 3h5m-5 3h5m-5 8h5m-5 2h5m-5 9h5m-5 10h5m-5 0h5m-5 2h5m-5 10h5m-5 1h5m-5 8h5m-5 2h5m-5 14h5m0 -193h5m-5 9h5m-5 6h5m-5 4h5m-5 6h5m-5 11h5m-5 10h5m-5 6h5m-5 5h5m-5 0h5m-5 40h5m-5 5h5m-4 -178h5m-5 18h5m-5 62h5m-4 36h5m-5 2h5m-5 24h5m-5 24h5m-5 8h5m-5 6h5m-5 18h5m-5 7h5m-4 -203h5m-5 48h5m-5 56h5m-5 44h5m-5 16h5m-5 35h5m-5 8h5m-5 16h5m1 -171h5m-5 18h5m-5 3h5m-5 8h5m-5 10h5m-5 11h5m-5 21h5m-5 1h5m-5 1h5m-5 2h5m-5 1h5m-5 0h5m-5 0h5m-5 1h5m-5 3h5m-5 4h5m-5 18h5m-5 8h5m-5 20h5m-5 23h5m-4 -223h5m-5 148h5m-4 4h5m-5 52h5m-5 10h5m-4 18h5m-3 -250h5m-5 94h5m-5 30h5m-5 59h5m-5 17h5m-5 20h5m-4 -112h5m-5 4h5m-5 36h5m-5 14h5m-5 4h5m-5 3h5m-4 -80h5m-5 32h5m-5 15h5m-5 5h5m-5 1h5m-5 22h5m-5 10h5m-5 5h5m-5 6h5m-4 -144h5m-5 123h5m-3 -151h5m-5 122h5m-5 16h5m-5 14h5m-5 70h5m-3 -227h5m-5 101h5m-5 77h5m-5 71h5m-5 24h5m-4 -195h5m-5 31h5m-5 4h5m-5 1h5m-5 4h5m-5 21h5m-4 -139h5m-5 40h5m-5 7h5m-5 9h5m-5 12h5m-5 54h5m-5 1h5m-5 10h5m-5 6h5m-5 8h5m-4 -89h5m-5 21h5m-5 39h5m-5 16h5m-5 18h5m-5 45h5m-4 -246h5m-5 50h5m-5 26h5m-5 58h5m-5 21h5m-5 4h5m-4 55h5m-4 -87h5m-5 3h5m-5 35h5m-5 21h5m-5 8h5m-5 10h5m-5 21h5m-3 -32h5m-5 4h5m-5 16h5m-5 0h5m-5 8h5m-5 15h5m-2 -105h5m-5 11h5m-5 8h5m-5 5h5m-5 2h5m-5 7h5m-5 35h5m-5 8h5m-5 2h5m-5 2h5m-5 77h5m-2 -234h5m-5 115h5m-5 83h5m-5 20h5m-5 3h5m-5 11h5m-5 23h5m-3 -239h5m-5 5h5m-5 23h5m-5 76h5m-5 12h5m-5 17h5m-4 -163h5m-5 6h5m-5 4h5m-5 5h5m-5 20h5m-5 8h5m-5 8h5m-5 10h5m-5 20h5m-5 4h5m-5 11h5m-5 13h5m-5 3h5m-5 2h5m-5 23h5m-5 8h5m-5 6h5m-5 1h5m-5 17h5m-5 6h5m-5 7h5m-5 5h5m-5 2h5m-5 0h5m-5 8h5m-5 10h5m-3 -339h5m-5 7h5m-5 6h5m-5 16h5m-5 49h5m-5 15h5m-5 2h5m-5 16h5m-5 1h5m-5 33h5m-5 2h5m-5 8h5m-5 3h5m-5 2h5m-5 15h5m-5 5h5m-5 30h5m-5 9h5m-5 10h5m-5 19h5m-5 23h5m-5 3h5m-5 23h5m-5 1h5m-5 28h5m-5 33h5m-5 28h5m-4 -166h5m-5 2h5m-5 28h5m-5 13h5m-5 19h5m-5 4h5m-5 2h5m-5 5h5m-3 -147h5m-5 16h5m-5 33h5m-5 69h5m-5 12h5m-5 44h5m-2 -127h5m-5 7h5m-5 0h5m-5 6h5m-5 13h5m-5 10h5m-5 8h5m-5 5h5m-5 9h5m-5 5h5m-5 3h5m-5 3h5m-5 5h5m-5 7h5m-5 1h5m-5 3h5m-5 4h5m-5 0h5m-5 4h5m-5 4h5m-5 8h5m-5 41h5m-5 3h5m-4 -170h5m-5 14h5m-5 21h5m-5 45h5m-4 -122h5m-5 23h5m-5 19h5m-5 10h5m-5 60h5m-5 6h5m-5 17h5m-5 55h5m-5 63h5m-2 -124h5m-4 -108h5m-4 39h5m-5 166h5m-3 -208h5m-5 14h5m-5 9h5m-5 0h5m-5 2h5m-5 10h5m-5 4h5m-5 0h5m-5 2h5m-5 1h5m-5 15h5m-5 12h5m-5 22h5m-5 4h5m-5 12h5m-5 0h5m-5 2h5m-5 8h5m-5 3h5m-5 4h5m-5 21h5m-4 -175h5m-5 48h5m-3 -117h5m-5 57h5m-5 7h5m-5 30h5m-5 33h5m-5 3h5m-5 49h5m-5 2h5m-5 45h5m-5 65h5m-5 16h5m-4 -189h5m-5 37h5m-5 18h5m-5 14h5m-5 11h5m-5 3h5m-5 3h5m-5 4h5m-5 3h5m-5 8h5m-4 -220h5m-5 133h5m-5 6h5m-5 17h5m-5 46h5m-3 12h5m-4 -107h5m-5 26h5m-5 28h5m-1 -75h5m-5 33h5m-5 5h5m-5 9h5m-5 22h5m-5 3h5m-5 19h5m-5 4h5m-5 7h5m-5 4h5m-5 14h5m-5 2h5m-5 2h5m-5 3h5m-5 3h5m-5 7h5m-5 0h5m-5 32h5m-5 3h5m-5 4h5m-5 21h5m-5 7h5m-5 28h5m-5 21h5m-4 -273h5m-5 72h5m-5 1h5m-5 4h5m-5 0h5m-5 3h5m-5 0h5m-5 1h5m-5 0h5m-5 2h5m-5 0h5m-5 5h5m-5 2h5m-5 6h5m-5 4h5m-5 1h5m-5 0h5m-5 1h5m-5 0h5m-5 2h5m-5 1h5m-5 1h5m-5 0h5m-5 3h5m-5 3h5m-5 6h5m-5 1h5m-5 2h5m-5 4h5m-5 1h5m-5 1h5m-5 5h5m-5 4h5m-5 2h5m-5 3h5m-5 60h5m-3 -224h5m-5 17h5m-5 278h5m-1 -218h5m-5 18h5m-5 3h5m-5 4h5m-5 47h5m-5 9h5m-1 -189h5m-4 6h5m-5 99h5m-5 4h5m-5 54h5m-5 6h5m-5 16h5m-5 36h5m-3 -99h5m-5 5h5m-5 0h5m-5 10h5m-5 33h5m-5 7h5m-5 48h5m-5 1h5m-4 -233h5m-5 68h5m-5 72h5m-4 -81h5m-5 16h5m-5 29h5m-5 4h5m-5 20h5m-5 2h5m-5 17h5m-5 0h5m-5 11h5m-5 2h5m-5 6h5m-5 5h5m-5 12h5m-5 20h5m-5 4h5m-5 0h5m-5 17h5m-5 14h5m-5 21h5m-5 9h5m-4 -208h5m-5 142h5m-5 45h5m-5 29h5m-4 -309h5m-5 81h5m-5 14h5m-5 1h5m-5 61h5m-5 20h5m-5 24h5m-5 9h5m1 -119h5m-5 58h5m-5 19h5m-4 -5h5m-5 15h5m-5 58h5m-5 46h5m-3 -134h5m-4 -98h5m-5 15h5m-5 3h5m-5 0h5m-5 3h5m-5 4h5m-5 1h5m-5 2h5m-5 18h5m-5 32h5m-5 2h5m-5 5h5m-5 1h5m-5 12h5m-5 5h5m-5 6h5m-5 5h5m-5 1h5m-5 6h5m-5 5h5m-5 7h5m-5 0h5m-5 1h5m-5 18h5m-5 10h5m-5 17h5m-5 14h5m-5 6h5m-5 2h5m-5 6h5m-5 5h5m-5 16h5m-4 -180h5m-5 3h5m-5 31h5m-5 35h5m-5 7h5m-5 13h5m-2 -120h5m-5 166h5m-1 -67h5m-5 218h5m-3 -323h5m-5 55h5m-5 53h5m-5 1h5m-5 41h5m-5 3h5m-5 34h5m-5 2h5m-5 49h5m-5 23h5m-4 -339h5m-5 3h5m-5 24h5m-5 7h5m-5 21h5m-5 3h5m-5 26h5m-5 3h5m-5 17h5m-5 25h5m-5 2h5m-5 11h5m-5 12h5m-5 17h5m-5 8h5m-5 15h5m-5 10h5m-5 7h5m-5 9h5m-5 1h5m-5 18h5m-5 25h5m-5 32h5m-5 6h5m-5 9h5m-5 7h5m-5 17h5m-5 1h5m-5 31h5m-5 10h5m-5 25h5m-5 21h5m-4 -377h5m-5 104h5m-5 34h5m-5 3h5m-5 24h5m-5 3h5m-5 65h5m-3 -226h5m-5 108h5m-5 39h5m-2 -125h5m-5 13h5m-5 8h5m-5 25h5m-5 1h5m-5 36h5m-5 31h5m-5 2h5m-5 15h5m-5 1h5m-5 28h5m-5 24h5m-5 1h5m-5 14h5m-5 5h5m-5 7h5m-5 4h5m-5 29h5m-5 3h5m-5 2h5m-5 11h5m-5 33h5m-4 -228h5m-5 154h5m-3 -139h5m-5 22h5m-5 8h5m-5 24h5m-5 21h5m-5 3h5m-4 -207h5m-5 2h5m-5 91h5m-5 11h5m-5 83h5m-5 38h5m-3 -203h5m-5 17h5m-5 24h5m-5 30h5m-5 30h5m-5 9h5m-5 13h5m-5 11h5m-5 1h5m-5 6h5m-5 16h5m-5 5h5m-5 9h5m-4 -176h5m-5 73h5m-5 27h5m-5 23h5m-4 -131h5m-5 128h5m-5 18h5m-5 109h5m-3 -78h5m-5 2h5m-3 -47h5m-5 24h5m-5 4h5m-5 112h5m-4 -242h5m-5 51h5m-5 72h5m-5 0h5m-5 87h5m-5 37h5m-5 62h5m-5 20h5m-5 14h5m-4 -342h5m-5 30h5m-5 2h5m-5 4h5m-5 33h5m-5 2h5m-5 52h5m-5 60h5m-5 19h5m-2 -175h5m-5 12h5m-5 2h5m-5 6h5m-5 19h5m-5 1h5m-5 9h5m-5 18h5m-5 26h5m-5 15h5m-5 4h5m-5 0h5m-5 13h5m-5 18h5m-5 1h5m-5 1h5m-5 2h5m-5 1h5m-5 16h5m-5 21h5m-5 6h5m-5 3h5m-5 0h5m-5 2h5m-5 11h5m-5 9h5m-5 5h5m-1 -165h5m-5 11h5m-5 2h5m-5 9h5m-5 19h5m-5 18h5m-5 76h5m-5 30h5m-4 -225h5m-5 66h5m-5 25h5m-5 12h5m-5 5h5m-3 -98h5m-5 4h5m-5 6h5m-5 15h5m-5 48h5m-5 10h5m-5 1h5m-5 4h5m-5 24h5m-5 24h5m-5 0h5m-3 -241h5m-5 0h5m-5 12h5m-5 5h5m-5 2h5m-5 7h5m-5 24h5m-5 19h5m-5 64h5m-5 8h5m-5 18h5m-5 14h5m-5 18h5m-5 115h5m-5 32h5m-4 -266h5m-5 100h5m-5 28h5m-5 70h5m-4 -296h5m-5 1h5m-5 14h5m-5 18h5m-5 30h5m-5 37h5m-5 51h5m-5 44h5m-5 23h5m-5 9h5m-5 34h5m-1 -79h5m-5 84h5m-3 -229h5m-5 46h5m-5 2h5m-5 13h5m-5 4h5m-5 41h5m-5 43h5m-5 15h5m-5 12h5m-5 81h5m-4 7h5m-4 -106h5m-5 7h5m0 -6h5m-5 57h5m-5 29h5m-5 10h5m-4 -245h5m-5 94h5m-5 48h5m-5 32h5m-5 39h5m-4 -124h5m-5 3h5m-5 0h5m-5 33h5m-5 19h5m-5 3h5m-5 40h5m-3 -132h5m-4 75h5m-5 1h5m-5 3h5m-5 21h5m-5 13h5m-5 5h5m-5 3h5m-5 22h5m-5 17h5m-5 3h5m-4 -138h5m-5 29h5m-5 22h5m-5 29h5m-5 3h5m-5 4h5m-5 15h5m-2 -234h5m-5 6h5m-5 55h5m-5 26h5m-5 25h5m-5 1h5m-5 4h5m-5 35h5m-5 7h5m-5 2h5m-5 30h5m-5 31h5m-5 3h5m-5 29h5m-5 0h5m-5 50h5m-5 5h5m-2 -62h5m-5 12h5m-5 38h5m-5 4h5m-4 -226h5m-5 149h5m-5 12h5m-5 43h5m-4 -234h5m-5 43h5m-5 28h5m-5 22h5m-5 14h5m-5 37h5m-5 7h5m-5 3h5m-5 22h5m-5 13h5m-5 24h5m-5 9h5m-5 26h5m-4 -245h5m-5 16h5m-5 5h5m-5 139h5m-5 9h5m-5 77h5m-5 13h5m-3 -198h5m-5 1h5m-5 2h5m-5 7h5m-5 0h5m-5 8h5m-5 3h5m-5 7h5m-5 3h5m-5 3h5m-5 21h5m-5 6h5m-5 5h5m-5 2h5m-5 12h5m-5 15h5m-5 3h5m-5 1h5m-5 2h5m-5 39h5m-5 14h5m-5 1h5m-5 8h5m-5 14h5m-5 10h5m-1 -198h5m-5 76h5m-4 -134h5m-5 137h5m-5 32h5m-5 8h5m-4 -114h5m-5 14h5m-5 32h5m-5 24h5m-5 12h5m-5 7h5m-5 18h5m-5 41h5m-5 1h5m-5 5h5m-5 19h5m-5 12h5m-5 26h5m-5 2h5m-4 -182h5m-5 52h5m-5 20h5m-3 -59h5m-5 5h5m-5 17h5m-5 13h5m-5 12h5m-5 9h5m-5 8h5m-5 7h5m-5 63h5m-5 5h5m-4 -230h5m-5 121h5m-5 50h5m-3 -97h5m-2 -53h5m-5 44h5m-5 2h5m-5 40h5m-5 59h5m-5 45h5m-5 16h5m-3 -157h5m-5 10h5m-4 -40h5m-5 12h5m-5 14h5m-5 5h5m-5 6h5m-5 39h5m-5 22h5m-5 17h5m-5 40h5m-5 3h5m-5 27h5m-2 -214h5m-5 66h5m-5 6h5m-5 25h5m-5 31h5m-5 35h5m-4 -31h5m-5 17h5m-4 48h5m-3 -256h5m-5 57h5m-5 15h5m-5 26h5m-5 8h5m-5 13h5m-5 13h5m-5 29h5m-5 2h5m-5 18h5m-5 35h5m-5 11h5m-4 -129h5m-5 98h5m-5 3h5m-5 62h5m-5 13h5m-3 -300h5m-5 24h5m-5 32h5m-5 50h5m-5 9h5m-5 14h5m-5 15h5m-5 6h5m-5 135h5m-5 9h5m-5 44h5m-5 20h5m-4 -239h5m-5 24h5m-5 11h5m-5 26h5m-5 18h5m-5 20h5m-5 0h5m-5 11h5m-5 12h5m-5 10h5m-4 -63h5m-4 -124h5m-4 122h5m-2 -15h5m-5 26h5m-5 25h5m-4 -155h5m-5 5h5m-5 97h5m-5 113h5m-4 -194h5m-5 57h5m-5 10h5m-5 10h5m-5 5h5m-5 12h5m-5 2h5m-5 7h5m-5 12h5m-5 2h5m-5 4h5m-5 5h5m-5 2h5m-5 4h5m-5 6h5m-5 4h5m-5 10h5m-5 44h5m-4 -262h5m-5 35h5m-5 199h5m-5 35h5m-5 9h5m-5 10h5m-3 -244h5m-5 20h5m-5 43h5m-5 10h5m-5 28h5m-5 2h5m-5 0h5m-5 5h5m-5 2h5m-5 5h5m-5 7h5m-5 9h5m-5 6h5m-5 9h5m-5 4h5m-5 3h5m-5 7h5m-5 9h5m-5 4h5m-5 5h5m-5 5h5m-5 8h5m-5 14h5m-5 0h5m-5 11h5m-4 -154h5m-5 16h5m-5 97h5m-5 37h5m-4 -172h5m-5 14h5m-5 34h5m-5 123h5m-4 -16h5m-1 -259h5m-5 0h5m-5 84h5m-5 17h5m-5 109h5m-5 41h5m-3 -35h5m-5 35h5m-5 44h5m-3 -199h5m-5 86h5m-5 37h5m-5 52h5m-3 -153h5m-5 14h5m-5 21h5m-5 8h5m-5 1h5m-5 25h5m-5 4h5m-5 11h5m-5 3h5m-5 28h5m-5 18h5m-5 12h5m-5 1h5m-4 -198h5m-5 43h5m-4 166h5m-5 19h5m-3 -146h5m-2 -70h5m-5 31h5m-5 214h5m-4 -346h5m-5 92h5m-5 122h5m-5 37h5m-2 -113h5m-5 16h5m-5 58h5m-3 -34h5m0 111h5m-4 -188h5m-5 56h5m-5 48h5m-5 69h5m-3 -223h5m-5 37h5m-5 83h5m-5 25h5m-5 1h5m-5 64h5m-4 -158h5m-5 152h5m-4 -123h5m-5 1h5m-5 18h5m-5 12h5m-5 11h5m-5 23h5m-5 9h5m-5 24h5m-5 2h5m-5 0h5m-5 2h5m-5 1h5m-5 21h5m-5 7h5m-5 5h5m-5 2h5m-5 4h5m-5 5h5m-5 7h5m-5 1h5m-5 1h5m-5 2h5m-5 1h5m-5 4h5m-5 7h5m-3 -180h5m-5 6h5m-5 2h5m-5 11h5m-5 31h5m-5 24h5m-5 15h5m-5 18h5m-5 72h5m-3 -94h5m-5 3h5m-5 107h5m-1 -248h5m-3 -24h5m-5 31h5m-5 1h5m-5 22h5m-5 36h5m-5 79h5m-3 -56h5m-5 6h5m-5 13h5m-5 42h5m-5 50h5m-5 71h5m-4 -111h5m-2 52h5m-4 -232h5m-5 24h5m-5 39h5m-5 24h5m-5 10h5m-5 11h5m-5 74h5m-4 71h5m-4 -293h5m-3 4h5m-4 38h5m-5 66h5m-5 30h5m-1 -113h5m-5 125h5m-5 12h5m-5 48h5m-5 9h5m-5 23h5m-5 4h5m-3 -39h5m-2 -168h5m-5 6h5m-5 28h5m-5 19h5m-5 9h5m-5 11h5m-5 16h5m-5 16h5m-5 3h5m-5 4h5m-5 16h5m-5 2h5m-5 33h5m-5 33h5m-5 3h5m-5 33h5m-4 -220h5m-5 13h5m-5 121h5m-5 74h5m-5 32h5m-5 1h5m-3 -439h5m-2 173h5m-5 3h5m-5 3h5m-5 5h5m-5 23h5m-5 42h5m-5 5h5m-5 7h5m-3 -170h5m-5 60h5m-5 27h5m-5 53h5m-5 11h5m-5 26h5m-5 37h5m-5 27h5m-5 28h5m-5 3h5m-5 3h5m-5 8h5m-5 32h5m-5 3h5m-2 -190h5m-5 50h5m-5 68h5m-1 -51h5m-1 -97h5m-5 5h5m-5 17h5m-5 20h5m-5 25h5m-5 5h5m-5 2h5m-5 7h5m-5 6h5m-5 32h5m-5 12h5m-5 29h5m-5 7h5m-4 -162h5m-5 29h5m-5 111h5m-5 7h5m-5 12h5m-5 2h5m-5 43h5m-5 14h5m-1 -278h5m-5 62h5m-5 15h5m-5 2h5m-3 -74h5m-5 58h5m-5 10h5m-5 49h5m-5 2h5m-5 15h5m-5 9h5m3 27h5m0 -131h5m-5 80h5m-5 10h5m-5 58h5m-5 17h5m-5 18h5m-4 -78h5m-5 51h5m-2 -220h5m-5 362h5m-3 -262h5m-5 114h5m-2 -200h5m-5 5h5m-5 5h5m5 36h5m-5 6h5m-5 3h5m-5 5h5m-5 3h5m-5 13h5m3 -14h5m-5 3h5m-5 4h5m-5 5h5m-5 2h5m-5 13h5m-5 3h5m-5 2h5m-5 1h5m-5 67h5m-4 -73h5m-5 0h5m-5 35h5m2 11h5m-2 -61h5m-5 26h5m-5 71h5m-3 -179h5m-5 94h5m-5 13h5m-5 23h5m-4 -86h5m-5 3h5m-5 3h5m-5 27h5m-5 10h5m-5 1h5m-5 17h5m-4 -81h5m-5 1h5m-5 8h5m-5 5h5m-5 5h5m-5 3h5m-5 3h5m-5 2h5m-5 30h5m-5 2h5m-5 28h5m-5 9h5m-5 18h5m-5 26h5m-5 9h5m-4 -187h5m-5 4h5m-5 9h5m-5 5h5m-5 16h5m-5 53h5m-5 4h5m-5 2h5m-5 2h5m-5 20h5m-5 13h5m-5 3h5m-5 2h5m-5 7h5m-5 0h5m-5 32h5m-5 18h5m-5 17h5m0 -161h5m-5 1h5m-5 6h5m-5 43h5m-5 52h5m-4 -144h5m-5 20h5m-5 17h5m-5 23h5m-5 54h5m-5 2h5m-3 -33h5m-5 11h5m-5 6h5m-3 -17h5m-5 97h5m-5 17h5m-5 17h5m-4 -213h5m-5 28h5m-5 41h5m-5 12h5m-5 6h5m-5 36h5m-5 5h5m-5 35h5m-2 -98h5m-5 10h5m-5 8h5m-5 1h5m-5 14h5m-5 8h5m-5 19h5m-5 8h5m-5 10h5m-5 27h5m-3 -151h5m-5 57h5m-5 2h5m-5 20h5m-5 22h5m-5 12h5m-2 52h5m-4 46h5m1 -157h5m-5 14h5m-5 59h5m-5 46h5m-5 12h5m-2 -46h5m-3 -149h5m-5 5h5m-5 5h5m-5 10h5m-5 3h5m-5 10h5m-5 3h5m-5 1h5m-5 3h5m-5 11h5m-5 5h5m-5 1h5m-5 3h5m-5 17h5m-5 2h5m-5 22h5m-5 42h5m-4 -190h5m-5 9h5m-5 2h5m-5 39h5m-5 38h5m-4 -98h5m-5 66h5m-3 -15h5m-5 14h5m-4 12h5m0 21h5m-3 -105h5m-5 9h5m-5 20h5m-5 7h5m-5 23h5m-5 3h5m-2 -37h5m-5 14h5m-5 15h5m-5 38h5m-5 3h5m-3 -127h5m-5 39h5m-5 14h5m-5 8h5m-5 1h5m-5 9h5m-5 1h5m-5 2h5m-5 9h5m-5 2h5m-5 10h5m-5 1h5m-5 10h5m-5 0h5m-3 -102h5m-5 103h5m-5 7h5m-5 1h5m-5 2h5m-5 2h5m-5 3h5m-5 1h5m-5 2h5m-5 0h5m-5 9h5m-5 1h5m-5 8h5m-5 4h5m-5 0h5m-5 1h5m-5 1h5m-5 1h5m-5 1h5m-5 6h5m-5 2h5m-5 2h5m-3 -112h5m-5 10h5m-5 2h5m-5 11h5m-5 6h5m-5 35h5m-5 3h5m-5 0h5m-5 19h5m-5 3h5m-5 25h5m-5 9h5m-1 -140h5m-5 20h5m-5 0h5m-2 9h5m-5 0h5m-5 10h5m-5 6h5m-5 8h5m-5 3h5m-5 75h5m-5 3h5m-3 -181h5m-4 -14h5m-5 9h5m-5 6h5m-5 27h5m-5 7h5m-5 16h5m-5 35h5m-5 17h5m-5 11h5m-3 -99h5m-5 28h5m-5 0h5m-5 1h5m-5 10h5m-5 42h5m-5 86h5m-4 -173h5m-5 41h5m-5 67h5m-2 -108h5m-5 13h5m-3 -24h5m-5 2h5m-5 33h5m-5 1h5m-5 5h5m-5 6h5m-5 113h5m-1 -117h5m-5 44h5m-5 28h5m-5 10h5m-5 3h5m-5 24h5m2 -20h5m-4 -147h5m-5 30h5m-5 0h5m-5 12h5m-5 6h5m-5 3h5m-5 0h5m-5 5h5m-5 5h5m-5 10h5m-5 4h5m-5 1h5m-5 7h5m-5 6h5m-5 7h5m-5 10h5m-2 -157h5m-5 42h5m-5 6h5m-5 18h5m-5 30h5m-5 23h5m-5 91h5m3 -99h5m-5 1h5m-5 5h5m-5 6h5m-5 8h5m-5 2h5m-5 7h5m-5 1h5m-5 9h5m-5 6h5m-5 4h5m-3 -81h5m11 -95h5m-5 101h5m1 -80h5m-5 3h5m-5 3h5m7 -42h5m-5 9h5m-5 6h5m-5 23h5m-5 4h5m-5 8h5m-5 29h5m-5 6h5m-5 12h5m-5 1h5m-5 76h5m-5 21h5m-5 6h5m-5 20h5m-3 -239h5m-5 27h5m-5 195h5m0 -136h5m-5 48h5m-5 40h5m-2 -78h5m-5 2h5m-5 14h5m2 -30h5m-5 45h5m-5 73h5m-5 4h5m4 -145h5m-5 20h5m5 -104h5m-5 46h5m-5 5h5m-5 41h5m-5 105h5m-5 49h5m-4 -229h5m-5 78h5m-5 26h5m-5 15h5m-5 4h5m-5 2h5m-5 60h5m-5 5h5m7 -160h5m-5 38h5m-1 -87h5m-5 68h5m-5 0h5m-5 10h5m-5 102h5m-5 31h5m-5 7h5m-5 29h5m-5 20h5m-5 1h5m-5 8h5m1 -262h5m-5 54h5m-5 27h5m1 -90h5m-5 81h5m-5 5h5m-5 18h5m-5 5h5m-5 16h5m-2 -106h5m-5 56h5m-5 38h5m-5 13h5m-5 26h5m-5 58h5m0 -124h5m1 -59h5m-5 21h5m-5 17h5m-5 34h5m2 -1h5m-5 13h5m-5 5h5m-5 10h5m10 -76h5m-5 11h5m-5 9h5m-5 38h5m-5 11h5m-5 66h5m5 -146h5m-5 5h5m-5 10h5m-5 2h5m-5 13h5m-5 12h5m-5 8h5m-5 15h5m-5 5h5m-5 4h5m-5 15h5m-5 5h5m-5 16h5m-5 8h5m-5 9h5m-5 17h5m0 -107h5m-5 4h5m-5 40h5m0 -130h5m-5 6h5m-5 29h5m-5 9h5m-5 15h5m-5 2h5m-5 9h5m-5 6h5m-5 30h5m-5 38h5m-5 52h5m-1 -137h5m-2 -160h5m-5 11h5m-5 18h5m-5 29h5m-5 9h5m-5 1h5m-5 16h5m-5 12h5m-5 4h5m-5 0h5m-5 2h5m-5 14h5m-5 1h5m-5 1h5m-5 15h5m-5 44h5m-5 10h5m-5 5h5m-5 10h5m-5 12h5m-5 3h5m-5 2h5m-5 3h5m-5 1h5m-5 6h5m-5 12h5m-5 10h5m-5 8h5m-5 7h5m-5 24h5m-5 11h5m-5 13h5m-5 12h5m-5 2h5m-5 4h5m21 -93h5m6 14h5m2 -266h5m-5 301h5m-1 -286h5m-5 35h5m-5 78h5m0 -19h5m1 237h5m5 -177h5m-4 -102h5m-5 74h5m-5 68h5m17 -87h5m-5 2h5m-5 9h5m13 -214h5m21 136h5m7 -11h5m33 32h5m5 -107h5m-5 159h5m9 -79h5m15 0h5m-5 3h5m-5 42h5m-5 19h5m17 -50h5"/><path d="M239 1409h5m-4 -74h5m1 103h5m-1 -68h5m-2 -42h5m-4 41h5m1 72h5m-5 38h5m-4 -71h5m-5 27h5m-4 -58h5m8 34h5m-2 8h5m-5 6h5m-5 23h5m1 -9h5m-3 -51h5m-5 28h5m-3 -20h5m-5 2h5m-5 9h5m-5 0h5m-5 9h5m-5 6h5m-5 14h5m-5 1h5m-5 2h5m-5 6h5m-4 -97h5m-5 24h5m-5 22h5m-5 10h5m-5 19h5m-5 2h5m-5 2h5m-5 9h5m-4 -110h5m-5 49h5m-5 15h5m-5 15h5m-5 3h5m-3 -76h5m-5 51h5m-5 10h5m-3 -60h5m-5 6h5m-5 10h5m-4 18h5m-5 22h5m-5 24h5m-4 16h5m-4 72h5m0 -180h5m-5 27h5m-5 18h5m-5 34h5m-5 2h5m-4 14h5m-5 14h5m-3 -61h5m-5 13h5m-5 5h5m-5 5h5m-5 9h5m-5 22h5m-2 -84h5m-5 17h5m-5 4h5m-5 34h5m-5 2h5m-3 42h5m-4 -89h5m-5 6h5m-5 8h5m-5 30h5m-5 16h5m-4 -107h5m-5 27h5m-5 75h5m-1 -40h5m-5 2h5m-5 96h5m-5 13h5m-4 -149h5m-5 2h5m-5 4h5m-5 7h5m-5 10h5m-5 1h5m-5 3h5m-5 4h5m-5 1h5m-5 8h5m-5 0h5m-5 1h5m-5 24h5m-5 1h5m-5 2h5m-5 0h5m-5 12h5m-5 3h5m-5 5h5m-5 1h5m-5 0h5m-5 0h5m-5 5h5m-5 3h5m-5 31h5m-4 -122h5m-5 14h5m-5 7h5m-4 20h5m-5 16h5m-5 7h5m-5 28h5m-2 -110h5m-5 16h5m-5 22h5m-5 2h5m-5 11h5m-5 3h5m-5 2h5m-5 0h5m-5 7h5m-5 2h5m-5 3h5m-5 10h5m-5 11h5m-5 2h5m-5 4h5m-5 4h5m-5 48h5m-4 -178h5m-5 62h5m-5 19h5m-5 1h5m-5 2h5m-5 6h5m-5 1h5m-5 1h5m-5 7h5m-5 11h5m-5 2h5m-5 4h5m-5 4h5m-5 27h5m-5 12h5m-5 6h5m-3 -157h5m-5 24h5m-5 27h5m-5 2h5m-5 5h5m-5 35h5m-5 17h5m-5 26h5m-5 6h5m-5 15h5m-5 5h5m-3 -78h5m-5 49h5m-4 -149h5m-5 52h5m-5 29h5m-5 70h5m-5 40h5m-4 -73h5m-4 -58h5m-5 34h5m-5 3h5m-5 16h5m-5 3h5m-5 14h5m-5 14h5m-5 27h5m-5 8h5m-5 31h5m-5 1h5m-4 -179h5m-5 15h5m-5 4h5m-5 47h5m-5 3h5m-5 2h5m-5 7h5m-5 9h5m-5 14h5m-5 10h5m-5 25h5m-5 3h5m-3 -62h5m-5 7h5m-5 18h5m-5 21h5m-5 4h5m-4 -163h5m-5 13h5m-5 3h5m-5 28h5m-5 57h5m-5 46h5m-5 10h5m-5 44h5m-5 18h5m-5 1h5m-4 -139h5m-5 13h5m-5 2h5m-5 17h5m-5 2h5m-5 22h5m-4 -39h5m-5 31h5m-5 11h5m-5 12h5m-5 42h5m-5 1h5m-5 11h5m-5 47h5m-5 1h5m-1 -264h5m-5 18h5m-5 2h5m-5 38h5m-5 32h5m-5 36h5m-5 40h5m-4 -112h5m-5 3h5m-5 1h5m-5 3h5m-5 1h5m-5 2h5m-5 10h5m-5 10h5m-5 2h5m-5 6h5m-5 7h5m-5 3h5m-5 2h5m-5 2h5m-5 1h5m-5 0h5m-5 19h5m-5 2h5m-5 28h5m-5 14h5m-5 3h5m-5 4h5m-5 2h5m-5 3h5m-5 11h5m-5 5h5m-5 24h5m-3 -154h5m-5 9h5m-5 4h5m-3 -57h5m-5 26h5m-5 90h5m-3 9h5m-5 10h5m-5 21h5m-4 -190h5m-5 65h5m-5 9h5m-5 9h5m-5 38h5m-4 11h5m-5 12h5m-5 8h5m-5 23h5m-5 14h5m-5 14h5m-5 15h5m-5 23h5m-4 -61h5m-4 -29h5m-4 -74h5m-5 3h5m-5 0h5m-5 8h5m-5 1h5m-5 48h5m-5 7h5m-5 48h5m-4 -118h5m-4 27h5m-5 22h5m0 -396h5m-3 333h5m-5 56h5m-5 2h5m-5 35h5m-5 69h5m-3 -167h5m-5 5h5m-5 24h5m-5 1h5m-5 0h5m-5 3h5m-5 8h5m-5 2h5m-5 3h5m-5 8h5m-5 13h5m-5 1h5m-5 6h5m-5 15h5m-5 45h5m-5 3h5m-5 38h5m-2 -160h5m-5 15h5m-5 35h5m-5 6h5m-5 6h5m-5 1h5m-5 35h5m-5 14h5m-5 7h5m-5 1h5m-5 2h5m-5 3h5m-5 4h5m-5 19h5m-5 1h5m-4 -115h5m-5 12h5m-5 1h5m-5 31h5m-5 77h5m-4 -246h5m-5 47h5m-5 190h5m-4 -95h5m-5 103h5m-4 -178h5m-5 72h5m-5 26h5m-5 128h5m-4 -209h5m-5 34h5m-5 3h5m-5 11h5m-5 1h5m-5 60h5m-5 19h5m-4 -191h5m-5 58h5m-5 6h5m-5 8h5m-5 9h5m-5 9h5m-5 38h5m-5 1h5m-4 -51h5m-5 11h5m-5 1h5m-5 8h5m-5 9h5m-5 2h5m-5 11h5m-5 22h5m-5 3h5m-5 5h5m-5 7h5m-5 6h5m-5 17h5m-5 3h5m-5 15h5m-5 10h5m-5 2h5m-3 -165h5m-5 3h5m-5 61h5m-5 11h5m-5 19h5m-5 12h5m-4 -88h5m-5 13h5m-5 71h5m-5 21h5m-5 98h5m-5 9h5m-5 23h5m-5 2h5m-4 -268h5m-5 6h5m-5 6h5m-5 24h5m-5 13h5m-5 3h5m-5 0h5m-5 4h5m-5 6h5m-5 28h5m-5 3h5m-5 7h5m-5 1h5m-5 1h5m-5 27h5m-5 5h5m-1 -174h5m-5 63h5m-5 13h5m-5 17h5m-5 1h5m-5 1h5m-5 1h5m-5 33h5m-5 4h5m-5 14h5m-5 3h5m-5 32h5m-5 13h5m-5 21h5m-2 -114h5m-5 77h5m-4 -271h5m-5 20h5m-5 18h5m-5 36h5m-5 7h5m-5 1h5m-5 5h5m-5 12h5m-5 1h5m-5 8h5m-5 0h5m-5 1h5m-5 7h5m-5 8h5m-5 8h5m-5 1h5m-5 3h5m-5 11h5m-5 10h5m-5 2h5m-5 10h5m-5 10h5m-5 9h5m-5 10h5m-5 6h5m-5 2h5m-5 3h5m-5 6h5m-5 1h5m-5 4h5m-5 0h5m-5 3h5m-5 11h5m-5 10h5m-5 1h5m-5 1h5m-5 7h5m-5 17h5m-5 1h5m-5 14h5m-5 27h5m-5 17h5m-5 5h5m-4 -248h5m-5 86h5m-5 8h5m-5 15h5m-5 12h5m-5 59h5m-4 -139h5m-5 13h5m-5 47h5m-5 14h5m-5 61h5m-5 0h5m-5 6h5m-5 4h5m-5 2h5m-5 33h5m-4 -174h5m-5 8h5m-5 58h5m-4 -76h5m-5 40h5m-5 23h5m-5 19h5m-5 19h5m-5 44h5m-5 37h5m-3 -213h5m-5 14h5m-5 10h5m-5 21h5m-5 37h5m-5 6h5m-5 17h5m-4 -92h5m-5 18h5m-5 4h5m-5 35h5m-5 2h5m-5 5h5m-5 25h5m-5 3h5m-5 3h5m-5 3h5m-5 6h5m-5 5h5m-5 11h5m-5 10h5m-5 25h5m-5 7h5m-4 -79h5m-5 30h5m-5 127h5m-4 -313h5m-5 18h5m-5 29h5m-5 179h5m-3 -205h5m-5 81h5m-5 32h5m-5 7h5m-5 16h5m-5 6h5m-5 9h5m-5 13h5m-5 17h5m-5 10h5m-5 10h5m-5 41h5m-2 -189h5m-5 2h5m-5 68h5m-5 33h5m-5 13h5m-5 19h5m-3 -89h5m-5 8h5m-5 33h5m-5 20h5m-5 23h5m-3 -74h5m-5 70h5m-3 -58h5m-5 5h5m-5 7h5m-5 4h5m-5 6h5m-5 22h5m-5 3h5m-5 1h5m-4 -88h5m-5 93h5m-5 35h5m-5 41h5m-5 40h5m-4 -214h5m-5 19h5m-5 75h5m-5 47h5m-2 -271h5m-5 12h5m-5 36h5m-5 38h5m-5 14h5m-5 3h5m-5 3h5m-5 0h5m-5 39h5m-5 3h5m-5 4h5m-5 21h5m-5 2h5m-5 11h5m-5 15h5m-5 13h5m-5 32h5m-5 9h5m-5 11h5m-5 7h5m-5 2h5m-5 16h5m-5 4h5m-4 -172h5m-5 27h5m-5 5h5m-5 9h5m-5 1h5m-5 2h5m-5 10h5m-5 8h5m-5 2h5m-5 1h5m-5 1h5m-5 3h5m-5 32h5m-5 32h5m-5 1h5m-4 -27h5m-4 -164h5m-5 6h5m-5 107h5m-5 1h5m-5 62h5m-4 -193h5m-5 51h5m-5 26h5m-5 10h5m-5 6h5m-5 8h5m-5 16h5m-5 0h5m-5 37h5m-5 12h5m-5 7h5m-5 11h5m-5 23h5m-5 0h5m-5 7h5m-5 19h5m-5 2h5m-4 -211h5m-5 2h5m-5 2h5m-5 2h5m-5 7h5m-5 2h5m-5 32h5m-5 0h5m-5 0h5m-5 18h5m-5 3h5m-5 1h5m-5 2h5m-5 35h5m-5 4h5m-5 2h5m-5 5h5m-5 1h5m-5 24h5m-5 3h5m-5 11h5m-5 11h5m-5 13h5m-5 9h5m-5 4h5m-3 -152h5m-5 3h5m-4 -28h5m-5 198h5m-4 -150h5m-2 -39h5m-5 113h5m-5 29h5m-4 -241h5m-5 8h5m-5 9h5m-5 12h5m-5 39h5m-5 0h5m-5 3h5m-5 4h5m-5 7h5m-5 2h5m-5 7h5m-5 5h5m-5 21h5m-5 5h5m-5 21h5m-5 1h5m-5 7h5m-5 17h5m-5 63h5m-5 80h5m-4 -199h5m-5 186h5m-3 -231h5m-5 1h5m-5 2h5m-5 1h5m-5 18h5m-5 22h5m-5 3h5m-5 5h5m-5 9h5m-5 2h5m-5 1h5m-5 4h5m-5 4h5m-5 14h5m-5 1h5m-5 18h5m-5 1h5m-5 81h5m-5 36h5m-4 -242h5m-5 53h5m-5 58h5m-5 2h5m-5 14h5m-5 17h5m-3 -133h5m-5 12h5m-5 7h5m-5 1h5m-5 100h5m-5 7h5m-5 16h5m-5 21h5m-5 12h5m-5 7h5m-5 1h5m-2 -165h5m-5 5h5m-3 -65h5m-5 16h5m-5 22h5m-5 9h5m-5 19h5m-5 2h5m-5 15h5m-5 18h5m-5 4h5m-5 19h5m-4 -103h5m-5 3h5m-5 13h5m-5 18h5m-5 16h5m-5 2h5m-5 11h5m-5 26h5m-5 1h5m-5 13h5m-5 9h5m-5 2h5m-5 8h5m-5 10h5m-5 12h5m-5 8h5m-5 3h5m-5 26h5m-5 25h5m-5 1h5m-5 13h5m-5 36h5m-5 12h5m-5 23h5m-3 -316h5m-5 66h5m-5 7h5m-5 9h5m-5 131h5m-3 -195h5m-5 74h5m-5 9h5m-5 5h5m-5 49h5m-5 31h5m-5 13h5m-5 19h5m-5 55h5m-4 -331h5m-5 38h5m-5 10h5m-5 46h5m-5 122h5m-5 33h5m-5 26h5m-5 15h5m-5 4h5m-4 -247h5m-5 30h5m-5 4h5m-5 33h5m-5 1h5m-5 33h5m-5 55h5m-5 2h5m-5 3h5m-5 1h5m-4 -173h5m-5 12h5m-5 38h5m-5 6h5m-5 8h5m-5 6h5m-5 2h5m-5 3h5m-5 8h5m-5 50h5m-5 3h5m-3 19h5m-4 106h5m-3 -252h5m-5 19h5m-5 109h5m-3 -41h5m-5 28h5m-5 21h5m-5 7h5m-3 -163h5m-5 11h5m-5 24h5m-5 19h5m-5 9h5m-5 3h5m-5 5h5m-5 2h5m-5 7h5m-5 14h5m-5 54h5m-5 30h5m-2 -152h5m-5 37h5m-5 58h5m-5 4h5m-5 4h5m-5 20h5m-5 5h5m-5 17h5m-5 1h5m-5 2h5m-5 28h5m-5 17h5m-5 15h5m-4 -129h5m-5 16h5m-5 26h5m-5 4h5m-3 -62h5m-5 89h5m-5 11h5m-5 133h5m-2 -326h5m-5 4h5m-5 0h5m-5 1h5m-5 4h5m-5 29h5m-5 26h5m-5 49h5m-5 53h5m-5 17h5m-5 7h5m-5 35h5m-5 43h5m-5 20h5m-4 -190h5m-5 26h5m-5 40h5m-5 63h5m-5 16h5m-5 16h5m-4 -227h5m-5 109h5m-5 17h5m-5 11h5m-5 64h5m-5 51h5m-4 -282h5m-5 105h5m-5 7h5m-5 15h5m-5 8h5m-5 70h5m-5 70h5m-5 58h5m-4 -307h5m-5 51h5m-5 4h5m-5 25h5m-5 8h5m-5 14h5m-5 35h5m-5 25h5m-5 4h5m-5 13h5m-5 52h5m-5 4h5m-5 5h5m-4 -196h5m-4 -55h5m-5 7h5m-5 36h5m-5 6h5m-5 6h5m-5 4h5m-5 20h5m-5 35h5m-5 7h5m-5 11h5m-5 55h5m-5 77h5m-5 11h5m-5 46h5m-4 -194h5m-4 -137h5m-5 102h5m-5 4h5m-5 0h5m-5 7h5m-5 3h5m-5 2h5m-5 16h5m-5 20h5m-5 8h5m-5 0h5m-5 9h5m-5 0h5m-5 18h5m-5 10h5m-5 1h5m-4 -114h5m-5 10h5m-5 50h5m-5 8h5m-3 -209h5m-3 37h5m-5 17h5m-5 9h5m-5 15h5m-5 9h5m-5 41h5m-5 14h5m-5 11h5m-5 1h5m-5 11h5m-5 33h5m-5 2h5m-5 11h5m-5 0h5m-5 27h5m-4 -226h5m-5 127h5m-5 44h5m-5 0h5m-5 5h5m-5 1h5m-5 1h5m-5 5h5m-5 2h5m-5 12h5m-5 16h5m-5 23h5m-5 2h5m-4 -15h5m-4 -260h5m-5 68h5m-5 40h5m-5 92h5m-5 18h5m-3 -150h5m-5 13h5m-5 1h5m-5 1h5m-5 15h5m-5 23h5m-5 2h5m-5 20h5m-5 8h5m-5 19h5m-5 7h5m-5 90h5m-5 4h5m-5 3h5m-5 8h5m-4 -134h5m-5 48h5m-5 3h5m-5 3h5m-5 10h5m-5 109h5m-4 -142h5m-5 20h5m-5 2h5m-5 1h5m-5 9h5m-5 17h5m-5 19h5m-5 19h5m-5 24h5m-5 15h5m-4 -303h5m-5 43h5m-5 14h5m-5 19h5m-5 16h5m-5 2h5m-5 9h5m-5 136h5m-5 44h5m-5 1h5m-5 1h5m-5 17h5m-5 22h5m-4 -301h5m-5 11h5m-5 29h5m-5 4h5m-5 7h5m-5 35h5m-5 33h5m-5 7h5m-5 10h5m-5 22h5m-5 63h5m-5 8h5m-5 1h5m-5 22h5m-5 36h5m-4 -255h5m-5 186h5m-5 5h5m-5 33h5m-3 -29h5m-5 10h5m-5 1h5m-5 2h5m-5 2h5m-5 3h5m-5 10h5m-5 32h5m-5 5h5m-5 10h5m-4 -313h5m-5 61h5m-5 35h5m-5 46h5m-5 45h5m-5 5h5m-5 14h5m-5 97h5m-5 11h5m-5 77h5m-4 -570h5m-5 108h5m-5 15h5m-5 2h5m-5 5h5m-5 9h5m-5 80h5m-5 31h5m-5 38h5m-5 1h5m-5 7h5m-5 22h5m-5 3h5m-5 11h5m-5 8h5m-5 10h5m-5 8h5m-5 13h5m-5 8h5m-5 13h5m-5 47h5m-5 7h5m-5 24h5m-5 80h5m-5 5h5m-4 -303h5m-5 12h5m-5 3h5m-5 2h5m-5 10h5m-5 36h5m-5 12h5m-5 92h5m-5 24h5m-5 13h5m-5 8h5m-5 2h5m-5 10h5m-5 14h5m-5 24h5m-5 7h5m-5 19h5m-5 53h5m-4 -291h5m-5 0h5m-5 32h5m-5 16h5m-5 13h5m-5 9h5m-5 26h5m-4 -148h5m-5 52h5m-4 120h5m-4 -178h5m-5 103h5m-5 95h5m-3 -260h5m-5 30h5m-5 4h5m-5 67h5m-5 6h5m-5 14h5m-5 21h5m-5 7h5m-5 17h5m-5 2h5m-5 36h5m-5 3h5m-5 10h5m-5 4h5m-5 1h5m-5 47h5m-5 21h5m-5 15h5m-5 36h5m-5 11h5m-5 17h5m-4 -150h5m-5 37h5m-5 50h5m-5 60h5m1 -314h5m-4 -11h5m-5 54h5m-5 5h5m-5 5h5m-5 7h5m-5 9h5m-5 4h5m-5 7h5m-5 7h5m-5 43h5m-5 9h5m-5 0h5m-5 22h5m-5 2h5m-5 5h5m-5 7h5m-5 2h5m-5 3h5m-5 6h5m-5 10h5m-5 3h5m-5 4h5m-5 24h5m-4 -238h5m-5 78h5m-5 80h5m-5 16h5m-5 19h5m-5 24h5m-5 5h5m-5 23h5m-4 -251h5m-5 12h5m-5 32h5m-5 4h5m-5 13h5m-5 24h5m-5 2h5m-5 1h5m-5 2h5m-5 1h5m-5 3h5m-5 6h5m-5 23h5m-5 8h5m-5 2h5m-5 3h5m-5 16h5m-5 6h5m-5 12h5m-5 1h5m-5 4h5m-5 2h5m-5 9h5m-5 5h5m-5 5h5m-5 8h5m-5 54h5m1 -250h5m-5 61h5m-5 17h5m-5 18h5m-5 11h5m-4 25h5m-5 11h5m-5 11h5m-5 104h5m-4 -135h5m-5 12h5m-5 15h5m-5 0h5m-1 -69h5m-5 6h5m-5 6h5m-5 3h5m-5 1h5m-5 39h5m-5 74h5m-2 -119h5m-5 98h5m-5 80h5m-4 -323h5m-5 53h5m-5 75h5m-5 47h5m-5 43h5m-5 11h5m-5 63h5m-5 21h5m-2 -18h5m-4 -194h5m-5 34h5m-5 131h5m-5 45h5m-3 -274h5m-5 40h5m-5 6h5m-5 2h5m-5 24h5m-5 45h5m-5 1h5m-5 11h5m-5 11h5m-5 6h5m-5 4h5m-5 15h5m-5 27h5m-5 5h5m-5 15h5m-5 43h5m-5 34h5m-4 -191h5m-5 31h5m-4 -48h5m-5 6h5m-5 12h5m-5 117h5m-5 19h5m-5 9h5m-4 -59h5m-5 2h5m-3 21h5m-4 -265h5m-5 44h5m-5 26h5m-5 22h5m-5 23h5m-5 65h5m-5 48h5m-4 -117h5m-5 60h5m-5 69h5m-5 21h5m-5 27h5m-5 69h5m-2 -321h5m-5 8h5m-5 11h5m-5 8h5m-5 33h5m-5 82h5m-5 74h5m-5 27h5m-5 51h5m-5 32h5m-4 -216h5m-5 21h5m-5 98h5m-2 -205h5m-5 12h5m-5 3h5m-5 0h5m-5 12h5m-5 1h5m-5 7h5m-5 15h5m-5 4h5m-5 5h5m-5 2h5m-5 3h5m-5 1h5m-5 9h5m-5 7h5m-5 4h5m-5 7h5m-5 2h5m-5 10h5m-5 14h5m-5 9h5m-5 2h5m-5 0h5m-5 11h5m-5 6h5m-5 8h5m-5 21h5m-5 15h5m-5 1h5m-5 4h5m-5 3h5m-5 6h5m-5 1h5m-5 10h5m-5 1h5m-5 9h5m-5 4h5m-5 1h5m-5 8h5m-5 9h5m-5 2h5m-5 1h5m-5 7h5m-5 16h5m-4 -230h5m-5 7h5m-5 16h5m-5 8h5m-5 80h5m-5 18h5m-5 16h5m-5 2h5m-5 64h5m-3 -48h5m-3 -152h5m-5 21h5m-5 78h5m-5 55h5m-4 -118h5m-5 82h5m-5 34h5m-3 -252h5m-5 108h5m-5 72h5m-5 37h5m-3 -135h5m-5 36h5m-5 9h5m-5 3h5m-5 41h5m-4 9h5m-5 21h5m-5 36h5m-3 -61h5m-5 157h5m-3 -258h5m-5 11h5m-5 33h5m-5 37h5m-5 1h5m-5 6h5m-5 0h5m-5 8h5m-5 9h5m-5 19h5m-5 11h5m-5 16h5m-5 5h5m-4 -197h5m-5 67h5m-5 12h5m-5 2h5m-5 20h5m-5 8h5m-5 22h5m-5 11h5m-5 1h5m-5 12h5m-5 2h5m-5 6h5m-5 10h5m-5 7h5m0 -209h5m-5 39h5m-5 24h5m-5 22h5m-5 2h5m-5 20h5m-5 8h5m-5 7h5m-5 0h5m-5 0h5m-5 4h5m-5 13h5m-5 13h5m-5 0h5m-5 2h5m-5 35h5m-5 1h5m-5 2h5m-5 6h5m-5 8h5m-5 27h5m-5 2h5m-5 2h5m-5 2h5m-5 3h5m-4 -215h5m-5 11h5m-5 2h5m-5 5h5m-5 1h5m-5 2h5m-5 7h5m-5 11h5m-5 83h5m-5 7h5m-5 6h5m-5 9h5m-5 9h5m-5 2h5m-5 5h5m-5 21h5m-5 29h5m-4 -124h5m-5 7h5m-5 4h5m-4 -91h5m-5 30h5m-3 41h5m-5 53h5m-5 6h5m-5 9h5m-5 39h5m-5 4h5m-5 1h5m-5 1h5m-5 43h5m-2 -157h5m-5 10h5m-5 20h5m-5 19h5m-5 143h5m-5 62h5m-5 29h5m-4 -337h5m-5 2h5m-5 44h5m-5 23h5m-5 10h5m-5 18h5m-5 6h5m-5 1h5m-5 2h5m-5 5h5m-5 1h5m-5 1h5m-5 41h5m-5 6h5m-5 46h5m-4 -151h5m-5 12h5m-5 60h5m-4 -43h5m-5 10h5m-5 2h5m-5 28h5m-5 7h5m-5 4h5m-5 4h5m-5 4h5m-5 39h5m-5 56h5m-5 24h5m-5 8h5m-5 12h5m-1 -262h5m-5 27h5m-5 49h5m-5 12h5m-5 21h5m-5 76h5m-5 11h5m-5 11h5m-1 -224h5m-5 130h5m-4 -168h5m-5 7h5m-5 19h5m-5 9h5m-5 10h5m-5 22h5m-5 11h5m-5 2h5m-5 14h5m-5 28h5m-5 21h5m-5 23h5m-5 6h5m-5 2h5m-5 63h5m-5 0h5m-4 -243h5m-5 107h5m-5 5h5m-5 45h5m-3 -134h5m-5 65h5m-5 159h5m-4 -152h5m-5 7h5m-5 47h5m-5 33h5m-5 12h5m-5 5h5m-3 -193h5m-5 20h5m-5 4h5m-5 13h5m-5 6h5m-5 18h5m-5 7h5m-5 3h5m-5 10h5m-5 0h5m-5 7h5m-5 0h5m-5 7h5m-5 9h5m-5 4h5m-5 0h5m-5 2h5m-5 11h5m-4 -112h5m-5 29h5m-5 4h5m-5 3h5m-5 1h5m-5 27h5m-5 3h5m-5 5h5m-5 5h5m-5 2h5m-5 8h5m-5 35h5m-5 19h5m-5 6h5m-3 -173h5m-5 6h5m-5 12h5m-5 3h5m-5 2h5m-5 1h5m-5 3h5m-5 2h5m-5 2h5m-5 2h5m-5 9h5m-5 9h5m-5 2h5m-4 45h5m-5 4h5m-5 4h5m-5 23h5m-5 19h5m-5 11h5m-5 6h5m-4 -78h5m-5 37h5m-5 32h5m-5 1h5m-5 7h5m-5 3h5m-5 7h5m-4 -88h5m-5 65h5m-5 44h5m-5 52h5m-5 13h5m-3 -255h5m-5 16h5m-5 40h5m-5 7h5m-5 15h5m-5 108h5m-5 11h5m-4 -166h5m-5 6h5m-5 21h5m-5 21h5m-5 8h5m-5 40h5m-5 59h5m-3 -147h5m-5 42h5m-5 14h5m-5 67h5m-5 67h5m-5 26h5m-5 2h5m-5 9h5m-3 -251h5m-5 4h5m-5 22h5m-5 11h5m-5 47h5m-5 25h5m-5 49h5m-5 0h5m-5 14h5m-4 -78h5m-5 8h5m-4 -121h5m-5 3h5m-5 3h5m-5 25h5m-5 4h5m-5 1h5m-5 16h5m-5 1h5m-5 17h5m-5 7h5m-5 6h5m-5 12h5m-5 1h5m-5 27h5m-5 22h5m-5 21h5m-5 8h5m-5 51h5m-4 -105h5m-4 -90h5m-5 41h5m-5 35h5m-5 16h5m-5 35h5m-5 5h5m-5 14h5m-4 -81h5m-5 2h5m-5 25h5m-5 29h5m-5 6h5m-5 3h5m-5 32h5m-5 40h5m-4 -233h5m-5 35h5m-5 23h5m-5 30h5m-5 69h5m-5 15h5m-5 45h5m-4 -98h5m-4 122h5m-2 -181h5m-5 45h5m-5 37h5m-5 3h5m-5 36h5m-5 85h5m-4 -247h5m-5 58h5m-5 1h5m-5 22h5m-5 34h5m-5 100h5m-2 -188h5m-3 -22h5m-5 22h5m-5 13h5m-5 7h5m-5 12h5m-5 48h5m-5 59h5m-5 8h5m-5 21h5m-5 9h5m-5 8h5m-4 -113h5m-4 -80h5m-5 63h5m-5 22h5m-5 7h5m-4 -100h5m0 -47h5m-5 14h5m-5 21h5m-5 4h5m-5 0h5m-5 20h5m-5 7h5m-5 10h5m-5 7h5m-5 2h5m-5 8h5m-5 3h5m-5 6h5m-5 3h5m-5 8h5m-5 16h5m-5 17h5m-5 33h5m-5 52h5m-4 -179h5m-5 2h5m-5 20h5m-5 13h5m-5 21h5m-5 25h5m-5 15h5m-4 -159h5m-5 111h5m-4 -236h5m-5 194h5m-5 1h5m-5 26h5m-5 16h5m-5 5h5m-5 8h5m-5 1h5m-5 3h5m-5 11h5m-3 -87h5m-5 65h5m-5 4h5m-5 3h5m-5 4h5m-5 4h5m-5 0h5m-5 5h5m-5 0h5m-5 7h5m-5 4h5m-5 5h5m-5 2h5m-5 6h5m-5 41h5m-3 -187h5m-5 46h5m-5 76h5m-5 23h5m-5 60h5m-4 -290h5m-5 151h5m-5 10h5m-5 0h5m-5 9h5m-5 3h5m-5 1h5m-5 6h5m-5 4h5m-5 0h5m-5 12h5m-5 5h5m-5 3h5m-5 7h5m-5 11h5m-5 3h5m-5 2h5m-5 0h5m-5 1h5m-5 11h5m-5 74h5m-4 -148h5m-5 37h5m-5 23h5m-5 40h5m-4 -106h5m-5 29h5m-5 16h5m-4 -111h5m-5 29h5m-5 5h5m-5 17h5m-5 4h5m-5 9h5m-5 1h5m-5 3h5m-5 2h5m-5 2h5m-5 1h5m-5 3h5m-5 0h5m-5 5h5m-5 3h5m-5 0h5m-5 11h5m-5 10h5m-5 15h5m-5 23h5m-5 1h5m-4 -117h5m-5 14h5m-5 33h5m-5 6h5m-5 62h5m-5 25h5m-4 -232h5m-5 36h5m-5 2h5m-5 8h5m-5 16h5m-5 9h5m-5 10h5m-5 11h5m-5 5h5m-5 10h5m-5 1h5m-5 3h5m-5 1h5m-5 28h5m-5 9h5m-5 41h5m-5 3h5m-5 58h5m-5 49h5m-5 9h5m-5 82h5m-2 -359h5m-5 1h5m-5 16h5m-5 5h5m-5 11h5m-5 5h5m-5 9h5m-5 10h5m-5 26h5m-5 7h5m-5 10h5m-5 13h5m-5 33h5m-5 50h5m-4 -118h5m-5 36h5m-5 13h5m-5 60h5m-5 64h5m-3 -271h5m-5 75h5m-5 11h5m-5 14h5m-5 4h5m-5 11h5m-5 2h5m-5 28h5m-5 2h5m-5 6h5m-5 5h5m-5 3h5m-5 5h5m-5 25h5m-5 5h5m-5 5h5m-5 12h5m-5 35h5m-5 0h5m-5 5h5m-5 1h5m-5 5h5m-5 2h5m-5 2h5m-5 20h5m-4 -446h5m-5 262h5m-5 29h5m-5 26h5m-5 15h5m-5 4h5m-5 2h5m-5 10h5m-5 12h5m-5 19h5m-5 3h5m-5 36h5m-5 0h5m-5 11h5m-5 13h5m-4 -218h5m-5 10h5m-5 37h5m-5 3h5m-5 25h5m-3 -109h5m-5 23h5m-5 84h5m-5 68h5m-5 35h5m-4 -207h5m-5 8h5m-5 12h5m-5 39h5m-5 20h5m-5 5h5m-5 49h5m-5 24h5m-5 8h5m-5 31h5m-5 51h5m-5 6h5m-4 -257h5m-5 65h5m-4 -12h5m-5 17h5m-5 6h5m-5 128h5m-5 39h5m-4 -239h5m-5 18h5m-5 70h5m-5 189h5m-5 33h5m-5 12h5m-4 -307h5m-5 14h5m-5 10h5m-5 9h5m-5 16h5m-5 13h5m-5 30h5m-5 26h5m-5 17h5m-2 -159h5m-5 96h5m-5 21h5m-5 6h5m-5 2h5m-5 16h5m-5 5h5m-5 6h5m-5 18h5m-2 -28h5m-5 13h5m-5 14h5m-5 50h5m-5 82h5m-4 -297h5m-4 50h5m-4 -113h5m-5 8h5m-5 8h5m-5 4h5m-5 4h5m-5 8h5m-5 3h5m-5 25h5m-5 33h5m-5 21h5m-5 40h5m-5 0h5m-5 8h5m-5 1h5m-5 0h5m-5 14h5m-5 2h5m-5 5h5m-5 5h5m-5 4h5m-5 9h5m-5 1h5m-5 28h5m-5 105h5m-4 -345h5m-5 11h5m-5 13h5m-5 22h5m-5 7h5m-5 7h5m-5 16h5m-5 11h5m-5 1h5m-5 33h5m-5 3h5m-5 3h5m-5 1h5m-5 9h5m-5 5h5m-5 21h5m-5 9h5m-5 37h5m-5 17h5m-5 9h5m-5 17h5m-5 8h5m-5 23h5m-5 43h5m-4 -238h5m-5 2h5m-5 44h5m-5 2h5m-5 23h5m-5 5h5m-5 1h5m-5 19h5m-5 103h5m-2 -261h5m-5 20h5m-5 23h5m-5 45h5m-5 1h5m-5 2h5m-5 37h5m-5 33h5m-4 -147h5m-5 100h5m-5 2h5m-5 6h5m-5 2h5m-5 6h5m-5 1h5m-5 3h5m-5 9h5m-5 2h5m-5 4h5m-5 16h5m-5 16h5m-5 3h5m-5 2h5m-5 5h5m-5 0h5m-5 2h5m-5 5h5m-5 0h5m-5 5h5m-5 21h5m-5 14h5m-2 -247h5m-5 42h5m-5 7h5m-5 44h5m-5 2h5m-5 7h5m-5 14h5m-5 29h5m-5 15h5m-5 3h5m-5 49h5m-5 41h5m-5 4h5m-4 -220h5m-3 74h5m-5 8h5m-5 17h5m-5 25h5m-5 13h5m-5 32h5m-5 27h5m-5 15h5m-2 -175h5m-5 9h5m-5 14h5m-5 5h5m-5 0h5m-5 1h5m-4 -29h5m-5 3h5m-5 1h5m-5 58h5m-5 14h5m-5 9h5m-5 12h5m-5 37h5m-4 -273h5m-5 139h5m-5 104h5m-5 34h5m-5 62h5m-5 80h5m-3 -302h5m-5 25h5m-5 1h5m-5 24h5m-4 -223h5m-5 16h5m-5 3h5m-5 10h5m-5 0h5m-5 28h5m-5 20h5m-5 17h5m-5 2h5m-5 26h5m-5 1h5m-5 2h5m-5 13h5m-5 9h5m-5 38h5m-5 3h5m-5 10h5m-5 17h5m-5 30h5m-5 38h5m-5 9h5m-5 3h5m-5 4h5m-5 25h5m-5 15h5m-5 8h5m-5 6h5m-5 3h5m-5 6h5m-5 14h5m-5 0h5m-5 8h5m-4 -221h5m-5 38h5m-5 25h5m-5 11h5m-5 2h5m-5 29h5m-5 31h5m-5 23h5m-5 9h5m-5 66h5m-4 -109h5m-5 10h5m-5 6h5m-5 35h5m-4 -270h5m-5 51h5m-5 12h5m-5 11h5m-5 72h5m-5 27h5m-5 67h5m-5 2h5m-5 25h5m-5 2h5m-4 -265h5m-5 37h5m-5 30h5m-5 47h5m-5 16h5m-5 0h5m-5 2h5m-5 1h5m-5 1h5m-5 47h5m-5 2h5m-5 55h5m-5 15h5m-5 29h5m-5 29h5m-5 21h5m-5 19h5m-5 5h5m-5 40h5m-4 -317h5m-5 50h5m-5 36h5m-5 7h5m-5 0h5m-5 1h5m-5 1h5m-5 4h5m-5 1h5m-5 4h5m-5 5h5m-5 0h5m-5 0h5m-5 5h5m-5 21h5m-5 1h5m-5 6h5m-5 1h5m-5 10h5m-5 1h5m-5 5h5m-5 1h5m-5 1h5m-5 12h5m-5 5h5m-5 9h5m-5 5h5m-5 23h5m-5 11h5m-5 0h5m-5 0h5m-5 6h5m-5 2h5m-4 -56h5m-1 -143h5m-5 7h5m-5 4h5m-5 0h5m-5 3h5m-5 8h5m-5 16h5m-5 7h5m-5 0h5m-5 1h5m-5 4h5m-5 2h5m-5 58h5m-3 -58h5m-5 6h5m-5 6h5m-5 30h5m-5 18h5m-5 29h5m-4 -94h5m-5 107h5m-5 35h5m-3 -176h5m-1 -19h5m-5 9h5m-5 8h5m-5 8h5m-5 3h5m-5 4h5m-5 0h5m-5 8h5m-5 13h5m-5 15h5m-5 8h5m-5 0h5m-5 1h5m-5 1h5m-5 2h5m-5 12h5m-5 2h5m-5 7h5m-5 4h5m-5 23h5m-5 16h5m-5 10h5m-5 1h5m-4 -91h5m-4 41h5m-5 1h5m-5 2h5m-5 15h5m-5 25h5m-4 33h5m-3 -319h5m-5 70h5m-5 28h5m-5 117h5m-5 22h5m-4 -63h5m-5 1h5m-5 11h5m-5 3h5m-5 7h5m-5 32h5m-5 19h5m-4 -169h5m-5 64h5m-5 4h5m-5 6h5m-5 6h5m-5 20h5m-5 1h5m-5 5h5m-5 3h5m-5 4h5m-5 27h5m-5 53h5m-4 -201h5m-5 102h5m-5 29h5m-3 -5h5m-5 94h5m-3 -195h5m-5 71h5m-5 57h5m-5 42h5m-5 40h5m-5 21h5m-4 -274h5m-5 31h5m-5 37h5m-5 9h5m-5 67h5m-5 6h5m-5 9h5m-5 143h5m-5 9h5m-4 -281h5m-5 40h5m-5 32h5m-5 35h5m-5 67h5m-5 72h5m-4 -226h5m-5 43h5m-5 15h5m-5 100h5m-5 13h5m-4 -94h5m-5 19h5m-4 -20h5m-5 8h5m-5 99h5m-5 11h5m-4 -78h5m-5 26h5m-3 -118h5m-5 81h5m-5 7h5m-5 30h5m-5 11h5m-4 -96h5m-3 24h5m-5 6h5m-5 27h5m-5 7h5m-5 3h5m-5 0h5m-5 43h5m-5 27h5m-3 -214h5m-5 84h5m-5 3h5m-4 28h5m-5 126h5m-5 37h5m-3 -283h5m-5 65h5m-4 -93h5m-5 2h5m-5 14h5m-5 4h5m-5 4h5m-5 3h5m-5 2h5m-5 9h5m-5 9h5m-5 16h5m-5 13h5m-5 12h5m-5 2h5m-5 2h5m-5 22h5m-5 3h5m-5 25h5m-5 2h5m-5 5h5m-5 2h5m-5 26h5m-5 9h5m-5 7h5m-5 4h5m-5 4h5m-5 0h5m-5 41h5m-3 -373h5m-5 38h5m-5 12h5m-5 6h5m-5 8h5m-5 7h5m-5 8h5m-5 34h5m-5 17h5m-5 3h5m-5 9h5m-5 5h5m-5 10h5m-5 4h5m-5 1h5m-5 0h5m-5 7h5m-5 3h5m-5 14h5m-5 26h5m-5 27h5m-5 0h5m-5 0h5m-5 53h5m-5 1h5m-5 5h5m-5 3h5m-5 80h5m-4 -219h5m-5 2h5m-5 58h5m-5 1h5m-5 5h5m-5 4h5m-5 10h5m-5 33h5m-5 0h5m-5 5h5m-5 16h5m-3 -250h5m-5 30h5m-5 69h5m-5 77h5m-5 13h5m-2 -163h5m-5 10h5m-5 8h5m-5 97h5m-5 10h5m-5 24h5m-5 2h5m-5 18h5m-5 1h5m-5 1h5m-5 2h5m-5 3h5m-5 7h5m-5 0h5m-5 2h5m-5 2h5m-5 6h5m-5 1h5m-5 3h5m-5 7h5m-5 3h5m-5 13h5m-5 7h5m-5 3h5m-5 20h5m-5 8h5m-5 1h5m-5 12h5m-4 -184h5m-5 76h5m-5 36h5m-4 -155h5m-5 30h5m-5 58h5m-5 9h5m-5 5h5m-5 50h5m-5 1h5m-5 20h5m-5 10h5m-5 4h5m-5 51h5m-3 -4h5m-4 -159h5m-5 55h5m-5 11h5m-5 2h5m-4 -130h5m-5 106h5m-5 51h5m-4 -167h5m-5 52h5m-5 37h5m-5 4h5m-5 9h5m-3 -49h5m-5 11h5m-5 15h5m-5 2h5m-5 6h5m-5 2h5m-5 3h5m-5 9h5m-5 19h5m-5 9h5m-5 7h5m-5 1h5m-5 13h5m-5 4h5m-5 14h5m-5 5h5m-4 -49h5m-5 122h5m-3 -371h5m-5 31h5m-5 225h5m-5 0h5m-5 23h5m-5 24h5m-5 9h5m-5 31h5m-5 5h5m-4 -242h5m-5 85h5m-5 3h5m-5 16h5m-5 17h5m-5 5h5m-5 1h5m-5 6h5m-5 2h5m-5 5h5m-5 1h5m-5 6h5m-5 7h5m-5 1h5m-5 4h5m-5 8h5m-5 13h5m-5 49h5m-4 -170h5m-5 6h5m-5 13h5m-5 186h5m-3 -309h5m-5 124h5m-5 38h5m-5 10h5m-5 97h5m-4 -120h5m-5 43h5m-5 11h5m-5 21h5m-5 64h5m-1 -216h5m-5 18h5m-5 35h5m-5 10h5m-5 17h5m-5 24h5m-5 7h5m-5 2h5m-5 16h5m-5 55h5m-5 0h5m-5 17h5m-5 31h5m-4 -296h5m-5 130h5m-5 8h5m-5 1h5m-5 1h5m-5 4h5m-5 1h5m-5 0h5m-5 2h5m-5 3h5m-5 1h5m-5 1h5m-5 1h5m-5 2h5m-5 8h5m-5 1h5m-5 5h5m-5 2h5m-5 1h5m-5 1h5m-5 2h5m-5 1h5m-5 4h5m-5 5h5m-4 59h5m-4 -233h5m-5 200h5m-5 42h5m-1 -149h5m-5 43h5m-5 5h5m-5 7h5m-5 22h5m-5 103h5m0 -249h5m-5 54h5m-5 14h5m-5 10h5m-5 1h5m-5 2h5m-5 4h5m-5 6h5m-5 36h5m-5 66h5m-3 -108h5m-5 21h5m-5 54h5m-5 7h5m-5 26h5m-4 -293h5m-5 33h5m-5 37h5m-5 2h5m-5 27h5m-5 6h5m-5 0h5m-5 8h5m-5 57h5m-5 1h5m-5 38h5m-5 21h5m-5 31h5m-5 13h5m-4 -190h5m-5 90h5m-5 12h5m-5 10h5m-5 11h5m-5 2h5m-5 23h5m-5 7h5m-5 3h5m-5 17h5m-5 8h5m-5 5h5m-4 -143h5m-5 250h5m-5 22h5m-4 -275h5m-5 13h5m-5 26h5m-5 2h5m-5 37h5m-5 1h5m-5 13h5m-2 -208h5m-2 115h5m-5 52h5m-5 2h5m-5 6h5m-4 55h5m-3 -331h5m-5 216h5m-4 -56h5m-5 18h5m-5 1h5m-5 17h5m-5 2h5m-5 3h5m-5 13h5m-5 11h5m-5 2h5m-5 2h5m-5 41h5m-5 0h5m-5 12h5m-5 11h5m-5 3h5m-5 23h5m-5 2h5m-5 13h5m-5 45h5m-5 14h5m-4 -152h5m-5 59h5m-5 4h5m-5 102h5m-2 -217h5m-1 267h5m-3 -195h5m-5 96h5m-5 9h5m-4 -273h5m-5 13h5m-5 15h5m-5 18h5m-5 17h5m-5 15h5m-5 11h5m-5 16h5m-5 8h5m-5 7h5m-5 22h5m-5 2h5m-5 3h5m-5 6h5m-5 11h5m-5 29h5m-5 5h5m-5 0h5m-5 4h5m-5 5h5m-5 9h5m-5 5h5m-5 1h5m-5 18h5m-5 9h5m-5 12h5m-5 0h5m-5 1h5m-5 14h5m-5 13h5m-5 16h5m-5 24h5m-5 34h5m-5 2h5m-5 76h5m-4 -379h5m-5 57h5m-5 85h5m-5 14h5m-5 5h5m-5 79h5m-5 17h5m-4 -413h5m-1 143h5m-5 22h5m-5 30h5m-5 2h5m-5 27h5m-5 1h5m-5 13h5m-5 15h5m-5 13h5m-5 0h5m-5 5h5m-5 4h5m-5 7h5m-5 4h5m-5 2h5m-5 4h5m-5 28h5m-5 3h5m-5 10h5m-5 8h5m-5 13h5m-5 2h5m-5 4h5m-5 7h5m-5 22h5m-5 3h5m-5 2h5m-5 7h5m-5 15h5m-5 12h5m-5 2h5m-5 4h5m-5 3h5m-5 3h5m-5 10h5m-5 1h5m-5 7h5m-4 -208h5m-5 8h5m-4 -81h5m-4 67h5m-5 20h5m-5 6h5m-5 11h5m-5 7h5m-5 30h5m-5 11h5m-5 16h5m-5 27h5m-5 23h5m-5 13h5m-5 14h5m-4 -274h5m-5 26h5m-5 46h5m-5 9h5m-5 75h5m-5 1h5m-5 56h5m-3 -233h5m-5 16h5m-5 9h5m-5 13h5m-5 37h5m-5 14h5m-5 7h5m-5 7h5m-5 21h5m-5 2h5m-5 15h5m-5 1h5m-5 53h5m-4 -104h5m-5 70h5m-5 15h5m-4 -42h5m-5 23h5m-5 13h5m-5 26h5m-5 55h5m-1 -239h5m-5 121h5m-5 57h5m-5 2h5m-5 31h5m-4 -184h5m-5 82h5m-5 89h5m-5 88h5m-5 5h5m-5 11h5m-5 5h5m-4 -313h5m-5 20h5m-5 7h5m-5 14h5m-5 3h5m-5 10h5m-5 14h5m-5 25h5m-5 3h5m-5 42h5m-5 48h5m-5 4h5m-5 27h5m-5 1h5m-5 2h5m-2 -241h5m-5 79h5m-5 24h5m-5 0h5m-5 4h5m-5 8h5m-5 0h5m-5 2h5m-5 2h5m-5 3h5m-5 17h5m-5 23h5m-5 9h5m-5 6h5m-5 9h5m-5 5h5m-5 20h5m-5 59h5m-5 6h5m-5 7h5m-5 8h5m-5 7h5m-5 9h5m-5 0h5m-5 7h5m-5 3h5m-1 -205h5m-5 6h5m-5 9h5m-5 12h5m-5 5h5m-5 3h5m-5 18h5m-5 2h5m-5 22h5m-5 47h5m-5 28h5m-5 40h5m-4 -195h5m-5 76h5m-5 10h5m-4 -157h5m-5 230h5m-4 -235h5m-5 7h5m-5 26h5m-5 23h5m-5 6h5m-5 11h5m-5 15h5m-5 11h5m-5 9h5m-5 11h5m-5 6h5m-5 23h5m-5 26h5m-5 14h5m-5 1h5m-5 3h5m-5 27h5m-5 15h5m-3 -258h5m-5 30h5m-5 1h5m-5 14h5m-5 14h5m-5 42h5m-5 24h5m-5 48h5m-5 1h5m-5 73h5m-5 9h5m-5 65h5m-4 -184h5m-5 0h5m-5 1h5m-5 17h5m-5 11h5m-5 3h5m-5 63h5m-4 -186h5m-5 102h5m-5 31h5m-2 -35h5m-4 -25h5m-4 -45h5m-5 142h5m-4 -183h5m-5 14h5m-5 29h5m-5 17h5m-5 12h5m-5 2h5m-5 39h5m-5 7h5m-5 13h5m-5 11h5m-5 48h5m-5 9h5m-5 12h5m-3 -145h5m-5 28h5m-5 29h5m-5 33h5m-5 35h5m0 -135h5m-5 21h5m-5 6h5m-5 49h5m-5 10h5m-5 8h5m-5 10h5m-4 -149h5m-5 230h5m-4 -208h5m-5 23h5m-5 42h5m-5 6h5m-5 9h5m-5 1h5m-3 -128h5m-5 49h5m-5 128h5m-4 -83h5m-5 28h5m-5 11h5m-5 9h5m-5 5h5m-5 2h5m-5 1h5m-5 12h5m-5 5h5m-5 16h5m-5 0h5m-4 -134h5m-5 15h5m-5 17h5m-5 14h5m-5 11h5m-5 26h5m-2 -54h5m-5 20h5m-5 15h5m-5 26h5m-5 33h5m-5 32h5m-2 -78h5m-5 21h5m-5 19h5m-5 44h5m-4 -47h5m-5 49h5m-4 -235h5m-5 58h5m-5 27h5m-5 6h5m-5 47h5m-5 9h5m-5 24h5m-5 6h5m-5 7h5m-5 3h5m-5 11h5m-5 10h5m-4 -203h5m-5 73h5m-5 74h5m-5 95h5m-3 -276h5m-5 24h5m-5 28h5m-5 3h5m-5 3h5m-5 3h5m-5 3h5m-5 1h5m-5 8h5m-5 5h5m-5 5h5m-5 8h5m-5 1h5m-5 3h5m-5 4h5m-5 0h5m-5 3h5m-5 25h5m-5 2h5m-5 7h5m-5 7h5m-5 3h5m-5 3h5m-5 9h5m-5 2h5m-5 0h5m-5 1h5m-5 0h5m-5 3h5m-5 14h5m-5 3h5m-5 2h5m-5 0h5m-5 2h5m-5 0h5m-5 8h5m-5 11h5m-5 12h5m-5 4h5m-5 7h5m-5 5h5m-5 25h5m-1 -6h5m-4 -251h5m-5 19h5m-5 27h5m-5 6h5m-5 18h5m-5 32h5m-5 6h5m-5 31h5m-5 16h5m-5 2h5m-5 27h5m-4 -107h5m-5 8h5m-5 41h5m-5 2h5m-5 14h5m-5 2h5m-5 24h5m-5 31h5m-5 30h5m-4 -76h5m-5 16h5m-5 12h5m-3 -76h5m-5 10h5m-5 1h5m-5 0h5m-5 8h5m-5 12h5m-5 11h5m-5 6h5m-5 2h5m-5 4h5m-5 0h5m-5 2h5m-5 2h5m-5 1h5m-5 10h5m-5 8h5m-5 8h5m-5 9h5m-5 8h5m-4 -141h5m-5 206h5m-3 -226h5m-3 259h5m-4 -258h5m-5 3h5m-5 47h5m-5 51h5m-5 0h5m-5 27h5m-5 87h5m-3 -179h5m-5 15h5m-5 36h5m-5 7h5m-5 116h5m-4 -167h5m-5 8h5m-5 14h5m-5 24h5m-5 11h5m-5 9h5m-5 60h5m-2 -179h5m-5 18h5m-5 4h5m-5 29h5m-5 3h5m-5 5h5m-4 97h5m-5 7h5m-3 -80h5m-4 -27h5m-5 19h5m-5 1h5m-5 11h5m-5 1h5m-5 3h5m-5 4h5m-5 0h5m-5 19h5m-5 35h5m-5 15h5m-5 9h5m-5 25h5m-4 -114h5m-3 -136h5m-5 4h5m-5 34h5m-5 41h5m-5 39h5m-5 13h5m-5 61h5m-5 35h5m-5 17h5m-4 -124h5m-5 11h5m-5 5h5m-5 69h5m-4 -58h5m-1 31h5m-5 21h5m-4 -69h5m-5 47h5m-5 49h5m-5 2h5m-5 3h5m-4 -170h5m-5 69h5m-5 2h5m-4 -42h5m-5 13h5m-5 1h5m-5 5h5m-5 7h5m-5 9h5m-5 76h5m-5 18h5m-4 8h5m-5 2h5m-5 2h5m-5 27h5m-5 10h5m-5 0h5m-5 9h5m-3 -249h5m-5 82h5m-5 38h5m-5 8h5m-5 2h5m-5 11h5m-5 14h5m-5 0h5m-5 4h5m-5 14h5m-5 4h5m-5 19h5m-5 24h5m-4 -151h5m-5 7h5m-5 0h5m-5 7h5m-5 23h5m-5 22h5m-5 101h5m-5 8h5m-5 9h5m-4 -219h5m-5 54h5m-5 13h5m-4 -6h5m-5 36h5m-5 2h5m-1 -151h5m-5 86h5m-5 16h5m-5 21h5m-5 25h5m-5 1h5m-5 45h5m-5 22h5m-5 14h5m-4 -318h5m-4 215h5m-5 59h5m-5 14h5m-5 49h5m-5 23h5m-3 -271h5m-5 15h5m-5 160h5m-5 35h5m-5 23h5m-3 -188h5m-5 36h5m-5 9h5m-5 19h5m-5 14h5m-5 6h5m-5 0h5m-5 23h5m-5 5h5m-5 44h5m-5 2h5m-5 11h5m-5 9h5m-4 -179h5m-5 19h5m-5 5h5m-5 3h5m-5 13h5m-5 51h5m-5 30h5m-4 -138h5m-3 80h5m-5 18h5m-2 -91h5m-5 198h5m-4 -224h5m-5 76h5m-5 14h5m-5 0h5m-5 32h5m-5 65h5m-2 -112h5m-5 63h5m-3 -117h5m-5 276h5m0 -60h5m-4 -382h5m-5 302h5m-5 18h5m-5 19h5m-4 -190h5m-4 -24h5m-5 33h5m-5 93h5m-5 26h5m-5 10h5m-5 34h5m-5 12h5m-5 3h5m-5 27h5m-5 17h5m-3 -282h5m-5 128h5m-5 2h5m-5 9h5m-5 8h5m-5 10h5m-5 4h5m-5 7h5m-5 41h5m-5 0h5m-5 20h5m-5 8h5m-5 4h5m-5 5h5m-5 19h5m-5 3h5m-5 14h5m-5 9h5m-3 -281h5m-5 93h5m-5 11h5m-5 29h5m-5 6h5m-5 8h5m-5 81h5m-3 -149h5m-5 45h5m-5 47h5m-5 28h5m-5 2h5m-5 67h5m-1 -110h5m-3 -146h5m-5 7h5m-5 5h5m-5 18h5m-5 6h5m-5 19h5m-5 6h5m-5 10h5m-5 5h5m-5 0h5m-5 11h5m-5 84h5m-3 -48h5m-5 57h5m-5 53h5m-5 1h5m-5 10h5m-4 -117h5m-2 -102h5m-5 109h5m-5 45h5m-5 27h5m-5 15h5m-4 -224h5m-5 40h5m-5 24h5m-5 2h5m-5 3h5m-5 27h5m-4 -12h5m-5 95h5m-4 -199h5m-5 120h5m-3 -144h5m-5 174h5m-4 -79h5m-5 23h5m-1 -68h5m-5 108h5m-5 39h5m-5 3h5m-5 0h5m-5 1h5m-5 0h5m-5 26h5m-5 26h5m-5 2h5m-3 -95h5m-5 54h5m-5 35h5m-2 -253h5m-5 7h5m-5 58h5m-5 1h5m-5 17h5m-5 3h5m-5 4h5m-5 7h5m-5 17h5m-5 3h5m-5 10h5m-5 9h5m-5 5h5m-5 36h5m-5 1h5m-5 16h5m-5 2h5m-5 0h5m-5 30h5m-5 1h5m-5 35h5m-5 1h5m-4 -223h5m-5 0h5m-5 26h5m-5 158h5m0 -173h5m-5 19h5m-5 1h5m-5 10h5m-5 2h5m-5 30h5m-5 21h5m-5 15h5m-4 -37h5m-5 44h5m-4 -167h5m-5 16h5m-5 2h5m-5 82h5m-5 47h5m-5 66h5m-5 20h5m-5 6h5m-5 18h5m-5 13h5m-5 2h5m-5 9h5m-5 5h5m-5 0h5m-5 5h5m-2 -208h5m-5 52h5m-1 -33h5m-1 -107h5m-5 73h5m-5 14h5m-5 5h5m-5 3h5m-5 16h5m-5 10h5m-5 8h5m-5 1h5m-5 5h5m-5 3h5m-5 0h5m-5 21h5m-5 4h5m-5 3h5m-5 1h5m-5 8h5m-5 2h5m-5 2h5m-5 9h5m-5 0h5m-5 1h5m-5 10h5m-5 1h5m-5 0h5m-5 21h5m-5 1h5m-5 1h5m-5 2h5m-5 7h5m-4 -84h5m-5 8h5m-5 85h5m-5 12h5m-5 12h5m-5 10h5m-5 4h5m-5 12h5m-5 1h5m-5 11h5m-5 0h5m-1 -257h5m-5 5h5m-5 6h5m-5 21h5m-5 23h5m-5 6h5m-5 133h5m-3 -140h5m-5 33h5m-5 14h5m-5 2h5m-5 1h5m-5 17h5m0 -13h5m-5 85h5m-5 9h5m-1 -74h5m-1 -150h5m-5 48h5m-5 16h5m-5 145h5m-4 -159h5m-5 10h5m0 -33h5m-5 13h5m-5 54h5m-3 4h5m-4 -94h5m-5 107h5m0 12h5m-4 -16h5m-5 43h5m-1 -123h5m-5 11h5m-5 2h5m-5 10h5m-5 4h5m-5 6h5m-5 0h5m-5 7h5m-5 8h5m-5 2h5m-5 7h5m-5 5h5m-4 -162h5m2 75h5m-5 28h5m-5 20h5m-5 21h5m-5 16h5m-5 0h5m-5 9h5m-5 3h5m2 -49h5m-5 51h5m-5 98h5m-4 -74h5m-2 -104h5m-5 8h5m-5 32h5m-5 3h5m-5 0h5m-5 12h5m-5 5h5m-5 11h5m-5 19h5m-5 1h5m-3 -80h5m-5 29h5m-5 6h5m-5 0h5m-5 29h5m-5 2h5m-5 15h5m-5 13h5m-5 1h5m-4 -100h5m-5 24h5m-5 1h5m-5 7h5m-5 2h5m-5 11h5m-5 5h5m-4 -119h5m-5 12h5m-5 44h5m-5 4h5m-5 14h5m-5 10h5m-5 3h5m-5 0h5m-5 1h5m-5 2h5m-5 3h5m-5 1h5m-5 32h5m-5 54h5m-4 -166h5m-5 12h5m-5 22h5m-5 35h5m-5 38h5m-5 28h5m-5 23h5m-5 12h5m-5 19h5m-5 20h5m-3 -264h5m-2 95h5m-5 8h5m-5 4h5m-5 27h5m-5 39h5m-5 2h5m-4 -71h5m-5 10h5m-5 9h5m-3 -5h5m-5 21h5m-2 2h5m-5 2h5m-5 6h5m-5 23h5m-5 0h5m-5 11h5m-5 3h5m-5 7h5m-5 2h5m-5 1h5m-4 -116h5m-5 94h5m-3 -160h5m-5 108h5m-5 1h5m-5 6h5m-5 4h5m-5 2h5m-5 1h5m-5 8h5m-3 18h5m5 -29h5m-5 65h5m-5 0h5m-5 8h5m-5 0h5m-5 31h5m0 -209h5m-5 46h5m-5 13h5m-5 3h5m-5 10h5m-5 47h5m-5 4h5m-4 -109h5m-5 4h5m-5 3h5m-5 37h5m-5 11h5m-5 1h5m-5 11h5m-5 7h5m-5 4h5m-5 13h5m-4 -173h5m-5 26h5m-5 22h5m-5 57h5m-5 3h5m-5 55h5m-3 -93h5m-5 90h5m-5 24h5m-5 33h5m-3 -227h5m-5 33h5m-5 155h5m-5 4h5m1 -100h5m-5 11h5m-5 28h5m-5 48h5m0 -154h5m-5 40h5m-5 1h5m-5 5h5m-5 23h5m-5 8h5m-5 3h5m-5 1h5m-5 4h5m-5 4h5m-5 1h5m-5 3h5m-5 91h5m-3 -80h5m-5 0h5m-5 1h5m-5 8h5m-5 2h5m-5 6h5m-5 3h5m-5 2h5m-5 0h5m-5 2h5m-5 1h5m-5 0h5m-5 1h5m-5 3h5m-5 3h5m-5 1h5m-5 1h5m-5 0h5m-5 1h5m-5 8h5m-5 7h5m-5 11h5m-5 21h5m-3 -142h5m-5 25h5m-5 29h5m-5 18h5m-5 16h5m-5 1h5m-5 1h5m-5 2h5m-5 14h5m-5 15h5m-5 8h5m-5 28h5m-1 -112h5m-2 -40h5m-5 30h5m-5 3h5m-5 11h5m-5 14h5m-5 7h5m-5 29h5m-2 -163h5m-5 13h5m-5 36h5m-5 23h5m-5 5h5m-5 3h5m-5 2h5m-5 6h5m-5 13h5m-5 1h5m-5 2h5m-5 1h5m-5 2h5m-5 1h5m-5 30h5m-5 32h5m-3 -123h5m-5 3h5m-5 1h5m-5 12h5m-5 19h5m-5 11h5m-4 -59h5m-5 29h5m-5 81h5m-2 -195h5m-5 72h5m-5 60h5m-5 53h5m-5 39h5m-5 118h5m-5 5h5m-3 -300h5m-5 2h5m-5 28h5m-5 2h5m-5 3h5m-5 8h5m-5 0h5m-5 113h5m-5 14h5m-1 -115h5m-5 40h5m3 -92h5m-5 17h5m-5 7h5m-5 1h5m-5 0h5m-5 11h5m-5 2h5m-5 6h5m-5 16h5m-5 4h5m-5 7h5m-5 2h5m-5 6h5m-5 3h5m-5 1h5m-2 -135h5m-5 3h5m-5 35h5m-5 28h5m-5 75h5m3 -31h5m-5 1h5m-5 10h5m-5 0h5m-5 11h5m-5 45h5m-5 2h5m-3 -188h5m-5 46h5m-5 8h5m-5 6h5m-5 37h5m-5 29h5m11 -148h5m-5 17h5m-5 130h5m-5 118h5m1 -252h5m-5 26h5m-5 55h5m7 -99h5m-5 0h5m-5 4h5m-5 3h5m-5 49h5m-5 53h5m-5 13h5m-5 6h5m-5 9h5m-5 16h5m-5 23h5m-5 17h5m-3 -218h5m-5 54h5m-5 78h5m0 -42h5m-5 94h5m-2 -161h5m-5 150h5m-5 24h5m-5 9h5m-5 44h5m-5 2h5m-5 8h5m2 -55h5m14 -179h5m-5 25h5m-5 1h5m-5 3h5m-5 12h5m-5 6h5m-5 30h5m-5 81h5m-5 18h5m-4 -212h5m-5 81h5m-5 7h5m-5 8h5m-5 9h5m-5 25h5m-5 54h5m11 -109h5m-5 26h5m-5 71h5m-5 20h5m-5 6h5m-5 40h5m-5 10h5m1 -244h5m-5 31h5m-5 17h5m1 -5h5m-5 5h5m-5 58h5m-5 15h5m-4 -220h5m-5 2h5m-3 179h5m-5 49h5m-5 16h5m-5 39h5m0 8h5m1 -154h5m2 -41h5m-5 74h5m-5 24h5m10 -121h5m-5 8h5m-5 16h5m-5 7h5m-5 9h5m-5 65h5m-5 5h5m-5 1h5m-5 8h5m-5 1h5m-5 19h5m0 -58h5m0 -33h5m-5 2h5m-5 8h5m-5 37h5m-5 11h5m-5 12h5m-5 35h5m-5 1h5m-5 10h5m0 -136h5m-5 87h5m-5 18h5m0 -147h5m-5 28h5m-5 6h5m-5 59h5m-5 28h5m-5 40h5m-5 33h5m-5 14h5m-5 3h5m2 -317h5m-5 10h5m-5 16h5m-5 3h5m-5 13h5m-5 17h5m-5 26h5m-5 1h5m-5 20h5m-5 16h5m-5 27h5m-5 12h5m-5 6h5m-5 2h5m-5 15h5m-5 25h5m-5 11h5m-5 16h5m-5 39h5m-5 64h5m-5 21h5m-2 -135h5m6 -122h5m-5 50h5m-5 48h5m18 -48h5m2 -48h5m-5 57h5m-5 139h5m-1 -316h5m-5 32h5m-5 27h5m-5 61h5m6 307h5m5 -279h5m-4 -96h5m-5 297h5m17 -279h5m-5 44h5m-5 76h5m-5 16h5m39 -56h5m7 -89h5m-5 71h5m3 -172h5m25 169h5m-5 81h5m5 -169h5m9 -106h5m-5 102h5m15 65h5m-5 3h5"/></g><path d="M230.6 1551.8L1635.4 141.8" stroke="#f00" stroke-width="5.6" stroke-dasharray="18.91 18.91" fill="none"/><path d="M318.4 1253V1483.8M406.2 1243V1417M494 1215V1358.8M581.8 1157V1282.5M669.6 1086.6V1211.4M757.4 991.5V1124.5M845.2 922.6V1064.1M933 841V1014M1020.8 759V938.4M1108.6 670V827.5M1196.4 565.8V682.7M1284.2 493V631.3M1372 424V617.6M1459.8 287.7V461.4M1547.6 212.2V413.1" stroke="#f00" stroke-width="10.2" fill="none"/><path d="M308.8 1253h19.2M308.8 1483.8h19.2M396.6 1243h19.2M396.6 1417h19.2M484.4 1215h19.2M484.4 1358.8h19.2M572.2 1157h19.2M572.2 1282.5h19.2M660 1086.6h19.2M660 1211.4h19.2M747.8 991.5h19.2M747.8 1124.5h19.2M835.6 922.6h19.2M835.6 1064.1h19.2M923.4 841h19.2M923.4 1014h19.2M1011.2 759h19.2M1011.2 938.4h19.2M1099 670h19.2M1099 827.5h19.2M1186.8 565.8h19.2M1186.8 682.7h19.2M1274.6 493h19.2M1274.6 631.3h19.2M1362.4 424h19.2M1362.4 617.6h19.2M1450.2 287.7h19.2M1450.2 461.4h19.2M1538 212.2h19.2M1538 413.1h19.2M1625.8 186.6h19.2M1625.8 364h19.2" stroke="#f00" stroke-width="3.2" fill="none"/><path d="M318.4 1368.4L406.2 1330L494 1286.9L581.8 1219.8L669.6 1149L757.4 1058L845.2 993.3L933 927.5L1020.8 848.7L1108.6 748.8L1196.4 624.2L1284.2 562.1L1372 520.8L1459.8 374.5L1547.6 312.6L1635.4 275.3" stroke="#f00" stroke-width="9.6" fill="none" stroke-linejoin="round"/><g stroke="#f00" stroke-width="10" fill="none"><circle cx="318.4" cy="1368.4" r="12.3"/><circle cx="406.2" cy="1330" r="12.3"/><circle cx="494" cy="1286.9" r="12.3"/><circle cx="581.8" cy="1219.8" r="12.3"/><circle cx="669.6" cy="1149" r="12.3"/><circle cx="757.4" cy="1058" r="12.3"/><circle cx="845.2" cy="993.3" r="12.3"/><circle cx="933" cy="927.5" r="12.3"/><circle cx="1020.8" cy="848.7" r="12.3"/><circle cx="1108.6" cy="748.8" r="12.3"/><circle cx="1196.4" cy="624.2" r="12.3"/><circle cx="1284.2" cy="562.1" r="12.3"/><circle cx="1372" cy="520.8" r="12.3"/><circle cx="1459.8" cy="374.5" r="12.3"/><circle cx="1547.6" cy="312.6" r="12.3"/><circle cx="1635.4" cy="275.3" r="12.3"/></g></g><rect x="230.6" y="141.8" width="1404.8" height="1410" fill="none" stroke="#000" stroke-width="5.0"/><path d="M265.7 1551.8v-16.5M265.7 141.8v16.5M230.6 1516.5h16.5M1635.4 1516.5h-16.5M300.8 1551.8v-16.5M300.8 141.8v16.5M230.6 1481.3h16.5M1635.4 1481.3h-16.5M336 1551.8v-16.5M336 141.8v16.5M230.6 1446h16.5M1635.4 1446h-16.5M371.1 1551.8v-16.5M371.1 141.8v16.5M230.6 1410.8h16.5M1635.4 1410.8h-16.5M406.2 1551.8v-32.5M406.2 141.8v32.5M230.6 1375.5h32.5M1635.4 1375.5h-32.5M441.3 1551.8v-16.5M441.3 141.8v16.5M230.6 1340.3h16.5M1635.4 1340.3h-16.5M476.4 1551.8v-16.5M476.4 141.8v16.5M230.6 1305h16.5M1635.4 1305h-16.5M511.6 1551.8v-16.5M511.6 141.8v16.5M230.6 1269.8h16.5M1635.4 1269.8h-16.5M546.7 1551.8v-16.5M546.7 141.8v16.5M230.6 1234.5h16.5M1635.4 1234.5h-16.5M581.8 1551.8v-32.5M581.8 141.8v32.5M230.6 1199.3h32.5M1635.4 1199.3h-32.5M616.9 1551.8v-16.5M616.9 141.8v16.5M230.6 1164h16.5M1635.4 1164h-16.5M652 1551.8v-16.5M652 141.8v16.5M230.6 1128.8h16.5M1635.4 1128.8h-16.5M687.2 1551.8v-16.5M687.2 141.8v16.5M230.6 1093.5h16.5M1635.4 1093.5h-16.5M722.3 1551.8v-16.5M722.3 141.8v16.5M230.6 1058.3h16.5M1635.4 1058.3h-16.5M757.4 1551.8v-32.5M757.4 141.8v32.5M230.6 1023h32.5M1635.4 1023h-32.5M792.5 1551.8v-16.5M792.5 141.8v16.5M230.6 987.8h16.5M1635.4 987.8h-16.5M827.6 1551.8v-16.5M827.6 141.8v16.5M230.6 952.5h16.5M1635.4 952.5h-16.5M862.8 1551.8v-16.5M862.8 141.8v16.5M230.6 917.3h16.5M1635.4 917.3h-16.5M897.9 1551.8v-16.5M897.9 141.8v16.5M230.6 882h16.5M1635.4 882h-16.5M933 1551.8v-32.5M933 141.8v32.5M230.6 846.8h32.5M1635.4 846.8h-32.5M968.1 1551.8v-16.5M968.1 141.8v16.5M230.6 811.5h16.5M1635.4 811.5h-16.5M1003.2 1551.8v-16.5M1003.2 141.8v16.5M230.6 776.3h16.5M1635.4 776.3h-16.5M1038.4 1551.8v-16.5M1038.4 141.8v16.5M230.6 741h16.5M1635.4 741h-16.5M1073.5 1551.8v-16.5M1073.5 141.8v16.5M230.6 705.8h16.5M1635.4 705.8h-16.5M1108.6 1551.8v-32.5M1108.6 141.8v32.5M230.6 670.5h32.5M1635.4 670.5h-32.5M1143.7 1551.8v-16.5M1143.7 141.8v16.5M230.6 635.3h16.5M1635.4 635.3h-16.5M1178.8 1551.8v-16.5M1178.8 141.8v16.5M230.6 600h16.5M1635.4 600h-16.5M1214 1551.8v-16.5M1214 141.8v16.5M230.6 564.8h16.5M1635.4 564.8h-16.5M1249.1 1551.8v-16.5M1249.1 141.8v16.5M230.6 529.5h16.5M1635.4 529.5h-16.5M1284.2 1551.8v-32.5M1284.2 141.8v32.5M230.6 494.3h32.5M1635.4 494.3h-32.5M1319.3 1551.8v-16.5M1319.3 141.8v16.5M230.6 459h16.5M1635.4 459h-16.5M1354.4 1551.8v-16.5M1354.4 141.8v16.5M230.6 423.8h16.5M1635.4 423.8h-16.5M1389.6 1551.8v-16.5M1389.6 141.8v16.5M230.6 388.5h16.5M1635.4 388.5h-16.5M1424.7 1551.8v-16.5M1424.7 141.8v16.5M230.6 353.3h16.5M1635.4 353.3h-16.5M1459.8 1551.8v-32.5M1459.8 141.8v32.5M230.6 318h32.5M1635.4 318h-32.5M1494.9 1551.8v-16.5M1494.9 141.8v16.5M230.6 282.8h16.5M1635.4 282.8h-16.5M1530 1551.8v-16.5M1530 141.8v16.5M230.6 247.5h16.5M1635.4 247.5h-16.5M1565.2 1551.8v-16.5M1565.2 141.8v16.5M230.6 212.3h16.5M1635.4 212.3h-16.5M1600.3 1551.8v-16.5M1600.3 141.8v16.5M230.6 177h16.5M1635.4 177h-16.5" stroke="#000" stroke-width="5.0" fill="none"/><g font-family="DejaVu Sans, Liberation Sans, sans-serif" font-size="63" fill="#000" stroke="#fff" stroke-width="0.5"><text y="125.8"><tspan x="442.6">SWH Comparison / InIRA</tspan><tspan x="1213.6" y="129.2" font-size="60.4" stroke-width="1.1">−</tspan><tspan x="1263.8" y="125.8">WW3</tspan></text><text x="933.5" y="1690.8" text-anchor="middle">WW3 SWH (m)</text><text transform="translate(148.8 847) rotate(-90)" text-anchor="middle" font-size="63.8">InIRA SWH (m)</text><text x="230.6" y="1612.3" text-anchor="middle">0</text><text x="217" y="1568.6" text-anchor="end">0</text><text x="406.2" y="1612.3" text-anchor="middle">1</text><text x="217" y="1392.3" text-anchor="end">1</text><text x="581.8" y="1612.3" text-anchor="middle">2</text><text x="217" y="1216.1" text-anchor="end">2</text><text x="757.4" y="1612.3" text-anchor="middle">3</text><text x="217" y="1039.8" text-anchor="end">3</text><text x="933" y="1612.3" text-anchor="middle">4</text><text x="217" y="863.6" text-anchor="end">4</text><text x="1108.6" y="1612.3" text-anchor="middle">5</text><text x="217" y="687.3" text-anchor="end">5</text><text x="1284.2" y="1612.3" text-anchor="middle">6</text><text x="217" y="511.1" text-anchor="end">6</text><text x="1459.8" y="1612.3" text-anchor="middle">7</text><text x="217" y="334.8" text-anchor="end">7</text><text x="1635.4" y="1612.3" text-anchor="middle">8</text><text x="217" y="158.6" text-anchor="end">8</text><text x="300" y="264.4">N=30801</text><text x="300" y="335">BIAS=-0.01 m</text><text x="300" y="405.8">RMSE=0.43 m</text></g></g></svg></body></html>
